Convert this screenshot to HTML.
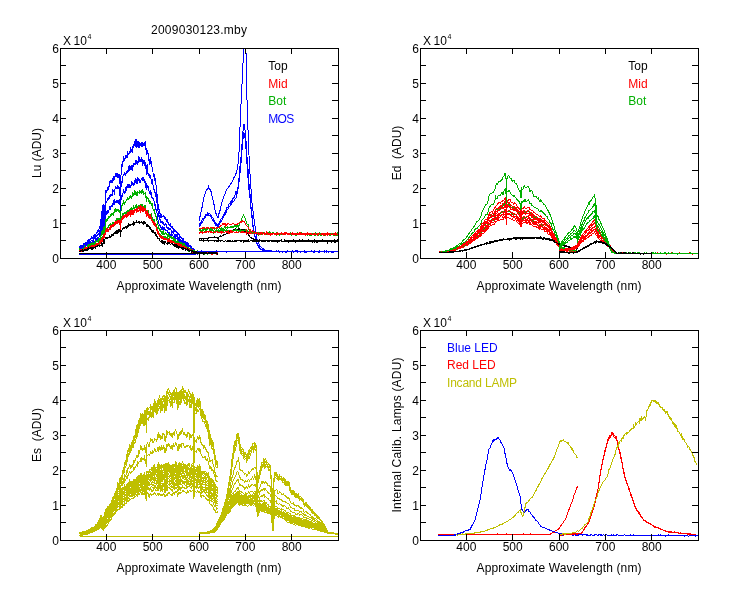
<!DOCTYPE html>
<html><head><meta charset="utf-8"><title>2009030123.mby</title>
<style>html,body{margin:0;padding:0;background:#fff;overflow:hidden}svg{display:block}</style></head>
<body><svg width="750" height="600" viewBox="0 0 750 600" font-family="'Liberation Sans', Arial, sans-serif" font-size="12">
<rect width="750" height="600" fill="#fff"/>
<defs><clipPath id="cTL"><rect x="60" y="48" width="279" height="211"/></clipPath><clipPath id="cTR"><rect x="420" y="48" width="279" height="211"/></clipPath><clipPath id="cBL"><rect x="60" y="330" width="279" height="211"/></clipPath><clipPath id="cBR"><rect x="420" y="330" width="279" height="211"/></clipPath></defs>
<g fill="none" stroke-linejoin="miter" shape-rendering="crispEdges">
<path clip-path="url(#cTL)" d="M79 247.8l .3-1 .4 .4 .3-1.1 .4-.1 .3 0 .4 1.2 .3-1.3 .4-.5 .3-.2 .4 .7 .3-.7 .4 .1 .3-.4 .4-1.3 .3 .9 .4-.7 .3-.8 .4 .6 .3-.5 .3-.4 .4-.2 .3 .6 .4-1 .3-1.1 .4 1.6 .1-1.6 .2 .3 .3 .3 .1-1.8 .3 .5 .4 1 .3-1.1 .4-.7 .3 .3 .4-.9 .3 .2 .4-.8 .3-.8 .4 1.2 .3-1 .2 .3 .1-.5 .4 .6 .3-.8 .4-.6 .3-1.2 .4-.5 .3 1.5 .4-.8 .2-1.3 .1 1.9 .4-1.7 .3-.8 .4-1.7 .3 0 .4 .3 .3-.5 .4-.6 .3-2.1 .4 1.2 .3-.9 .4-1.4 .3-.4 .3-.7 .4 .1 .3-1.8 .3-.1 .1-3.9 .3-6.6 .3-3.9 .1 3.1 .3 12.9 .4-12 .3-9.3 .4 9 .3 11.5 .4-13 .3-8.7 .4 6.4 .3 3.9 .2-6.2 .2-4.9 .3-13.7 .4 4.1 .3-1 .2-1.7 .1-.7 .4 .4 .3-.6 .4-2.1 .3-.4 .4 1.9 .3-2.5 .4-1.2 .3 .9 .4-3.2 .3 .9 .1-3.4 .3 .7 .3-.8 .4 .2 .3-1.1 .4 3 .3-1.8 .4-2.9 .3 4.1 .4-5.6 .3 4.3 .3-4.8 .4 2.6 .1-3 .2 1 .4 2.7 .3-5.4 .4-.6 .3 2.4 .4 .1 .3-.5 .4 1.1 .1-3.9 .2 3.2 .4-.7 .3 1.6 .4-.1 .3 1.4 .4-4.4 .3 2.8 .4-1.8 .1 1.8 .2 7.2 .3 8.5 .2 3.3 .2-9 .3-11.5 .2-4.2 .2 1 .3-2.8 .4-6.6 .3 3 .4-.9 .3-4.5 .4-4 .3 5.7 .4-3.1 .3 .5 .4 2 .3-5.8 .4 1.3 .3-.6 .4 1.3 .3-3 .1 2 .3-1.1 .2 1.9 .1 .1 .3-6 .4 3.7 .3-2.1 .4 .3 .3 .5 .4-.2 .3-2.9 .3 1.8 .1-.4 .3-.8 .4-3 .3 .7 .4 .3 .3 1.7 .4 1.5 .3-5.7 .2-.3 .2 2.3 .3-2.2 .4-1.3 .3-.7 .3-.9 .4 2.6 .3-5.4 .2 6.4 .2-5.5 0 .8 .3-1 .4-2.5 .3 .8 .4 6.3 .3 1.2 .4-6.2 .3 4.3 .4-2.5 .3-2.2 .4 6 .3 1 .4-5.9 .2 .5 .1 .7 .2-.8 .2 2.2 .3 1.7 .4-3.2 .3 2 .3 1.7 .4-5.2 .3 1.5 .4-1.1 .3 3.4 .4-.7 .3 .9 .3-.3 .1-2.4 .3 2.9 .4-2.2 .3 .5 .4-3.4 .3 8.6 .4-.3 .2 5.9 .1-1.2 .4-.6 0-2.5 .1-2.4 .2 2.8 .4 1.1 .3 2.3 .2-2.2 .1 2.9 .4 5.6 .3-2.5 .4 3.6 .3 3.5 .4-5 .3-3.1 .2 3 .2 3.1 .2 .1 .1-3.8 .4 3.8 .3 1.9 .4 1.9 0 .1 .3 .1 .4 2.4 .3 2.5 .1 3 .3-2.1 .3 3.4 .4-2.1 .3 5.5 .4-.8 .2 .6 .1 2.7 .3-4.1 .4 2.8 .3 5.6 .4 .4 .3 3 .4 8.2 .1-3.1 .2 2.9 .4 3.5 .3 5.2 .4 .6 .3 1.6 .4 .1 .3 2.7 .4 2.1 .1-1.1 .2 2.6 .4 .2 .3 2 .4-3.4 .3 1.1 .2 .3 .1 .3 .4 .6 .3-.1 .4 .5 .2-.1 .1-.2 .4-1.2 .3 1.3 .4 1 .3 .9 .4 .4 .3-2.1 .1 1.3 .3 .8 .3 .9 .4 1.3 .3-.5 .4-.4 .3 1.8 .4 .3 .3 .5 .4 .2 .2 2 .1-1.1 .3 1 .4-1.3 .1 1.7 .2-1 .4-.5 .3 2.1 .4 .7 .3-.3 .4 .6 .3 1.3 .4-1 .3-.9 .4 2.4 .3 .3 .4 1.2 .3-.8 .4 1.7 .3 .3 .4-1.6 .3 2.2 .2-1.3 .1-.3 .4 1.4 .3 .2 .4-.8 .3 2.1 .4 .7 .3 .9 .4-.7 .3-.7 .4 .7 .3 1.9 .4 .3 .3 .1 .4-.3 .3 .8 .4 0 .3 .3 .4 .8 .3 .2 .4 .2 .2 .5 .1-.3 .3-.6 .4 1.3 .3 .7 .4 1.5 .3-1 .4 1.9 .1-.2 .2-1.3 .4 .5 .3 .8 .4 1.3 .3-.5 .4 .5 .3-.4 .4-.7 .3 1.6 .4 .9 .3 .6 .4-.3 .3 .4 .2 .7 .1-.6 .4 1.1 .3-1 .4 .4 .3 .3 .4 1.2 .3-.2 .1 .5 .3 .3 .3 .3 .4 .8 .3 .4 .4-.8 .3 .8 .4 .1 .3-.1 .4 1.6 .3-.1 .4-.2 .3 .2 .4 .7 .3-.3 .3 .7 .4 .6 .3-.1 .4-.8 .3 .2 .4 1 .3-1.4 .4 .3 .3-.3 .4 .8 .3-.1 .4 .4 .3-1.6 .4 1.2 .3-.8 .4 1 .3-.3 .4 .8 .3-.6 .3-.6 .4 1 .3-1 .4 .3 .3 .6 .4-.2 .3 0 .4-.2 .3 .2 .4 .2 .3-.2 .4 .3 .3 .1 .4-.5 .3-.4 .4 1 .3-.6 .4 .3 .3 .1 .4-.8 .3 .6 .3-.9 .4 1 .3-.5 .4 .3 .3 .2 .4-.5 .3 .3 .4-.3 .3 .3 .4 .4 .3-.4 .4-.1 .3-.4 .4 .9 .3-.4 .4 .7 .3-1 .4 .8 .3 .3 .2-.8" stroke="#0000ff"/>
<path clip-path="url(#cTL)" d="M79 247.5l .3 .5 .4 .1 .3 .4 .4-1 .3-.3 .4-.1 .3-.2 .4 .4 .3-.7 .4-.2 .3-.9 .4-.5 .3 1 .4 .1 .3-.6 .4 .1 .3-.1 .4-.6 .3 .4 .3-1.2 .4 .2 .3-.4 .4 .1 .3 .1 .4-.1 .1-.5 .2 .1 .3-.7 .1 .1 .3 .6 .4-1.1 .3 .6 .4-.7 .3-.4 .4 .9 .3-1.7 .4-.2 .3-.1 .4 0 .3-.3 .2 .2 .1-.5 .4-.1 .3-.8 .4 .6 .3-1.2 .4-.3 .3-.1 .4 0 .2-.9 .1 1.4 .4-1.9 .3-.3 .4-.5 .3-.5 .4 .3 .3-.7 .4-1.1 .3-.3 .4-.2 .3 .7 .4-2.3 .3-1.1 .3-.5 .4-.1 .3 .9 .3-2.6 .1-.9 .3-3 .3-6.7 .1 4.8 .3 8.3 .4-8 .3-9.5 .4 8.4 .3 5.9 .4-9.8 .3-8.4 .4 6.3 .3 4.4 .2-4.4 .2-3.3 .3-9.4 .4-.5 .3-.2 .2-1.5 .1 2.2 .4-1.5 .3-1.6 .4-.4 .3-1.2 .4 .4 .3 .2 .4-1.7 .3 1.2 .4 .1 .3-4 .1 .7 .3-1.1 .3 2.2 .4-2.8 .3 .1 .4 .1 .3 1.8 .4-3.2 .3-2.2 .4 .5 .3 1.2 .3-1.2 .4-1.5 .1 5.4 .2-4.3 .4-1.4 .3-.5 .4-1.9 .3 .6 .4 1 .3-.3 .4-1 .1 2 .2-.7 .4-1.4 .3-1.5 .4 3.5 .3-.1 .4-.2 .3-1.7 .4 2.3 .1-2.3 .2 8.9 .3 6.5 .2 2.6 .2-8.2 .3-10.6 .2 .8 .2-1.9 .3-3.4 .4 .3 .3 .2 .4-5.9 .3-.3 .4-1.4 .3 1.4 .4-3.1 .3 2 .4-2.9 .3 3.4 .4-.4 .3-2.4 .4 1.4 .3-3 .1 .7 .3 2 .2-2.1 .1 .7 .3-2.7 .4 2.6 .3-.7 .4-3.5 .3-2.3 .4 .1 .3 3.5 .3-.6 .1-2.6 .3 2.9 .4 1.3 .3-2.5 .4-1 .3 2.2 .4 1.3 .3-.7 .2-4.5 .2 2.7 .3-1.8 .4-1.2 .3-1.4 .3 1.4 .4-2.2 .3 2.3 .2-1.3 .2 1.1 0-4.6 .3 2.3 .4 1.4 .3-.9 .4-.3 .3-2.1 .4 4.7 .3-1.2 .4-1.5 .3-6.2 .4 3.2 .3 2.1 .4-1.8 .2-2.9 .1 4.8 .2 .2 .2-3.2 .3 1.5 .4-.3 .3 2.5 .3-5 .4 .5 .3 2.4 .4-.2 .3 5.7 .4-5.5 .3 1.8 .3-1.3 .1-.4 .3 2.6 .4 3.2 .3-3.8 .4 2.8 .3-.4 .4 5 .2 2.8 .1 2.8 .4-10.3 0 1.7 .1-1.5 .2-.9 .4 5 .3 4.8 .2-1 .1 .8 .4-.6 .3-.4 .4 4.6 .3-3.6 .4 4.1 .3-2.5 .2 .9 .2 .9 .2 0 .1 1.3 .4 1.6 .3 3.2 .4-1.5 0-3 .3 1.1 .4 2.7 .3 2.5 .1 2.8 .3-2.8 .3 3.5 .4 1 .3 1.3 .4 .5 .2 1.4 .1-.1 .3 2.5 .4 .9 .3-1.9 .4 5.3 .3 2.1 .4 1.9 .1 .8 .2 4.3 .4 1.7 .3 1.7 .4 2.2 .3 1.6 .4-.2 .3 3.9 .4 .5 .1 1.1 .2-1.8 .4 3.8 .3-.9 .4 .2 .3-.9 .2 .3 .1-.7 .4 2.9 .3-2.3 .4 1.1 .2 .4 .1-1.1 .4 1.7 .3 1.4 .4-1.4 .3 1.3 .4-.5 .3-.7 .1 .1 .3-.9 .3 2.1 .4 1.7 .3-.4 .4 .6 .3 .7 .4-1.1 .3 1.4 .4 1.6 .2-2.1 .1 .8 .3-.1 .4 .6 .1-.4 .2 .8 .4-.7 .3 1 .4 .4 .3 .3 .4 1.9 .3-.8 .4 .4 .3 0 .4 1.6 .3-2.1 .4 1.6 .3 1.4 .4 .7 .3-.8 .4 .2 .3 .8 .2-.4 .1 .6 .4-.6 .3 1.3 .4-.2 .3-.4 .4-.9 .3 2.9 .4-.1 .3 .6 .4-.8 .3 1.7 .4-.2 .3 0 .4 .9 .3 .3 .4 0 .3 1.4 .4-.1 .3-.4 .4-.1 .2 .5 .1 1.1 .3-.5 .4-.5 .3 .4 .4 .7 .3 .8 .4-.6 .1 .9 .2 .5 .4 .1 .3-1.1 .4 1 .3-.3 .4 1.3 .3-.6 .4 1.2 .3 0 .4-1.2 .3 1.3 .4 1 .3 0 .2 0 .1-.4 .4 1.2 .3 1 .4-.5 .3 .1 .4 .2 .3-.3 .1 .6 .3-.1 .3 1.2 .4-.7 .3-.4 .4 1 .3 .5 .4 .3 .3-.5 .4 1.5 .3-.1 .4 0 .3 .1 .4 .8 .3 0 .3 .5 .4-.2 .3 .1 .4 .5 .3-.5 .4-.4 .3 .8 .4-.3 .3-.4 .4 .8 .3-.6 .4 .6 .3-1 .4-.5 .3 .1 .4 1 .3-.4 .4 .3 .3 0 .3-.6 .4 1.3 .3-1.1 .4 .5 .3-.6 .4 .5 .3 .4 .4-.4 .3-.2 .4 .3 .3-.2 .4 .5 .3 .7 .4-1.4 .3 .1 .4 .3 .3 0 .4-.4 .3 .7 .4 .1 .3-.2 .3-.6 .4 1.1 .3-1.1 .4 .8 .3 .2 .4-1 .3 .6 .4 .5 .3-.4 .4-.6 .3-.1 .4 .7 .3-.3 .4-.1 .3 .6 .4-.5 .3 .2 .4 .2 .3 0 .2-.2" stroke="#0000ff"/>
<path clip-path="url(#cTL)" d="M79 249.1l .3-.4 .4-.4 .3 .6 .4-.2 .3-.2 .4-.3 .3 .4 .4-1.1 .3 .6 .4-.6 .3 .6 .4-.8 .3-.2 .4 .3 .3-1.5 .4 .7 .3-1 .4 .3 .3 .7 .3-.3 .4-.6 .3 0 .4-.1 .3 0 .4 .7 .1-1 .2 1.1 .3-1.7 .1 .6 .3-.2 .4-.5 .3-.5 .4 .8 .3 0 .4-.6 .3 .5 .4-.9 .3-1.8 .4 1.5 .3-1.3 .2 1.2 .1-1.2 .4 .2 .3-.4 .4-.6 .3-1 .4 .8 .3-.2 .4 .5 .2-1.2 .1 .4 .4-1 .3 .2 .4-1.6 .3 2.3 .4-1.5 .3-1.2 .4 .5 .3 0 .4-.7 .3 .3 .4-1.6 .3-2.2 .3 .5 .4 1.2 .3-.8 .3-.7 .1-2.4 .3-2.3 .3-3 .1 .4 .3 5.8 .4-3.5 .3-3.9 .4 3.9 .3 2.8 .4-3.8 .3-8 .4 3.8 .3 1.5 .2-5.7 .2-1.3 .3-3.1 .4-2.7 .3-.7 .2 1.9 .1 .1 .4-1.4 .3 1.3 .4-4 .3 4.2 .4-2 .3-1.6 .4-.6 .3-1.1 .4-.7 .3 0 .1-1.9 .3 3.7 .3-3.4 .4 .3 .3-1.4 .4-.4 .3 1.2 .4-.7 .3-2.1 .4 .2 .3 1.1 .3-3.9 .4-.6 .1 4.9 .2-2.6 .4-3.2 .3 2 .4 .5 .3 .3 .4 .1 .3-.7 .4 .2 .1-1.8 .2 1.6 .4 .1 .3 1.1 .4-1.5 .3 1.2 .4-1 .3-1.6 .4 1 .1-.2 .2 4.5 .3 6.7 .2 2.3 .2-5.1 .3-9.4 .2-.1 .2-4.2 .3 .9 .4 .1 .3-1.4 .4-.7 .3-2.3 .4 .3 .3-3.1 .4 2.7 .3 2 .4-2.7 .3 1.7 .4-3.4 .3-2 .4 .3 .3 2.9 .1-1 .3-4.3 .2 2.2 .1 .4 .3-2 .4-2.5 .3 1.6 .4 1.6 .3-.6 .4-.8 .3 1.8 .3 .5 .1-1.9 .3 1.4 .4-1.8 .3-.5 .4-4 .3 5 .4-1.5 .3-.2 .2-1.2 .2-1.2 .3 2.2 .4 .2 .3 .9 .3-1.6 .4-2.9 .3 .4 .2 1.7 .2-1.4 0-.7 .3-.9 .4 1.8 .3-.7 .4 2.7 .3-1.3 .4-4.9 .3 6.5 .4-3.3 .3-1.1 .4 1 .3 .7 .4-1.5 .2-.1 .1 .1 .2 3.1 .2-3 .3 1.3 .4-.5 .3-1.4 .3-.7 .4-.4 .3 2.5 .4-2.5 .3-.4 .4 .1 .3-.4 .3 2.8 .1 .1 .3-1.3 .4 4.1 .3-2.3 .4 1.6 .3 .1 .4 6.3 .2 1.5 .1-2.2 .4-4.6 0-.3 .1 1.7 .2 .8 .4 2 .3-1 .2 1.7 .1-1.2 .4-1.2 .3 3.5 .4 2.9 .3-.4 .4 1.5 .3 .3 .2-3.7 .2 2.1 .2 3.1 .1-3 .4 .2 .3 3.5 .4 1.6 0-.4 .3 .1 .4 .7 .3 .4 .1 .4 .3 .6 .3 .5 .4 1.8 .3 3.8 .4-1.1 .2 0 .1 1.2 .3-.8 .4 3.1 .3 2.2 .4-1.3 .3 2.4 .4 2.8 .1-.1 .2 1.4 .4 3 .3 5 .4-.6 .3 .9 .4 1.6 .3 .1 .4 .1 .1 1.8 .2 .8 .4-2.5 .3 2.5 .4 1 .3-1 .2 .1 .1 1 .4-1.3 .3 1.2 .4 .4 .2-.9 .1-.4 .4 1.4 .3-.6 .4 .6 .3-2.3 .4 3.2 .3-1.5 .1 1.2 .3 .3 .3-.4 .4 .2 .3 0 .4 1.1 .3 1.1 .4 .3 .3-.6 .4 .3 .2-.5 .1 .9 .3-.2 .4-.1 .1 1.1 .2 1.5 .4 0 .3 .4 .4-2 .3 2.1 .4-1.3 .3 .7 .4-.5 .3 .8 .4 1 .3 .4 .4 0 .3 .2 .4 .8 .3-.1 .4-.9 .3 2.6 .2-1.2 .1 .9 .4-.5 .3-.2 .4 .9 .3-.4 .4 1.9 .3-1.6 .4 1.4 .3-.5 .4 .5 .3 2.1 .4-1 .3-.3 .4-.6 .3 1 .4 .3 .3 1.3 .4-1.5 .3 0 .4 1.4 .2 .3 .1 .9 .3-1.3 .4-.8 .3 1.5 .4-.1 .3 .7 .4 1.1 .1-1.3 .2 1.7 .4-.4 .3 0 .4-.1 .3 .5 .4 .2 .3 .9 .4 .5 .3-.5 .4 .7 .3 .5 .4 .2 .3-.1 .2 .8 .1-.2 .4 .4 .3-.7 .4 .1 .3-.6 .4 2 .3-.2 .1-.7 .3 .7 .3 .3 .4-.8 .3 1.2 .4 .6 .3 .3 .4-.6 .3 .2 .4 1 .3 0 .4-.4 .3 .2 .4 .7 .3-.3 .3 .2 .4 1 .3-.6 .4-.3 .3 .4 .4 .7 .3-.8 .4-.4 .3-.4 .4 1.7 .3-2.1 .4 1.6 .3-.9 .4-.1 .3 .1 .4 .4 .3 .6 .4-.8 .3 .6 .3 .8 .4-2.4 .3 1 .4-.5 .3 1.2 .4-1.1 .3 0 .4 0 .3 .7 .4 .5 .3-.4 .4 .9 .3-.2 .4-.8 .3 .5 .4-.4 .3 0 .4-.9 .3 .3 .4 .6 .3-.5 .3 .8 .4-.2 .3-.5 .4 1 .3-.5 .4 .5 .3-.6 .4-.7 .3 1.1 .4-.5 .3 .5 .4 .2 .3 0 .4-1.2 .3-.4 .4 .9 .3 .5 .4-.6 .3 .4 .2-.5" stroke="#0000ff"/>
<path clip-path="url(#cTL)" d="M79 250.5l .3-1.4 .4 1 .3-.9 .4 .2 .3 .4 .4-.5 .3 0 .4-.2 .3-.7 .4-.1 .3 .5 .4 .1 .3-.8 .4 0 .3-.7 .4-1 .3 .8 .4 .3 .3-.1 .3 .3 .4-.2 .3 0 .4-.5 .3-.2 .4-.8 .1 .6 .2-.2 .3 .5 .1-1.7 .3 .5 .4-.9 .3 .4 .4-.6 .3 .8 .4-.7 .3-1.3 .4 2.1 .3-1.5 .4-.5 .3 .6 .2-.3 .1-.4 .4 1 .3-.9 .4 .6 .3-.3 .4-.2 .3-.5 .4-.4 .2-.3 .1 1.1 .4-2.4 .3 .2 .4 0 .3 .4 .4-.4 .3-.7 .4-.2 .3 1.1 .4-1.9 .3-1.9 .4 2.9 .3-2.4 .3 .1 .4-.1 .3-1.6 .3 1.6 .1-1.9 .3-3.9 .3-1 .1 1.4 .3 3.2 .4-2.2 .3-4.2 .4 3.6 .3 .2 .4-1.5 .3-4.9 .4 2 .3 3.4 .2-5.6 .2-.3 .3-4.7 .4-2.3 .3 2.5 .2-.3 .1-2.8 .4 1.1 .3-1.9 .4 1 .3 .9 .4-1.2 .3-1.9 .4-.2 .3 .6 .4-.5 .3-.3 .1 .4 .3-3.3 .3 1.7 .4 .8 .3-1.1 .4-1.7 .3-.2 .4 .6 .3 .4 .4-1.2 .3 1.8 .3-.8 .4-2.8 .1 1.5 .2-1.2 .4-1.3 .3 .4 .4 .5 .3-2.9 .4 1.5 .3 1 .4-1.6 .1 .4 .2 1.5 .4-1.1 .3 .2 .4 2.3 .3-2.3 .4 .2 .3 .1 .4 1.5 .1-1.6 .2 3.2 .3 5.3 .2 3.1 .2-6.3 .3-4.4 .2-3.4 .2-2.5 .3 1.8 .4-1.1 .3-2.9 .4 1.2 .3-.9 .4-1.6 .3-1.4 .4 4.3 .3-2.2 .4 0 .3-.1 .4-.6 .3-.3 .4-1.8 .3 1.4 .1-1.5 .3-.6 .2 1.5 .1-1.4 .3-2.4 .4 1.7 .3 1.1 .4-1 .3 1 .4-2 .3-1.1 .3 2.3 .1-1 .3-2.2 .4 2.2 .3-1.3 .4 1.5 .3-.5 .4-.7 .3-4.2 .2 3.6 .2 .1 .3-.3 .4-.9 .3-1.6 .3 .4 .4-3.2 .3 2.4 .2-2 .2 1.6 0-.5 .3 3 .4-2.1 .3-.1 .4 .1 .3 2.9 .4-4.8 .3 1.9 .4 0 .3-.4 .4-.1 .3-1.1 .4 2.5 .2-.6 .1-1.9 .2 .2 .2 .8 .3 .4 .4 .4 .3-1.2 .3-1.9 .4 3.5 .3-3.9 .4 1 .3 2.1 .4-1.9 .3 3.5 .3 .4 .1-.6 .3-1 .4 .2 .3 .6 .4-.6 .3 3.7 .4-.3 .2 5.4 .1-1.8 .4-3 0 .9 .1 .1 .2 0 .4-.7 .3 0 .2 .5 .1 2.4 .4 .3 .3 .7 .4-1.3 .3 3.9 .4-3.9 .3 2.9 .2 .6 .2-1.1 .2-.6 .1 1.2 .4 0 .3 2 .4-.5 0 .1 .3 2.6 .4-1 .3 2.5 .1 .4 .3 1.7 .3-.1 .4-.6 .3 3.2 .4-1.6 .2 .8 .1 .3 .3 3.6 .4-1.1 .3 .4 .4 2.7 .3 .3 .4 4.3 .1-2.6 .2 2.5 .4 .2 .3 4.3 .4-1.4 .3 1.9 .4 0 .3 2.5 .4 .5 .1-2.1 .2 2.7 .4 .2 .3-.1 .4 .9 .3-1.5 .2-.3 .1 2 .4 .9 .3-2.3 .4 .2 .2 .2 .1-.2 .4 1.9 .3-.4 .4 1.1 .3 .2 .4-1.7 .3 1.5 .1-2.3 .3 1.9 .3 .8 .4-.8 .3-.5 .4 1.2 .3 1.6 .4-1 .3-.5 .4 1.7 .2 .3 .1-1.2 .3 .8 .4 1.1 .1-.4 .2 .4 .4-.6 .3 .4 .4-.5 .3 .5 .4 1.8 .3-1.2 .4-.1 .3 .5 .4-.1 .3 1.3 .4 .5 .3-1.1 .4 1.6 .3 .9 .4-1.9 .3 1.4 .2-.2 .1 .8 .4 .2 .3 .1 .4-.3 .3-.3 .4 2 .3-1.8 .4 1.5 .3 .1 .4-.9 .3 .7 .4 1.1 .3-1.9 .4 1.9 .3-.4 .4 .2 .3-.5 .4 1.3 .3-.6 .4 1.2 .2-.9 .1 1.2 .3-.1 .4-1.1 .3 1.2 .4 .3 .3-1 .4 1.3 .1 .7 .2-.7 .4 1.3 .3-1.1 .4 .2 .3 1.1 .4 .3 .3-.3 .4 .3 .3 .8 .4-.7 .3 1.6 .4-.6 .3 .2 .2 0 .1-.2 .4 1 .3-.8 .4 .6 .3 .4 .4 .6 .3 0 .1-.7 .3 .8 .3-.3 .4-.3 .3 .2 .4-.1 .3 1.1 .4 .5 .3-.8 .4 .5 .3-.2 .4 .7 .3-.3 .4 .3 .3 .3 .3 .2 .4 .1 .3 .1 .4 0 .3-.4 .4 .7 .3-1 .4 .8 .3-.4 .4 .4 .3 .1 .4-1 .3 1.1 .4 .4 .3-.3 .4-.1 .3-1.1 .4 .9 .3-.4 .3 .9 .4-.6 .3-.1 .4-.5 .3 1.1 .4-.6 .3 .2 .4 .6 .3-.5 .4 .1 .3 .9 .4-1.2 .3 0 .4 .4 .3 .4 .4-1.2 .3 .5 .4-.3 .3-.2 .4 .9 .3-.6 .3 .5 .4-.1 .3 0 .4 0 .3-.5 .4 .5 .3 .1 .4 .1 .3-.3 .4 .5 .3-.1 .4-.2 .3 .2 .4-.2 .3 .2 .4-1.1 .3 .3 .4 .4 .3 .2 .2-1" stroke="#00b000"/>
<path clip-path="url(#cTL)" d="M79 250.6l .3 .1 .4-.7 .3-.2 .4 1 .3-.2 .4-1.3 .3 0 .4 .9 .3 .2 .4-.4 .3-.2 .4 .5 .3-1 .4 .6 .3-.2 .4-1.2 .3 .7 .4-.4 .3-.5 .3-.3 .4 .5 .3-.3 .4 .3 .3-1.5 .4 .5 .1 .9 .2-.7 .3-.4 .1 0 .3-.8 .4 .1 .3 .9 .4-.4 .3 .6 .4-1 .3-.1 .4-1.5 .3 1.3 .4 1.1 .3-.9 .2-.6 .1 .8 .4-.4 .3-.4 .4-.6 .3 .2 .4 .3 .3-1.1 .4 .6 .2-.1 .1 .4 .4-.5 .3-1.1 .4 1.1 .3-1.1 .4-.7 .3 .5 .4-.6 .3 .6 .4-1.7 .3-.1 .4 .2 .3 1 .3-.7 .4-1.6 .3-.9 .3 .7 .1-1.2 .3-.3 .3-2 .1 .3 .3 .9 .4 1.1 .3-2 .4-1 .3 1 .4-.7 .3-2.1 .4 .6 .3 1.2 .2-4.8 .2-.2 .3-1.6 .4-2.5 .3 1.5 .2 .7 .1-.9 .4 .8 .3-.5 .4-1.3 .3 .6 .4-.4 .3-2.2 .4 .4 .3-.3 .4-.1 .3-.2 .1-1.1 .3 1.1 .3-2.2 .4 2.3 .3-1 .4 .8 .3-1.3 .4-1.1 .3-1.2 .4 1.7 .3-.9 .3 0 .4 .1 .1 .4 .2-1.4 .4 1.5 .3-2.1 .4-.2 .3 .4 .4 .1 .3 .1 .4-3.5 .1 3.3 .2-3.1 .4 .9 .3 .9 .4 .8 .3-2.4 .4-.8 .3 2.7 .4-.7 .1-1.4 .2 3.6 .3 2.9 .2 3.7 .2-4.3 .3-3.1 .2-5.2 .2 2.6 .3 1.1 .4-2.8 .3-.5 .4-2.9 .3 2 .4-.9 .3-.9 .4-1.4 .3 1.7 .4-1.5 .3 .4 .4 .7 .3-.6 .4-.2 .3 .9 .1-2.6 .3 3 .2-3.2 .1 .2 .3 1 .4 .6 .3-.8 .4-1 .3-.6 .4 .4 .3-1.1 .3 1.8 .1-1.1 .3 2 .4-3 .3 .5 .4 .5 .3-2.1 .4 .3 .3 4.2 .2-3.7 .2 1.8 .3-3.4 .4-2 .3 3.5 .3-1 .4 .1 .3-1 .2-.4 .2-1 0 2.9 .3-3.3 .4 3.1 .3-1.7 .4-1.2 .3 .5 .4 2 .3-.4 .4-.3 .3-.6 .4-1.7 .3 3.1 .4-2.4 .2-.2 .1 .1 .2 .1 .2-1.4 .3 1.4 .4-.5 .3 .4 .3-1.6 .4 4.8 .3-4.1 .4 2 .3 0 .4 .9 .3 1.2 .3-1.9 .1 .5 .3-1.3 .4 2.8 .3-3.4 .4 1.7 .3 .9 .4 3.8 .2 2.5 .1-.2 .4-3.1 0-.8 .1-.1 .2 1.9 .4-.8 .3 1.3 .2-.8 .1-1.9 .4 1.9 .3 1.6 .4 2 .3 .2 .4 .8 .3-2.2 .2 1.8 .2-.6 .2 1 .1-.5 .4-.8 .3 2.9 .4 .2 0 .6 .3-1.2 .4 2.7 .3 .7 .1 .5 .3 .4 .3-1.4 .4-1.6 .3 4.2 .4-1.5 .2 1.1 .1 1.5 .3-.1 .4 .8 .3 1.4 .4-1.6 .3 4.4 .4-.9 .1 .4 .2 1.6 .4 .5 .3 .6 .4 1.4 .3 .5 .4 .6 .3 2.8 .4-2.1 .1-.5 .2 1.2 .4 .2 .3 2 .4-.7 .3 .8 .2 0 .1-1.1 .4 1.4 .3-.4 .4 1.3 .2-1.2 .1-.1 .4 .7 .3 .2 .4-1.7 .3 2.3 .4 .1 .3-.1 .1-1.3 .3-.6 .3 1.5 .4 .9 .3-.1 .4-.8 .3 1.5 .4-1.5 .3 .2 .4 1.1 .2-.3 .1 0 .3-.4 .4 1.9 .1-1.4 .2 1.1 .4 .4 .3-.4 .4 .4 .3 .7 .4 .5 .3-.3 .4-1.4 .3-.1 .4 1 .3-.2 .4 1.3 .3-.2 .4 0 .3 1 .4 .1 .3-.5 .2 .3 .1 .6 .4-.8 .3 .6 .4-.6 .3 .8 .4 .3 .3 0 .4 .3 .3 .5 .4 0 .3-.5 .4 .2 .3-.2 .4 1.9 .3-.6 .4 .2 .3-.1 .4 .5 .3 .2 .4-.6 .2 .5 .1 .8 .3-1.2 .4 .3 .3 1.1 .4-.6 .3 1 .4-.8 .1 .7 .2 .5 .4-.1 .3 .4 .4-.4 .3 .2 .4 .2 .3 .5 .4 1.8 .3-1.8 .4 1.2 .3-.9 .4-.3 .3 .6 .2 .4 .1 0 .4 .1 .3 .3 .4 .2 .3 .3 .4-.9 .3 .7 .1-.4 .3 .7 .3 0 .4 .2 .3-.1 .4 0 .3 .4 .4 .5 .3 .2 .4-1 .3 1.1 .4 .1 .3-.6 .4 .3 .3 .4 .3 .5 .4-1.2 .3 .9 .4-.1 .3 .3 .4 .6 .3 0 .4-.8 .3 0 .4 .3 .3 .4 .4 .2 .3-.5 .4 .5 .3-1.1 .4-.1 .3-.7 .4 .9 .3 .6 .3 .1 .4 1.2 .3-1.3 .4-.1 .3-.5 .4 .1 .3 0 .4 .2 .3-.2 .4-.3 .3 1.1 .4-.3 .3 .4 .4-1.3 .3 .2 .4 .2 .3 .9 .4-.6 .3 .2 .4-.2 .3 .2 .3-.3 .4 .4 .3-.6 .4 .3 .3 .2 .4 0 .3 .1 .4-.5 .3 .5 .4-.3 .3 .3 .4 .5 .3-1 .4 .8 .3-.7 .4 .1 .3 .9 .4-.3 .3-.2 .2 .2" stroke="#00b000"/>
<path clip-path="url(#cTL)" d="M79 250.4l .3 .4 .4-.2 .3-.1 .4-.2 .3 0 .4 .4 .3 .5 .4-.8 .3 .6 .4-1.2 .3 0 .4 .7 .3-1.3 .4-.2 .3 .3 .4-1 .3-.2 .4 1.5 .3-1.3 .3 .2 .4-.1 .3-.4 .4 .7 .3-.2 .4 0 .1 0 .2-.5 .3 .7 .1-.3 .3-1 .4 .3 .3-.4 .4 1.1 .3-.7 .4-.3 .3-.4 .4 .2 .3-.9 .4 .4 .3-.2 .2-.1 .1-.4 .4 .5 .3-1 .4 .2 .3 .1 .4-.1 .3-.4 .4-.4 .2 0 .1 .2 .4-.5 .3 .3 .4-.9 .3 .6 .4 1 .3-2.3 .4 .6 .3 .6 .4-.8 .3 .2 .4-2.1 .3 .7 .3 1.1 .4-1.7 .3 .2 .3-1.7 .1 1.5 .3-.6 .3-3.1 .1 .6 .3 .8 .4 1.3 .3-1.6 .4-2 .3 1.4 .4-2.7 .3 .8 .4-2.5 .3 1 .2-1.7 .2-1.6 .3-1.4 .4 .8 .3-1.3 .2 .9 .1 1 .4-3.5 .3 1.8 .4 0 .3-1.1 .4 1.4 .3-.5 .4-1 .3-.3 .4-.8 .3-1.2 .1 1.3 .3-1.1 .3-.6 .4 1.2 .3-1.5 .4 .8 .3-2.2 .4 .3 .3 .1 .4 1 .3-1.7 .3 .5 .4-1.6 .1 .7 .2 .5 .4-2 .3-.1 .4 1.1 .3-2 .4 1.1 .3-.2 .4-.6 .1 .8 .2-.4 .4-.4 .3-1.8 .4 0 .3 1.7 .4-2 .3 1.6 .4-.5 .1-.6 .2 3.4 .3 2.3 .2 3.3 .2-1.8 .3-7.1 .2 .2 .2-.5 .3 2.4 .4-4.7 .3-.3 .4-.5 .3-.7 .4-1.3 .3 1.7 .4-1.3 .3 1.6 .4-.6 .3-1.8 .4 .6 .3 1.7 .4-2.1 .3 .4 .1 .6 .3-1.5 .2 .8 .1 1.3 .3-.7 .4-3.5 .3 3.5 .4-2.1 .3-.7 .4-.2 .3 1.9 .3-1.1 .1-.6 .3-1 .4 1.5 .3 .4 .4-2.7 .3-.4 .4 .7 .3 1 .2-1.3 .2 .2 .3-1.1 .4 2.3 .3-1.9 .3 .1 .4 .9 .3-1.8 .2 .1 .2 .5 0-1 .3 2.1 .4-1.8 .3-.6 .4 .1 .3-1.1 .4 2.7 .3 .3 .4-2.2 .3-.4 .4-2.1 .3 1.8 .4 1.7 .2-2.1 .1 2 .2 .8 .2-5 .3 2.8 .4-.5 .3 .2 .3-1.5 .4 1.9 .3-1.2 .4 2.8 .3 .5 .4-3.5 .3 0 .3 1.2 .1 .4 .3 .3 .4 1.3 .3-2.4 .4 1.3 .3 .4 .4 3.4 .2 1.6 .1 0 .4-2.6 0 2.1 .1-2.4 .2-1.5 .4 3.7 .3 .1 .2-.8 .1 .1 .4 .8 .3 3 .4-1.9 .3 2.3 .4 .1 .3-1.1 .2 1.1 .2-.9 .2-2.2 .1 2.8 .4 .6 .3 2.3 .4 .3 0 .5 .3 0 .4 1.2 .3 .2 .1-.3 .3 1.1 .3 1 .4 .4 .3-1.3 .4 .9 .2-.6 .1 .2 .3 2 .4-.1 .3 2.7 .4-2.5 .3 1.9 .4 2.2 .1 1.2 .2-.6 .4 2.9 .3 .1 .4-.5 .3 1.3 .4 1.1 .3-.3 .4 1.9 .1-.8 .2 .7 .4 .5 .3-.7 .4 1.3 .3-1.8 .2 1.9 .1-1.8 .4 2.3 .3-1.1 .4 1.4 .2 .1 .1-1 .4-.2 .3 1.5 .4-1.6 .3 1.6 .4-.5 .3-.1 .1-.1 .3 1.7 .3-2.2 .4 .9 .3 .9 .4 .5 .3 .6 .4-.1 .3-1.1 .4 .8 .2 .6 .1-.4 .3-1.2 .4 1.4 .1 .2 .2-1.2 .4 .7 .3 .5 .4 .5 .3 .8 .4-.1 .3-.3 .4 0 .3-.2 .4 0 .3 .4 .4 .1 .3 .9 .4 .9 .3-.9 .4 .4 .3 0 .2-.1 .1 .6 .4 .1 .3-.4 .4 0 .3 .6 .4-.5 .3 .6 .4 .6 .3-.5 .4-.9 .3 1.7 .4-.9 .3 0 .4 .1 .3 1.5 .4-1.4 .3 1.2 .4 .4 .3 .1 .4-.3 .2 .5 .1 .1 .3-.6 .4 1.3 .3 .3 .4-.8 .3 .2 .4-.1 .1 1.2 .2-1 .4 .5 .3-.5 .4 1.7 .3-.6 .4 .4 .3 .8 .4-.3 .3-.7 .4 .9 .3 .3 .4-.6 .3 .1 .2 .1 .1 .9 .4-.2 .3-.4 .4 .9 .3 .2 .4-.6 .3-.2 .1 1.3 .3 .8 .3-.4 .4-.1 .3-.3 .4-.2 .3 .5 .4 .4 .3-.3 .4 .7 .3-.3 .4 .4 .3-1.4 .4 1 .3 .9 .3 .2 .4-.2 .3 .5 .4-.4 .3 0 .4-.7 .3 .6 .4 .1 .3 .3 .4-.1 .3-.5 .4 .1 .3-.6 .4 .8 .3-.7 .4 .3 .3 .1 .4 .9 .3-.3 .3-.9 .4-.2 .3 .5 .4-.3 .3 .6 .4 0 .3 .1 .4-.7 .3 .3 .4 .2 .3 .1 .4-.4 .3 .1 .4 .5 .3-1.1 .4 .6 .3 .2 .4-.7 .3 .2 .4 .5 .3-.3 .3 .8 .4-.2 .3 .7 .4-1.5 .3 1.3 .4-1.1 .3 .7 .4 .1 .3-.4 .4-.2 .3-.1 .4-.5 .3 .6 .4-.2 .3 .6 .4-.5 .3 .2 .4 .3 .3-.2 .2 0" stroke="#ff0000"/>
<path clip-path="url(#cTL)" d="M79 250.6l .3 .5 .4-.1 .3 .2 .4-.9 .3-.3 .4-.7 .3 .3 .4 .4 .3 .2 .4-.4 .3 .1 .4-.9 .3 .2 .4 .7 .3-.1 .4-1.2 .3 .4 .4 .2 .3-.9 .3 .7 .4-.1 .3-.1 .4 .7 .3-1.6 .4 1 .1-.4 .2 0 .3-.8 .1 .3 .3-.1 .4 .8 .3-1 .4 .6 .3-1.1 .4-.1 .3 .1 .4-1.3 .3 .7 .4-.1 .3 .1 .2 .1 .1-.7 .4-.2 .3 1.3 .4-1.5 .3 .2 .4-.4 .3 .2 .4 .8 .2-.1 .1-1.8 .4 .7 .3 .8 .4-1.2 .3 .2 .4 .7 .3 .1 .4-.6 .3-1.3 .4 0 .3-.1 .4-.6 .3-.4 .3 1.4 .4-1.4 .3 0 .3 0 .1-.9 .3-1.5 .3-1.4 .1 1 .3-.1 .4-1.3 .3 2.4 .4-.9 .3-2.8 .4-.4 .3-.1 .4 .6 .3-2.1 .2-.7 .2-.2 .3-2.1 .4-.6 .3-.8 .2-.1 .1 .5 .4-1 .3 .4 .4-.9 .3 1.7 .4-.1 .3-2.3 .4 1.6 .3-1.2 .4-.5 .3 .1 .1-.1 .3-1.9 .3 3.1 .4-3.5 .3-1.5 .4 1.7 .3-.2 .4-1 .3-1.3 .4 2.5 .3-1.5 .3-.1 .4-.9 .1 .3 .2-.7 .4 .8 .3-.8 .4 .5 .3-.3 .4-.8 .3-.3 .4 .9 .1-2.8 .2 1.6 .4 1.2 .3-2.6 .4 1.8 .3-1.4 .4 .5 .3-.4 .4 0 .1 .7 .2 2.1 .3 2.3 .2 5 .2-5 .3-4.8 .2-.1 .2 .1 .3-4.1 .4 2.1 .3-3 .4 1.1 .3 0 .4-.9 .3-.4 .4-.8 .3 .6 .4 .1 .3-.2 .4-1.5 .3 .4 .4 1.8 .3-.6 .1-1.1 .3 .9 .2-.4 .1 .6 .3-1 .4-.9 .3-.9 .4 .9 .3-2.5 .4 2.2 .3-3.9 .3 2.4 .1 .5 .3 1 .4 2.4 .3-3.2 .4-.6 .3-2.2 .4 3.6 .3-4 .2 2.4 .2-1.2 .3 3.6 .4-3.4 .3 .4 .3-1.5 .4 .5 .3 1.2 .2-2.5 .2 .2 0 .1 .3-.6 .4-.2 .3 1.3 .4 1.5 .3-.1 .4-3.3 .3 .7 .4 .6 .3 .6 .4-.7 .3 0 .4 .3 .2 .4 .1-3.5 .2 2.4 .2 1 .3 .8 .4-.7 .3-1.7 .3 0 .4 1.1 .3-.3 .4 .5 .3 1 .4-3 .3 1.2 .3-2.6 .1 4 .3-.5 .4-.9 .3 1.6 .4 1.6 .3-.3 .4 1.9 .2 2.1 .1-.2 .4-3.5 0-.1 .1 .3 .2 .7 .4 .9 .3-.4 .2 0 .1 1.1 .4 0 .3 1.3 .4 1.7 .3 0 .4-1.5 .3 .8 .2-1 .2 1.9 .2-.6 .1-.3 .4 1 .3 2.2 .4 .1 0-.2 .3 1.6 .4-.9 .3 .1 .1 1.7 .3-2.1 .3 2.7 .4 .4 .3 .5 .4 1 .2-.8 .1 .6 .3-.9 .4 1.8 .3 .9 .4 1.5 .3 1.8 .4-.2 .1 1 .2-.8 .4 1.8 .3-.4 .4 1.5 .3 .6 .4 1.2 .3 .7 .4 .1 .1 0 .2 1.3 .4-.6 .3-1.3 .4 2.2 .3 .3 .2 .5 .1 .6 .4-1.8 .3 .9 .4-.1 .2-1 .1-.4 .4 2.5 .3-1.2 .4 .4 .3 .3 .4 .1 .3 .5 .1-1.1 .3 .8 .3 .3 .4-.4 .3 .3 .4 .5 .3 .2 .4-.8 .3 1 .4 .5 .2 .6 .1-.3 .3 .6 .4-.6 .1-.1 .2 1.6 .4-1.2 .3-.2 .4 .4 .3 .9 .4-1.3 .3 1.4 .4 .5 .3 .1 .4-.6 .3-.4 .4 0 .3 .7 .4 1.1 .3-.2 .4 .3 .3-.3 .2 1 .1-1.1 .4-.1 .3 .6 .4-.2 .3 1 .4 .5 .3-.4 .4-.9 .3 .3 .4 1 .3-.8 .4 1 .3-.9 .4 .8 .3 .7 .4-.6 .3 1.1 .4 .2 .3 .5 .4-.8 .2 .3 .1 0 .3 .4 .4-.9 .3 1.2 .4 .3 .3-.9 .4 .1 .1 .6 .2 1.2 .4-.4 .3-.5 .4 .5 .3-.7 .4 1.7 .3-.9 .4 .8 .3-.8 .4 .8 .3-.4 .4 1 .3 .5 .2 0 .1-.2 .4 .3 .3-.9 .4 0 .3 .7 .4 .8 .3-.3 .1 .3 .3-1 .3 .7 .4 .1 .3 .5 .4 .9 .3-.5 .4 .3 .3-.5 .4 .2 .3 .6 .4-.1 .3-.7 .4 1.2 .3 .1 .3-.1 .4 .2 .3-.1 .4-.5 .3-.5 .4 1.6 .3-.8 .4 0 .3 0 .4 .1 .3 .1 .4-.6 .3 .6 .4-.1 .3-.1 .4 0 .3 .1 .4-.5 .3 .5 .3-.1 .4 .1 .3 .4 .4-.1 .3 .2 .4-.6 .3 .4 .4 .2 .3-.6 .4-.1 .3 1 .4-1.5 .3 .7 .4 .1 .3-.5 .4 .4 .3 .3 .4-1.2 .3 1.4 .4-.4 .3-.4 .3 .9 .4-.5 .3-.2 .4-.8 .3 1.4 .4-.4 .3-.3 .4 .3 .3 .6 .4-.7 .3 .1 .4-.1 .3-.3 .4 0 .3 .3 .4 0 .3 .7 .4-.5 .3-.1 .2 .3" stroke="#ff0000"/>
<path clip-path="url(#cTL)" d="M79 251.8l .3-.6 .4 .5 .3-.3 .4 .1 .3-.4 .4-.8 .3 .6 .4 0 .3 .3 .4 0 .3-1.2 .4 1.2 .3-.2 .4-.5 .3 .1 .4-1.3 .3 2 .4-1.4 .3-.3 .3 .8 .4-.3 .3-.6 .4-.7 .3 1.2 .4 .2 .1-1.3 .2-.4 .3 .9 .1 .9 .3-1.9 .4 .7 .3-.7 .4 .5 .3 .1 .4-.1 .3-1.1 .4 0 .3 1.7 .4-.7 .3-1.5 .2 1.1 .1 .5 .4-.8 .3 0 .4-.1 .3 .1 .4-.2 .3 0 .4-.5 .2 .5 .1-.3 .4-.2 .3-.9 .4 .4 .3 .1 .4-.5 .3-.1 .4-.5 .3 .2 .4-.8 .3 .1 .4 .6 .3 .1 .3-.9 .4 0 .3 .1 .3 .6 .1 .1 .3-1.5 .3-1.2 .1-.5 .3-.1 .4 .9 .3 3.1 .4-3.8 .3-3.4 .4 2.6 .3 1.6 .4-.8 .3-2.4 .2-.5 .2-1.6 .3 .2 .4-.7 .3 .3 .2 .6 .1-.7 .4 .4 .3-.9 .4 0 .3 .8 .4-.9 .3-.2 .4 .1 .3-1 .4-.8 .3 1.4 .1-.1 .3 1.2 .3-1.8 .4-.1 .3 1 .4-2.1 .3-.6 .4 .7 .3-.5 .4 .1 .3-1.6 .3 1.5 .4-1.2 .1-1.9 .2 1.3 .4-.6 .3 .3 .4 .5 .3-1.1 .4-.7 .3 .9 .4-1.2 .1-.8 .2 0 .4 2.1 .3-.7 .4 .4 .3-2.4 .4 .2 .3-.2 .4 1.2 .1 .2 .2 1 .3 3.2 .2 1.7 .2-2.8 .3-3.6 .2-.7 .2 .9 .3 .7 .4-1.9 .3-.6 .4 .1 .3-.1 .4 0 .3-1.4 .4 .5 .3-.4 .4 .9 .3-.5 .4-.9 .3 .9 .4 .1 .3-1 .1-1.5 .3 .8 .2-1.2 .1 1.4 .3 0 .4 .8 .3-.9 .4-2 .3 .9 .4-.6 .3-.1 .3 .5 .1 .2 .3-.5 .4-.7 .3 .1 .4-.2 .3 .2 .4 .7 .3-.6 .2 .5 .2-1.9 .3 2.8 .4-1.9 .3-2.7 .3 2.5 .4 .6 .3-1.2 .2-1.4 .2 1.4 0-.8 .3 .5 .4 .4 .3-3.6 .4 3 .3 .5 .4-.1 .3-1 .4-.1 .3-.4 .4 .5 .3 1.5 .4-2 .2 .8 .1-.1 .2 1.2 .2-.9 .3 .2 .4-.7 .3 1.4 .3-1.5 .4-.1 .3 1.3 .4-.5 .3 .2 .4-1.8 .3 3.5 .3-2.2 .1 1.4 .3-1.1 .4-1 .3 1.6 .4-.5 .3 1.1 .4 .2 .2 3.1 .1-.7 .4 .3 0-.4 .1-2.6 .2 1.5 .4 .4 .3-.2 .2 1.8 .1-1.8 .4 1.1 .3 0 .4 1.4 .3-.7 .4 1.5 .3-1.1 .2 0 .2 .4 .2 .6 .1 .1 .4 3.2 .3-2.7 .4 1.3 0-.2 .3 .6 .4 1.3 .3-.3 .1-.9 .3-.4 .3 2.1 .4 .6 .3-1.6 .4 2.3 .2-2.1 .1 1.7 .3 1.3 .4-.9 .3 0 .4 2.9 .3-1.8 .4 1.9 .1-1.1 .2 1.7 .4 1.4 .3-1 .4 .3 .3-.3 .4 .8 .3 1.2 .4 .9 .1 .2 .2 0 .4 .6 .3-.2 .4 1.7 .3-1.6 .2 .3 .1-1.6 .4 1.3 .3 .9 .4-.6 .2 1.2 .1-.3 .4 .9 .3-2 .4 .7 .3 1.2 .4-.6 .3-.6 .1 .3 .3 .2 .3 .8 .4 0 .3-.4 .4-.4 .3 1.1 .4 .3 .3-1.3 .4 1.3 .2-1.2 .1 .6 .3-.3 .4-.5 .1 .7 .2 0 .4 1.1 .3 0 .4-.7 .3-.4 .4 .1 .3-.4 .4 1.3 .3 .2 .4-.4 .3 .7 .4 .1 .3 .7 .4-1.1 .3 1.3 .4-.8 .3 1.2 .2-1.4 .1 1.3 .4-1 .3 1.5 .4-.5 .3-.8 .4 1.3 .3-.4 .4 .4 .3 1.1 .4-1.3 .3 .1 .4 .9 .3-.8 .4 .9 .3 .2 .4-.4 .3 .5 .4-1.4 .3 2.1 .4-1.1 .2 0 .1 1.6 .3 0 .4-1.1 .3 .7 .4-.4 .3-.2 .4 .9 .1 .4 .2 .9 .4-1.4 .3 .7 .4-.5 .3 .2 .4 .9 .3-1.4 .4 .4 .3 .3 .4 1.1 .3-.3 .4 .2 .3 .1 .2 .4 .1-.7 .4 .2 .3 0 .4 .5 .3-.7 .4 .6 .3 1.5 .1-1 .3-.2 .3-.4 .4 .7 .3 .1 .4 .3 .3-.5 .4 .6 .3 .1 .4 .2 .3-.5 .4 .6 .3 .6 .4-.9 .3 .7 .3-.4 .4 0 .3-.4 .4 .1 .3 .7 .4-.1 .3 .5 .4-1.4 .3 .6 .4-.4 .3 .8 .4 .7 .3-1.6 .4 .7 .3 0 .4 0 .3-.2 .4 0 .3 1 .3-1.2 .4 .7 .3 0 .4-1 .3 .4 .4 .5 .3 .7 .4-.9 .3-.1 .4 .3 .3 .5 .4-.2 .3 .2 .4-.7 .3-.2 .4-.1 .3 .8 .4-.4 .3-.2 .4 .5 .3-.2 .3-.9 .4 .8 .3-.3 .4 .6 .3-.2 .4 .8 .3-.8 .4-.5 .3-.4 .4 .4 .3 .2 .4 .3 .3 .3 .4-.2 .3-.3 .4 .6 .3-.7 .4 .8 .3 .4 .2-.4" stroke="#000000"/>
<path d="M79 253.5H218" stroke="#000"/><path d="M79 254.5H196" stroke="#00f"/>
<path clip-path="url(#cTL)" d="M197.1 251.2l .5 .5 .5-.1 .4-.2 .5 0 .5 .1 .4 .4 .5-.4 .5 .2 .4-.7 .5 .6 .4-.1 .5 .3 .5-.2 .4 .2 .5-.5 .5 .3 .4-.2 .5 .3 .5-.1 .4-.3 .5 .4 .4 .2 .5-.4 .5 .3 .4-.2 .5-.3 .5 .4 .4-.3 .5 .3 .4-.5 .5 .1 .5 .3 .4 0 .5 .1 .5-.2 .4-.2 .5 .6 .5-.5 .4 .4 .5-.1 .4 .2 .5-.8 .5 .4 .4 0 .5 .2 .5-.4 .4 .7 .5-.5 .4-.4 .5 .5 .5 0 .4-.2 .5 .3 .5-.1 .4-.2 .5 .1 .5 0 .4 .1 .5-.1 .4 0 .5-.2 .5 .1 .4 .2 .5 .5 .5-.7 .4 0 .5 .4 .5 .2 .4-.2 .5-.4 .4 .4 .5-.1 .5-.2 .4-.2 .5 .3 .5 0 .4 .1 .5-.5 .5 .1 .4 .3 .5 .3 .4-.2 .5-.2 .5 .2 .4-.3 .5 .1 .5 0 .4-.1 .5 .1 .4 .3 .5-.2 .5-.5 .4 .7 .5-.1 .5-.3 .4 .2 .5 .2 .5 .1 .4-.4 .5-.1 .4-.1 .5 .3 .5-.2 .4 .4 .5-.2 .5 .1 .4-.1 .5-.2 .4 0 .5 .4 .5-.5 .4 .4 .5 .1 .5-.2 .4 .3 .5-.3 .5-.1 .4 .1 .5-.1 .4 .2 .5-.1 .5 .3 .4-.3 .5 .2 .5-.1 .4-.1 .5 0 .5 .3 .4 0 .5-.2 .4-.2 .5 0 .5-.1 .4-.1 .5 .2 .5 .1 .4 .2 .5 0 .5-.1 .4-.2 .5 .1 .4 0 .5 0 .5-.1 .4 .1 .5-.1 .5 0 .4 .2 .5 .1 .4-.3 .5 0 .5 .2 .4 0 .5-.6 .5 .7 .4-.1 .5-.1 .5 .3 .4-.3 .5-.4 .4 .2 .5 .1 .5 0 .4 .1 .5-.2 .5 .3 .4 0 .5-.1 .4-.2 .5 .2 .5-.1 .4 .5 .5-.6 .5-.3 .4 .2 .5 .4 .5 .1 .4-.2 .5 .2 .4-.3 .5 .2 .5-.3 .4-.1 .5 .8 .5-.5 .4 .2 .5 .1 .5-.1 .4-.1 .5-.3 .4 .6 .5-.6 .5-.2 .4 .3 .5 0 .5 .1 .4 .3 .5-.4 .5 .1 .4-.1 .5-.4 .4 .4 .5 .1 .5-.3 .4 .6 .5 0 .5-.2 .4 .1 .5-.3 .4 .2 .5-.4 .5 0 .4 .2 .5 .2 .5-.2 .4 0 .5 .4 .5-.3 .4-.1 .5 .1 .4-.3 .5 .1 .5 .4 .4-.2 .5 .2 .5-.3 .4 .3 .5-.3 .4 .1 .5-.1 .5 .2 .4 .3 .5-.7 .5 .4 .4-.3 .5 .2 .5-.1 .4-.2 .5 .3 .4-.2 .5 .6 .5-.5 .4 .2 .5 0 .5 0 .4-.1 .5-.3 .5 .8 .4-.4 .5 .1 .4-.4 .5 .4 .5-.2 .4 .2 .5-.3 .5 0 .4 .3 .5-.1 .5 .3 .4-.4 .5-.1 .4 .3 .5-.4 .5 .7 .4 0 .5-.1 .5-.2 .4-.1 .5 0 .4 0 .5-.2 .5 .3 .4 .1 .5 0 .5-.7 .4 1 .5-.5 .5-.3 .4 .2 .5 .3 .4-.2 .5-.2 .5-.1 .4 .5 .5-.4 .5 .1 .4-.1 .5-.1 .4 .4 .5 .2 .5-.4 .4-.3 .5 .2 .5 .1 .4-.4 .5 .7 .5-.4 .4 .3 .5-.1 .4 0 .5-.3 .5 .5 .4-.1 .5 .2" stroke="#0000ff"/>
<path clip-path="url(#cTL)" d="M199 226.9l .5-.8 .4 .2 .5-2 .5-.7 .4-.3 .5-1.3 .4 .3 .5-.9 .5-.6 .4-.8 .5-1.6 .5 .3 .4-.8 .5-.8 .5-1.2 .4 0 .5-.8 .4 .5 .5 .1 .5-.6 .4-.5 .5 .9 .5 0 .4-.3 .5 1.6 .4 .2 .5 .2 .5 1.7 .4 .8 .5 .9 .5 .1 .4 .7 .5 1 .5 .7 .4 .3 .5 .9 .4 1.7 .5-.3 .5 .2 .4 .1 .5 .6 .5-.6 .4-.9 .5-.2 .4-1.5 .5-.5 .5-1.3 .4-.1 .5-1 .5-.6 .4-.8 .5-1.7 .5-.3 .4-1.3 .5-.1 .4-1.5 .5 0 .5-1.5 .4-.8 .5-1.4 .5-.5 .4-.5 .5-1.3 .5-.3 .4-.9 .5-.8 .4-.3 .5-.6 .5-1 .4-.3 .5-1 .5-1 .4-.5 .5 .1 .5-.1 .4-1.3 .5-.5 .4-1.3 .5 .2 .5-.7 .4-2.5 .5-1.2 .5-2.2 .4-3.1 .5-1.8 .4-3.7 .5-4 .5-3.3 .4-5.3 .5-3.8 .5-6.3 .4-5.5 .5-6.5 .5-6 .4-3.9 .5-4.6 .4-2.5 .5 4.3 .5 1.6 .4 2.9 .5 6.2 .5 5.9 .4 7.1 .5 6.9 .4 5.5 .5 6.8 .5 6.6 .4 4.8 .5 4.5 .5 3.6 .4 6.4 .5 3.6 .5 3.8 .4 4.6 .5 3.8 .4 4.1 .5 3.6 .5 2.2 .4 2.7 .5 2.1 .5 2.4 .4 2.7 .5 1 .5 1.1 .4 .9 .5 1.4 .4 .6 .5 1 .5 .8 .4-.4 .5 1.3 .5 .4 .4 .1 .5 1.1 .5 .1 .4 .3 .5 0 .4-.1 .5 0 .5-.1 .4 .2 .5 0 .5 .3 .4 .4 .5-.3 .4 .5 .5 .2 .5-.5 .4 .3 .5 .3 .5-.1 .4-.1 .5 .6 .5-.3 .4 .3 .5-.4 .4 .2 .5-.5 .5 .3 .4 .3 .5-.2 .5 .3 .4-.3 .5-.1 .4 0 .5 .6 .5-.4 .4-.2 .5 0 .5-.2 .4 .6 .5-.4 .5 .3 .4-.2 .5-.1 .4 0 .5 .3 .5-.2 .4 .3 .5 .1 .5-.5 .4 .2 .5 .3 .5-.1 .4-.3 .5-.3 .4 .1 .5 .1 .5 .6 .4-.4 .5-.2 .5 .1 .4 0 .5 .1 .5-.5 .4 .1 .5 .4 .4 .2 .5-.7 .5 .6 .4-.4 .5-.2 .5 .7 .4-.3 .5 .2 .4-.2 .5 0 .5-.4 .4 .4 .5 .1 .5-.3 .4 .4 .5 0 .5-.6 .4 .7 .5-.1 .4-.1 .5 .3 .5 .3 .4-.8 .5 .4 .5 0 .4-.1 .5 .2 .4 0 .5-.3 .5-.6 .4 .5 .5 0 .5 .5 .4-.3 .5 .3 .5-.5 .4 .2 .5 0 .4 0 .5 .1 .5 .2 .4-.5 .5 .5 .5 0 .4-.2 .5 .1 .5-.3 .4-.2 .5 .2 .4 0 .5 .1 .5-.2 .4 .7 .5-.6 .5 .3 .4 .1 .5-.3 .5 .1 .4-.2 .5-.2 .4 .9 .5-.6 .5-.5 .4 .3 .5-.1 .5 .3 .4 .4 .5-.1 .4-.4 .5-.1 .5 .4 .4-.1 .5-.1 .5 .5 .4-.4 .5-.4 .5-.2 .4 .6 .5-.5 .4 .6 .5 .1 .5 .3 .4-.8 .5 .4 .5-.7 .4 .5 .5 0 .4 .5 .5-.8 .5 .5 .4-.1 .5 .5 .5-.7 .4-.1 .5 .4 .5-.1 .4-.1 .5-.1 .4 .2 .5-.4 .5 .5 .4 .1 .5-.1" stroke="#0000ff"/>
<path clip-path="url(#cTL)" d="M199 225.9l .5-1.1 .4-1.1 .5-.2 .5-1.6 .4-.9 .5-.3 .4-1.7 .5 .1 .5-.8 .4-.1 .5-.4 .5-1.1 .4-.9 .5-.6 .5-1.3 .4 1.3 .5-.9 .4 .1 .5-1.7 .5 .7 .4-.3 .5 .8 .5-.5 .4 1.1 .5 .2 .4 1.6 .5-.7 .5 1.2 .4 .7 .5 .5 .5 1.5 .4 .8 .5 .4 .5 .9 .4 1 .5 .7 .4 1 .5-.3 .5 .2 .4 .7 .5-.5 .5 .5 .4-1.4 .5-1.7 .4 .1 .5-.4 .5-2.1 .4-.5 .5-.1 .5-1.7 .4-.1 .5-.8 .5-1.4 .4-.8 .5-.6 .4-1.3 .5-.6 .5-1.4 .4-.9 .5-1.3 .5 0 .4-.3 .5-.7 .5-1.2 .4-1.7 .5-.3 .4 .1 .5-1.6 .5 .5 .4-1.9 .5 0 .5-1.3 .4-.6 .5-.2 .5-1.1 .4 .1 .5-1.2 .4-1.4 .5-2.5 .5 1.3 .4-1.6 .5-1.3 .5-3.2 .4-.2 .5-2.5 .4-5.7 .5-3.8 .5-6.9 .4-4.6 .5-3.6 .5-6.1 .4-5.5 .5-6 .5-7.8 .4-4 .5-3.6 .4-3.8 .5 3.5 .5 1.8 .4 4.5 .5 5.5 .5 5.7 .4 7.2 .5 7.6 .4 6 .5 4.9 .5 5.9 .4 7.8 .5 4.9 .5 5.2 .4 5 .5 6.8 .5 3.4 .4 4.7 .5 2.9 .4 5.1 .5 4.5 .5 2.5 .4 1.9 .5 2.6 .5 3.1 .4 2 .5 1.7 .5 .9 .4 1.4 .5 1.1 .4 1 .5 1.2 .5 .1 .4 .4 .5 .8 .5 .8 .4-.1 .5 1.3 .5 .5 .4-.6 .5 .2 .4 0 .5 .5 .5 .4 .4-.1 .5-.1 .5 .5 .4 .1 .5 .3 .4 .1 .5-.4 .5 .3 .4 .5 .5 .1 .5-.1 .4-.3 .5 .5 .5-.3 .4 .5 .5-.2 .4-.4 .5-.1 .5 .5 .4-.1 .5-.4 .5 .3 .4 0 .5-.2 .4 0 .5-.2 .5 .1 .4 .3 .5-.1 .5 0 .4 .3 .5 0 .5-.5 .4 .6 .5-.6 .4 .1 .5 .2 .5-.2 .4 0 .5-.2 .5 .4 .4 0 .5 0 .5-.5 .4 .2 .5 .5 .4-.2 .5 .1 .5-.2 .4 0 .5-.5 .5 1 .4-.7 .5 .2 .5 .2 .4-.1 .5 .1 .4-.1 .5-.3 .5 .7 .4-.7 .5 .4 .5-.5 .4 .3 .5-.2 .4 .1 .5-.1 .5 .3 .4 .2 .5-.4 .5 0 .4-.3 .5 1 .5-.4 .4-.4 .5 .6 .4-.2 .5-.6 .5 .2 .4 .5 .5-.5 .5 0 .4 .1 .5 .1 .4 .1 .5 .3 .5-.1 .4-.3 .5 .1 .5-.4 .4 .5 .5 .5 .5-.5 .4-.1 .5 0 .4 0 .5 .3 .5-.6 .4 .5 .5-.3 .5 .2 .4 .3 .5-.7 .5 1 .4-.4 .5-.3 .4 .2 .5-.3 .5 .2 .4 .1 .5-.6 .5 .5 .4 0 .5 .3 .5-.1 .4-.4 .5 .1 .4 .1 .5 .2 .5-.4 .4 .6 .5-.3 .5 0 .4 .1 .5-.2 .4 .2 .5 0 .5-.6 .4 .2 .5-.1 .5 .3 .4-.2 .5 0 .5-.1 .4-.2 .5 .6 .4-.1 .5 .1 .5 .8 .4-.5 .5-.3 .5-.2 .4 .3 .5-.4 .4-.1 .5 .5 .5-.5 .4-.1 .5 .4 .5 .3 .4-.6 .5 .4 .5 .1 .4-.1 .5 .1 .4-.4 .5 .1 .5-.1 .4 .2 .5 .3" stroke="#0000ff"/>
<path clip-path="url(#cTL)" d="M199 221.2l .5-2.2 .4-2.1 .5-1.8 .5-2 .4-2.4 .5-1.9 .4-2.3 .5-3.8 .5-1.6 .4-2.6 .5-1.5 .5-1.6 .4-1.5 .5-1.6 .5-1 .4-1.7 .5 .5 .4-1.7 .5 1.3 .5-1.1 .4-1.9 .5 1.5 .5 1.2 .4 .2 .5 1.7 .4 .2 .5 3.4 .5 .9 .4 2.2 .5 1.4 .5 1.8 .4 3 .5 .8 .5 3.3 .4 2.8 .5 2.2 .4 .2 .5 1.6 .5 1 .4 .9 .5 .9 .5-2.8 .4-1 .5-2.6 .4-.7 .5-.6 .5-3.4 .4-1.1 .5-1.8 .5-2.8 .4-.5 .5-2.4 .5-.9 .4-1.2 .5-1.7 .4-.3 .5-2.1 .5-.8 .4-.5 .5-1.3 .5-.7 .4-.2 .5-1.4 .5 0 .4-1.2 .5 .2 .4-1.4 .5-1 .5 .1 .4-1 .5-.7 .5-1.6 .4 .1 .5-1.7 .5-1.6 .4-.1 .5 .5 .4-2 .5-2.1 .5-.4 .4-2.5 .5-1 .5-1.3 .4-3.5 .5-3.9 .4-4.3 .5-11.9 .5-12.1 .4-11.6 .5-9.8 .5-10.9 .4-10.9 .5-6.8 .5-10.4 .4-9.2 .5-16.6 .4-15.6 .5-8.8 .5-7.7 .4 11.5 .5 14.7 .5 27.1 .4 22.3 .5 15.3 .4 10.9 .5 16.2 .5 13.9 .4 9 .5 9.5 .5 9.2 .4 5.9 .5 7.9 .5 6.7 .4 6.9 .5 4.7 .4 2.2 .5 4.1 .5 3.4 .4 4.4 .5 2.6 .5 3.5 .4 3.7 .5 2.3 .5 3.9 .2 1.9 .2 .5 .5 1 .4 1.1 .5 1.4 .5 1 .4 1.2 .5 1.4 .5 .4 .4 .7 .5 .4 .5 .3 .4 .4 .5 .8 .4 .1 .5-.1 .5 .7 .4 .2 .5 .1 .5 .9 .4-.4 .5 .4 .4-.1 .5 .5 .5 0 .4 0 .5-.2 .5 .1 .4 0 .5-.3 .5 .1 .4 .6 .5 0 .4-.5 .5 .5 .5-.3 .4-.1 .5 .6 .5-.1 .4-.1 .5 .3 .4 0 .5-.1 .5-.4 .4 .4 .5-.1 .5 .1 .4 .2 .5-.7 .5 1 .4-.5 .5-.3 .4 .5 .5-.5 .5-.1 .4 .5 .5-.3 .5 .4 .4-.4 .5 .1 .5 0 .4-.3 .5 .2 .4-.2 .5 .2 .5 .4 .4-.3 .5-.1 .5 .5 .4-.7 .5 .3 .5-.1 .4 .4 .5-.3 .4 0 .5 .1 .5-.1 .4 .6 .5-.9 .5 .6 .4 .3 .5-.3 .4 0 .5-.4 .5 .4 .4-.3 .5 .3 .5-.8 .4 .4 .5-.3 .5 .7 .4-.4 .5 .4 .4-.4 .5 0 .5 .6 .4-.1 .5 0 .5 .1 .4-.2 .5 0 .4 .2 .5-.4 .5-.1 .4 .4 .5-.1 .5-.2 .4 .1 .5 .1 .5-.4 .4 0 .5 .1 .4 .2 .5-.6 .5 .1 .4 .5 .5 0 .5-.3 .4 .5 .5-.3 .5 0 .4 .2 .5-.1 .4 .4 .5-.3 .5 .4 .4-1.1 .5 .2 .5 .1 .4 .2 .5-.2 .5 0 .4 0 .5 .1 .4 .4 .5-.3 .5 .2 .4 .2 .5 0 .5-.4 .4-.2 .5 .7 .4-.8 .5 .1 .5 .4 .4 0 .5-.1 .5-.2 .4 .3 .5 .2 .5-.4 .4 .6 .5-.5 .4-.2 .5 .2 .5-.1 .4 0 .5 0 .5 .1 .4 .3 .5-.2 .4 0 .5-.3 .5-.1 .4 .3 .5 .3 .5 0 .4-.2 .5-.4 .5 .3 .4 .1 .5 .2 .4-.4 .5 .1 .5 .1 .4 0 .5-.4" stroke="#0000ff"/>
<path clip-path="url(#cTL)" d="M199 241l .5-.5 .4 .1 .5 .4 .5-.2 .4 0 .5-.8 .4 1.1 .5-.4 .5-.2 .4 .8 .5-.5 .5 0 .4 .2 .5-.4 .5-.2 .4 0 .5 .5 .4-.1 .5-.9 .5 1.4 .4-.5 .5-.3 .5 .3 .4-.2 .5 .2 .4-.3 .5-.2 .5 .6 .4-.1 .5 .1 .5 .1 .4-.1 .5 .4 .5-.8 .4-.4 .5 0 .4 .2 .5 1 .5-1.1 .4 1 .5-.3 .5-.8 .4 1.2 .5-.8 .4 .2 .5 .2 .5 .3 .4-.5 .5 .3 .5-.6 .4-.1 .5 1.1 .5-.3 .4-.1 .5 .3 .4 0 .5-.5 .5 .1 .4 .6 .5-.4 .5-.5 .4 .8 .5-.2 .5-1 .4 .1 .5 1.2 .4-.1 .5-.7 .5 .7 .4-.4 .5 0 .5-.4 .4 1.3 .5-.1 .5-.4 .4-1 .5 .5 .4 .7 .5-1 .5 0 .4 .4 .5 0 .5-.3 .4-.4 .5 .5 .4-.2 .5 .3 .5 .1 .4 .2 .5-.5 .5 .3 .4 0 .5-.5 .5 .1 .4-.1 .5 1 .4-.9 .5 .5 .5 .1 .4 0 .5-.9 .5 .2 .4 .7 .5 .1 .4-.5 .5 .2 .5-.8 .4 1.3 .5 .1 .5-.6 .4-.2 .5 0 .5-.3 .4-.5 .5 1 .4 .1 .5 .5 .5-.9 .4-.2 .5 .5 .5-.6 .4 .4 .5-.6 .5 .5 .4 .6 .5-.2 .4 .4 .5 .1 .5-.9 .4-.2 .5-.5 .5 .9 .4 0 .5 .4 .5-.9 .4 .3 .5 .4 .4-.5 .5 0 .5 1 .4-1.1 .5 .3 .5 .2 .4 0 .5-.9 .4 .1 .5-.1 .5 1.2 .4-.2 .5-.6 .5 .9 .4-.2 .5 .4 .5-1.5 .4 .3 .5 .3 .4 .1 .5 .2 .5 0 .4-.4 .5 .5 .5-.8 .4 .8 .5 .1 .4-.9 .5 .6 .5-.3 .4 .4 .5 .8 .5-1.2 .4 .8 .5-1 .5 1.1 .4 .1 .5-.9 .4 0 .5 .1 .5 .6 .4-.9 .5 1 .5-.5 .4 .2 .5-.2 .5-.5 .4 .6 .5-.5 .4 0 .5 1 .5-.3 .4-.3 .5 .1 .5-.4 .4 1 .5-1.2 .5 0 .4 .4 .5 .5 .4-.6 .5 .3 .5-.5 .4 .3 .5-.4 .5 .5 .4-.8 .5 1.6 .4-.5 .5-.7 .5 .9 .4-1 .5 .9 .5-.6 .4 .4 .5-.2 .5-.2 .4 .1 .5 .1 .4-1.1 .5 .9 .5 .5 .4-.8 .5 0 .5-.2 .4-.2 .5 1.1 .4-.8 .5 0 .5 .4 .4-.1 .5 1.4 .5-1 .4-1 .5 1.5 .5-.5 .4-.4 .5-.1 .4-.4 .5 1.4 .5-.8 .4-.3 .5 .9 .5-.5 .4-.8 .5 .2 .5 .3 .4 1.3 .5-1 .4-.2 .5 .3 .5-.1 .4-1.3 .5 1.3 .5 .4 .4-.6 .5 .3 .5 0 .4-.1 .5-.4 .4 .3 .5 .6 .5-.5 .4-.2 .5 .3 .5-.6 .4 .1 .5 .8 .4-.6 .5-.7 .5 .2 .4 .7 .5-.4 .5 .6 .4 .4 .5-.9 .5 .1 .4-.1 .5 .3 .4-.2 .5 .4 .5-.4 .4-.2 .5 .4 .5-.4 .4 1.1 .5-.4 .4-1 .5-.1 .5 .6 .4 .2 .5 .5 .5-.7 .4-.2 .5 1 .5-.9 .4 0 .5 .1 .4 .6 .5-.7 .5 .9 .4-1.3 .5 .6" stroke="#000000"/>
<path clip-path="url(#cTL)" d="M199 239l .5 .3 .4-.5 .5-.4 .5 .4 .4-.3 .5 .9 .4-.8 .5-.1 .5 .4 .4 .2 .5-1 .5 .5 .4-.6 .5 .4 .5-.5 .4 .4 .5 .4 .4-.6 .5 0 .5-.4 .4 .4 .5-.1 .5-.5 .4-.2 .5 .1 .4-.1 .5 .2 .5-.2 .4-.1 .5 .2 .5 .1 .4-.1 .5-1 .5 1 .4 .1 .5 0 .4-.2 .5-.2 .5 .6 .4 .3 .5-1 .5 .8 .4-.9 .5 0 .4-.6 .5-.5 .5 .4 .4 .1 .5 .1 .5-.4 .4-.6 .5 .7 .5-1.2 .4-.2 .5-.5 .4 .2 .5-.4 .5 .1 .4-.3 .5 .3 .5-1 .4-.8 .5 .3 .5-.3 .4 .3 .5-1.2 .4 .7 .5-.9 .5 0 .4 .3 .5-1.1 .5 .2 .4-.3 .5-.4 .5 0 .4-.1 .5-.6 .4 .2 .5-.5 .5 .4 .4 .3 .5-.3 .5-.1 .4-.2 .5-.4 .4 1.2 .5-.7 .5 1 .4-.5 .5-.2 .5 .7 .4-.1 .5-.8 .5 0 .4 .1 .5 .3 .4-.7 .5 1.5 .5 .8 .4-.5 .5 .9 .5 .9 .4-.1 .5 1 .4 .3 .5 .6 .5 1.1 .4-.3 .5 .8 .5 1 .4 .4 .5-.2 .5 1.1 .4 .1 .5-.1 .4 .5 .5 .9 .5-.7 .4 .2 .5 .2 .5-.1 .4 .8 .5 .1 .5-.2 .4 1.1 .5-.9 .4 0 .5 .4 .5-.4 .4 .4 .5 .7 .5-.8 .4 .3 .5 0 .5 .1 .4-.5 .5 .4 .4 .5 .5-.5 .5-.1 .4 .6 .5-.1 .5 0 .4 .1 .5-.4 .4-.3 .5-.4 .5 .3 .4 .1 .5 0 .5-.1 .4 .7 .5-.4 .5 .1 .4 .2 .5 .2 .4 0 .5-.1 .5 .4 .4-.7 .5 .2 .5 0 .4-.1 .5-.2 .4 .6 .5-.2 .5 .6 .4 .3 .5-.2 .5-1.4 .4 1.4 .5-1 .5-.4 .4 .8 .5-.8 .4-.1 .5 .4 .5-.6 .4 .7 .5 .6 .5-.5 .4 .4 .5 .3 .5 0 .4-1.5 .5 1.2 .4-.2 .5 .3 .5-.4 .4 .2 .5 .1 .5 .3 .4 .1 .5-.3 .5-.4 .4-.7 .5 .4 .4-.3 .5 .5 .5 .3 .4 .5 .5-.5 .5 .9 .4-.8 .5-.8 .4 .5 .5-.3 .5 .6 .4 .5 .5-.4 .5 0 .4-.7 .5-.3 .5 1.1 .4-.1 .5-.1 .4 .1 .5 .3 .5-.5 .4-.1 .5 0 .5 .6 .4-.4 .5 .7 .4-1.1 .5 .8 .5-.3 .4 0 .5 .1 .5 .2 .4 .3 .5-1.5 .5 .7 .4 0 .5-.8 .4 .9 .5-.2 .5 .2 .4-.5 .5 .3 .5 .1 .4 .2 .5-.2 .5-.4 .4 1.4 .5-.8 .4 .1 .5 0 .5 .7 .4-1.2 .5 .7 .5-.3 .4 .2 .5 .5 .5-.6 .4 .6 .5-.3 .4-.3 .5-.1 .5 0 .4 0 .5-.9 .5 .7 .4 .7 .5-.2 .4 0 .5-.2 .5 .2 .4 .1 .5-1.1 .5 .7 .4 .2 .5-.1 .5 0 .4-.6 .5 .3 .4-.2 .5 1.8 .5-1.5 .4-.3 .5-.4 .5 .9 .4 .7 .5-1 .4 .5 .5 .5 .5-.5 .4-.7 .5 0 .5 .2 .4 .7 .5-1.5 .5 1.6 .4-.5 .5 .6 .4-1.1 .5 .3 .5-.1 .4 .3 .5 .1" stroke="#000000"/>
<path clip-path="url(#cTL)" d="M199 231l .5-.9 .4 .7 .5 .3 .5-.7 .4 .7 .5-.1 .4-.1 .5 .9 .5-1.3 .4 .3 .5 .3 .5 .5 .4-.7 .5-.7 .5 1.1 .4 .2 .5-.8 .4 1.1 .5 .3 .5-.9 .4 .1 .5-.2 .5 .1 .4-.4 .5 .2 .4 .2 .5 0 .5-.6 .4-.2 .5 0 .5 .1 .4 2.1 .5-1.2 .5-.3 .4-.3 .5 .9 .4-1.6 .5 .6 .5 .5 .4-.4 .5 .3 .5 .2 .4-.7 .5 .5 .4 .5 .5-.4 .5-.3 .4 .5 .5-1.2 .5 1.2 .4-1.5 .5 .5 .5 .9 .4-.5 .5-.6 .4 .7 .5 .5 .5-.6 .4-1 .5 1.8 .5-1.1 .4 .3 .5 .1 .5 .1 .4 0 .5-.8 .4 .3 .5 .8 .5-1.3 .4 1.5 .5-1.1 .5 .3 .4-.6 .5 .5 .5-.4 .4 .6 .5-.6 .4 .4 .5-1 .5 1.5 .4-1 .5 .4 .5 .1 .4 .4 .5-.5 .4 1 .5-.1 .5-1.1 .4 1.2 .5-1.6 .5 .9 .4-.2 .5 0 .5-.1 .4 .3 .5 .1 .4-.2 .5-.6 .5 0 .4-.1 .5 .6 .5 .4 .4 1 .5-1.1 .4 0 .5 .8 .5-.5 .4-.1 .5 .8 .5-.4 .4 .5 .5 1.3 .5-.6 .4 .1 .5-.3 .4 .9 .5-.1 .5 .4 .4-.4 .5 .1 .5-.4 .4 .1 .5 .3 .5 0 .4 0 .5 0 .4-.7 .5 2.1 .5-1.2 .4-.2 .5-.5 .5 1.2 .4-.7 .5-.3 .5 .7 .4 .8 .5-.8 .4 .4 .5-1 .5 .8 .4-1.3 .5 .8 .5 .5 .4-.1 .5 .3 .4-.8 .5-.5 .5 .9 .4-.6 .5 1 .5-.7 .4-1 .5 1.9 .5-1.4 .4 .1 .5 1.6 .4-.2 .5-.3 .5-1 .4 .8 .5-.2 .5-.4 .4 .3 .5-.1 .4 .3 .5-.7 .5 1 .4-1.3 .5 1.1 .5 .2 .4-.7 .5 .1 .5 1.3 .4-1.2 .5 .8 .4-.2 .5-.9 .5 .9 .4-.6 .5 .4 .5-1.2 .4 1 .5 .6 .5 0 .4-.1 .5-.6 .4 .1 .5-.5 .5 .4 .4 .1 .5-.1 .5 .2 .4-.2 .5-.2 .5 0 .4 .7 .5 .6 .4-.5 .5-.5 .5 1.4 .4-1 .5-.5 .5 .5 .4 .3 .5-1.5 .4 .2 .5 .9 .5-.8 .4 0 .5 1.3 .5-2 .4 1.9 .5-.4 .5 .5 .4-.6 .5 .7 .4-.7 .5-.5 .5 .4 .4 .3 .5-1 .5 1.3 .4-.9 .5 .6 .4-.2 .5 .1 .5-.1 .4 .1 .5 .4 .5-.1 .4-.5 .5 .3 .5 .6 .4-.3 .5 0 .4-.3 .5-.1 .5 0 .4 .4 .5-.3 .5 .7 .4 .8 .5-1.5 .5 .9 .4-.4 .5 .2 .4-1 .5 1 .5-.8 .4 .4 .5 .4 .5 .2 .4-1.1 .5 .1 .5-.2 .4-.6 .5 .9 .4 0 .5 .2 .5-.1 .4 .2 .5 .3 .5-1.5 .4 2 .5-1.1 .4 0 .5 .1 .5 .6 .4-.4 .5 .2 .5 .3 .4-.5 .5 .2 .5 0 .4-.6 .5 .9 .4-.8 .5 .6 .5-.5 .4 .2 .5-.1 .5 .6 .4-.1 .5 .1 .4-.6 .5-.3 .5-.1 .4 .8 .5-.3 .5 .9 .4 .3 .5-.7 .5-.1 .4 .5 .5 .1 .4-1.2 .5 .7 .5 .5 .4-2.1 .5 1.1" stroke="#00b000"/>
<path clip-path="url(#cTL)" d="M199 229.9l .5-.6 .4-.6 .5 .5 .5 0 .4-.6 .5 .4 .4-.7 .5 1.9 .5-1.5 .4 0 .5 1.1 .5-.1 .4-1.2 .5 1 .5-.2 .4-.6 .5 .5 .4-.5 .5 .7 .5-.6 .4-.4 .5 .4 .5 1.3 .4-1.5 .5 .3 .4 .6 .5-1.3 .5 1.7 .4-1.9 .5 1.3 .5-1.1 .4 .8 .5 .7 .5-.8 .4-.1 .5-.1 .4-.3 .5 1 .5-.7 .4-.1 .5 .5 .5 .2 .4 0 .5-1 .4 0 .5 .7 .5 .3 .4-1.5 .5 1.4 .5-.9 .4 .4 .5 .5 .5-1.1 .4 .1 .5-.9 .4-.5 .5 1.2 .5-.7 .4 0 .5 .7 .5 .2 .4-1.4 .5 1 .5-.3 .4 .1 .5-.1 .4 .2 .5-.8 .5-.3 .4 .7 .5 .5 .5-.8 .4 .7 .5-.5 .5-1 .4-.6 .5 .9 .4 .7 .5-1 .5 1.5 .4-.9 .5-1.2 .5 .4 .4 1 .5 .1 .4-1.4 .5-.7 .5-.9 .4-1.7 .5-.7 .5-.5 .4-2.6 .5-.4 .5-1 .4-1 .5-2.1 .4 1.8 .5 .5 .5 1.7 .4 .5 .5 1.9 .5 1.4 .4 1.9 .5 .7 .4 .3 .5 0 .5 3.5 .4 1.1 .5 .5 .5 .1 .4 .8 .5-.2 .5 1.1 .4-.4 .5-.4 .4-.2 .5 1.2 .5 .2 .4-.1 .5-.1 .5 .5 .4 .9 .5-.4 .5-.1 .4 1.1 .5 .3 .4-.9 .5 0 .5-.3 .4 .5 .5 .4 .5-.1 .4 .3 .5 0 .5-.2 .4-.1 .5-.8 .4 1.2 .5-.6 .5 .3 .4-1.1 .5 .7 .5 .3 .4-.6 .5 .4 .4 .3 .5-1.1 .5 .4 .4-.5 .5 .3 .5 .2 .4 .4 .5 .6 .5-.9 .4 .3 .5-.3 .4 .4 .5 .3 .5 .2 .4-.9 .5-.3 .5 .8 .4-.4 .5-.4 .4 1.1 .5-.2 .5 .4 .4-1.2 .5 .5 .5 .3 .4 .7 .5-.8 .5-.6 .4 .7 .5 0 .4-.5 .5 1 .5-.7 .4-.3 .5 .7 .5 .1 .4-.6 .5 .2 .5 .1 .4-.2 .5-.1 .4 .7 .5-.2 .5-.6 .4-.3 .5-.1 .5 1.1 .4-1 .5 .2 .5 .4 .4-.3 .5-.1 .4-.5 .5 1.5 .5-.9 .4 .4 .5 0 .5-.7 .4 .2 .5 1 .4-.4 .5-.3 .5 .9 .4-1.2 .5 .5 .5-.1 .4-.1 .5-.8 .5 1 .4 .2 .5-1.1 .4 1.1 .5 .1 .5 .4 .4-1.3 .5 .5 .5-.1 .4 .1 .5 .2 .4 .3 .5 0 .5-.6 .4 .2 .5-.8 .5 1.2 .4-.1 .5 .3 .5-1.3 .4 1.4 .5-1 .4-.4 .5 .8 .5-.4 .4 1.5 .5-.9 .5 .6 .4-.9 .5 .1 .5 .4 .4-.9 .5 .3 .4 .5 .5 0 .5 .5 .4-.7 .5-1.2 .5 1.5 .4-.6 .5 .5 .5-.7 .4 .2 .5 .4 .4 .8 .5-.7 .5-.9 .4 .8 .5-.5 .5 .6 .4 .7 .5-1.1 .4 0 .5 .5 .5-.1 .4-.4 .5 .5 .5-.5 .4 .3 .5 1.1 .5-1.1 .4 .2 .5 .2 .4-.7 .5 .5 .5-.6 .4-.2 .5 .5 .5 .8 .4-.4 .5-.8 .4 .6 .5 .3 .5-.4 .4-.3 .5 .1 .5-.2 .4 .8 .5-.3 .5 0 .4-.1 .5 1.1 .4-1 .5 .6 .5-1.4 .4-.1 .5-.1" stroke="#00b000"/>
<path clip-path="url(#cTL)" d="M199 232.1l .5 .9 .4-.4 .5-.6 .5-.2 .4 .8 .5-.2 .4-.5 .5 1.1 .5 0 .4-.8 .5-.2 .5 .3 .4 .8 .5-1 .5 .6 .4-.9 .5 .4 .4-.2 .5-.2 .5 .5 .4-.6 .5-.2 .5 .4 .4-.4 .5 .9 .4-.7 .5 .3 .5 .5 .4-.4 .5 .2 .5 .1 .4-.3 .5-.5 .5 .6 .4-.2 .5 .8 .4-.7 .5-.5 .5 .1 .4 .2 .5 .4 .5 .2 .4-.4 .5 .6 .4 0 .5-1 .5 .8 .4-1.2 .5 1.4 .5-.8 .4 .7 .5-.6 .5 .6 .4-.5 .5 .1 .4 .1 .5-.4 .5-.5 .4 1 .5-.7 .5 .4 .4 0 .5-1 .5 2 .4-.7 .5 .5 .4-.7 .5 0 .5-1.8 .4 1.5 .5-.6 .5 .2 .4 .8 .5-.4 .5-.5 .4 .6 .5 0 .4-.1 .5 .9 .5-.3 .4-.5 .5-.1 .5 .6 .4-.2 .5-.1 .4 0 .5-.4 .5 .3 .4-.1 .5 .7 .5-.1 .4-.6 .5 .8 .5-.8 .4 .4 .5 .1 .4-.7 .5 .6 .5 .1 .4-.1 .5-.2 .5-1.2 .4 2.3 .5-.9 .4 .2 .5-.5 .5 .7 .4 1 .5-1.7 .5 1.2 .4-.4 .5 .7 .5-.1 .4-.2 .5-.5 .4 0 .5 .8 .5-.5 .4 .5 .5-.1 .5-.1 .4-.2 .5 .6 .5-.2 .4-.2 .5 .1 .4 .4 .5-1.1 .5 1 .4-.6 .5 .3 .5-.5 .4 1.6 .5-2 .5 1.1 .4 .4 .5-.6 .4-.9 .5 .8 .5 .7 .4-.3 .5-.8 .5 1.2 .4-.5 .5 0 .4-1.1 .5 1.2 .5-.8 .4 .9 .5 .1 .5-.8 .4 .2 .5 1 .5-1 .4 0 .5 .5 .4-.3 .5-.1 .5 .4 .4 0 .5 .1 .5-.2 .4 .5 .5-.6 .4 .7 .5-.7 .5 0 .4 .5 .5-.9 .5-.5 .4 .3 .5 1.2 .5-1.2 .4 .5 .5 .2 .4 .2 .5-.3 .5-.6 .4 .4 .5 .4 .5 .2 .4-.2 .5-.4 .5-.6 .4 1.3 .5-.4 .4 .1 .5 .2 .5-.5 .4-.1 .5 .9 .5-.1 .4-1 .5 .4 .5-.1 .4 .4 .5 0 .4-.4 .5 .4 .5 .3 .4-.5 .5-.4 .5 .9 .4-.9 .5 .1 .4 .7 .5-.3 .5 0 .4-.3 .5 0 .5 .9 .4 0 .5-1.1 .5 .4 .4-.1 .5 0 .4-.5 .5 1.2 .5-1 .4 .9 .5-.7 .5-.3 .4 1.2 .5-.8 .4 .3 .5 .1 .5-.2 .4 .5 .5 0 .5-.8 .4 0 .5 .6 .5 .4 .4-1.7 .5 .6 .4 .3 .5 .6 .5-.2 .4-.3 .5 .5 .5-1.1 .4 .6 .5-.1 .5 .7 .4-.1 .5 0 .4-.5 .5 .2 .5 0 .4-.2 .5 0 .5-.5 .4 .7 .5 .4 .5-.5 .4-.6 .5 .9 .4-.3 .5 .2 .5-.3 .4 0 .5 .5 .5-.2 .4-.5 .5-.1 .4 .1 .5 0 .5 .5 .4 .1 .5-.6 .5 .9 .4-.5 .5 .8 .5-.6 .4 .1 .5 .3 .4-.8 .5 .6 .5-.2 .4 0 .5 .2 .5-1 .4 .9 .5-.3 .4 .6 .5-.3 .5-.1 .4 0 .5 .1 .5-.3 .4-.6 .5 .7 .5 0 .4 .2 .5-1.3 .4 .4 .5 .5 .5-.1 .4 .6 .5-.2" stroke="#ff0000"/>
<path clip-path="url(#cTL)" d="M199 228.8l .5-.3 .4 0 .5-.1 .5 .2 .4-.2 .5-.2 .4 .1 .5-.5 .5 .3 .4 0 .5-.7 .5 .5 .4 .1 .5 0 .5 0 .4-.3 .5 .6 .4-.9 .5-.2 .5 .2 .4 .7 .5 .5 .5-.5 .4-.3 .5-.3 .4 .4 .5 0 .5-.8 .4 1 .5-.8 .5 0 .4 1 .5-.7 .5 .3 .4 .2 .5 .4 .4-.2 .5-.9 .5 .4 .4-.4 .5 .4 .5-.6 .4-.2 .5 .3 .4-.2 .5-1.2 .5-.1 .4 .2 .5-.6 .5-.6 .4-.7 .5 1 .5-1 .4-.6 .5 .9 .4-.7 .5 1.8 .5-1.8 .4 .6 .5 .9 .5-1.2 .4-.2 .5 0 .5 0 .4 .5 .5 .3 .4-.1 .5-.2 .5-.3 .4 .4 .5-.2 .5-.4 .4 .2 .5-.9 .5 .1 .4 1.5 .5-.3 .4 .3 .5-.1 .5-.7 .4 .6 .5 0 .5-.3 .4-.7 .5 .2 .4-.2 .5-.8 .5-.1 .4-.2 .5-.5 .5 .7 .4-.8 .5 .1 .5-1 .4-.1 .5 .6 .4-.4 .5 1.7 .5-.4 .4 1.1 .5 1.1 .5 .8 .4 .3 .5 .5 .4 .9 .5 .1 .5 1.5 .4 .1 .5 .6 .5 1.1 .4-.7 .5 1 .5 .8 .4-.5 .5 .1 .4-.3 .5 .9 .5-.6 .4 .3 .5 .4 .5 .2 .4 .7 .5 .7 .5-.5 .4-.1 .5 .4 .4 .3 .5 .7 .5-1 .4 .2 .5 .8 .5-.6 .4-.2 .5 .5 .5-.4 .4 0 .5 1 .4-.5 .5-.4 .5-.1 .4-.3 .5 1.5 .5-.8 .4-.4 .5-.2 .4-.2 .5 1.2 .5-.3 .4 .3 .5-.8 .5 1 .4-1.2 .5 .1 .5 .2 .4 1.2 .5-.6 .4-.7 .5 1 .5-.5 .4-.1 .5-.4 .5 .2 .4 0 .5 .4 .4-.2 .5 0 .5-.4 .4 .4 .5-.5 .5 1.2 .4-1.3 .5 .6 .5-.5 .4 .4 .5-.3 .4-.3 .5 .9 .5-.3 .4 .1 .5-.1 .5 .8 .4-.7 .5 .1 .5 .2 .4-.2 .5 .6 .4-1.4 .5 .5 .5-.7 .4 1.3 .5 .1 .5-.7 .4 .9 .5-.8 .5 .4 .4-.2 .5-.2 .4 0 .5-.8 .5 .6 .4 .8 .5-1 .5 1.1 .4-.7 .5 .6 .4-.2 .5-.9 .5 .8 .4 .1 .5-.1 .5-.1 .4-.8 .5 1.2 .5 0 .4-.8 .5 1 .4-.6 .5-.6 .5 .5 .4 .2 .5 .1 .5 .1 .4-.2 .5-.3 .4-.5 .5 .1 .5 .7 .4 .1 .5-.6 .5 1.1 .4-.6 .5-.1 .5 .4 .4-.1 .5-.6 .4 .9 .5-.3 .5-.1 .4-.4 .5 .7 .5-1.1 .4 .6 .5 0 .5 0 .4 .2 .5 .1 .4-.9 .5 .4 .5 .1 .4-.5 .5 .8 .5-.6 .4 .3 .5 .4 .5-.8 .4 1.1 .5-1 .4 .7 .5-.6 .5-.4 .4 .3 .5 .6 .5-.3 .4 .1 .5 .4 .4 0 .5-.5 .5-.3 .4 1.1 .5-.8 .5-.2 .4 .1 .5 .5 .5-.9 .4 1 .5-.8 .4-.4 .5 1.6 .5-1 .4-.1 .5 .1 .5 .4 .4-.2 .5 .5 .4-.7 .5-.2 .5 .6 .4 .1 .5-.2 .5-.2 .4 0 .5 0 .5 0 .4 .6 .5 .6 .4-1.5 .5-.3 .5 1.2 .4-.3 .5-.4" stroke="#ff0000"/>
<path clip-path="url(#cTR)" d="M439 252.3l .5-.1 .4 .1 .5 .1 .4 0 .5-.1 .5 0 .4-.2 .5-.2 .5-.1 .4-.3 .5-.1 .5 .1 .4 0 .5-.2 .4 .1 .5 .3 .5-.1 .4-.1 .5-.1 .5-.1 .4-.2 .5-.1 .5-.1 .4-.2 .5 .2 .4 0 .5-.1 .5-.1 .4-.1 .5-.2 .5-.2 .4-.1 .5 .1 .5 0 .4-.1 .5-.2 .4-.3 .5-.4 .5-.1 .4-.1 .5-.2 .5-.2 .4 0 .5 .1 .4 0 .5-.4 .5-.2 .4-.1 .5-.1 .5-.3 .4-.5 .5 0 .5-.1 .4-.1 .5-.2 .4-.5 .5-.3 .5 .2 .4-.1 .5-.3 .5-.3 .4-.6 .5-.3 .4-.1 .5-.3 .5-.6 .4-.3 .5 .2 .5-.4 .4-.6 .5-.8 .5-.5 .4-.3 .5 .2 .4 0 .5-.6 .5-.6 .4-.1 .5-.5 .5-.2 .4 0 .5-.3 .5-.7 .4-.3 .5 .1 .4-.4 .5-.6 .5 .1 .4 0 .5-.4 .5-1 .4-1.1 .5-.6 .5-.1 .4 .2 .5-.3 .4-.7 .5-.8 .5-.4 .4-.6 .5-.8 .5-.2 .4 .5 .5-1.2 .4 .2 .5-.9 .5-.8 .4-1 .5-.7 .5-.3 .4-.2 .5-.4 .5 0 .4 0 .5-.6 .4 0 .5 .2 .5-.5 .4 0 .5-.4 .5-.9 .4-1 .5-.6 .4-.1 .5-.2 .5-.4 .4-.9 .5-.7 .5 .8 .4 .8 .5-.2 .5-.5 .4-.5 .5-.3 .4 .3 .5-.1 .5-.3 .4 0 .5-.1 .5-1.3 .4-.8 .5-.3 .5-.2 .4 0 .2 .1 .3 5 .1 3 .3-4 .3-2.5 .2 .1 .5-.5 .4-.8 .5 1 .5 .3 .4 .4 .5 .2 .5-.3 .4 .4 .5 .5 .4-.3 .5-.6 .5 .4 .4 1.1 .5 .3 .5 .2 .4 .2 .5-.5 .4-.7 .5 .2 .5 .9 .4 1.1 .5 .5 .5 .5 .4 1.1 .5 .2 .5-.5 .4 .5 .5-2.2 .4 2.2 .5 3.4 .5-2.4 .2-1.5 .2-.2 .5 .1 .5-.2 .4-.6 .5-.1 .4 .2 .5-.1 .5 0 .4 .3 .5 .4 .5-.4 .4-.1 .5 .3 .5-.7 .4-.1 .5 .1 .4 1.2 .5 1.2 .5-.2 .4-.8 .5 .2 .5 .6 .4 .5 .5 .3 .5 .5 .4 .6 .5 .4 .4 0 .5 0 .5-.3 .4 .1 .5 .4 .5-.2 .4 .4 .5-.1 .5 .1 .4 .8 .5 1.1 .4-.1 .5-.5 .5 0 .4 .5 .5 .2 .5 .2 .4 0 .5 0 .4 .3 .5 0 .5 .5 .4 .9 .5 .5 .5 0 .4-.1 .5 0 .5 .6 .4 .6 .5 1.1 .4 .4 .5-.3 .5 .1 .4 .8 .5 .6 .5 .1 .4 .2 .5 1.1 .4 1.3 .5 .6 .5 .2 .4 .5 .5 .4 .5 .6 .4 1 .5 .8 .5 .3 .4 .4 .5 .8 .4 .8 .5 .9 .5 .7 .4 .6 .5 .5 .5 .6 .4 .6 .5 .6 .5 .3 .4 .3 .5 .2 .4 .3 .5 .2 .5 .2 .4 .2 .5-.3 .5 .1 .4 .2 .5 0 .5 0 .4 .2 .5-.1 .4-.2 .5-.1 .5 .1 .4 .1 .5 .2 .5-.1 .4 0 .5 .1 .4 0 .5 .1 .5 .1 .4-.1 .5 0 .5 .3 .4 0 .5 .1 .5 0 .4-.1 .5-.1 .4 0 .5 .3 .5 .2 .4-.2" stroke="#ff0000"/>
<path clip-path="url(#cTR)" d="M439 252.2l .5 .1 .4 .2 .5 0 .4 .2 .5-.2 .5-.1 .4 0 .5-.3 .5-.3 .4-.3 .5 0 .5-.1 .4 0 .5 .2 .4 .1 .5-.3 .5 0 .4-.1 .5 0 .5 0 .4-.1 .5 0 .5 0 .4-.4 .5-.4 .4 0 .5 .1 .5 0 .4-.2 .5-.2 .5-.1 .4 .1 .5-.1 .5-.4 .4-.3 .5 .3 .4 0 .5-.4 .5-.2 .4-.1 .5-.2 .5 0 .4 .1 .5-.1 .4-.4 .5-.3 .5-.3 .4 0 .5-.1 .5-.3 .4-.4 .5-.4 .5-.5 .4 .1 .5 0 .4-.3 .5-.5 .5-.2 .4-.1 .5-.5 .5-.4 .4-.3 .5-.2 .4-.2 .5-.1 .5-.2 .4-.3 .5-.4 .5-.6 .4-.7 .5-.4 .5 0 .4-.1 .5-.5 .4-.3 .5-.4 .5-.7 .4-.4 .5 0 .5 .1 .4-.2 .5-.7 .5-.5 .4 0 .5 .1 .4-.3 .5-.7 .5-.2 .4 .2 .5-.5 .5-1.5 .4-1.3 .5-.8 .5-.5 .4 0 .5 .3 .4-.8 .5-.8 .5-.3 .4-.7 .5-.8 .5 .1 .4 .5 .5-.1 .4-.7 .5-1.2 .5-1 .4-1.1 .5-.3 .5-.3 .4-.3 .5-.6 .5-.7 .4 0 .5-.6 .4 .3 .5 .1 .5-.3 .4-.6 .5-.6 .5-.8 .4-.8 .5 .7 .4-1.4 .5 .2 .5 .1 .4-.4 .5-.4 .5-.5 .4-.4 .5-.2 .5-.3 .4-1 .5-.1 .4-.1 .5 .4 .5 .7 .4-.6 .5-.7 .5-.1 .4-.9 .5-.3 .5-.4 .4-.2 .2 .7 .3 5.6 .1 3.3 .3-4.7 .3-3.9 .2-.6 .5 .6 .4 .2 .5-.1 .5-.1 .4 .1 .5 .2 .5 .5 .4 .5 .5 .2 .4-.1 .5 .8 .5 0 .4 0 .5 .5 .5 .4 .4 .3 .5 0 .4 .2 .5 .3 .5 .2 .4 .3 .5 .7 .5 .8 .4 .7 .5-.1 .5-.2 .4 1 .5 0 .4-.2 .5 3.2 .5-2.4 .2-.7 .2 .2 .5-.2 .5-.5 .4-.5 .5-.6 .4 0 .5 .2 .5 .6 .4 .6 .5 0 .5-.6 .4-.6 .5-.2 .5 .3 .4 .6 .5 .1 .4 .6 .5 .5 .5 0 .4-.2 .5 0 .5-.2 .4 .5 .5 .8 .5 .5 .4 .5 .5 .4 .4-1 .5 1.3 .5-.4 .4 0 .5 .3 .5 0 .4 .4 .5 .8 .5 .5 .4 .3 .5 .3 .4 .1 .5-.1 .5 0 .4-.2 .5-.2 .5 .4 .4 .6 .5 0 .4 .1 .5 .3 .5 .7 .4 .7 .5-.2 .5 .2 .4 .5 .5 .5 .5 .6 .4 .4 .5 .1 .4 .1 .5 .4 .5 .3 .4 .7 .5 .7 .5 .7 .4 .5 .5 .6 .4 1.2 .5 1.2 .5 .5 .4 .6 .5 .5 .5 .8 .4 .7 .5 .7 .5 .4 .4 .8 .5 .9 .4 .5 .5 .4 .5 .9 .4 .8 .5 .6 .5 .6 .4 .4 .5 .6 .5 .5 .4 .6 .5 .6 .4 .3 .5-.2 .5-.1 .4-.2 .5 0 .5 .3 .4 .1 .5 0 .5 0 .4 .3 .5 0 .4 .1 .5 0 .5 0 .4 .1 .5 .1 .5-.1 .4 .1 .5 .1 .4-.1 .5-.1 .5 .1 .4 0 .5 0 .5-.1 .4 .1 .5 .2 .5 .3 .4 0 .5-.2 .4-.2 .5 .3 .5 0 .4 0" stroke="#ff0000"/>
<path clip-path="url(#cTR)" d="M439 252.4l .5 0 .4-.1 .5-.2 .4 .2 .5-.2 .5 .1 .4-.1 .5-.1 .5-.2 .4-.2 .5-.1 .5 .2 .4-.2 .5-.3 .4 0 .5 .2 .5 0 .4-.2 .5-.2 .5-.2 .4 .2 .5 0 .5-.2 .4-.4 .5-.1 .4 .1 .5-.1 .5-.1 .4 .1 .5 0 .5-.4 .4-.1 .5-.1 .5-.2 .4 0 .5 .1 .4-.3 .5-.4 .5-.3 .4 .1 .5 0 .5-.3 .4-.1 .5 0 .4 0 .5-.8 .5-.6 .4-.1 .5 .3 .5 0 .4-.4 .5-.2 .5-.2 .4-.3 .5-.3 .4 .1 .5 0 .5-.3 .4-.8 .5-.4 .5 .1 .4-.1 .5-.7 .4-.8 .5-.4 .5-.2 .4-.1 .5-.2 .5-.7 .4-.9 .5-.2 .5 .1 .4 0 .5-.1 .4-.7 .5-.8 .5-.4 .4-.8 .5-.5 .5 .2 .4 .3 .5-.2 .5-.4 .4 0 .5-.2 .4-.6 .5-.7 .5-.4 .4-.2 .5-1.1 .5-1.1 .4-.9 .5-.6 .5-.5 .4-.1 .5-.5 .4-.4 .5 0 .5-.7 .4-1.2 .5-.6 .5 .3 .4 .2 .5 0 .4-.5 .5-1 .5-1.1 .4-1.1 .5-.7 .5-.2 .4-.7 .5-.4 .5-.3 .4-.4 .5-.3 .4 .1 .5 .1 .5-.1 .4-.4 .5-.4 .5-.8 .4-1 .5-.6 .4 0 .5 .1 .5-.6 .4-.5 .5-.5 .5-.4 .4-.2 .5 .3 .5 .3 .4-.1 .5-.6 .4-.4 .5-.7 .5 0 .4 .7 .5-.4 .5-1.5 .4-1.1 .5-.3 .5-.3 .4-.3 .2 .2 .3 6 .1 3.9 .3-4.1 .3-3.3 .2-.1 .5 .2 .4-.2 .5-.4 .5-.4 .4 .2 .5 .8 .5 .8 .4 .3 .5-.5 .4-.4 .5 .3 .5 .1 .4 .8 .5 .9 .5-.3 .4 .4 .5 .6 .4-.2 .5-.5 .5 .9 .4 .7 .5 .3 .5 .7 .4 1 .5 .2 .5 .4 .4 .5 .5-.3 .4 .3 .5 3.6 .5-3.2 .2-.8 .2 .1 .5-.4 .5-.2 .4-.6 .5-.6 .4-.3 .5 .4 .5 .1 .4-.1 .5 .3 .5 .1 .4-.2 .5-.2 .5-.1 .4-.6 .5 .4 .4 1.2 .5 .8 .5-.7 .4-.5 .5 1.1 .5 1.1 .4 .1 .5 .1 .5 .4 .4 .6 .5 .3 .4 .4 .5 .2 .5 0 .4-.2 .5 0 .5 .3 .4 .2 .5 .4 .5 .4 .4 .3 .5 .4 .4 .6 .5 0 .5-.1 .4-.5 .5-.1 .5 .7 .4 .8 .5 .2 .4 0 .5 .2 .5 .2 .4 .5 .5 .1 .5-.3 .4 .3 .5 .7 .5 1.1 .4 .4 .5 .3 .4 0 .5 .3 .5 1 .4 .6 .5 .5 .5 .5 .4 .4 .5 1.2 .4 1 .5 1 .5 1.1 .4 .5 .5 .1 .5 .3 .4 .8 .5 .8 .5 .9 .4 .9 .5 .5 .4 .6 .5 .5 .5 .5 .4 .7 .5 .9 .5 .8 .4 .9 .5 .7 .5 .3 .4 .2 .5 .5 .4 .4 .5 .1 .5 .1 .4-.1 .5 .1 .5 .1 .4 0 .5 0 .5 .1 .4-.1 .5 .1 .4 .6 .5 .1 .5-.3 .4-.3 .5 .2 .5 .1 .4 .2 .5 0 .4 0 .5 .1 .5 .4 .4-.1 .5-.4 .5 0 .4 .2 .5-.2 .5 0 .4 .1 .5 .1 .4 .1 .5 .2 .5 .2 .4-.2" stroke="#ff0000"/>
<path clip-path="url(#cTR)" d="M439 252.2l .5 .1 .4 0 .5-.1 .4-.3 .5-.1 .5 0 .4 0 .5 0 .5-.1 .4 0 .5-.1 .5 .1 .4 0 .5 .1 .4-.2 .5-.2 .5 0 .4-.2 .5-.1 .5 .1 .4-.1 .5-.1 .5-.2 .4-.2 .5-.1 .4 .3 .5 0 .5-.4 .4-.2 .5-.3 .5-.5 .4-.1 .5 .1 .5 0 .4-.1 .5-.2 .4 0 .5-.1 .5-.3 .4-.4 .5-.1 .5 0 .4-.3 .5-.2 .4-.3 .5-.2 .5-.3 .4 0 .5-.1 .5-.3 .4-.3 .5-.1 .5-.1 .4-.5 .5 .1 .4 .2 .5 0 .5-.3 .4-.8 .5-.7 .5 0 .4-.2 .5-.4 .4-.8 .5-.5 .5-.4 .4-.5 .5-.4 .5-.4 .4-.2 .5-.1 .5-.3 .4-.3 .5-.7 .4-.3 .5-.6 .5-.8 .4-.5 .5 0 .5-.3 .4-.2 .5 .1 .5-.1 .4-.6 .5-.1 .4-.3 .5-.8 .5-.5 .4-.3 .5-.4 .5-1 .4-1.3 .5-.9 .5-.4 .4 0 .5-.4 .4-.1 .5-.3 .5-1 .4-1.1 .5-.3 .5 .1 .4 0 .5-.3 .4-.7 .5-.9 .5-1.1 .4-1.6 .5-.6 .5-.1 .4-.8 .5-.4 .5 0 .4 .1 .5-.6 .4 .4 .5 .4 .5-.7 .4-.5 .5-.4 .5-.7 .4-.6 .5-1.1 .4-.3 .5-.1 .5-.7 .4-.3 .5-.1 .5-.2 .4-.6 .5-.4 .5 .2 .4-.2 .5-.8 .4-.2 .5-.2 .5-.3 .4 .4 .5-.1 .5-.4 .4-1.1 .5-1.1 .5-.3 .4 .1 .2 .1 .3 6.3 .1 3.5 .3-5.3 .3-2.9 .2 .7 .5 0 .4-.1 .5-1.3 .5-.4 .4 .9 .5 .4 .5 .2 .4 .3 .5 1.1 .4 .9 .5 .4 .5-.5 .4 .4 .5-.2 .5-.3 .4 .4 .5 .5 .4-.3 .5 .1 .5 .3 .4 1 .5 1.4 .5 .2 .4-.3 .5 .9 .5 1 .4 .8 .5-.1 .4 .2 .5 3.6 .5-3.4 .2-1.6 .2 .4 .5 .4 .5-.7 .4-1.3 .5-.8 .4-.2 .5 .9 .5 .9 .4-.1 .5 0 .5-.5 .4-.8 .5-.4 .5 .2 .4 0 .5 .5 .4 1.4 .5 1.3 .5-.4 .4-.6 .5 .5 .5 .6 .4 0 .5 .1 .5 .8 .4 .8 .5 .5 .4-.1 .5-.3 .5 .1 .4 .7 .5 .5 .5-.1 .4-.3 .5 .1 .5 .4 .4 .6 .5 .8 .4 .7 .5 .3 .5-.5 .4-.7 .5 .2 .5 .8 .4 .1 .5 0 .4 .5 .5 .3 .5 .4 .4 .8 .5 .6 .5 .2 .4 0 .5 0 .5 .8 .4 .5 .5 .1 .4 .2 .5 .2 .5 .7 .4 1.4 .5 .6 .5 .3 .4 .3 .5 .9 .4 .9 .5 .8 .5 1.1 .4 .5 .5 .5 .5 .8 .4 .8 .5 .7 .5 .6 .4 .9 .5 1 .4 .9 .5 .9 .5 .8 .4 .5 .5 .5 .5 .8 .4 .7 .5 .6 .5 .3 .4 .2 .5 .3 .4 .7 .5 .1 .5 0 .4 .2 .5 .1 .5 .2 .4 0 .5-.2 .5 .1 .4 .3 .5 0 .4 0 .5-.1 .5 .1 .4 0 .5 .1 .5 .3 .4 .2 .5 .2 .4 0 .5-.1 .5 0 .4-.2 .5-.1 .5 .2 .4 .1 .5 .2 .5 0 .4-.1 .5-.1 .4 .2 .5 .2 .5 0 .4-.3" stroke="#00b000"/>
<path clip-path="url(#cTR)" d="M439 252.4l .5 .1 .4-.1 .5-.1 .4 0 .5-.1 .5 .1 .4 .2 .5-.2 .5-.5 .4-.2 .5-.1 .5 .1 .4 0 .5-.1 .4 0 .5 0 .5-.1 .4-.3 .5-.2 .5-.1 .4-.2 .5 .1 .5 .1 .4 .2 .5-.2 .4-.6 .5-.2 .5 .1 .4 .3 .5-.3 .5-.3 .4-.1 .5 0 .5 0 .4-.1 .5-.2 .4-.3 .5-.3 .5 0 .4 0 .5-.2 .5-.4 .4-.4 .5-.2 .4 0 .5-.1 .5-.4 .4-.2 .5 0 .5-.3 .4-.4 .5-.5 .5 .1 .4-.1 .5-.5 .4-.4 .5-.2 .5-.2 .4-.1 .5-.3 .5-.2 .4-.3 .5-.4 .4-.5 .5-.5 .5-.3 .4-.3 .5-.1 .5-.4 .4-.6 .5-.4 .5-.3 .4-.4 .5 0 .4-.3 .5-.8 .5-1 .4-.4 .5-.4 .5-.1 .4-.2 .5-.5 .5-.3 .4 0 .5 .1 .4-.3 .5-.6 .5-.5 .4-.6 .5-1.1 .5-1 .4-1.1 .5-.8 .5-.5 .4-.5 .5-.4 .4-.5 .5-.1 .5-.4 .4-.8 .5-.5 .5 .1 .4 .3 .5-.4 .4-.9 .5-1 .5-.8 .4-.7 .5-1.2 .5-.5 .4 2.5 .5-2.5 .5-.3 .4-.2 .5-.3 .4-.9 .5 0 .5 .4 .4-.2 .5-1.5 .5-1.4 .4-.7 .5-.3 .4 .4 .5 .2 .5-.5 .4-1.3 .5-.2 .5 .7 .4-.1 .5-.9 .5-.4 .4-.4 .5-.8 .4-.5 .5 .6 .5 .7 .4-.2 .5-.4 .5-.9 .4-1 .5-.4 .5-.1 .4-.4 .2 .4 .3 6.3 .1 3.5 .3-5 .3-3.5 .2 0 .5 .1 .4 0 .5-.4 .5-.2 .4 .5 .5-.2 .5 .8 .4 .8 .5 .3 .4 .1 .5 0 .5 .3 .4 .5 .5 .5 .5-.1 .4-.2 .5-.1 .4 .8 .5 .2 .5-.2 .4 .7 .5 1.7 .5 .7 .4-.1 .5 .3 .5 1.1 .4 1 .5-.6 .4-.5 .5 3.8 .5-3.2 .2-1.4 .2 .3 .5-.4 .5-.5 .4-.5 .5-.4 .4 0 .5 .3 .5 .6 .4 .2 .5-.5 .5-.2 .4 .2 .5-.3 .5-.9 .4-.4 .5 1.5 .4 1.7 .5 .5 .5-.2 .4 .1 .5 .2 .5-.2 .4 0 .5 .2 .5 .7 .4 .9 .5 .3 .4 .6 .5 .4 .5-.1 .4-.6 .5 .2 .5 .5 .4 .2 .5 .1 .5 .2 .4 .5 .5 .8 .4 .7 .5 .3 .5-.3 .4-.6 .5-.5 .5 .3 .4 .5 .5 .1 .4 .1 .5 .7 .5 1 .4 .7 .5 .7 .5 .2 .4 .1 .5-.1 .5 .4 .4 .9 .5 .3 .4 0 .5 .4 .5 .9 .4 1.1 .5 .3 .5 .1 .4 .8 .5 1.2 .4 .9 .5 .9 .5 .8 .4 .4 .5 .6 .5 .8 .4 .7 .5 .5 .5 .9 .4 .8 .5 .7 .4 1 .5 .9 .5 1 .4 .6 .5 .6 .5 .7 .4 .4 .5 .8 .5 .5 .4 .6 .5 .4 .4 .3 .5 .1 .5-.2 .4 0 .5 .3 .5 .2 .4 0 .5 .1 .5 0 .4 0 .5 .1 .4 0 .5-.2 .5 0 .4 .1 .5 .1 .5 .2 .4 .2 .5-.2 .4-.1 .5 .1 .5 .1 .4 .2 .5 0 .5-.1 .4-.1 .5 .3 .5 0 .4-.1 .5 .1 .4 .1 .5 .1 .5 0 .4-.1" stroke="#ff0000"/>
<path clip-path="url(#cTR)" d="M439 252.3l .5-.3 .4 .1 .5 .1 .4 .1 .5-.2 .5-.3 .4 0 .5 .1 .5-.1 .4-.3 .5-.2 .5 0 .4 0 .5 .2 .4 .1 .5-.3 .5 0 .4 0 .5-.1 .5-.2 .4 0 .5-.1 .5-.4 .4-.2 .5-.1 .4 .1 .5-.1 .5-.2 .4-.2 .5-.2 .5 0 .4 .1 .5 .1 .5-.2 .4-.2 .5-.2 .4-.3 .5-.6 .5 .1 .4 .3 .5 0 .5-.5 .4-.6 .5-.3 .4-.1 .5-.4 .5-.3 .4-.4 .5-.2 .5-.2 .4-.3 .5-.1 .5 0 .4 0 .5-.5 .4-.3 .5-.2 .5-.2 .4-.3 .5-.3 .5-.5 .4-.6 .5-.4 .4-.4 .5-.1 .5-.2 .4-.5 .5-.5 .5-.6 .4-1 .5-.7 .5-.3 .4 .1 .5 .1 .4-.2 .5-.9 .5-1 .4-.4 .5 .2 .5-.1 .4-.5 .5-.4 .5 .1 .4-.5 .5-1 .4-.2 .5-.2 .5-.5 .4-.6 .5-.7 .5-.8 .4-1.2 .5-1.2 .5-.4 .4-.2 .5-.3 .4-.5 .5-.8 .5-.5 .4-.6 .5-.6 .5-.1 .4 .2 .5-.2 .4-1.2 .5-1.7 .5-1.6 .4-.9 .5-.3 .5-.5 .4-.5 .5-.2 .5 .3 .4-.4 .5-.3 .4-.2 .5 .1 .5-.3 .4-.2 .5-.1 .5-1 .4-1.2 .5-.6 .4 .4 .5 0 .5-.8 .4-1 .5-.8 .5 .1 .4 0 .5-.6 .5-.5 .4-.5 .5-.2 .4-.2 .5 .1 .5-.2 .4-.4 .5-.4 .5-.4 .4-.7 .5-.5 .5-.7 .4-1.1 .2-.1 .3 7.8 .1 4.2 .3-5.5 .3-4 .2 .1 .5 0 .4-.4 .5-1 .5 .3 .4 1.6 .5 .5 .5 .6 .4 1.2 .5 .1 .4-.2 .5 .1 .5 .1 .4 .4 .5-.5 .5-.3 .4 .4 .5 .8 .4 .2 .5-.1 .5 0 .4 .7 .5 .9 .5 .9 .4 .6 .5 .8 .5 .8 .4 .9 .5-.5 .4-.1 .5 4 .5-3.6 .2-1.4 .2 .3 .5-.3 .5-.4 .4-.6 .5-.9 .4-.2 .5 .5 .5 .7 .4 .5 .5-.4 .5-.3 .4 .2 .5-.2 .5-.2 .4-.5 .5 .2 .4 1.5 .5 1.1 .5-.4 .4-.3 .5 .7 .5 1.1 .4 .5 .5 .2 .5 .4 .4 .4 .5 1 .4 .4 .5 .1 .5-.4 .4-.5 .5 0 .5 .1 .4 .5 .5 .8 .5 .4 .4 .8 .5 .5 .4 .3 .5-.1 .5-.6 .4-.5 .5-.1 .5 .5 .4 .4 .5 .3 .4 .4 .5 .2 .5 .3 .4 1 .5 .4 .5 .4 .4 .4 .5 .2 .5 .6 .4 .4 .5 .3 .4 .3 .5 .5 .5 1.2 .4 1.2 .5 .3 .5 .1 .4 .3 .5 1.2 .4 1.1 .5 .8 .5 .8 .4 .8 .5 .7 .5 1.2 .4 1.3 .5 .9 .5 .4 .4 .3 .5 .9 .4 1.2 .5 .9 .5 .9 .4 .9 .5 .6 .5 .5 .4 .8 .5 1 .5 .2 .4 .3 .5 .6 .4 .4 .5 0 .5 0 .4 .1 .5 .2 .5-.1 .4 0 .5 .1 .5 .1 .4 .3 .5 .4 .4 .1 .5-.1 .5-.1 .4-.1 .5-.1 .5 0 .4 .1 .5 .1 .4 .3 .5 0 .5-.1 .4 .1 .5 0 .5 .1 .4 .1 .5-.1 .5 .2 .4 .3 .5 0 .4-.2 .5 .1 .5 .1 .4 .1" stroke="#ff0000"/>
<path clip-path="url(#cTR)" d="M439 252.2l .5 .1 .4 0 .5 .1 .4 0 .5 0 .5-.1 .4 0 .5-.2 .5-.2 .4-.2 .5-.1 .5 .1 .4 0 .5 0 .4 .1 .5-.3 .5-.3 .4-.3 .5 0 .5 0 .4-.5 .5-.1 .5 0 .4-.1 .5-.2 .4 .1 .5 .2 .5-.1 .4-.5 .5-.4 .5 0 .4-.3 .5 0 .5 .3 .4-.3 .5-.5 .4-.2 .5-.1 .5-.1 .4-.1 .5-.1 .5-.5 .4 .1 .5 0 .4-.6 .5-.6 .5 0 .4 0 .5-.1 .5-.4 .4-.3 .5-.2 .5-.1 .4-.4 .5-.7 .4-.2 .5-.3 .5-.4 .4 .1 .5-.3 .5-.5 .4-.3 .5-.6 .4-.5 .5-.2 .5-.5 .4-.5 .5 0 .5-.6 .4-1 .5-.5 .5-.4 .4-.4 .5 0 .4-.4 .5-.6 .5-.6 .4-.4 .5-.6 .5-.3 .4-.4 .5 0 .5-.3 .4-.5 .5-.2 .4-.2 .5-.6 .5-.3 .4-.2 .5-.5 .5-1.7 .4-2 .5-1 .5-.2 .4 .2 .5-.4 .4-.5 .5-.6 .5-.3 .4-.4 .5-1.5 .5-.7 .4 .4 .5 .1 .4-1.1 .5-.9 .5-.6 .4-1.2 .5-1.2 .5-.5 .4-.5 .5-.6 .5-.2 .4 .4 .5 0 .4-.2 .5-.7 .5-.1 .4-.7 .5-.8 .5-1.3 .4-1.4 .5-1 .4-.4 .5 .4 .5-.2 .4-1 .5-.7 .5-.3 .4 .8 .5 .7 .5-.5 .4-1.1 .5-.6 .4-.2 .5 0 .5 .4 .4-.4 .5-1 .5-.8 .4-.9 .5-.9 .5-.2 .4 .3 .2 .8 .3 7.6 .1 3.8 .3-5.8 .3-3.8 .2-.8 .5-.5 .4 .1 .5-.5 .5-.4 .4 1 .5 .6 .5 .9 .4 1.3 .5 .3 .4-.4 .5-.3 .5 .1 .4 .3 .5 .8 .5-.1 .4-1 .5 .1 .4 1 .5 .5 .5 .4 .4 1.5 .5 1.3 .5 .5 .4 .2 .5 .2 .5 .9 .4 1.2 .5 .1 .4-.3 .5 3.8 .5-3.6 .2-1.8 .2 .7 .5-.2 .5-.7 .4-.9 .5-.7 .4 .4 .5 .1 .5 .3 .4 .3 .5 .1 .5-.2 .4-.3 .5-.1 .5-.1 .4-.4 .5 .2 .4 1.3 .5 .8 .5 0 .4 .2 .5 .9 .5 .8 .4-.2 .5-.1 .5 .8 .4 .8 .5 .1 .4 .2 .5 .3 .5-.2 .4 .1 .5 .5 .5 .1 .4-.3 .5 .5 .5 .8 .4 .4 .5 .6 .4 .8 .5-.3 .5-.7 .4-.6 .5 .5 .5 .9 .4 .1 .5 .3 .4 .7 .5 .3 .5 .3 .4 .6 .5 .8 .5 .6 .4 .4 .5 .1 .5 .9 .4 .5 .5 .1 .4 .2 .5 .5 .5 .8 .4 1 .5 .7 .5 .2 .4 .4 .5 1 .4 1.3 .5 1 .5 .8 .4 .6 .5 1 .5 .9 .4 1.5 .5 1 .5 .3 .4 .4 .5 .9 .4 1.3 .5 .9 .5 .9 .4 1 .5 .7 .5 .6 .4 .7 .5 .6 .5 .5 .4 .3 .5 .4 .4 .5 .5 .3 .5 0 .4 .2 .5 .1 .5 .2 .4 .3 .5 .3 .5-.2 .4 0 .5-.1 .4 0 .5 .2 .5 0 .4-.1 .5 .1 .5 .3 .4 0 .5-.1 .4-.3 .5-.1 .5 .3 .4 .2 .5-.1 .5 .2 .4 .2 .5 .1 .5 0 .4 0 .5 0 .4 0 .5-.2 .5 .1 .4 .1" stroke="#00b000"/>
<path clip-path="url(#cTR)" d="M439 252.2l .5-.1 .4-.1 .5 .2 .4 .2 .5 0 .5-.2 .4-.3 .5-.3 .5-.2 .4 0 .5 .2 .5 0 .4 .1 .5-.1 .4 .1 .5-.1 .5-.4 .4-.2 .5-.1 .5 .1 .4 0 .5-.2 .5-.2 .4-.1 .5 0 .4-.1 .5-.1 .5-.3 .4 0 .5-.1 .5-.4 .4-.2 .5 0 .5-.1 .4-.1 .5 0 .4 0 .5-.2 .5-.3 .4-.5 .5-.2 .5-.2 .4-.3 .5-.3 .4-.2 .5-.4 .5-.1 .4 0 .5-.3 .5-.3 .4 .1 .5-.5 .5-.3 .4-.6 .5-.5 .4-.2 .5-.1 .5 0 .4-.6 .5-.8 .5-.1 .4 0 .5-.5 .4-.4 .5-.5 .5-.2 .4-.3 .5-.2 .5-.9 .4-.8 .5-.8 .5-.3 .4 0 .5 0 .4-.3 .5-.9 .5-.8 .4-.3 .5-.3 .5-.2 .4-.2 .5-.1 .5-.2 .4-.7 .5-.3 .4-.4 .5-.8 .5-.2 .4 1.1 .5-2.3 .5-1.2 .4-1.5 .5-.9 .5 0 .4 .4 .5-.4 .4-1.2 .5-1.1 .5-.6 .4-.5 .5-.7 .5-.5 .4 .2 .5 .2 .4-.9 .5-1 .5-1 .4-1.2 .5-1.2 .5-.3 .4-.3 .5-.5 .5-.4 .4-.3 .5-.4 .4 .4 .5 .3 .5-.3 .4-.5 .5-1.2 .5-1.5 .4-1.1 .5-.4 .4 .4 .5 .5 .5-.4 .4-1.1 .5-.7 .5-.1 .4-.4 .5-.8 .5-.3 .4 0 .5-.4 .4-.5 .5 .2 .5 .4 .4 .5 .5 0 .5-.6 .4-1 .5-1.4 .5-.8 .4-.1 .2 .2 .3 7.2 .1 4.3 .3-5.4 .3-4.7 .2-.1 .5 .3 .4-.5 .5-.1 .5 .3 .4 .9 .5 .9 .5 .3 .4 .3 .5-.5 .4 .3 .5 .7 .5 0 .4 .5 .5-.1 .5-.4 .4 .5 .5 .8 .4 .1 .5-.2 .5 .1 .4 .4 .5 .7 .5 .9 .4 1.4 .5 .7 .5 .3 .4 1 .5 .3 .4-.3 .5 3.8 .5-3 .2-1.4 .2 0 .5-.6 .5-.6 .4-.5 .5-.5 .4-.4 .5 .6 .5 .7 .4-.1 .5-.1 .5 .6 .4 .2 .5-.5 .5-.1 .4 .2 .5-.2 .4 .3 .5 .7 .5 .2 .4 .7 .5-.1 .5-.3 .4 .3 .5 1 .5 .8 .4 .5 .5 .8 .4 .4 .5 .2 .5-.4 .4-.4 .5-.1 .5 .4 .4 .6 .5 .3 .5 .6 .4 .4 .5 .5 .4 .3 .5 .2 .5 0 .4-.7 .5 .1 .5 .8 .4-.1 .5 .3 .4-.2 .5 .3 .5 .6 .4 .7 .5 .6 .5 .9 .4 .7 .5 .2 .5 .2 .4 .5 .5 .2 .4 .3 .5 .7 .5 .4 .4 .8 .5 .7 .5 .7 .4 .8 .5 .9 .4 2.7 .5-.1 .5 1.1 .4 .3 .5 .2 .5 .9 .4 1.2 .5 1.5 .5 .6 .4 .3 .5 .7 .4 .8 .5 1.2 .5 1 .4 .6 .5 .8 .5 1.1 .4 .5 .5 .7 .5 .6 .4 .3 .5 .3 .4 .5 .5 .2 .5 .2 .4 0 .5 0 .5 .1 .4 .1 .5 0 .5 .1 .4 .1 .5 .1 .4 .3 .5-.1 .5-.1 .4 .1 .5 .2 .5 .3 .4-.1 .5 .1 .4 0 .5-.2 .5 0 .4 .1 .5 0 .5 0 .4 .1 .5 .2 .5 0 .4 0 .5 .2 .4 0 .5 0 .5 .1 .4-.4" stroke="#ff0000"/>
<path clip-path="url(#cTR)" d="M439 251.9l .5 .1 .4 .3 .5 0 .4-.1 .5-.2 .5 .3 .4-.1 .5-.5 .5-.2 .4 0 .5 0 .5-.2 .4-.1 .5 .2 .4 .1 .5-.1 .5-.1 .4-.2 .5-.1 .5-.2 .4 0 .5-.1 .5-.2 .4-.3 .5-.3 .4-.2 .5-.1 .5 0 .4 0 .5-.2 .5-.1 .4 0 .5 0 .5 0 .4-.2 .5-.4 .4-.3 .5-.1 .5 0 .4 0 .5-.2 .5-.2 .4-.4 .5-.4 .4-.3 .5-.1 .5-.2 .4-.5 .5-.4 .5-.2 .4-.1 .5-.2 .5-.4 .4-.2 .5-.3 .4-.3 .5-.2 .5-.2 .4-.2 .5-1.1 .5 0 .4-.3 .5-.4 .4-.6 .5-.6 .5 0 .4-.4 .5-.6 .5-.8 .4-.7 .5-.2 .5-.1 .4-.3 .5-.5 .4 .4 .5-2 .5-.9 .4-.2 .5-.2 .5-.1 .4 0 .5-.6 .5-.3 .4-.5 .5-.6 .4 0 .5-.7 .5-.5 .4-.3 .5-.7 .5-1.3 .4-1.5 .5-.3 .5-.5 .4-.9 .5-.2 .4-2.3 .5 1.6 .5-1.3 .4-1.5 .5-.3 .5 .4 .4 .1 .5-.3 .4-1.4 .5-1.2 .5-1.5 .4-1.2 .5-1 .5 0 .4 0 .5 0 .5-.3 .4-.5 .5-.6 .4-.7 .5 .5 .5 .1 .4-.9 .5-.7 .5-.9 .4-.7 .5-.8 .4-.8 .5 0 .5-.3 .4-.1 .5 0 .5-.4 .4-.5 .5-.5 .5-.5 .4-.3 .5 0 .4-.3 .5 .2 .5-.7 .4-1.5 .5-.3 .5-.4 .4-1.3 .5-.7 .5-.2 .4-.1 .2 1.2 .3 8 .1 4.3 .3-6 .3-3.7 .2-.1 .5-.3 .4-.3 .5-1 .5-.6 .4 1.1 .5 .6 .5 1.1 .4 .7 .5-.2 .4-.1 .5 .8 .5 .4 .4 .2 .5 .2 .5-.3 .4 .4 .5 .4 .4 0 .5-.1 .5 .3 .4 1.5 .5 .9 .5-.4 .4 .6 .5 .9 .5 .7 .4 1.1 .5 0 .4-.1 .5 4.4 .5-3.6 .2-1.2 .2-.1 .5-.3 .5-.3 .4-.8 .5-.5 .4 .2 .5 .3 .5 .3 .4 .6 .5 .2 .5 .2 .4-.7 .5-1 .5-.3 .4 0 .5 .8 .4 1 .5 .6 .5-.5 .4 .1 .5 .6 .5 .3 .4 .5 .5 .3 .5 .6 .4 .7 .5 .3 .4 .4 .5 .5 .5 0 .4 0 .5 .3 .5 .5 .4 .7 .5 .5 .5-.2 .4 .1 .5 .3 .4 .5 .5-.2 .5-.5 .4 .2 .5 .7 .5 .4 .4 .5 .5 .1 .4-.1 .5 .2 .5 .6 .4 1.1 .5 .3 .5 .2 .4 .7 .5 .2 .5 .7 .4 1 .5-.1 .4 .3 .5 .3 .5 .6 .4 1.4 .5 .7 .5 .6 .4 .8 .5 1 .4 1 .5 .8 .5 1.3 .4 .4 .5 .8 .5 1.1 .4 1 .5 .7 .5 .7 .4 1 .5 1.2 .4 .8 .5 .8 .5 .9 .4 1 .5 .9 .5 .4 .4 1 .5 1.2 .5 .4 .4 .1 .5 .3 .4 .6 .5 .2 .5 .1 .4 0 .5-.1 .5 .1 .4 .4 .5 .2 .5-.1 .4 .2 .5 .2 .4-.2 .5 .2 .5 .4 .4 0 .5-.1 .5 0 .4-.2 .5-.5 .4-.1 .5 .4 .5 .2 .4 .1 .5 .3 .5 .1 .4-.1 .5 .1 .5 .1 .4-.1 .5 0 .4-.1 .5 .2 .5 .2 .4-.1" stroke="#ff0000"/>
<path clip-path="url(#cTR)" d="M439 252.7l .5-.2 .4-.2 .5 0 .4-.2 .5-.1 .5 .2 .4 0 .5-.2 .5-.2 .4-.4 .5-.5 .5 .4 .4 0 .5-.4 .4-.1 .5 .4 .5 0 .4-.3 .5-.1 .5-.1 .4-.3 .5-.1 .5 .2 .4 .1 .5-.2 .4-.3 .5-.3 .5 .1 .4-.1 .5-.4 .5-.4 .4-.1 .5-.1 .5-.2 .4 0 .5 0 .4-.4 .5-.5 .5-.2 .4-.1 .5 0 .5-.2 .4-.2 .5-.3 .4-.2 .5-.2 .5-.3 .4-.5 .5-.3 .5-.1 .4-.3 .5-.4 .5-.4 .4-.1 .5-.3 .4-.2 .5-.5 .5-.6 .4-.3 .5-.2 .5-.2 .4-.4 .5-.7 .4-.5 .5-.4 .5-.4 .4-.5 .5-.5 .5-.7 .4-.5 .5-.8 .5-.4 .4-.2 .5-.2 .4-.5 .5-1 .5-.5 .4-.2 .5-.5 .5-.5 .4-.4 .5-.4 .5-.4 .4-.4 .5-.1 .4-.8 .5-.3 .5-.2 .4-.9 .5-1.2 .5-1.4 .4-1.5 .5-.7 .5-.2 .4-.1 .5-.3 .4-.7 .5-1.5 .5-.8 .4-.3 .5-.4 .5 .2 .4 .5 .5-.4 .4-1.2 .5-1.4 .5-1 .4-1.3 .5-1.7 .5-.6 .4 .4 .5-.7 .5-.5 .4 .3 .5-.1 .4-.6 .5-.2 .5-.6 .4-1.6 .5-1 .5-.5 .4-.4 .5-.8 .4-.5 .5 0 .5-1 .4-.6 .5-.2 .5-.8 .4-.5 .5 .3 .5 .5 .4-.4 .5-.6 .4-.4 .5-.1 .5-.2 .4-.8 .5-.6 .5 0 .4-.4 .5-1.2 .5-.7 .4-.2 .2 .8 .3 7.8 .1 4.9 .3-7.1 .3-4.5 .2 1.5 .5 .9 .4-.9 .5-1.1 .5-.8 .4 .5 .5 .1 .5 .1 .4 1.6 .5 .7 .4 .3 .5 .6 .5-.3 .4 .6 .5 .7 .5-.4 .4-.6 .5 .1 .4 .1 .5 .6 .5 .9 .4 .8 .5 .8 .5 .5 .4 1.4 .5-.2 .5 .5 .4 1.4 .5 .1 .4 .6 .5 3.6 .5-2.8 .2-3.1 .2 .1 .5 .1 .5-.1 .4-.2 .5-1.1 .4-.6 .5 .6 .5 1.1 .4 .1 .5-.2 .5 0 .4-.1 .5-.6 .5-.1 .4 .1 .5-.4 .4 .8 .5 1.5 .5-.1 .4 .5 .5 .4 .5-.1 .4 .3 .5 .3 .5 .8 .4 .8 .5 .6 .4-.2 .5 .1 .5 .5 .4 .8 .5 .5 .5 0 .4-.3 .5 .2 .5 .7 .4 .5 .5 .7 .4 .1 .5-.1 .5-.3 .4 .4 .5 1 .5 .7 .4-.1 .5 .1 .4-.1 .5 .2 .5 .7 .4 1.1 .5 .5 .5 0 .4 .3 .5 .7 .5 .6 .4 .7 .5 .3 .4 .3 .5 .4 .5 .5 .4 .9 .5 1 .5 .7 .4 1.2 .5 1.2 .4 1.4 .5 1.1 .5 1 .4 .4 .5 .6 .5 1.5 .4 1.4 .5 .6 .5 .4 .4 .9 .5 1.2 .4 .9 .5 1 .5 1 .4 1.2 .5 .7 .5 .7 .4 1 .5 .9 .5 .3 .4 .4 .5 .5 .4 .8 .5 .3 .5 .1 .4 .1 .5 0 .5 .1 .4-.3 .5-.1 .5 .4 .4 .4 .5 0 .4-.1 .5 .1 .5 .1 .4-.3 .5 .1 .5 .2 .4 .3 .5 .1 .4 .4 .5-.5 .5 0 .4 0 .5 .1 .5 0 .4 .1 .5 .3 .5 .2 .4-.3 .5 0 .4 .3 .5 .2 .5 0 .4-.1" stroke="#ff0000"/>
<path clip-path="url(#cTR)" d="M439 252.3l .5 0 .4-.2 .5 0 .4-.1 .5 0 .5 .2 .4-.1 .5-.3 .5-.3 .4-.2 .5 .1 .5 0 .4 0 .5-.2 .4-.2 .5 .1 .5 0 .4-.2 .5-.3 .5-.4 .4 0 .5-.1 .5-.1 .4-.3 .5-.1 .4 0 .5-.1 .5-.3 .4-.1 .5-.3 .5-.3 .4-.1 .5 .1 .5 .1 .4-.3 .5-.5 .4-.5 .5-.1 .5-.3 .4-.2 .5 0 .5-.4 .4-.4 .5-.2 .4-.5 .5-.6 .5-.3 .4-.2 .5-.6 .5-.1 .4-.2 .5-.1 .5-.2 .4-.2 .5 0 .4-.5 .5-.5 .5-.5 .4-.4 .5-.3 .5-.7 .4-.8 .5-.4 .4-.5 .5-.7 .5-.7 .4-.6 .5-.4 .5-.7 .4-.8 .5-.5 .5-.7 .4 0 .5 0 .4-.6 .5-1 .5-1.1 .4-.9 .5-.4 .5 0 .4-.1 .5-.4 .5-.3 .4-.7 .5-.7 .4-.2 .5-.7 .5-.8 .4-.6 .5-.8 .5-1 .4-1.7 .5-1.7 .5-.2 .4-.2 .5-.3 .4-.4 .5-1.1 .5-1.1 .4-1.2 .5-.5 .5 .1 .4 0 .5 .1 .4-1.3 .5-1.7 .5-1.8 .4-1.9 .5-1.1 .5 .1 .4-.7 .5-1 .5-.4 .4-.4 .5-.1 .4 .2 .5 .1 .5-.7 .4-1.5 .5-1.6 .5-.8 .4-4.4 .5 3.6 .4-.4 .5 .2 .5-.7 .4-2.1 .5-.9 .5 .5 .4 .2 .5 0 .5-.1 .4-.9 .5-1.4 .4-.8 .5 0 .5 .4 .4 1.1 .5 0 .5-2.5 .4-1.4 .5-.7 .5-.7 .4 .6 .2 1.1 .3 8.9 .1 4.4 .3-7.1 .3-4.4 .2-.6 .5 .1 .4-.1 .5-.7 .5-1.2 .4 .8 .5 1.2 .5 1.2 .4 .5 .5 .4 .4 .6 .5 .6 .5 .3 .4 .5 .5 0 .5-.5 .4 .3 .5 1.4 .4 .4 .5 0 .5 .6 .4 .8 .5 1 .5 .5 .4 .4 .5 .2 .5 .8 .4 1.4 .5 .9 .4-.2 .5 5.6 .5-5.2 .2-2.8 .2 .1 .5 .5 .5-.3 .4-1.2 .5-.7 .4-.2 .5 1.1 .5-.9 .4 .9 .5 .5 .5-.3 .4 0 .5-.2 .5-1 .4-.6 .5 .8 .4 2 .5 1 .5 0 .4 0 .5 .1 .5 1.7 .4 .7 .5 .2 .5 .6 .4 .3 .5 .6 .4 .3 .5 .1 .5 0 .4 .1 .5 .3 .5-.1 .4 .1 .5 .7 .5 .8 .4 .8 .5 .7 .4 .8 .5 .3 .5-.7 .4-1.1 .5 .6 .5 .3 .4 .3 .5 .5 .4 .6 .5 .4 .5 .4 .4 .6 .5 .4 .5 .6 .4 1 .5 0 .5 .2 .4 1.2 .5 1.2 .4 .3 .5 .3 .5 1.2 .4 1.6 .5 .6 .5 .7 .4 .3 .5 1.3 .4 1.9 .5 1.3 .5 1.2 .4 1 .5 .7 .5 1.2 .4 1.4 .5 .8 .5 .6 .4 .9 .5 1.2 .4 1.3 .5 1.3 .5 1.2 .4 1.4 .5 .9 .5 .7 .4 .9 .5 1.4 .5 .7 .4 .1 .5 .3 .4 .6 .5 .4 .5 .4 .4 .3 .5 0 .5-.2 .4 .1 .5 .4 .5 .4 .4 .2 .5 .1 .4 .2 .5 .2 .5-.4 .4-.3 .5 .2 .5 .2 .4 .2 .5 .1 .4-.1 .5 0 .5 .1 .4 0 .5 .1 .5 .1 .4 .1 .5 .1 .5 .2 .4-.2 .5 .1 .4 .2 .5 .1 .5 .1 .4-.2" stroke="#00b000"/>
<path clip-path="url(#cTR)" d="M439 252.2l .5 .2 .4 .1 .5 0 .4-.2 .5-.1 .5-.1 .4-.3 .5-.3 .5-.2 .4-.2 .5 .1 .5 0 .4-.4 .5-.3 .4 0 .5 .1 .5-.1 .4-.2 .5-.1 .5 .1 .4-.2 .5-.4 .5-.1 .4-.9 .5-.3 .4 .1 .5 0 .5-.3 .4-.1 .5 0 .5-.2 .4-.3 .5-.1 .5 0 .4-.4 .5-.4 .4-.5 .5-.3 .5 .1 .4-.4 .5-.4 .5-.4 .4-.8 .5-.6 .4-.1 .5 0 .5-.2 .4-.3 .5-.6 .5-.9 .4-.6 .5-.4 .5-.3 .4-.2 .5-.2 .4-.3 .5-.5 .5-.5 .4-.5 .5-1.1 .5-.6 .4-.4 .5-.7 .4-.6 .5-1.1 .5-.6 .4-.6 .5-.1 .5-.8 .4-1 .5-.9 .5-.8 .4-.3 .5-.4 .4-.8 .5-1 .5-.6 .4-1 .5-.8 .5-.4 .4-.6 .5-1 .5-.3 .4-.3 .5-.2 .4-.6 .5-1.3 .5-.6 .4-.2 .5-.9 .5-1.8 .4-2.4 .5-1.4 .5-.7 .4-.7 .5-.7 .4-1 .5-1 .5-1.1 .4-1 .5-.8 .5-.6 .4 .2 .5-.3 .4-1.4 .5-1.6 .5-2.1 .4-2.9 .5-1.5 .5 0 .4-.9 .5-.3 .5 .5 .4-.2 .5-.8 .4-.2 .5-.2 .5-.5 .4-.9 .5-1.6 .5-.8 .4-1.4 .5-2.2 .4-.9 .5 0 .5 .1 .4-.8 .5-1.6 .5-.2 .4 .2 .5-.1 .5-.3 .4 0 .5-1 .4-.3 .5-.6 .5-.1 .4-1.6 .5-1.6 .5 0 .4-.8 .5-1.7 .5 .1 .4 0 .2 .7 .3 13.2 .1 6.6 .3-9.5 .3-6.4 .2 0 .5-1.4 .4-1 .5-.1 .5 .2 .4 1.3 .5 .4 .5 .6 .4 .2 .5 .2 .4 1.2 .5 1.5 .5-.5 .4-.9 .5 .2 .5 .4 .4 1.7 .5 .5 .4 .3 .5 .6 .5 .1 .4 .6 .5 1.7 .5 1.3 .4 .6 .5 .5 .5 1.7 .4 1.1 .5-.7 .4 .4 .5 6.8 .5-5.8 .2-3.1 .2 .4 .5 .2 .5-.6 .4-1.1 .5-1.4 .4-.5 .5 .7 .5 1.2 .4 0 .5-.6 .5 .1 .4-.2 .5-.8 .5 0 .4-.1 .5 1 .4 2.4 .5 1.8 .5-.1 .4-.9 .5 0 .5 .5 .4 .4 .5 1.2 .5 1.8 .4 1.6 .5 .5 .4 .2 .5 .1 .5-.3 .4 .3 .5 0 .5 .4 .4 1 .5-.1 .5-.2 .4 1 .5 1.8 .4 1.4 .5 0 .5-1.4 .4-1.1 .5 .8 .5 1.3 .4 .5 .5 .6 .4 1.3 .5 .3 .5-.2 .4 .2 .5 .9 .5 1.3 .4 .7 .5 .5 .5 .9 .4 .9 .5 .9 .4 .7 .5 .9 .5 1.1 .4 1 .5 .7 .5 1.1 .4 1.6 .5 1.4 .4 1.4 .5 1.6 .5 1.5 .4 1.5 .5 1.2 .5 1.4 .4 1.5 .5 1.8 .5 1.3 .4 .8 .5 1 .4 1.6 .5 1.6 .5 1.5 .4 1.6 .5 1.3 .5 1.1 .4 .8 .5 1.2 .5 .8 .4 .9 .5 .7 .4 .9 .5 .2 .5-.1 .4-.2 .5 0 .5 .2 .4 .4 .5 .2 .5 .4 .4 .2 .5 0 .4 .1 .5 .1 .5 .2 .4-.2 .5 0 .5 0 .4 .2 .5 .3 .4-.1 .5 0 .5 .3 .4 .1 .5 0 .5-.2 .4 .1 .5 .3 .5 0 .4-.2 .5 .1 .4 .4 .5 .2 .5-.2 .4-.1" stroke="#00b000"/>
<path clip-path="url(#cTR)" d="M439 252.4l .5 .2 .4-.3 .5 .2 .4 .3 .5-.1 .5-.4 .4-.1 .5 .1 .5 .2 .4-.2 .5-.3 .5 .2 .4 .2 .5-.3 .4 .1 .5-.1 .5 0 .4-.1 .5 .1 .5 .1 .4-.2 .5-.1 .5-.2 .4 .4 .5-.2 .4 .1 .5-.3 .5 .1 .4 .5 .5-.8 .5 .3 .4 0 .5 .1 .5-.2 .4 0 .5-.2 .4-.1 .5 0 .5-.1 .4 .1 .5-.3 .5 .1 .4-.2 .5-.1 .4 .1 .5-.4 .5 0 .4 .2 .5-.5 .5 0 .4 .5 .5 .1 .5-.4 .4-.3 .5-.1 .4-.1 .5 .1 .5-.3 .4 0 .5 .1 .5-.3 .4-.3 .5 .1 .4-.1 .5-.1 .5-.7 .4 0 .5-.2 .5 .1 .4-.2 .5-.5 .5 .2 .4-.5 .5 .1 .4-.2 .5-.2 .5-.3 .4-.3 .5 .3 .5-.7 .4 .4 .5-.1 .5 .1 .4-.8 .5-.3 .4 .4 .5-.3 .5-.2 .4 .1 .5-.5 .5-.2 .4 .1 .5 0 .5-.4 .4-.2 .5 .3 .4-.4 .5-.3 .5 .7 .4-.9 .5-.5 .5 .6 .4-.7 .5 .2 .4-.3 .5 0 .5 .2 .4 0 .5-1.2 .5 .8 .4-.4 .5-.5 .5 .1 .4-.1 .5 .5 .4-.5 .5 .1 .5 0 .4-.7 .5-.3 .5 .3 .4-.1 .5-.5 .4-.2 .5 .4 .5-.7 .4-.1 .5 .2 .5 .2 .4-.6 .5-.1 .5-.4 .4 .6 .5-.7 .4 .5 .5-.3 .5 .2 .4-.2 .5-.4 .5 .5 .4-.4 .5 .2 .5-.1 .4 .1 .5-.3 .4 .6 .5-.6 .5-.4 .4 0 .5 .7 .5-.2 .4-.3 .5-.7 .5 .6 .4-.2 .5 0 .4-.2 .5 .3 .5-.3 .4-.1 .5-.2 .5 .5 .4-.5 .5-.3 .4 .3 .5 0 .5 .9 .4-1.1 .5-.2 .5 .2 .4 .1 .5-.1 .5-.6 .4 1 .5-.1 .4-.5 .5 .3 .5 .7 .4-.8 .5 0 .5 .3 .4-.4 .5 0 .4 .6 .5-.7 .5-.5 .4 .1 .5 .8 .5 .1 .4-.5 .5 0 .5 .4 .4-.2 .5-.6 .4 .3 .5-.3 .5 .3 .4-.3 .5 .5 .5 0 .4 .1 .5 .3 .5-.5 .4 .3 .5-.2 .4-.2 .5 0 .5-.1 .4 .2 .5-.1 .5-.3 .4 .4 .5-.1 .5 .8 .4-.4 .5-.7 .4 .6 .5 .1 .5-.6 .4 .7 .5-.5 .5 .4 .4 .2 .5 .5 .4-.9 .5 1 .5-.1 .4-.6 .5 .7 .5-.4 .4 .2 .5 .2 .5 .3 .4-.1 .5-.2 .4 .5 .5-.4 .5 .2 .4-.1 .5 .3 .5 0 .4 .2 .5 .1 .4 .2 .5 .2 .5 .5 .4 .6 .5-.2 .5 .1 .4 .9 .5 .4 .5 0 .4 0 .5 .1 .4 .6 .5 .5 .5 0 .4 0 .5 .5 .5-.1 .4 .7 .5-.2 .5-.1 .4 .7 .5 .1 .4-.2 .5-.5 .5 .7 .4 .3 .5-.2 .5 .4 .4 .5 .5 0 .5-.4 .4 .8 .5 0 .4-.4 .5 .3 .5-.1 .4 .6 .5 .1 .5 .1 .4 .3 .5-.1 .4 .1 .5-.1 .5 .4 .4 .2 .5-.1 .5 .1 .4 .1 .5 .3 .5 .3 .4 .2 .5 .2 .4-.2 .5 .1 .5-.3 .4 .4" stroke="#000000"/>
<path clip-path="url(#cTR)" d="M439 252.4l .5 .3 .4-.1 .5 .2 .4 .1 .5-.4 .5 .2 .4 0 .5-.3 .5 .1 .4-.1 .5-.3 .5 .3 .4-.1 .5 .3 .4-.4 .5 0 .5 .3 .4-.3 .5 0 .5 .1 .4-.1 .5-.5 .5 .5 .4 0 .5-.2 .4 .1 .5 .2 .5-.5 .4 0 .5-.2 .5 .4 .4 .1 .5-.4 .5 .3 .4-.3 .5 .1 .4-.2 .5 .1 .5-.2 .4 .2 .5-.7 .5 .2 .4 .2 .5 0 .4-.2 .5 0 .5 0 .4-.5 .5 0 .5 .4 .4-.4 .5 0 .5-.2 .4 .2 .5-.6 .4 .3 .5-.4 .5 .4 .4-.4 .5 .1 .5-.5 .4 .2 .5 0 .4-.1 .5-.3 .5-.4 .4-.1 .5-.1 .5-.4 .4-.3 .5 .5 .5-.6 .4-.5 .5 .5 .4-.2 .5-.3 .5-.2 .4 .1 .5-.3 .5-.5 .4 0 .5 .2 .5 0 .4-.2 .5-.5 .4 .1 .5-.2 .5-.5 .4 .1 .5-.1 .5-.3 .4-.4 .5 .1 .5-.2 .4 .1 .5-.5 .4 .5 .5-.1 .5-.3 .4-.7 .5 0 .5 .5 .4-.3 .5-.4 .4 0 .5-.3 .5 .2 .4 .2 .5-.7 .5-.3 .4 .6 .5 0 .5-.5 .4 .2 .5-.7 .4 .3 .5-.6 .5 .2 .4-.3 .5-.3 .5 .2 .4 .1 .5-.7 .4 .5 .5-.9 .5 .5 .4-.1 .5-.4 .5-.1 .4-.1 .5 .4 .5-.2 .4-.4 .5-.1 .4 .1 .5-.4 .5 .3 .4-.4 .5 0 .5 .1 .4 .1 .5-.3 .5 0 .4-.1 .5 .4 .4-.5 .5-.3 .5 .5 .4-.2 .5 0 .5-.3 .4 .7 .5-1.1 .5 .3 .4 .2 .5-.2 .4-.3 .5 .2 .5-.2 .4-.1 .5 .2 .5-.1 .4-.3 .5 .3 .4 .3 .5-.4 .5-.4 .4 .6 .5-.2 .5 0 .4-.2 .5 .4 .5-.2 .4-.6 .5 .4 .4 .4 .5-.5 .5 .2 .4-.4 .5 .9 .5-.6 .4-.2 .5 .6 .4-.2 .5-.4 .5 .1 .4 .1 .5-.2 .5 .5 .4-.2 .5-.8 .5 .7 .4-.3 .5 .1 .4-.3 .5 .1 .5 0 .4-.2 .5 .2 .5 .6 .4-.3 .5-.6 .5 .1 .4 .4 .5 .4 .4-.3 .5-.8 .5 .3 .4 0 .5 .8 .5-.1 .4-.2 .5 .2 .5-.4 .4 .4 .5-.5 .4 .2 .5 .1 .5-.3 .4 .1 .5 .2 .5 .2 .4 0 .5 .6 .4 .1 .5-.3 .5-.2 .4-.3 .5 .4 .5 .5 .4-.1 .5 .3 .5-.3 .4 .1 .5 .1 .4 0 .5-.2 .5 .2 .4 .6 .5-.4 .5 .6 .4-.2 .5 .2 .4-.3 .5 .7 .5 .1 .4 .4 .5 0 .5 .5 .4 .5 .5-.1 .5 0 .4 .3 .5 .3 .4 .8 .5 .1 .5 .2 .4 .7 .5-.6 .5 1 .4-.2 .5 .5 .5-.2 .4 0 .5 .1 .4 .5 .5 .1 .5-.3 .4 .3 .5 .1 .5-.1 .4 .9 .5-.5 .5-.1 .4 0 .5 .4 .4 .4 .5-.3 .5-.1 .4 .7 .5 .2 .5 0 .4 .2 .5 .5 .4 .2 .5-.1 .5 0 .4-.1 .5 .3 .5 0 .4-.1 .5-.2 .5 .6 .4 .5 .5-.4 .4 .3 .5 0 .5-.1 .4 .2" stroke="#000000"/>
<path clip-path="url(#cTR)" d="M559 252l .5-.1 .4-.1 .5 .1 .5-.1 .4-.1 .5 0 .4-.4 .5-.2 .5-.1 .4 .3 .5-.1 .5-.3 .4 .1 .5-.1 .5-.1 .4 .2 .5-.7 .4 .5 .5-.1 .5-.5 .4 .3 .5-.5 .5 0 .4 0 .5 0 .4 .2 .5-.2 .5-.4 .4-.1 .5 .2 .5-.2 .4-.2 .5-.2 .5-.3 .4-.2 .5 .2 .4-.5 .5 0 .5-.3 .4-.1 .5-.9 .5-.7 .4 0 .5-1.2 .4-.5 .5-.7 .5-.4 .4-.9 .5-.2 .5-.3 .2-.5 .2-.2 .5 .2 .5-1.1 .4-.3 .5-.4 .4 .2 .5-1 .5-.1 .4-.5 .5-.1 .5-.3 .4-.2 .5-.4 .5-.9 .4 .2 .5-.5 .4-.6 .5-.2 .5 .1 .4-.8 .5-.4 .5-1.1 .4 0 .5 .1 .5-.3 .4-.6 .5-.6 .4 1.3 .5 .5 .5 1.6 .4 .1 .5 .5 .5 1.9 .4-.1 .5 .6 .4 .6 .5 .5 .5 .4 .4 .3 .5 .4 .5 .4 .4 0 .5 .5 .5 .4 .4 .8 .5 .3 .4 0 .5 .9 .5-.1 .4 1 .5-.5 .5 .6 .4 .8 .5 .4 .4 .7 .5 0 .5 .1 .4 .6 .5 .6 .5-.1 .4 .8 .5 .4 .5 .6 .4 .2 .5 .1 .4 .8 .5 .9 .5 0 .4 0 .5 .4 .5 .7 .4 .1 .5 .6 .5-.1 .4 .3 .5-.1 .4 0 .5 .1 .5-.4 .4 0 .5 .3 .5-.1 .4-.2 .5 .3 .5 0 .4 .1 .5-.4 .4 .2 .5 0 .5 .1 .4 .1 .5-.3 .5 .3 .4-.1 .5 .2 .4-.1 .5-.1 .5 0 .4 .2 .5-.1 .5-.1 .4 .4 .5-.5 .5 .1 .4 .2 .5-.2 .4-.1 .5 .1 .5-.1 .4 0 .5-.1 .5 .4 .4-.1 .5-.2 .4 0 .5 .2 .5-.1 .4 .1 .5-.2 .5 .3 .4 0 .5 0 .5-.2 .4-.5 .5 .3 .4-.1 .5 .3 .5-.3 .4 .2 .5 0 .5-.1 .4 .4 .5 .1 .5-.1 .4-.5 .5 .1 .4 .1 .5 .1 .5 0 .4-.1 .5 .2 .5-.3 .4 .3 .5-.4 .5 .3 .4 .1 .5-.1 .4 .1 .5-.1 .5 .3 .4-.3 .5-.1 .5 0 .4 .1 .5-.3 .4 .5 .5-.2 .5 0 .4 0 .5 0 .5-.3 .4 .3 .5 .1 .5-.6 .4 .4 .5 .1 .4-.2 .5 .3 .5-.1 .4-.2 .5 .4 .5-.2 .4-.2 .5-.2 .4 .4 .5 0 .5-.2 .4 .4 .5-.1 .5 0 .4 .2 .5 .2 .5-.5 .4-.2 .5 0 .4-.1 .5 .7 .5-.4 .4-.3 .5 .4 .5 .1 .4-.3 .5 .1 .5-.2 .4 .2 .5-.3 .4 .1 .5 .1 .5 .1 .4-.2 .5 .3 .5-.3 .4 0 .5 0 .5 .4 .4-.3 .5 0 .4-.1 .5 .4 .5-.1 .4-.1 .5-.3 .5 .4 .4-.3 .5 .1 .4-.3 .5 .3 .5 .3 .4-.2 .5-.1 .5-.2 .4 .1 .5 .2 .5 .2 .4-.3 .5 .1 .4-.3 .5 .1 .5 .4 .4 .2 .5-.4 .5-.1 .4 .2 .5-.1 .4-.3 .5 .1 .5 .5 .4-.4 .5 0 .5 .1 .4-.1 .5 0 .5-.4 .4 .4 .5 .2 .4-.1 .5-.2 .5-.2 .4 .2 .5 .1" stroke="#ff0000"/>
<path clip-path="url(#cTR)" d="M559 251.4l .5 .3 .4 0 .5-.2 .5-.2 .4 .1 .5-.7 .4 .4 .5-.5 .5 .3 .4 0 .5-.1 .5 0 .4-.4 .5-.2 .5 .1 .4 .1 .5-.3 .4 .1 .5 .3 .5-.6 .4 .3 .5-.3 .5-.3 .4 0 .5-.1 .4-.4 .5-.1 .5-.2 .4 .1 .5-.1 .5-.5 .4 .4 .5-.4 .5 0 .4-.2 .5-.2 .4-.1 .5-.2 .5 .2 .4-1 .5-.3 .5-1.2 .4-.7 .5-.4 .4-.6 .5-.8 .5-.8 .4-.2 .5-.8 .5-1 .2 .2 .2 0 .5-.1 .5-.9 .4-.1 .5-.9 .4-.4 .5-1 .5 .5 .4-.9 .5 .1 .5-.5 .4-.6 .5-.3 .5-1.2 .4 .1 .5-.2 .4-1.4 .5 .6 .5-.6 .4-.5 .5-.2 .5-1 .4-.6 .5 .4 .5-.7 .4-.5 .5 0 .4 1 .5 .8 .5 1.3 .4 .4 .5 .6 .5 1 .4 .8 .5 1.2 .4 .7 .5 .1 .5 .4 .4 .6 .5 .3 .5 .6 .4 .7 .5 0 .5 .6 .4 .8 .5-.2 .4 .5 .5 .4 .5 .7 .4 0 .5 .7 .5 .3 .4 .8 .5 .4 .4 0 .5 .8 .5 .5 .4 .1 .5 .6 .5 .7 .4 .1 .5 1.2 .5 .2 .4 .6 .5 .1 .4 .4 .5 .9 .5 .4 .4 .2 .5 .4 .5 .4 .4 .2 .5 .2 .5 .6 .4 .2 .5-.1 .4 0 .5 0 .5-.2 .4 0 .5 0 .5 .1 .4 0 .5 .2 .5-.1 .4 .1 .5-.2 .4 .1 .5 0 .5-.1 .4 .1 .5-.2 .5 0 .4 .3 .5-.4 .4 .3 .5 .1 .5-.1 .4 .2 .5-.3 .5-.1 .4 .4 .5-.3 .5 0 .4-.1 .5 0 .4 .1 .5 .1 .5-.2 .4 .1 .5-.1 .5 .1 .4 .1 .5 0 .4-.1 .5-.1 .5 .5 .4-.1 .5 0 .5-.2 .4 .1 .5-.2 .5 .1 .4-.3 .5 .4 .4 0 .5 0 .5-.1 .4-.1 .5 .1 .5 .1 .4 .1 .5-.3 .5 .1 .4 .1 .5-.1 .4-.1 .5-.3 .5 .1 .4 .4 .5-.1 .5 .3 .4 0 .5 0 .5-.5 .4 .2 .5 .2 .4-.1 .5-.1 .5 .1 .4-.4 .5 .6 .5-.3 .4-.1 .5 0 .4 .4 .5-.4 .5 .3 .4-.1 .5 .1 .5-.4 .4-.4 .5 .4 .5 .2 .4 .3 .5-.5 .4 0 .5 .3 .5-.3 .4 .5 .5-.1 .5-.3 .4 .3 .5-.4 .4-.1 .5 .2 .5 0 .4-.2 .5 .2 .5-.2 .4 0 .5 .4 .5-.5 .4 .2 .5 .1 .4-.1 .5 .1 .5 0 .4 .2 .5-.1 .5 0 .4-.2 .5 .1 .5 0 .4 .1 .5-.3 .4 .7 .5-.3 .5-.3 .4 .2 .5-.2 .5-.1 .4 .1 .5 .4 .5-.2 .4 .1 .5-.2 .4-.1 .5 .2 .5-.1 .4 .1 .5-.4 .5 .3 .4 0 .5 0 .4-.1 .5 0 .5 .2 .4-.1 .5 0 .5 0 .4 .1 .5 0 .5 0 .4-.1 .5 .1 .4 .1 .5-.1 .5 0 .4-.2 .5 .2 .5 0 .4-.4 .5 .3 .4 .2 .5-.4 .5 .3 .4 .1 .5-.3 .5 .4 .4-.2 .5-.1 .5-.1 .4 .2 .5 0 .4 0 .5-.3 .5 .5 .4-.4 .5 .1" stroke="#ff0000"/>
<path clip-path="url(#cTR)" d="M559 251.7l .5-.5 .4 .2 .5-.1 .5-.1 .4-.2 .5-.2 .4 .1 .5-.5 .5 .3 .4-.1 .5-.1 .5-.2 .4-.3 .5-.3 .5 .4 .4-.1 .5-.3 .4 .1 .5-.3 .5 .3 .4-.5 .5 .5 .5-.6 .4-.2 .5-.4 .4 .6 .5-.5 .5-.2 .4 .2 .5-.4 .5 .1 .4-.1 .5-.1 .5-.4 .4 0 .5 .1 .4-.7 .5 .3 .5-.6 .4-.7 .5-.5 .5-.6 .4-.9 .5-.6 .4-1 .5-.8 .5-1.5 .4 .5 .5-1.2 .5-.8 .2-.3 .2-.4 .5 .3 .5-1 .4 .6 .5-1.2 .4-.8 .5-.4 .5 .1 .4-.6 .5 0 .5-.9 .4-.3 .5-1 .5-.1 .4-1 .5-.2 .4-.4 .5-1.2 .5-.3 .4 .4 .5-1.4 .5-.3 .4-.7 .5-.1 .5 .3 .4-1 .5 .3 .4 .8 .5 1 .5 .5 .4 1.3 .5 .8 .5 .7 .4 1.5 .5 .2 .4 1.2 .5 .8 .5 .4 .4 .3 .5 .2 .5 .3 .4 .9 .5 .5 .5-.1 .4 .1 .5 .8 .4 1 .5 .6 .5 .2 .4 .6 .5 .8 .5-.1 .4 .2 .5 1.3 .4 .5 .5 .4 .5 .7 .4 .1 .5 1 .5 .1 .4 .6 .5 .4 .5 1 .4 .2 .5 .5 .4 .5 .5 .6 .5 .7 .4 .1 .5 .3 .5 .4 .4 .7 .5 .2 .5 .6 .4-.1 .5-.2 .4 .4 .5-.7 .5 .2 .4 .4 .5-.1 .5 0 .4 0 .5 .2 .5-.2 .4 .2 .5-.1 .4-.5 .5 .4 .5 0 .4-.3 .5 .2 .5-.1 .4 .3 .5-.3 .4 .2 .5-.2 .5 0 .4-.1 .5 .1 .5 .2 .4 .1 .5-.1 .5 .1 .4-.4 .5 .3 .4 .3 .5-.4 .5-.1 .4 .3 .5-.3 .5 .4 .4-.3 .5 .1 .4-.1 .5 0 .5 .2 .4-.3 .5 .2 .5-.1 .4-.2 .5 .4 .5-.2 .4-.2 .5 0 .4 .4 .5 0 .5-.2 .4 .2 .5-.2 .5 .3 .4-.4 .5 .4 .5-.3 .4-.1 .5 .3 .4 .1 .5 0 .5 .1 .4-.7 .5 .7 .5-.1 .4-.3 .5 0 .5-.1 .4-.1 .5 .2 .4 .1 .5 .1 .5-.1 .4-.2 .5 0 .5 0 .4 .4 .5-.1 .4 0 .5-.1 .5 .1 .4-.3 .5 0 .5-.2 .4 .4 .5 0 .5-.1 .4 .1 .5 .1 .4-.3 .5 .5 .5-.3 .4 .3 .5-.5 .5 .4 .4 0 .5-.2 .4 .1 .5-.2 .5 .1 .4-.4 .5 .6 .5-.1 .4-.2 .5 0 .5 0 .4 .1 .5-.2 .4 .1 .5-.2 .5 .5 .4-.3 .5 .1 .5-.1 .4 .2 .5-.3 .5 .4 .4-.4 .5 .1 .4 .4 .5-.4 .5 .4 .4-.4 .5 .3 .5-.2 .4 0 .5 .2 .5 .1 .4-.4 .5 .1 .4-.2 .5 .2 .5-.5 .4 .4 .5-.3 .5 .3 .4 0 .5 0 .4 .2 .5 0 .5-.4 .4 .3 .5 .2 .5-.3 .4 .2 .5-.2 .5-.2 .4 0 .5-.1 .4 .1 .5 .1 .5 0 .4 .1 .5 .1 .5-.5 .4 .5 .5-.4 .4 .4 .5-.3 .5 .7 .4-.5 .5 .2 .5-.4 .4 0 .5 .4 .5-.1 .4-.2 .5 .1 .4 0 .5-.1 .5 .4 .4-.5 .5 .2" stroke="#ff0000"/>
<path clip-path="url(#cTR)" d="M559 251.6l .5-.5 .4-.5 .5 .4 .5-.2 .4 .1 .5-.3 .4 0 .5 0 .5-.2 .4-.2 .5-.3 .5 .1 .4-.3 .5-.3 .5 0 .4 .1 .5 .2 .4-.4 .5-.2 .5-.3 .4 .1 .5-.7 .5 .5 .4-.3 .5 .2 .4 0 .5-.4 .5-.3 .4-.2 .5 .7 .5-1.2 .4-.2 .5-.2 .5 0 .4 0 .5-.3 .4-.3 .5 .3 .5-.5 .4-.9 .5-.7 .5-1.3 .4-.2 .5-.8 .4-1.1 .5-.7 .5-1.5 .4 .1 .5-1 .5-1 .2-.4 .2 .3 .5-1.3 .5 .5 .4-1.4 .5 .1 .4-.7 .5-1.3 .5 .1 .4-.3 .5-.8 .5-1.1 .4 .1 .5-.2 .5-.9 .4 0 .5-.8 .4-.6 .5-1 .5-.1 .4-.9 .5-.8 .5-.7 .4 .7 .5-1.2 .5-.1 .4-1.3 .5-.3 .4 1.4 .5 1.6 .5 1.6 .4 1.3 .5 0 .5 1.4 .4 .9 .5 .9 .4 .9 .5 .1 .5 1.3 .4 .2 .5 1.3 .5 .1 .4 .7 .5 .5 .5-.1 .4 .9 .5 .6 .4 .5 .5 .6 .5 .6 .4 .7 .5 .5 .5 .5 .4 .5 .5 1 .4 0 .5 .6 .5 .5 .4 1 .5 .5 .5 .2 .4 1 .5 .3 .5 .9 .4 .7 .5 .7 .4 .4 .5 .6 .5 .7 .4-.1 .5 .7 .5 .6 .4 0 .5 .6 .5 .7 .4 0 .5-.1 .4-.2 .5 .4 .5-.5 .4 .3 .5-.2 .5 .2 .4-.1 .5-.1 .5-.1 .4 .4 .5-.5 .4 .6 .5-.3 .5-.1 .4 .1 .5-.1 .5 .4 .4-.3 .5-.1 .4 .1 .5 .2 .5-.2 .4 0 .5 .2 .5-.4 .4 .3 .5 .1 .5-.2 .4 .2 .5-.1 .4-.1 .5 .1 .5-.2 .4 .1 .5-.2 .5 .4 .4-.2 .5 0 .4 0 .5 .4 .5-.2 .4-.2 .5-.1 .5 .1 .4 0 .5-.2 .5 .3 .4 .1 .5-.4 .4 .1 .5 .2 .5 .1 .4-.4 .5 .3 .5 .1 .4-.4 .5 .5 .5-.2 .4-.2 .5 .2 .4 0 .5-.1 .5 .2 .4-.1 .5-.2 .5 .3 .4-.4 .5 .3 .5 0 .4 0 .5-.2 .4 .2 .5-.1 .5-.2 .4 0 .5 .5 .5-.5 .4 .3 .5-.1 .4 0 .5 0 .5 .1 .4-.2 .5 0 .5 .2 .4-.1 .5-.1 .5 0 .4 .1 .5 0 .4 0 .5 .1 .5-.1 .4 .1 .5 0 .5 .3 .4-.1 .5-.3 .4-.1 .5 .1 .5 0 .4 .1 .5-.2 .5 .2 .4-.1 .5-.2 .5 .5 .4-.2 .5 0 .4 .3 .5-.2 .5-.3 .4 .1 .5 .1 .5-.3 .4 .4 .5-.5 .5 .4 .4 0 .5-.2 .4 0 .5 .1 .5 .1 .4 .3 .5 0 .5-.4 .4-.1 .5 .3 .5-.2 .4 .3 .5 0 .4-.2 .5-.2 .5 0 .4-.1 .5 .4 .5-.1 .4-.2 .5 .3 .4-.1 .5-.1 .5 0 .4-.1 .5 .1 .5 .1 .4 .3 .5-.5 .5 0 .4 .1 .5 0 .4 0 .5-.2 .5 .3 .4 0 .5 .1 .5-.1 .4 .1 .5 0 .4 .2 .5-.3 .5-.2 .4 .7 .5-.8 .5 .3 .4 .1 .5-.2 .5 .1 .4 0 .5-.3 .4 .2 .5 0 .5 .1 .4 0 .5 .1" stroke="#ff0000"/>
<path clip-path="url(#cTR)" d="M559 250.9l .5-.1 .4 .3 .5-.6 .5 .2 .4-.4 .5 .2 .4-.4 .5-.2 .5 .3 .4-.5 .5 .2 .5-.6 .4 .1 .5-.1 .5-.7 .4 .3 .5 .1 .4-.4 .5 0 .5-.3 .4 .4 .5-.8 .5 .4 .4-.1 .5-.1 .4-.2 .5-.7 .5 .2 .4 .1 .5-.4 .5-.3 .4-.3 .5 .1 .5-.3 .4-.8 .5 .5 .4-.3 .5 .2 .5-.7 .4-.6 .5-1.6 .5-.8 .4-.8 .5-.6 .4-1 .5-.9 .5-1.1 .4-.8 .5-.9 .5-.8 .2-.2 .2-.2 .5-1 .5-.6 .4 0 .5-1.5 .4 0 .5-.9 .5-.8 .4 .6 .5-1.3 .5-.7 .4-.7 .5-.4 .5-.7 .4 .4 .5-.8 .4-1.2 .5 .4 .5-1.2 .4-.7 .5-.9 .5-.8 .4-.3 .5-.2 .5-.5 .4-1.2 .5-.7 .4 1.6 .5 1.7 .5 1.5 .4 1.7 .5 .6 .5 .8 .4 1.8 .5 .5 .4 1 .5 .1 .5 1.4 .4 .6 .5 .9 .5 .6 .4 .7 .5 .7 .5-.3 .4 .8 .5 .6 .4 1.1 .5 .8 .5 .5 .4-.4 .5 .8 .5 1.3 .4 .2 .5 .5 .4 1 .5 .5 .5 .2 .4 .8 .5 .6 .5 .8 .4 .7 .5 .6 .5 .8 .4 .3 .5 1 .4 .6 .5 .8 .5 .8 .4 .3 .5 .5 .5 .6 .4 .2 .5 .2 .5 .8 .4 .1 .5 .1 .4 .1 .5-.4 .5 0 .4 .3 .5-.2 .5 .2 .4-.4 .5 .2 .5 0 .4-.3 .5 .7 .4-.4 .5 0 .5 .1 .4-.1 .5-.2 .5 .4 .4 0 .5-.5 .4 .2 .5 .1 .5-.1 .4 .1 .5 .1 .5 0 .4-.1 .5 .1 .5 .2 .4-.2 .5-.1 .4 .1 .5-.2 .5 .1 .4-.1 .5 .1 .5 .1 .4-.2 .5 0 .4 .2 .5 .1 .5-.4 .4 .3 .5-.1 .5 .1 .4-.1 .5-.2 .5-.1 .4 .6 .5 0 .4 .3 .5-.7 .5-.1 .4 .2 .5 .1 .5-.2 .4 .3 .5-.3 .5-.1 .4 0 .5 .1 .4 .2 .5 0 .5 .1 .4-.5 .5 .1 .5 .2 .4 .1 .5-.1 .5 .2 .4-.3 .5 .1 .4 0 .5 0 .5 .5 .4-.4 .5 .2 .5 0 .4-.6 .5 .4 .4 0 .5 0 .5 .1 .4-.4 .5 .6 .5-.4 .4 .1 .5-.3 .5 .1 .4 .1 .5 .3 .4-.4 .5 0 .5 0 .4 .2 .5-.2 .5 .3 .4-.2 .5 0 .4 .1 .5 .1 .5-.1 .4 .1 .5 0 .5-.3 .4 .2 .5 0 .5 0 .4-.1 .5 .1 .4 .1 .5-.2 .5 0 .4 .2 .5 0 .5-.4 .4 .3 .5-.3 .5 .1 .4 .2 .5 0 .4-.3 .5 .4 .5-.1 .4 .1 .5-.1 .5 .1 .4-.2 .5 .3 .5-.3 .4 0 .5 0 .4 .1 .5-.3 .5-.1 .4 .4 .5 .1 .5-.3 .4 .2 .5-.1 .4-.1 .5 .4 .5-.4 .4 .3 .5 .1 .5-.2 .4-.3 .5 .4 .5-.2 .4 .2 .5-.3 .4 .1 .5-.2 .5 .2 .4 0 .5 .4 .5-.4 .4-.1 .5 .1 .4 0 .5-.1 .5 0 .4 .3 .5-.1 .5-.1 .4 0 .5 .2 .5 .2 .4-.4 .5-.1 .4-.1 .5 .2 .5 .2 .4-.2 .5 .1" stroke="#ff0000"/>
<path clip-path="url(#cTR)" d="M559 250l .5-1.2 .4-.2 .5-.7 .5-1.4 .4 0 .5-.2 .4-.5 .5-.8 .5 0 .4-.5 .5 .2 .5-.8 .4-.5 .5-.4 .5-.8 .4-.1 .5 .6 .4-.7 .5-.6 .5-.5 .4-.5 .5-.4 .5 .3 .4-.2 .5-1.1 .4 .2 .5 .1 .5-.8 .4-.4 .5-.1 .5-.4 .4-.9 .5 .3 .5-.8 .4 .4 .5 .6 .4-.5 .5 2.3 .5 .1 .4 2.2 .5-1.2 .5-1.1 .4-1.2 .5-.9 .4-.7 .5-.9 .5-1.5 .4-1.1 .5-.3 .5-1.6 .2-.2 .2-.3 .5-.2 .5-.7 .4-1.3 .5 .5 .4-1.6 .5-1.1 .5 .1 .4-2 .5-.8 .5 .5 .4-.8 .5-.4 .5-.2 .4-.4 .5-.8 .4-1 .5 .4 .5-.4 .4-.6 .5-.1 .5-1.1 .4 0 .5-.2 .5-1.3 .4 .7 .5-1.2 .4 2.6 .5 2.5 .5 3.2 .4 2.4 .5 2.3 .5 .3 .4 .8 .5 .6 .4 .8 .5 .3 .5 1.6 .4-.6 .5 .5 .5 1 .4 1 .5 0 .5 1.3 .4 .1 .5 1.2 .4 .9 .5 .5 .5 .9 .4 .5 .5 .6 .5 1 .4 .8 .5 .7 .4 .6 .5 .9 .5 .6 .4 1 .5 1 .5 .9 .4 1.1 .5 .7 .5 1.1 .4 .1 .5 .3 .4 .4 .5 0 .5 0 .4 .1 .5 .2 .5-.1 .4 .5 .5 0 .5-.2 .4 .1 .5-.2 .4-.1 .5-.3 .5 .7 .4-.1 .5-.2 .5 .3 .4-.1 .5-.4 .5 .3 .4 0 .5-.2 .4 .4 .5-.3 .5 .1 .4-.1 .5 .2 .5-.1 .4 0 .5-.2 .4 .3 .5-.2 .5 .4 .4-.4 .5-.1 .5 .3 .4-.1 .5 0 .5-.1 .4-.1 .5 .1 .4 .1 .5 0 .5-.1 .4-.1 .5 .1 .5 .2 .4-.1 .5 .1 .4 0 .5 0 .5 0 .4-.2 .5 .3 .5-.2 .4 .2 .5-.3 .5 0 .4-.1 .5 .1 .4 .3 .5-.2 .5 .1 .4 0 .5 .1 .5-.1 .4-.1 .5 0 .5-.4 .4 .4 .5 0 .4 0 .5 .1 .5 0 .4-.1 .5 0 .5-.1 .4 0 .5 .3 .5-.2 .4 0 .5 .1 .4 0 .5-.1 .5-.1 .4 .1 .5 .1 .5-.1 .4-.2 .5 .4 .4-.3 .5 .2 .5-.7 .4 .5 .5 .1 .5 .1 .4 .2 .5-.2 .5-.4 .4 .3 .5 .1 .4-.1 .5 0 .5 .2 .4-.2 .5 0 .5 .3 .4-.2 .5 .4 .4-.2 .5-.4 .5 0 .4-.2 .5 .6 .5-.2 .4 0 .5-.2 .5 .1 .4 .1 .5-.1 .4 .1 .5-.2 .5 .2 .4-.2 .5 .1 .5 0 .4 .3 .5 0 .5 0 .4-.3 .5 .4 .4-.5 .5 .2 .5 .2 .4-.3 .5 .3 .5-.2 .4 0 .5-.2 .5 0 .4 0 .5 .3 .4-.3 .5 .2 .5 0 .4-.1 .5 .1 .5 .2 .4-.3 .5 .4 .4-.4 .5 .1 .5 0 .4 .2 .5-.4 .5 .2 .4-.1 .5 .2 .5 0 .4-.1 .5-.2 .4 .4 .5-.1 .5 0 .4 0 .5 0 .5-.3 .4 .1 .5 .1 .4-.1 .5 0 .5 .2 .4 .1 .5-.3 .5-.2 .4 .7 .5-.3 .5-.2 .4 .3 .5-.3 .4 .1 .5 .3 .5-.2 .4-.1 .5 .2" stroke="#00b000"/>
<path clip-path="url(#cTR)" d="M559 248.9l .5-.4 .4-.8 .5-.9 .5-.3 .4-1 .5-.7 .4-.3 .5-.4 .5-.9 .4-.3 .5-.5 .5-.2 .4-.4 .5-.3 .5-.7 .4 .1 .5-.7 .4-.8 .5-.5 .5-.2 .4-.1 .5-.8 .5 0 .4-.6 .5-.1 .4-1.2 .5-.3 .5 .4 .4-.3 .5-.7 .5-.6 .4-.6 .5 .1 .5 0 .4-.1 .5 .5 .4 1 .5 1 .5 1.3 .4 1.6 .5-1.5 .5-1.3 .4-1.2 .5-.5 .4-1.2 .5-1.6 .5-.8 .4-1.1 .5-2.1 .5 .6 .2-1.2 .2-.4 .5-1.1 .5-1.5 .4-.2 .5-.7 .4-1.1 .5-.6 .5-1.1 .4-1.8 .5 .5 .5-1 .4-.5 .5 .4 .5-1.6 .4-.2 .5 .4 .4-1.2 .5-.6 .5 0 .4-1.5 .5 .2 .5-.2 .4-1.6 .5-.2 .5-.7 .4 .3 .5-.7 .4 2.9 .5 2.6 .5 3.1 .4 2.4 .5 3 .5 1.2 .4 .8 .5-.1 .4 1.4 .5 .3 .5 1.3 .4 .5 .5 .7 .5 1 .4 .5 .5 1.2 .5 .6 .4 .7 .5 .3 .4 2 .5 .3 .5 .6 .4 1.1 .5 .6 .5 1 .4 .9 .5 1.1 .4 .8 .5 .9 .5 1.1 .4 .8 .5 1.4 .5 1.1 .4 1.2 .5 .7 .5 1.4 .4 .2 .5-.1 .4 .4 .5 0 .5 .2 .4 .1 .5 .2 .5 .6 .4-.7 .5 .1 .5 .4 .4-.4 .5 .2 .4 0 .5-.2 .5 0 .4 0 .5-.1 .5 .1 .4 .3 .5 .1 .5-.3 .4 .4 .5-.2 .4 0 .5 0 .5-.3 .4 .2 .5 .1 .5-.2 .4 .2 .5-.3 .4-.1 .5 .4 .5 0 .4-.3 .5 .6 .5-.2 .4 0 .5 .1 .5-.3 .4 0 .5 0 .4 0 .5-.1 .5 0 .4-.1 .5 .3 .5-.1 .4-.2 .5 .2 .4-.2 .5 .3 .5 0 .4 .1 .5-.1 .5-.1 .4 .1 .5-.4 .5 .6 .4-.4 .5 .4 .4-.3 .5 .2 .5-.1 .4 0 .5 .1 .5 .1 .4-.1 .5-.1 .5-.2 .4-.1 .5 .6 .4-.4 .5 .2 .5-.1 .4-.1 .5 0 .5 0 .4 .1 .5-.3 .5 .3 .4 0 .5-.2 .4 .4 .5 0 .5-.4 .4 .2 .5 .3 .5-.4 .4-.1 .5 .3 .4 .1 .5-.2 .5 0 .4 .1 .5 .1 .5-.3 .4 0 .5 .4 .5-.1 .4-.1 .5 0 .4-.1 .5-.1 .5-.2 .4 .3 .5-.1 .5 .4 .4-.1 .5-.3 .4 .4 .5-.5 .5 .2 .4 0 .5 .1 .5 .1 .4 0 .5-.1 .5 0 .4-.2 .5 .3 .4 0 .5 .2 .5-.4 .4 .1 .5-.2 .5-.2 .4 .3 .5 .2 .5-.2 .4 0 .5 .1 .4 .2 .5-.3 .5 .3 .4-.2 .5 0 .5 .4 .4-.5 .5-.3 .5 .4 .4 .1 .5-.3 .4 .4 .5-.2 .5 0 .4 .1 .5-.1 .5 .1 .4 0 .5-.2 .4 .3 .5-.1 .5 0 .4-.2 .5 .2 .5 .1 .4-.2 .5 .4 .5-.1 .4-.3 .5-.3 .4 .4 .5-.1 .5 .3 .4-.3 .5 0 .5-.1 .4 .3 .5-.5 .4 .5 .5-.4 .5 .4 .4-.3 .5-.1 .5-.1 .4 .4 .5 .2 .5-.4 .4 .3 .5 0 .4-.1 .5 .1 .5-.3 .4 .1 .5-.1" stroke="#00b000"/>
<path clip-path="url(#cTR)" d="M559 248.4l .5-.9 .4-1.2 .5-.9 .5-.6 .4-1 .5-.6 .4 0 .5-.8 .5-.3 .4-.3 .5-.9 .5-.7 .4-.7 .5-.2 .5-.6 .4-.1 .5-.1 .4-.7 .5-.8 .5-.2 .4-1.2 .5-.2 .5 0 .4-1 .5-.1 .4-.8 .5 .2 .5-.7 .4-.1 .5-.5 .5-.8 .4-.7 .5 .1 .5-.4 .4 .9 .5 .2 .4 .3 .5 2.1 .5 1.3 .4 1.8 .5-1.7 .5-1.5 .4-1.1 .5-1.1 .4-1.1 .5-1 .5-1.9 .4-1.9 .5-.6 .5-1.4 .2-.5 .2-.2 .5-1.8 .5-.8 .4-.1 .5-1 .4-2.1 .5 0 .5-1.3 .4-.5 .5-1.6 .5-.4 .4-.6 .5-.3 .5-2 .4-.8 .5 .6 .4-.7 .5-.5 .5-.2 .4-.7 .5-.5 .5-1.2 .4 .4 .5-.9 .5-1.5 .4 .5 .5-2.3 .4 4.5 .5 3.2 .5 3 .4 4.1 .5 3.4 .5 1.1 .4 .3 .5 .8 .4 1.3 .5 .2 .5 .7 .4 1 .5 1.2 .5 .3 .4 .8 .5 1.6 .5 1.4 .4 .6 .5 .7 .4 .5 .5 1 .5 1.1 .4 1.4 .5 .6 .5 1.2 .4 1.3 .5 1.2 .4 .3 .5 1.7 .5 .3 .4 1 .5 1.8 .5 1.5 .4 1.2 .5 1.3 .5 1.1 .4 .1 .5 .5 .4 .1 .5 .2 .5-.1 .4 .2 .5 .5 .5 .1 .4-.1 .5 .4 .5-.3 .4-.1 .5 .3 .4-.3 .5 .1 .5 .1 .4-.3 .5 .3 .5-.2 .4 .1 .5-.2 .5 .3 .4-.2 .5 0 .4-.1 .5-.1 .5 .5 .4-.2 .5 .2 .5-.4 .4 0 .5 .2 .4 0 .5-.2 .5 .2 .4 0 .5 .3 .5-.2 .4-.3 .5 .5 .5-.3 .4 0 .5 0 .4-.1 .5 .2 .5-.3 .4 .3 .5-.3 .5 .3 .4-.1 .5 .1 .4-.4 .5 .5 .5-.1 .4-.3 .5 .1 .5 .1 .4 .1 .5 .2 .5-.2 .4-.1 .5-.2 .4 .1 .5-.1 .5 .2 .4 .2 .5-.1 .5-.3 .4 .2 .5-.2 .5 .5 .4-.2 .5 .1 .4-.2 .5 .2 .5 .1 .4-.2 .5 .4 .5-.3 .4-.2 .5 .3 .5-.2 .4 .1 .5-.1 .4-.1 .5 0 .5 0 .4 .2 .5-.4 .5 .2 .4 .2 .5-.3 .4 .3 .5-.4 .5 .2 .4 .1 .5 .1 .5 0 .4 0 .5 0 .5-.3 .4 .2 .5 0 .4-.1 .5 .2 .5 .1 .4 .1 .5-.5 .5 .3 .4-.4 .5 0 .4 .3 .5-.1 .5 .2 .4-.1 .5 0 .5 0 .4-.2 .5 .2 .5-.1 .4 .1 .5-.1 .4-.2 .5 .6 .5-.5 .4 .4 .5-.2 .5 .1 .4 0 .5 .2 .5 .2 .4-.8 .5 .2 .4 .2 .5 .3 .5-.5 .4-.1 .5 .2 .5 .4 .4-.2 .5-.2 .5 .1 .4-.2 .5 .3 .4 0 .5 .3 .5-.6 .4 .1 .5 .2 .5 .2 .4-.5 .5 .4 .4 0 .5 .1 .5-.1 .4 0 .5 0 .5-.4 .4 .1 .5 .1 .5 .1 .4-.1 .5 .2 .4-.3 .5 .3 .5-.1 .4-.1 .5 .2 .5 .1 .4-.5 .5 .5 .4 0 .5-.1 .5 0 .4-.1 .5 .5 .5-.5 .4-.3 .5 0 .5 .1 .4 .2 .5-.1 .4 .1 .5 .2 .5-.3 .4-.1 .5 .1" stroke="#00b000"/>
<path clip-path="url(#cTR)" d="M559 247.7l .5-1.3 .4-.6 .5-1.4 .5-1.5 .4-.8 .5-1 .4 .1 .5-1 .5-.3 .4-.7 .5-.5 .5-.8 .4-.7 .5-.2 .5-.7 .4-.4 .5-.7 .4-.3 .5-1.2 .5-.4 .4-.4 .5-.4 .5-.3 .4-.4 .5-.4 .4-.6 .5-1.1 .5-.4 .4 .2 .5-.6 .5-1.4 .4-.7 .5-.1 .5-1.1 .4 1.7 .5 .2 .4 1 .5 .8 .5 2.5 .4 1.9 .5-1.5 .5-1.2 .4-1.7 .5-.7 .4-2.3 .5-1.3 .5-2.2 .4-1.8 .5-1.1 .5-.9 .2-.8 .2-1.4 .5-.6 .5-1.2 .4-.7 .5-1.8 .4-1.1 .5-1.5 .5-.2 .4-1.6 .5-.4 .5-2 .4-.5 .5-.4 .5-1.4 .4 .7 .5-2.3 .4 .1 .5-.7 .5-.5 .4-.2 .5-.8 .5-1.8 .4-.1 .5-1 .5-.4 .4-1.6 .5-.6 .4 5.3 .5 2.2 .5 4.7 .4 4.3 .5 4.4 .5 1.1 .4 .5 .5 .1 .4 2.2 .5 1.4 .5 .4 .4 .9 .5 .5 .5 2.1 .4 .7 .5 1.1 .5 .6 .4 1.1 .5 1.5 .4 .8 .5 1.4 .5 1.2 .4 1.9 .5 .7 .5 1.3 .4 .7 .5 1.3 .4 1.5 .5 .9 .5 1.3 .4 1.4 .5 1.7 .5 1.6 .4 1 .5 1.9 .5 1.2 .4 .6 .5 .1 .4 .3 .5 .3 .5-.1 .4 .6 .5-.1 .5 .7 .4-.5 .5 .1 .5-.2 .4-.2 .5 .5 .4-.1 .5 .2 .5-.1 .4-.1 .5 0 .5-.1 .4 0 .5-.1 .5 .3 .4-.1 .5 .2 .4-.1 .5 .4 .5-.4 .4-.1 .5 .1 .5 0 .4 .2 .5-.1 .4 0 .5-.2 .5 0 .4 .1 .5 0 .5-.1 .4 .2 .5-.3 .5-.2 .4 .3 .5 .2 .4-.2 .5-.1 .5-.1 .4 .5 .5-.3 .5 .2 .4 0 .5-.2 .4 0 .5 .1 .5 .1 .4-.1 .5 .2 .5-.5 .4 .6 .5-.4 .5 .1 .4 0 .5 .2 .4-.1 .5 0 .5 0 .4 0 .5-.1 .5 .1 .4-.2 .5 0 .5 .2 .4-.2 .5 .1 .4 .1 .5-.2 .5-.1 .4 .3 .5 .3 .5-.5 .4 0 .5 .3 .5-.1 .4-.1 .5 .5 .4-.6 .5 0 .5 0 .4-.1 .5 .4 .5-.3 .4-.2 .5 .8 .4-.4 .5-.2 .5 .3 .4 .2 .5-.4 .5 0 .4 .2 .5-.2 .5-.1 .4 0 .5 .1 .4 .3 .5-.2 .5 .4 .4-.2 .5-.2 .5-.1 .4 .1 .5 0 .4 .4 .5-.2 .5 0 .4-.1 .5 0 .5-.5 .4 .2 .5 .4 .5-.1 .4 0 .5 0 .4 0 .5 .3 .5-.6 .4 .1 .5 0 .5 .1 .4 0 .5 .1 .5 .3 .4-.4 .5 0 .4 .3 .5 .2 .5-.6 .4 .3 .5-.1 .5 .1 .4-.4 .5 .5 .5-.4 .4 .6 .5-.6 .4 .3 .5 .3 .5-.4 .4 0 .5 .3 .5-.4 .4 .1 .5-.1 .4 .3 .5-.1 .5 .1 .4-.2 .5 .1 .5 .1 .4-.4 .5 .3 .5-.3 .4 .1 .5 .2 .4 .2 .5-.3 .5-.1 .4-.1 .5 .2 .5-.1 .4 .2 .5 .1 .4-.7 .5 .3 .5 .5 .4-.3 .5 0 .5 .4 .4-.3 .5-.2 .5-.1 .4 0 .5 .3 .4 0 .5 0 .5-.1 .4-.1 .5 .3" stroke="#00b000"/>
<path clip-path="url(#cTR)" d="M559 251.4l .5 .4 .4-.2 .5 .1 .5 .6 .4-.6 .5-.2 .4 .5 .5-.2 .5 .1 .4 .2 .5 .1 .5-.3 .4 .4 .5 0 .5-.2 .4 0 .5-.1 .4 .5 .5 .2 .5-.5 .4 .5 .5-.2 .5 0 .4-.5 .5 .4 .4 .3 .5-.3 .5-.3 .4 .7 .5-.1 .5-.5 .4 .2 .5 .2 .5-.2 .4 0 .5 .2 .4-.1 .5-.7 .5 0 .4-.4 .5-.1 .5-.1 .4-.5 .5 0 .4-.5 .5-.2 .5-.2 .4-.3 .5-.1 .5-.8 .4 .3 .5-.6 .5 0 .4-.7 .5 0 .4-.4 .5-.4 .5-.2 .4-.3 .5-.3 .5-.2 .4-.2 .5-.3 .5-.3 .4-.1 .5-.3 .4-.6 .5 .4 .5-.9 .4 .2 .5-.4 .5-.1 .4-.2 .5-.3 .5-.5 .4 .2 .5-.3 .4-.1 .5-.7 .5-.1 .4-.2 .5 .1 .5 .2 .4-.4 .5 .6 .4-.1 .5-.2 .5 .5 .4 .2 .5 .4 .5-.4 .4 .2 .5 .3 .5 0 .4 .5 .5 0 .4-.1 .5 0 .5 .4 .4 .4 .5 .1 .5 0 .4 .7 .5 .1 .4 .3 .5 .5 .5 .2 .4 .7 .5 .1 .5 .2 .4 .2 .5 .2 .5 .9 .4 .2 .5 .7 .4 .6 .5 .5 .5 .3 .4 .5 .5 .7 .5-.3 .4 1.1 .5 .4 .5 .7 .4-.7 .5 1.1 .4-.4 .5-.1 .5-.2 .4 .2 .5 .2 .5-.5 .4 .2 .5 .2 .5 0 .4 0 .5-.1 .4 .4 .5-.4 .5 .2 .4-.2 .5 0 .5 .3 .4-.5 .5 .1 .4 .4 .5 0 .5 0 .4-.2 .5-.2 .5 .4 .4 0 .5-.3 .5 .2 .4 0 .5 0 .4 0 .5-.4 .5 .2 .4 .2 .5-.3 .5-.1 .4 .3 .5 0 .4 .2 .5-.1 .5 0 .4-.3 .5 .5 .5 .2 .4-.3 .5-.1 .5 .5 .4-.4 .5 .1 .4 .1 .5-.3 .5-.2 .4 .5 .5-.3 .5 .1 .4-.2 .5 .2 .5 .1 .4-.3 .5 .1 .4 .3 .5 .2 .5-.2 .4-.2 .5-.1 .5 .2 .4 0 .5 .3 .5-.3 .4-.1 .5 .2 .4-.1 .5 .2 .5 0" stroke="#000000"/>
<path clip-path="url(#cTR)" d="M559 252.2l .5-.2 .4 .2 .5 .2 .5-.4 .4 .4 .5 0 .4-.4 .5 .8 .5-.1 .4-.5 .5 .3 .5-.2 .4 .2 .5 .1 .5-.2 .4 .3 .5 0 .4-.1 .5 .3 .5 .1 .4 0 .5-.5 .5-.2 .4 .2 .5 .3 .4 0 .5 .1 .5-.2 .4-.2 .5 .2 .5 0 .4 .7 .5-.8 .5 .3 .4-.1 .5-.2 .4 .1 .5-.4 .5-.4 .4 .5 .5-.4 .5-.9 .4 0 .5 0 .4-.4 .5-.3 .5-.5 .4 0 .5-.3 .5 0 .4-.8 .5-.1 .5 0 .4-.1 .5-.6 .4-.4 .5-.6 .5-.2 .4 .3 .5-.3 .5-.2 .4-.5 .5 0 .5-.6 .4-.2 .5-.2 .4 .1 .5-.7 .5 .1 .4 0 .5-.4 .5-.3 .4-.2 .5-.4 .5-.2 .4-.4 .5 .3 .4-.5 .5 .6 .5-1.2 .4 .2 .5-.4 .5 .1 .4-.1 .5 .2 .4 .4 .5 .1 .5 .6 .4-.6 .5 .3 .5 .2 .4-.2 .5 .3 .5 .2 .4 .6 .5-.3 .4 .2 .5-.1 .5 .4 .4 .3 .5 .1 .5-.1 .4 .8 .5-.1 .4 .6 .5 .7 .5-.3 .4 0 .5 .7 .5 .6 .4 .1 .5 .5 .5-.3 .4 .9 .5 1.1 .4-.2 .5 .6 .5 .7 .4 .4 .5 .4 .5 .1 .4 .9 .5 .5 .5 .1 .4 .4 .5 .1 .4-.2 .5-.2 .5 .1 .4 .2 .5-.4 .5 0 .4 .6 .5-.1 .5 0 .4-.2 .5 0 .4 0 .5 0 .5-.1 .4 .4 .5 .2 .5-.5 .4-.2 .5 .2 .4 .1 .5-.2 .5 .2 .4 .2 .5-.2 .5-.2 .4 .1 .5-.1 .5 .3 .4-.2 .5-.2 .4 .4 .5 0 .5-.4 .4 .3 .5 .3 .5-.2 .4-.4 .5 .2 .4-.3 .5 .3 .5 .1 .4-.2 .5 .4 .5-.4 .4 .3 .5 0 .5-.1 .4 .2 .5 .1 .4 0 .5-.3 .5 0 .4 .1 .5-.2 .5 .4 .4-.1 .5-.4 .5 .5 .4-.5 .5 .4 .4-.2 .5 .1 .5 .1 .4-.1 .5-.2 .5 .4 .4 0 .5-.3 .5 .2 .4 0 .5 0 .4 .1 .5 .3 .5-.4" stroke="#000000"/>
<path clip-path="url(#cTR)" d="M559 251.8l .5 .5 .4-.9 .5 .6 .5 .6 .4-.9 .5 .1 .4-.1 .5 .7 .5-.3 .4-.3 .5 .5 .5-.2 .4 .3 .5 0 .5-.4 .4 .6 .5-.2 .4-.1 .5 .2 .5-.2 .4 .8 .5-.9 .5 .7 .4-.3 .5 0 .4-.2 .5 .2 .5 0 .4-.3 .5-.3 .5 .7 .4 0 .5 0 .5 .2 .4 0 .5-.2 .4-.4 .5 .1 .5-.2 .4-.4 .5-.1 .5-1.2 .4 0 .5 .2 .4 .2 .5-.6 .5-.1 .4-.3 .5 .1 .5-.7 .4-.3 .5-.2 .5-.1 .4-.8 .5 .1 .4 .1 .5-.6 .5-.8 .4-.4 .5 .4 .5-.5 .4-.5 .5-.4 .5 .1 .4-.5 .5 0 .4 .2 .5-.9 .5 0 .4-.3 .5-.1 .5 0 .4-.3 .5-.4 .5 .2 .4-1 .5-.4 .4 1 .5-1 .5 .1 .4-.5 .5-.1 .5-.1 .4-.1 .5 .3 .4-.2 .5 .4 .5 .7 .4-.2 .5 .1 .5 .3 .4 .3 .5-.8 .5 .7 .4 .2 .5 .5 .4-.4 .5 .3 .5-.2 .4 0 .5 1 .5 .3 .4-.2 .5 .3 .4 .5 .5 .2 .5 .6 .4 .3 .5 .3 .5 .9 .4-.5 .5 .3 .5 1 .4 .3 .5 .3 .4 .4 .5 .6 .5 .6 .4 .3 .5 .5 .5 .8 .4 .3 .5 .5 .5 .2 .4 .6 .5-.2 .4-.1 .5-.1 .5-.6 .4 .7 .5-.3 .5 0 .4-.1 .5-.1 .5 .3 .4 .4 .5-.1 .4-.5 .5-.2 .5 .2 .4-.3 .5 .5 .5 .4 .4-.2 .5-.1 .4-.1 .5 0 .5 .5 .4-.6 .5 .5 .5-.2 .4-.1 .5 0 .5 0 .4 .3 .5-.1 .4-.3 .5 .4 .5 .2 .4 .4 .5-.7 .5 .2 .4-.2 .5 .3 .4-.2 .5 0 .5-.3 .4 .5 .5 0 .5-.3 .4-.2 .5 .5 .5-.4 .4 .1 .5-.1 .4 .7 .5-.6 .5 .1 .4-.1 .5 .3 .5-.2 .4 .6 .5-.6 .5-.4 .4 .3 .5 .1 .4-.1 .5-.3 .5 .6 .4 .2 .5-.1 .5-.1 .4-.2 .5-.2 .5 .4 .4 .1 .5-.5 .4 0 .5 .5 .5-.4" stroke="#000000"/>
<path clip-path="url(#cBL)" d="M79.5 536l .4-.2 .4-.2 .4 0 .4 0 .4-.3 .5-.3 .4 0 .4 0 .4-.3 0-.2 .4-.1 .4 .6 .5-.2 .4-.4 .4-.1 .4 .5 .4-.1 .4-.3 .5-.6 .4-.3 .4-.2 0 .2 .4 .1 .4-.3 .5-.1 .4 0 .4-.4 .4-.2 .4 .1 .4-.4 .5-.5 .4 .3 .4 0 .4-.5 .4-.2 .4 .3 .5 0 .4-.2 .4-.3 .4-.4 .4-.5 .4 0 .5-.1 .4-.2 .1-.2 .3 .2 .4-.1 .4-.2 .4-.3 .5-.5 .4-.2 .4-.6 .4-.5 .4 .2 .4-.2 .1 0 .4 .3 .4 .4 .4 .4 .4 .5 .3 .6 .1 .7 .4-.8 .5-1.1 .4-.8 .4 .1 0-.1 .4-.9 .4-.4 .4-.7 .2 .4 .3-.1 .4-.6 .3-.6 .1-.1 .4-.5 .2-.1 .2-.7 .4-1.1 .5-.3 .4-.7 .4-.8 .4-.4 .4-.3 .3 .3 .2-.3 .4-1.6 .4-.9 .4-1.3 .4-.8 .4 0 .5 0 .4-1.1 .4-.7 .4-.2 .4-.6 .3-.2 .1 .3 .4-.7 .1-.2 .4-.6 .4 0 .4-.7 .4-.8 .4 0 .5-.1 .4-.2 .4-1.5 .4-.1 .4 .9 .4-.7 .5-1.3 .4-.5 0 .7 .4 1.1 .4-.6 .2-1.5 .2 .1 .4-1.4 .5 .6 .4-.1 .4-2.2 .4-.2 .4 .3 .4 .4 .5-.3 .4-.9 .1-.5 .3 .5 .4-1.1 .4-.7 .4 .3 .5 .7 .4-1.3 .4-1.9 0 .1 .4-.1 .4 1.5 .5-.2 .4-.6 .4-.4 .4-.7 .3 .2 .1 0 .4 .6 .5-.7 .4-.7 .4-.6 .4 .9 .4 0 .4-1.2 .5 .2 .4-.7 .4-.9 .4 .3 .4 .2 0-1.5 .4 .2 0 1.4 .5-.7 .4-1.4 .4 .9 .4-.1 .4-1 .4-.4 .5-1.3 .4 1.3 .4 1.5 .4 0 .4-.4 .1-.3 .3 1 .5-.8 .4 0 .4 .8 .4-1.6 .3 .3 .1 .7 .4 1.7 .4 1.6 .1 .5 .4 2.3 .1 .3 .3-2.6 .3-2.6 .1-1.1 .4-1.6 .4 .2 .5 .4 .4 .7 .4 3.7 .4-2.8 .4-.5 .4-.5 .5 .4 .4 .3 .4 .8 .4-.4 .4-.4 .3 .3 .2-.3 .2-.2 .2 .2 .4-.6 .4-.5 .4-.6 .4 .7 .5 .2 .4 .6 .4 1 .4 .2 .4-.7 .4-.2 .5-1.4 .4 .5 .4 1.3 .4-1.1 .4-.4 .1 .2 .3 .6 .5 .9 .4 .7 .4-.8 .4-.9 .4-.2 .4 1.1 .5-1.1 .4-.2 .4 .8 .4-.6 .4 0 .4 2.5 .3-.2 .2-1.1 .4 .1 .4 .6 .4-.4 .4-1.2 0-.3 .4 .8 .5-1.2 .4-.4 .4-.3 .4-.4 .4 1.1 .4 .2 .5 .9 .4-.1 .4-.4 .4 0 .4 1.3 .5-.3 .4-1.7 .4-.5 .2-.3 .2 1.2 .4 .5 .4-1.5 .5-.6 .4-.3 .4-.1 .4 .2 .4-.2 .4 1.4 .5 2.7 .4-.4 .4-1.1 .4-1.9 .4-.7 .4 1.3 .5-.9 0 .2 .4 0 .1 .2 .3 .7 .4-.4 .4-.3 .4-1 .5-1.1 .4 .3 .4-.5 .4 .8 .4 .7 .4-.1 .5 .1 .4 .1 .4 .9 .4 .3 .4 0 .4-.5 .4-1.5 .1 .2 .4-.4 .4 .1 .4 1.7 .4-1.8 .4-.2 .5 .3 .4-.5 .4 .6 .4 .6 .4-.2 .4-.7 .5-.5 .4-.5 .1 1.1 .3 2.5 .4 3.4 .2 1.7 .2-2.7 .5-4 0-1 .2-.1 .2 .4 .4 .2 .4-.1 .4 1 .4-.3 .5-.1 .4-.6 .4-1 .4 1.3 .4 .8 .3 .2 .1-.8 .5-.2 .4 .1 .4 1.9 .4 2.5 .4-.4 .1 .5 .3 .5 .5-.8 .4-.3 .4-.1 .4 .4 .4 .6 .4-.3 .5 .4 .4-.2 0 .5 .4 1.6 .4 .2 .4-.1 .4 .3 .3 .6 .2 1.5 .4-.6 .4-1.1 .4 1.3 .4-.9 .4 2.1 .5 1.3 .4 .8 .4 .4 .2-.1 .2 .4 .4 .4 .3-.4 .1 .6 .5 .2 .4 .7 .4 .5 .4 1.2 .4 1.4 .5-.1 .4 1.3 .2 .3 .2-.2 .4 .7 .4 .9 .4 .3 .4 0 .1 .4 .4 .1 .4-.6 0 .7" stroke="#bfbf00"/>
<path clip-path="url(#cBL)" d="M79.5 535.6l .4-.1 .4-.2 .4-.2 .4-.2 .4 0 .5 0 .4-.2 .4-.1 .4-.3 0-.2 .4 .3 .4 .4 .5-.1 .4-.8 .4 0 .4 .2 .4 0 .4-.2 .5-.5 .4-.1 .4 .1 0 .1 .4-.4 .4 0 .5 .1 .4-.5 .4-.3 .4-.1 .4 .1 .4-.7 .5-.3 .4 .2 .4 .2 .4 .1 .4-.4 .4-.2 .5-.1 .4-.4 .4-.1 .4 0 .4-.3 .4-.5 .5-.7 .4 0 .1 .6 .3-.4 .4-.9 .4 .2 .4-.5 .5-.4 .4-.2 .4 0 .4-.6 .4-.5 .4-.2 .1-.2 .4 .1 .4 .5 .4 .7 .4 1 .3 .6 .1 0 .4-1.4 .5-1 .4-.2 .4 .1 0 .1 .4-.8 .4-1.3 .4-1.2 .2 .4 .3-.2 .4-1.2 .3 .1 .1 0 .4-.6 .2-.5 .2 .1 .4-.9 .5-.4 .4-.6 .4-1 .4-1 .4-.1 .3 .7 .2 0 .4-1.3 .4-.9 .4-1.1 .4-1.1 .4 .1 .5-.2 .4-1.2 .4-.3 .4 .1 .4-1.5 .3-1 .1 .4 .4 .1 .1-.8 .4-.9 .4-.7 .4-.8 .4-.5 .4-.2 .5 .4 .4 .1 .4-.5 .4-.9 .4 .4 .4-.9 .5-1.4 .4 0 0 .3 .4 1.1 .4 .1 .2-1.6 .2-.6 .4-1.8 .5 .4 .4 .7 .4-1.7 .4 .5 .4-.2 .4-1 .5-.6 .4-.4 .1 .3 .3 1.7 .4-1.1 .4-.7 .4-.9 .5-.2 .4-1.2 .4-.6 0-.3 .4-.3 .4 1.3 .5 .3 .4-.9 .4-.8 .4-1 .3 1.4 .1 0 .4 .5 .5-.4 .4-1.4 .4-.4 .4 1.2 .4 .4 .4-1.6 .5 .2 .4-1.6 .4-1.3 .4 .6 .4 1.1 0-1.7 .4-.1 0-.8 .5 1.6 .4-1.3 .4 .7 .4-.3 .4-.8 .4 .1 .5-1 .4-.2 .4 .8 .4 .4 .4 .4 .1-.3 .3-.1 .5-.8 .4 1.3 .4 1 .4-1.6 .3 .1 .1 1 .4 1.5 .4 1.4 .1 .1 .4 2 .1 0 .3-2.9 .3-3.7 .1-.2 .4-.4 .4 .6 .5-.4 .4 .2 .4 .8 .4-.5 .4-.2 .4-.9 .5 .4 .4 .7 .4 1.2 .4-.9 .4 .2 .3 1 .2 .2 .2-.6 .2-.6 .4-.4 .4-.9 .4-.7 .4 .3 .5 .4 .4 1.1 .4 .2 .4 .3 .4-.2 .4-.8 .5-1.9 .4 .6 .4 1.2 .4-1.2 .4-.4 .1-.4 .3 1.1 .5 1.6 .4 1.1 .4-.8 .4-3.1 .4 3 .4 .7 .5-1.7 .4-.2 .4-.1 .4-.3 .4 .8 .4 2.6 .3 .2 .2-1.2 .4-1.8 .4 1.1 .4 0 .4-2 0-.2 .4 .9 .5-2.1 .4-.1 .4 .1 .4 .3 .4 .9 .4-.1 .5 1 .4-.3 .4 .5 .4 .7 .4 .9 .5 .2 .4-1.9 .4-.5 .2-.7 .2 .3 .4 1.1 .4-1.3 .5-.7 .4 .3 .4 .7 .4-1 .4 .2 .4 1 .5 2.3 .4-.7 .4 .2 .4-1.2 .4-1.4 .4 .6 .5-1 0-.6 .4 .2 .1 0 .3 1.9 .4-1.1 .4-.6 .4 0 .5-.9 .4 1.2 .4-.2 .4 .4 .4-.2 .4 .3 .5 1.2 .4-.5 .4 .2 .4-2 .4 .1 .4 1.5 .4-1.5 .1 0 .4-.5 .4-.1 .4 .2 .4-.2 .4-.3 .5 .9 .4 .1 .4 .8 .4 .7 .4-1.1 .4-.9 .5 0 .4-1.3 .1-.2 .3 3.1 .4 6.1 .2 2 .2-3.6 .5-4.9 0-.6 .2 .5 .2-.2 .4-.2 .4 .4 .4 1.3 .4-.8 .5-.7 .4-.8 .4-.9 .4 2.7 .4 .1 .3-.7 .1-.3 .5-1.1 .4 .3 .4 2.6 .4 .9 .4-.4 .1 2.3 .3 .5 .5-1 .4 .5 .4-.3 .4 .1 .4 0 .4 .2 .5 0 .4-.6 0 .5 .4 .8 .4 .6 .4 .8 .4-.2 .3 1.3 .2 1.4 .4-.8 .4-.5 .4 1.4 .4-.9 .4 1.7 .5 2.4 .4 .7 .4-.6 .2-.1 .2 .6 .4-.7 .3-.2 .1 .8 .5 1 .4-.2 .4 .5 .4 1.8 .4 .9 .5 .5 .4 1 .2 0 .2-.2 .4-1.3 .4 2.2 .4 1 .4 1 .1-.5 .4 .1 .4 .2 0 .6" stroke="#bfbf00"/>
<path clip-path="url(#cBL)" d="M79.5 534.7l .4 0 .4 .1 .4 .3 .4 0 .4-.2 .5-.3 .4 .1 .4-.1 .4-.5 0 .3 .4-.1 .4-.3 .5-.2 .4 .4 .4-.1 .4 0 .4-.3 .4-.2 .5 0 .4-.2 .4-.4 0 .2 .4 .1 .4-.5 .5-.7 .4-.2 .4-.3 .4 .3 .4 .1 .4 0 .5-.4 .4-.2 .4 0 .4 0 .4-.2 .4-.1 .5-.3 .4-.2 .4 0 .4-.1 .4-.4 .4-.3 .5-.7 .4-.4 .1 .2 .3 0 .4-.3 .4-.2 .4-.2 .5-.5 .4-.8 .4-.5 .4-.4 .4-.3 .4-.5 .1-.2 .4 .6 .4 .4 .4 1 .4 1.2 .3 .3 .1-.1 .4-1.4 .5-.9 .4-.4 .4-.3 0-.3 .4-1.3 .4-1.4 .4-.7 .2 .2 .3-.3 .4-1.5 .3-.1 .1 0 .4 .3 .2-.2 .2-.7 .4-1 .5-.6 .4-.6 .4-.6 .4-.1 .4-.6 .3 .2 .2-.1 .4-1.6 .4-1 .4-.8 .4-.6 .4-.5 .5 .2 .4-.8 .4-.8 .4-.2 .4-1.6 .3-1.2 .1 .6 .4 .6 .1 .1 .4-1.4 .4-.8 .4-.9 .4-1.1 .4 .3 .5 .5 .4 .1 .4-1.3 .4-.6 .4 .6 .4-.6 .5-.9 .4-.4 0 .2 .4 1.1 .4-.9 .2-1.6 .2-.1 .4-1.4 .5 .6 .4 0 .4-2.4 .4 1.1 .4 .5 .4 .6 .5 .4 .4-3.4 .1-.4 .3 1.5 .4-1.1 .4-.8 .4-.2 .5 .3 .4-.7 .4-1.4 0 .2 .4 .5 .4 1.2 .5-.6 .4-.7 .4-.3 .4-.4 .3 .5 .1-.7 .4 .6 .5-.5 .4-.9 .4-.2 .4 .7 .4 .1 .4-1.2 .5 0 .4-1.6 .4-1.4 .4 .8 .4 1.3 0-1.8 .4 .3 0 .8 .5-.6 .4-1.3 .4 .7 .4-.2 .4-1.3 .4-.4 .5-.4 .4 .8 .4 1.5 .4 .7 .4-1.3 .1-.3 .3 .7 .5-.6 .4 1.1 .4-.1 .4-1.2 .3-.1 .1 .3 .4 2 .4 2 .1-.2 .4 1.6 .1-1.3 .3-1.3 .3-3.7 .1-.9 .4 .4 .4 1.1 .5-.3 .4 .3 .4 .6 .4 .1 .4-.2 .4-.9 .5-.5 .4-.4 .4-.1 .4-.1 .4 .6 .3 .4 .2 0 .2-.4 .2-.1 .4 .8 .4-.5 .4-2.2 .4-.1 .5 1.2 .4 .5 .4 1.1 .4 .1 .4-.9 .4-.2 .5-1.4 .4-.1 .4 1.3 .4-1.4 .4-.5 .1-.3 .3 0 .5 1.6 .4 2 .4-.9 .4-1.1 .4 .8 .4 1.1 .5-1.4 .4-.4 .4 .4 .4-1.9 .4 .6 .4 3.5 .3 .2 .2-1.1 .4-.3 .4 .5 .4-1 .4-1.5 0-1 .4 1.3 .5-1 .4-.2 .4-.4 .4 .1 .4 1 .4 0 .5 1 .4 0 .4-1 .4 .7 .4 1.7 .5-.4 .4-1.4 .4-.6 .2-.8 .2 .4 .4 2.3 .4-2.6 .5-.6 .4-.2 .4 2.1 .4-1.3 .4-.7 .4 1.5 .5 1.6 .4 .4 .4 .1 .4-2 .4-1.6 .4 .5 .5-.2 0-.2 .4-.2 .1 .6 .3 .4 .4-.6 .4 .2 .4-.7 .5-1.6 .4-.2 .4 .7 .4 1 .4-.1 .4-.5 .5 2 .4 .4 .4 0 .4-1.1 .4 .7 .4-.2 .4-1.5 .1-.9 .4-3.1 .4 3.6 .4 1.3 .4-.2 .4-.6 .5 .9 .4 .6 .4-.4 .4 .1 .4-.9 .4 .2 .5 0 .4-.9 .1 .3 .3 3 .4 5 .2 1.3 .2-2.7 .5-4 0-.6 .2-.9 .2 1.2 .4 .3 .4 0 .4 .4 .4-1.6 .5-.5 .4-.2 .4-.7 .4 .6 .4 .3 .3 0 .1-1.1 .5 .6 .4 1.3 .4 1.8 .4 1.2 .4-.5 .1 1.1 .3 .2 .5-.4 .4 .7 .4 .1 .4 .6 .4 .5 .4-.4 .5 .4 .4 0 0-1.2 .4 1.1 .4 .4 .4 .6 .4 .9 .3-.5 .2 1.1 .4-.6 .4 .3 .4 1.8 .4-.9 .4 2.8 .5 1.4 .4 .6 .4-.2 .2-.8 .2 .4 .4-.7 .3 .6 .1 .6 .5 .1 .4 .1 .4 .8 .4 1.6 .4-.5 .5 1 .4 1.2 .2 .4 .2-.3 .4 .7 .4 1.6 .4 .6 .4-.2 .1 .3 .4 .2 .4 .3 0 .3" stroke="#bfbf00"/>
<path clip-path="url(#cBL)" d="M79.5 534.7l .4 .3 .4-.1 .4-.3 .4 0 .4 .1 .5-.2 .4-.4 .4 .3 .4 0 0-.3 .4-.5 .4 .3 .5 .2 .4-.1 .4-.5 .4-.5 .4 .1 .4 .1 .5 .3 .4-.3 .4-.3 0-.2 .4 .2 .4-.2 .5-.2 .4 .1 .4-.6 .4 .2 .4 0 .4-.4 .5-.4 .4-.1 .4-.2 .4-.4 .4 .2 .4-.2 .5-.4 .4 .1 .4-.1 .4-.7 .4-.2 .4 .1 .5-.4 .4-.1 .1 0 .3-.1 .4-.7 .4-.3 .4-.3 .5-.6 .4-.2 .4-.1 .4-.9 .4-.8 .4-.3 .1 .1 .4 .3 .4 .8 .4 .8 .4 .8 .3 .6 .1 0 .4-1.9 .5-1.4 .4-.4 .4 .1 0-.4 .4-1.3 .4-.8 .4-.9 .2-.2 .3-.6 .4-.9 .3-.2 .1 0 .4 0 .2-.4 .2-.7 .4-1.1 .5-.1 .4-.2 .4-.8 .4-1.1 .4-.2 .3 .2 .2-.2 .4-2 .4-.8 .4-.4 .4-.7 .4-.6 .5-.1 .4-1.1 .4-.7 .4 .4 .4-1.1 .3-1.2 .1 .2 .4 .4 .1 0 .4-1.6 .4-.8 .4-.1 .4-1.8 .4-.2 .5 .9 .4 0 .4-1.3 .4-.9 .4 .8 .4 .2 .5-1.1 .4-.3 0-.5 .4 .3 .4 .5 .2-1.2 .2-.2 .4-1.6 .5 .6 .4 .1 .4-2.1 .4 .7 .4 .7 .4 .1 .5-2.1 .4-1.2 .1 .3 .3 1.4 .4-1.3 .4-1 .4-.4 .5 1.6 .4-2.3 .4-.2 0-.1 .4-1.3 .4 2.1 .5 .4 .4-.3 .4 .2 .4-1.7 .3-.4 .1 .1 .4 1.2 .5-1 .4-2 .4 .2 .4 1.3 .4-.5 .4-.7 .5 .8 .4-2.9 .4-.6 .4 .7 .4 .8 0-1.5 .4 .4 0 1.5 .5-.8 .4-1.3 .4 .1 .4 .1 .4-.3 .4-.5 .5-2.3 .4 .1 .4 2 .4-.2 .4-.1 .1 .4 .3 .9 .5-1.2 .4 .9 .4 .6 .4-2.2 .3-.9 .1 1.9 .4 1.5 .4 1.1 .1 .4 .4 2 .1 .9 .3-1.9 .3-5.4 .1 2.4 .4-3 .4 .2 .5 .9 .4-.6 .4-.6 .4 1 .4-.4 .4-1.3 .5 .1 .4-.5 .4 .6 .4 .1 .4 .2 .3 .7 .2 .2 .2-.2 .2-.2 .4-.5 .4-.7 .4-1.9 .4 .8 .5 1.3 .4-.2 .4-.1 .4 .8 .4-1.1 .4-.3 .5-.9 .4 .5 .4 2.4 .4-2.5 .4-1 .1 .2 .3 1.7 .5-.3 .4 1.3 .4-.6 .4-.5 .4 .6 .4 .6 .5-1.3 .4 0 .4 .8 .4-.7 .4 .4 .4 2.6 .3 .6 .2-.7 .4-1.6 .4-.1 .4-1.1 .4-1.1 0-1 .4 1.3 .5-1 .4-.2 .4-.3 .4 .4 .4 1.6 .4-.6 .5 1.8 .4 .5 .4-1.7 .4-1 .4 1.5 .5 .6 .4-2.2 .4-.3 .2 1.1 .2 .8 .4-.1 .4-1.3 .5-.4 .4-.4 .4-.7 .4 1 .4-.2 .4 .8 .5 3.2 .4-.3 .4-.7 .4-1.6 .4-.4 .4 1 .5-2 0 0 .4 .9 .1 .3 .3-.5 .4-1.3 .4 .4 .4-.8 .5 .6 .4 1.3 .4-.9 .4-.3 .4-.2 .4 .6 .5 1.2 .4-1.3 .4-.1 .4-1 .4 2.1 .4 1 .4-1.8 .1-.7 .4-.9 .4 0 .4-.2 .4 1.1 .4 .5 .5 .4 .4-.1 .4 1.1 .4-.3 .4-1.3 .4-.2 .5 .1 .4-1.1 .1 0 .3 3.1 .4 4.9 .2 2.3 .2-2.3 .5-4.8 0-1.3 .2-.8 .2 .8 .4 .6 .4 0 .4 .5 .4-.6 .5 .2 .4-1.3 .4-1.4 .4 1.3 .4 1 .3 .6 .1-.7 .5-1.7 .4 .7 .4 2.9 .4 1.4 .4-.3 .1 1.2 .3 0 .5 .4 .4 .2 .4-.7 .4 1.1 .4 0 .4 0 .5 .2 .4-.7 0 .1 .4 1.3 .4 .3 .4 1.6 .4 .2 .3-.9 .2 .8 .4-2.7 .4 1.2 .4 2.3 .4-.4 .4 3.3 .5 1.7 .4 .1 .4-.3 .2-.1 .2 .3 .4-.8 .3-1 .1 1.2 .5 .8 .4 .4 .4-.9 .4 1.3 .4 1.8 .5 1.1 .4 .7 .2 0 .2 .7 .4 1 .4 1.4 .4-.5 .4-.2 .1 .2 .4-.1 .4 .3 0 .9" stroke="#bfbf00"/>
<path clip-path="url(#cBL)" d="M79.5 534.4l .4 0 .4 0 .4 .1 .4-.1 .4-.1 .5 .1 .4-.2 .4-.1 .4-.2 0 .1 .4-.1 .4-.4 .5 0 .4-.2 .4-.2 .4 .2 .4-.1 .4-.1 .5 0 .4-.5 .4-.3 0 .6 .4 .1 .4-.7 .5-.2 .4-.2 .4 0 .4-.1 .4-.1 .4-.2 .5-.2 .4-.3 .4-.4 .4-.2 .4 0 .4-.3 .5-.3 .4 0 .4 .1 .4 0 .4-.1 .4-.6 .5-.2 .4-.3 .1 .2 .3-.1 .4-.6 .4-.1 .4-.6 .5-.8 .4-.5 .4-.6 .4-.7 .4-.4 .4-.5 .1-.1 .4 .7 .4 .8 .4 .5 .4 .4 .3 .9 .1 .1 .4-1.8 .5-1.1 .4-.6 .4 .5 0-.1 .4-1.4 .4-1.9 .4-1.3 .2 .4 .3-.5 .4-2.1 .3 0 .1 .5 .4-.1 .2-.4 .2-.6 .4-.8 .5-.3 .4-.3 .4-.6 .4-1 .4-.7 .3 .4 .2-.6 .4-1.7 .4-.2 .4-1.1 .4-.7 .4-.1 .5-.2 .4-.9 .4-.2 .4 .1 .4-1.9 .3-1.6 .1 .4 .4 .7 .1-.1 .4-1.2 .4-.1 .4-.7 .4-1.3 .4 .7 .5-.1 .4-.2 .4-1.5 .4-.6 .4 1.3 .4-1.4 .5-1.3 .4-.8 0 .1 .4 1 .4-.4 .2-.6 .2-.3 .4-1.8 .5 0 .4 .2 .4-2.2 .4 .6 .4-.1 .4 .8 .5-.4 .4-1.4 .1-.7 .3 1.7 .4 .1 .4-1.7 .4-1.4 .5 1 .4-.6 .4-1.4 0 .4 .4-.3 .4 1.1 .5-.1 .4-.9 .4 1 .4-1.3 .3 .1 .1-.8 .4 1.2 .5-1 .4-1.8 .4 .1 .4 1.6 .4 0 .4-1.7 .5-.4 .4-.8 .4-.8 .4 1.1 .4 .4 0-2 .4 .2 0 1.6 .5-.6 .4-2 .4 .3 .4 .2 .4 .2 .4-.3 .5-2.4 .4 .7 .4 .9 .4 .4 .4 .5 .1-.3 .3 .4 .5 .5 .4 .7 .4-1 .4-1.6 .3-.7 .1 .2 .4 2.1 .4 3 .1 .1 .4 1.9 .1 .6 .3-3.6 .3-4 .1 .1 .4-1.3 .4 .5 .5 .9 .4 0 .4-.8 .4-.5 .4-.2 .4-1.4 .5 .2 .4 .8 .4 .1 .4-.1 .4 0 .3 .1 .2-1.1 .2 1.4 .2 .5 .4-.2 .4-.9 .4-1.3 .4-.7 .5 .2 .4 .6 .4 .6 .4 .7 .4 .7 .4-.2 .5-2.1 .4-.5 .4 2.1 .4-1 .4-.7 .1-.7 .3 .2 .5 2 .4 1.1 .4-1.3 .4-.8 .4 .4 .4 0 .5-1.8 .4-.3 .4 .9 .4-4.7 .4 5.5 .4 2.7 .3 .2 .2-.6 .4-2.1 .4-.3 .4 0 .4-.6 0-.3 .4 1.2 .5-2 .4-.4 .4-.1 .4 1 .4 .8 .4 0 .5 1.3 .4 .2 .4-.8 .4-1.1 .4 1.7 .5 .5 .4-1.5 .4-.5 .2-.6 .2 .1 .4 .2 .4-.9 .5 .1 .4-.6 .4-.5 .4 .8 .4-.2 .4 1.9 .5 2.9 .4-.5 .4 0 .4-2.3 .4-1.7 .4 2.3 .5-1.2 0-.6 .4-.9 .1 .5 .3 2.2 .4-.9 .4-.2 .4-.7 .5-1.1 .4 .4 .4-.7 .4 .4 .4 1.1 .4 .1 .5 .3 .4-.2 .4-.2 .4 .1 .4 .9 .4 .2 .4-1.2 .1-.1 .4-.4 .4-.6 .4-.1 .4 0 .4 .5 .5 .8 .4 1.4 .4-.1 .4 .1 .4-1.6 .4-.9 .5-.3 .4-1.2 .1 1.2 .3 2.8 .4 5 .2 3.3 .2-3.1 .5-5.6 0-.9 .2 .1 .2 .8 .4 .1 .4 0 .4 .7 .4-1.3 .5-1 .4-.7 .4-1.4 .4 2.1 .4 1 .3-.1 .1-1 .5 .3 .4 1.6 .4 1.8 .4 .6 .4 .1 .1 2.6 .3-1.6 .5-.2 .4 .8 .4 0 .4 .1 .4-.2 .4-.1 .5 0 .4-.9 0 .9 .4 1.8 .4 .5 .4 .8 .4 .2 .3-.6 .2 1.4 .4-1.2 .4-.3 .4 1.8 .4-.3 .4 2.1 .5 1.6 .4 .8 .4-.8 .2 0 .2 1.1 .4-.3 .3-.8 .1 .9 .5 .2 .4 0 .4 1.1 .4 .1 .4-.1 .5 1.6 .4 1.6 .2 .3 .2-.7 .4 .4 .4 2.9 .4 1.2 .4-.9 .1-.4 .4 .4 .4 .3 0 1" stroke="#bfbf00"/>
<path clip-path="url(#cBL)" d="M79.5 534.2l .4-.2 .4-.1 .4-.3 .4 .4 .4 .1 .5-.2 .4-.2 .4-.1 .4-.1 0 .1 .4 .1 .4 .4 .5-.2 .4-.5 .4-.2 .4 .1 .4-.1 .4-.1 .5-.2 .4-.3 .4-.3 0 .2 .4 .3 .4-.2 .5-.5 .4-.6 .4 .3 .4-.1 .4 0 .4-.6 .5-.4 .4-.1 .4 .1 .4-.2 .4 0 .4 0 .5-.3 .4-.2 .4-.5 .4-.3 .4 0 .4 .1 .5-.6 .4-.3 .1 .2 .3-.4 .4-.4 .4-.3 .4-.6 .5-.7 .4-.4 .4-.5 .4-1.1 .4-.8 .4-.3 .1 .3 .4 1 .4 .5 .4 .5 .4 .6 .3 .7 .1 .5 .4-1.7 .5-1.7 .4-.9 .4-.4 0-.1 .4-1.1 .4-1 .4-1.4 .2 .5 .3-.9 .4-2.3 .3-.3 .1 .4 .4-.6 .2 1.8 .2-2.1 .4-.9 .5 0 .4-.5 .4-1.2 .4-.4 .4-.2 .3 .5 .2-.6 .4-1.4 .4 .1 .4-2 .4-.4 .4-.2 .5 .2 .4-1.5 .4-.4 .4 .1 .4-2.1 .3-.6 .1 .5 .4-.3 .1-.3 .4-1 .4-.2 .4-.8 .4-1.2 .4 0 .5-.2 .4-.1 .4-.9 .4-1.1 .4 1 .4-.7 .5-3.6 .4 1.4 0 .3 .4 1.2 .4-.3 .2-1.8 .2 .3 .4-1.4 .5-.1 .4-.5 .4-2.4 .4 1.8 .4 1.4 .4-.2 .5-1.5 .4-.9 .1 0 .3 1.2 .4-.5 .4-1.3 .4-1.2 .5-.1 .4-.7 .4-.9 0 0 .4 0 .4 1.8 .5 1.1 .4-1.1 .4-1 .4-.8 .3 .8 .1 .8 .4-1 .5-1.3 .4-1.4 .4 .4 .4 .8 .4 .1 .4-.9 .5-.2 .4-1.1 .4-1.2 .4 .8 .4 1.1 0-1.2 .4 2.1 0-1.7 .5-.5 .4-1.5 .4 .2 .4 .5 .4-.2 .4-.6 .5-2.9 .4 .2 .4 1.8 .4 .7 .4 .2 .1-.8 .3 .2 .5-.2 .4 1.6 .4-.1 .4-2.3 .3-.9 .1 .8 .4 2.8 .4 1.8 .1 .2 .4 3 .1 .5 .3-3.7 .3-4.6 .1-1 .4-.5 .4 .7 .5 1.1 .4-.4 .4-1.4 .4 .2 .4 .2 .4-1.3 .5 .5 .4 .3 .4 .2 .4-.9 .4-.4 .3-.2 .2 1.1 .2 .1 .2-.7 .4 .3 .4-.4 .4-1.4 .4 .1 .5 .2 .4 1.7 .4 .3 .4 .6 .4-.2 .4-.4 .5-2.4 .4 .1 .4 1.9 .4-1.8 .4-.5 .1-.9 .3-.3 .5 2.6 .4 1.5 .4-1 .4-.5 .4-.2 .4 0 .5-1.8 .4-.2 .4 1.4 .4-.2 .4 .2 .4 2.3 .3 .8 .2-.4 .4-1.8 .4 0 .4 .7 .4-2.5 0-1.1 .4 1.8 .5-1.3 .4 .1 .4-.6 .4 0 .4 1.4 .4-.2 .5 1.4 .4-.4 .4-1.6 .4-.1 .4 2.3 .5 .2 .4-2.3 .4-1 .2 .7 .2 1.5 .4 .7 .4-1.7 .5 .3 .4-.4 .4-2.3 .4-.2 .4 .4 .4 2.8 .5 2.1 .4 .1 .4 .3 .4-3 .4-1.3 .4 1.4 .5-.9 0-.1 .4 0 .1 .8 .3 .8 .4-1.5 .4-.4 .4-.9 .5 0 .4 1.2 .4-.6 .4 .8 .4-.1 .4-.1 .5 1.5 .4 1 .4-.7 .4-1 .4 1 .4-.1 .4-1.7 .1-.7 .4 .6 .4-.5 .4-.7 .4 0 .4 .2 .5 2.4 .4 0 .4 .3 .4 .3 .4-.9 .4-.3 .5-.6 .4-1.9 .1 .6 .3 3.3 .4 5.4 .2 2.4 .2-2.3 .5-4.9 0-.5 .2-.5 .2-.2 .4 .3 .4 .8 .4 1.4 .4-.9 .5 .1 .4-1.2 .4-1.9 .4 .9 .4 .3 .3 .6 .1-.5 .5-1.1 .4 .7 .4 1.5 .4 1.9 .4 1 .1 .5 .3-1.1 .5 .3 .4 1.5 .4 .7 .4-.9 .4-.1 .4-.1 .5 0 .4-.8 0 .4 .4 1.5 .4 .4 .4 .9 .4 .6 .3 .1 .2 .2 .4-.4 .4 .1 .4 2.1 .4-1.1 .4 2.4 .5 2.7 .4 .4 .4-1.6 .2-.6 .2 .3 .4 .2 .3 .2 .1 .3 .5 .1 .4-.2 .4 0 .4 1.2 .4 1.3 .5 .9 .4 1.5 .2 1.2 .2-.1 .4 .5 .4 1.4 .4 .3 .4-.7 .1 .2 .4 .9 .4-.1 0 .4" stroke="#bfbf00"/>
<path clip-path="url(#cBL)" d="M79.5 534.5l .4-.6 .4-.2 .4 0 .4-.1 .4 .3 .5-.1 .4-.1 .4-.2 .4-.3 0 0 .4-.1 .4 .4 .5 0 .4-.5 .4 .1 .4 .1 .4-.2 .4-.1 .5-.3 .4-.7 .4 .2 0 .5 .4 0 .4-.6 .5-.3 .4-.1 .4-.2 .4 .1 .4-.5 .4-.6 .5-.2 .4 .4 .4-.3 .4-.5 .4 .1 .4 0 .5-.3 .4 .3 .4-.1 .4-.5 .4-.2 .4-.5 .5-.2 .4-.5 .1 .3 .3 .1 .4-.4 .4-.4 .4-.6 .5-1.1 .4-1 .4 0 .4-.6 .4-.8 .4-.1 .1-.2 .4 .1 .4 .7 .4 .8 .4 1.1 .3 .6 .1-.1 .4-1.9 .5-1.4 .4-.8 .4-.3 0 .1 .4-1.5 .4-2.2 .4-1.6 .2 .5 .3 .2 .4-1.1 .3-.5 .1-.1 .4-.7 .2-.6 .2-.2 .4-.7 .5 0 .4-.8 .4-1.2 .4 .2 .4-.1 .3-.2 .2 .3 .4-2.6 .4-.3 .4-1 .4 .1 .4-.6 .5-.2 .4-1.8 .4-.3 .4-.8 .4-1.9 .3-.4 .1 1 .4 .8 .1-.2 .4-1.7 .4-.7 .4-.4 .4-1.3 .4 .2 .5-.3 .4-.1 .4-1.8 .4-.7 .4 1.2 .4-.8 .5-.1 .4-.4 0-.5 .4 .3 .4-.9 .2-1.4 .2 .5 .4-.9 .5 1 .4-.6 .4-3.1 .4 1.1 .4 .7 .4 0 .5-.6 .4-.8 .1-.6 .3 1.8 .4-1 .4-1.9 .4-.5 .5 .4 .4-1 .4-1.5 0 .5 .4-.1 .4 1.4 .5-.2 .4-.9 .4 .3 .4-.5 .3 0 .1-.3 .4 .2 .5-1.1 .4-.6 .4 .8 .4 1 .4-.3 .4-.7 .5-.3 .4-1.5 .4-.9 .4 .8 .4 .7 0-1.5 .4-.5 0 1.1 .5-.1 .4-1.7 .4-.6 .4-.1 .4-.1 .4-.5 .5-1.6 .4 .9 .4 1.9 .4 0 .4-.9 .1-.3 .3 0 .5-.6 .4 1.4 .4 .7 .4-2.4 .3-.8 .1 .9 .4 2.1 .4 2.3 .1 .7 .4 1.9 .1 .2 .3-3.6 .3-3.4 .1-.7 .4-1 .4 .4 .5-.4 .4 .3 .4 .8 .4 0 .4-.8 .4-1.1 .5-.6 .4-.5 .4 1 .4-.3 .4-.6 .3 .4 .2 1.1 .2-.2 .2 .2 .4-.5 .4-2 .4-1.4 .4 2.1 .5 1.4 .4-.8 .4 .7 .4-.1 .4-.2 .4-.5 .5-2.8 .4 .2 .4 1.7 .4-1.4 .4-.8 .1 .8 .3 1 .5 1.7 .4 1 .4-1.3 .4-1.2 .4-.2 .4 .3 .5-2.8 .4 .4 .4 1.8 .4-.6 .4-.4 .4 2.6 .3 .3 .2-.2 .4-1.5 .4 .8 .4-.3 .4-1.5 0-.9 .4 1.3 .5-1.1 .4-.6 .4 .1 .4 1.2 .4 .7 .4-.6 .5 1.1 .4 0 .4-1.1 .4 .2 .4 1.6 .5 .3 .4-2.3 .4-.4 .2-.1 .2 .6 .4 .9 .4-.9 .5-.9 .4 .2 .4-.2 .4 .3 .4-1.2 .4 2.1 .5 2.9 .4-.3 .4 .6 .4-3.1 .4-1.2 .4 1 .5-.4 0 .1 .4-1 .1 .5 .3 .4 .4-.8 .4 .4 .4-.9 .5-1 .4 .4 .4 0 .4 .8 .4 .6 .4 1.3 .5 .9 .4-1.2 .4-.4 .4-.4 .4 .7 .4-2.1 .4 0 .1 .4 .4 .8 .4-.6 .4 .5 .4 .3 .4 .4 .5 0 .4-.4 .4 2.3 .4 .8 .4-1 .4-.7 .5-1 .4-1 .1 1.6 .3 3.5 .4 5 .2 1.9 .2-2.7 .5-6 0-1.6 .2-.3 .2 .7 .4 .1 .4-.2 .4 1.6 .4-1.1 .5-.7 .4 .1 .4-1.2 .4 2.9 .4 .7 .3-.4 .1-1.9 .5-.9 .4 1.2 .4 .4 .4 .9 .4 .6 .1 1.9 .3 .3 .5 .4 .4 .5 .4-.6 .4 0 .4 .6 .4-.5 .5-.5 .4-.4 0 .2 .4 1.3 .4 .8 .4 .9 .4-.3 .3 0 .2 1.1 .4-.6 .4-.4 .4 1.7 .4 .2 .4 2.7 .5 1.4 .4-.2 .4-.4 .2-.5 .2 .2 .4-.8 .3 0 .1 1.7 .5-.5 .4 .4 .4 .7 .4 1.4 .4 .9 .5 .8 .4 1.3 .2 .7 .2 .1 .4-.3 .4 1.5 .4 .2 .4 .1 .1 0 .4-.2 .4 .1 0 1.2" stroke="#bfbf00"/>
<path clip-path="url(#cBL)" d="M79.5 533.5l .4 .2 .4 .1 .4-.1 .4 0 .4-.1 .5-.4 .4 0 .4 .1 .4-.2 0-.1 .4 .2 .4 .5 .5-.2 .4-.3 .4 0 .4 .2 .4-.3 .4-.2 .5-.5 .4-.3 .4 .1 0 .4 .4-.5 .4-.1 .5-.3 .4-.3 .4 0 .4 .1 .4-.4 .4-.5 .5-.6 .4 .2 .4 .1 .4-.2 .4-.1 .4-.1 .5-.1 .4-.2 .4-.3 .4-.2 .4-.6 .4 0 .5-.5 .4-.3 .1-.1 .3-.1 .4-.4 .4-.2 .4-.7 .5-1 .4-.5 .4-.1 .4-.9 .4-.6 .4-.2 .1-.4 .4 .5 .4 .5 .4 1 .4 1 .3 .8 .1 .6 .4-2.6 .5-2.3 .4-1.1 .4-.3 0-.1 .4-1.6 .4-1.9 .4-1.2 .2 .2 .3-.1 .4-1.2 .3-.3 .1-.1 .4-.9 .2-.1 .2-.1 .4-.9 .5-.2 .4-.4 .4-.9 .4-.7 .4-.2 .3 .6 .2-.2 .4-1.6 .4-1.5 .4-1.3 .4-.1 .4-.7 .5 .4 .4-1 .4-.7 .4 .1 .4-1.2 .3-.7 .1 .7 .4-.3 .1 .2 .4-1 .4-1.1 .4-.9 .4-2.1 .4 0 .5 .9 .4 .3 .4-1.3 .4-.8 .4 .8 .4-1 .5-1.3 .4-1.4 0-.2 .4 2 .4-.1 .2-1.3 .2 .8 .4-1.9 .5-.9 .4-.2 .4-2.6 .4 1.2 .4 .5 .4-.3 .5-.7 .4-1.8 .1-.1 .3 2.5 .4-1 .4-1.4 .4-1 .5 1.2 .4-1 .4-1.4 0 0 .4-.8 .4 1.8 .5-.1 .4-.4 .4 0 .4 0 .3 1 .1 .2 .4-1 .5-.8 .4-.3 .4-.3 .4 .8 .4-.1 .4-2.2 .5-.3 .4-.6 .4-.9 .4 1.1 .4 1.6 0-1.4 .4-.9 0 .7 .5-.7 .4-1 .4-.4 .4-1.1 .4-.8 .4-.2 .5-.8 .4 2 .4 .8 .4-.3 .4-.4 .1-.9 .3 .7 .5-.4 .4 1.6 .4 .5 .4-2.3 .3-1.3 .1 .9 .4 2.2 .4 2.5 .1 .8 .4 2.3 .1 .6 .3-3.7 .3-4.3 .1-1.6 .4-.3 .4 .9 .5 .4 .4-.7 .4-.6 .4 .2 .4-.4 .4-1.8 .5-.2 .4-.2 .4 2 .4 .2 .4-.8 .3-.4 .2 .2 .2-.2 .2-.7 .4-.8 .4-.1 .4-1.7 .4 1 .5 .8 .4-.2 .4 .9 .4 .9 .4-1.2 .4 .2 .5-1.4 .4 0 .4 1.5 .4-1.9 .4-1.6 .1 .3 .3 2 .5 2.1 .4 2.4 .4-3.9 .4-1.6 .4 0 .4 .6 .5-1.3 .4 .2 .4 .3 .4-.1 .4-.6 .4 3.1 .3 .5 .2-.9 .4-1.1 .4 1.3 .4 .2 .4-2.8 0-1.3 .4 1.6 .5-1.3 .4-.6 .4 .8 .4 .5 .4 .2 .4 .3 .5 2.2 .4-.6 .4-2.3 .4 .3 .4 2.8 .5 .8 .4-2.1 .4-1 .2 .3 .2 .6 .4 .6 .4-1.5 .5 .2 .4-.8 .4-1.8 .4-.3 .4 .2 .4 3.4 .5 2.6 .4-.5 .4 .6 .4-1.8 .4-1.4 .4 1.4 .5-1.2 0-.8 .4-.6 .1 .5 .3 .2 .4-.7 .4-.5 .4-.4 .5-.4 .4 1.3 .4-.3 .4 1.4 .4 .3 .4 0 .5-.2 .4-.6 .4 .3 .4 .4 .4 .4 .4 .1 .4-.9 .1-.4 .4-.2 .4 .1 .4 .7 .4 .1 .4-.9 .5 1 .4 .4 .4 .7 .4 0 .4-.7 .4-3.1 .5 3.1 .4-1.4 .1-.3 .3 3.2 .4 6 .2 3.6 .2-2.5 .5-6.2 0-1.6 .2-.6 .2-.4 .4 .1 .4 .7 .4 1.3 .4-1.1 .5-.3 .4-.9 .4-.5 .4 1 .4 .6 .3 .6 .1-.7 .5-1.4 .4 1.3 .4 2.3 .4 1.2 .4-.2 .1 1.2 .3 .2 .5-.5 .4-.4 .4 .2 .4 1.1 .4 .5 .4-.8 .5-.6 .4-1 0 .2 .4 1.3 .4 .5 .4 2.5 .4 .4 .3-1.3 .2 1 .4-.3 .4-.4 .4 1.9 .4-1.3 .4 3.4 .5 2 .4 0 .4-.7 .2-.6 .2 .6 .4-.7 .3 .1 .1 1.1 .5 0 .4-1 .4 .8 .4 1.4 .4 .8 .5 1.2 .4 .7 .2 .6 .2 .6 .4 1.1 .4 1.4 .4 .3 .4 .2 .1-.3 .4 0 .4 .3 0 .8" stroke="#bfbf00"/>
<path clip-path="url(#cBL)" d="M79.5 533.7l .4 0 .4-.3 .4 0 .4 .4 .4 .2 .5-.3 .4-.2 .4-.2 .4-.5 0 .2 .4-.4 .4 .1 .5 .4 .4-.4 .4-.2 .4 .2 .4-.1 .4-.4 .5-.2 .4 .1 .4-.1 0 0 .4-.3 .4-.3 .5-.5 .4 0 .4 0 .4 .1 .4 .1 .4-.4 .5-.6 .4-.1 .4 .1 .4 .1 .4-.6 .4-.6 .5 .2 .4 .2 .4-.2 .4-.1 .4-.5 .4-.3 .5-.2 .4-.2 .1-.1 .3-.2 .4-.8 .4-.3 .4-.4 .5-1 .4-.3 .4-.5 .4-.8 .4-.6 .4-.8 .1-.4 .4 .2 .4 .8 .4 1.3 .4 1.2 .3 1.1 .1-.4 .4-2.1 .5-1.8 .4-.7 .4-.2 0-.7 .4-1.9 .4-1.9 .4-1.8 .2 .5 .3 0 .4-1.9 .3-.2 .1 .8 .4-.2 .2-.8 .2-.5 .4-.9 .5-.4 .4-.2 .4-1.1 .4-.8 .4-.6 .3 .9 .2-.4 .4-2.2 .4-.8 .4-.7 .4 0 .4 1.5 .5-1.8 .4-2 .4-.2 .4 .3 .4-1.9 .3-.1 .1 .1 .4 .3 .1 .2 .4-.8 .4-.8 .4-1.6 .4-1.6 .4-.3 .5 .2 .4-.2 .4-1.7 .4 .1 .4 .9 .4-1.1 .5-1.6 .4-.2 0 .5 .4 1.2 .4-.4 .2-1.5 .2-.2 .4-.7 .5-.5 .4-.6 .4-2.2 .4 1 .4-.2 .4-.1 .5-.8 .4-.9 .1-.2 .3 2.2 .4-1.3 .4-1.8 .4-.4 .5 1.4 .4-.6 .4-1.6 0-1.1 .4-.4 .4 2.3 .5 .7 .4-1.1 .4-.1 .4-.1 .3-.3 .1-.8 .4 .5 .5 0 .4-1.9 .4-.1 .4 1.2 .4-.4 .4-1.9 .5 .3 .4-1.2 .4-.5 .4 .7 .4 1.2 0-.9 .4-.8 0 1.1 .5-.8 .4-2 .4 .5 .4 .2 .4-.5 .4-.3 .5-1.1 .4 .5 .4 1.5 .4 .3 .4-1.1 .1 .1 .3 1.3 .5-1 .4-.6 .4 0 .4-1.6 .3-.1 .1 .8 .4 2.3 .4 2.1 .1 .5 .4 3.1 .1-3.2 .3-1.3 .3-4.2 .1-.4 .4-.3 .4-.3 .5 .6 .4 .9 .4-1 .4-1.1 .4 .2 .4-2.1 .5-.9 .4 0 .4 1.9 .4-.3 .4 .2 .3 .7 .2 .9 .2-2.8 .2 1.7 .4-1.1 .4-1.5 .4-1.7 .4 1.5 .5 1.5 .4-.2 .4 1.1 .4 .6 .4-1 .4-.1 .5-2.9 .4-.7 .4 1.6 .4-.7 .4-.7 .1 .6 .3 .5 .5 1.4 .4 1 .4-1.7 .4-1.2 .4 0 .4 1.1 .5-1.9 .4-.2 .4 .5 .4-.9 .4 1.1 .4 3.2 .3 1 .2-1.5 .4-2.5 .4 .1 .4 .4 .4-1.3 0-.6 .4 1.5 .5-1.8 .4-.7 .4-.2 .4 1.2 .4 1.2 .4-1.1 .5 2 .4 .4 .4-1.6 .4-.4 .4 2.6 .5 .6 .4-2.5 .4-1 .2 .6 .2 .9 .4 .4 .4-1.1 .5-.9 .4-.6 .4-.7 .4-.1 .4-1 .4 3.2 .5 3.4 .4-1.4 .4 .2 .4-2.2 .4-.8 .4 2.2 .5-1.2 0-.8 .4-1.7 .1 .8 .3 1.9 .4-.9 .4-.7 .4-1.4 .5-.1 .4 1.9 .4-.9 .4 1.7 .4 .4 .4 .7 .5 .1 .4-1 .4 0 .4-.7 .4 1.4 .4 .6 .4-1.7 .1-1.2 .4 0 .4-.2 .4-.2 .4 1.3 .4 .7 .5 .9 .4 0 .4 1.3 .4 .6 .4-1.4 .4-1.2 .5-.8 .4-1.4 .1 .3 .3 3.9 .4 6.1 .2 2.8 .2-3.1 .5-5.7 0-.8 .2 0 .2 .7 .4-.7 .4 .1 .4 1.4 .4-.2 .5-.3 .4-.7 .4-1.2 .4 .3 .4 .4 .3 .2 .1-1 .5 .2 .4 .6 .4 1.1 .4 1.6 .4 .4 .1 1.1 .3 .3 .5 .3 .4 .5 .4-.4 .4 0 .4 .1 .4-.4 .5 1.1 .4-1.3 0 .3 .4 1.4 .4-.2 .4 0 .4 .4 .3 1 .2 .9 .4-.3 .4-.1 .4 2 .4-1.3 .4 1.6 .5 1.8 .4 1.2 .4-1.1 .2-.4 .2 1.2 .4-.5 .3-.5 .1 1.1 .5 .5 .4-.6 .4-.1 .4 1.8 .4 .9 .5 .5 .4 1.8 .2 .6 .2 .2 .4 .9 .4 1.1 .4 .2 .4-.6 .1 .1 .4 .3 .4 .6 0 .7" stroke="#bfbf00"/>
<path clip-path="url(#cBL)" d="M79.5 533.7l .4 0 .4-.3 .4-.4 .4 .2 .4-.1 .5-.1 .4 .4 .4 0 .4-.7 0-.2 .4 .1 .4 .4 .5 .2 .4-.4 .4-.1 .4 0 .4 0 .4 .2 .5-.4 .4-.6 .4 .2 0 .3 .4-.1 .4-.3 .5-.7 .4-.3 .4-.3 .4 .1 .4 .2 .4-.5 .5-.4 .4-.1 .4 .1 .4-.3 .4 .1 .4 0 .5-.4 .4-.2 .4-.2 .4-.6 .4-.3 .4-.7 .5-.6 .4-.1 .1 .3 .3-.4 .4-.7 .4-.2 .4-.4 .5-1.1 .4-.5 .4-.1 .4-.8 .4-1.1 .4-.5 .1 .4 .4 .3 .4 .2 .4 1.1 .4 1 .3 1.2 .1 .4 .4-2.1 .5-1.7 .4-1.5 .4-.6 0-.7 .4-1.5 .4-1.8 .4-1.4 .2 .4 .3-.5 .4-1.9 .3-1.1 .1 1.4 .4-.2 .2-.8 .2-.4 .4-.9 .5-.2 .4-.3 .4-.8 .4-1 .4-.5 .3 .7 .2-.5 .4-2.1 .4-.2 .4-1.2 .4-1.1 .4 .2 .5 .5 .4-1.2 .4-.6 .4 0 .4-1.8 .3-1.4 .1 1.6 .4-.2 .1-.6 .4-1.4 .4-.4 .4-.7 .4-2 .4 0 .5 .4 .4 .1 .4-2 .4-.6 .4 1 .4-1.3 .5-1.1 .4-.2 0 0 .4 .6 .4-.1 .2-2.1 .2 .2 .4-1.2 .5 .4 .4 0 .4-2.9 .4 1.7 .4 .1 .4-.3 .5-1 .4-1.7 .1 .1 .3 3.1 .4-1.4 .4-2.1 .4-.2 .5 .8 .4-1.1 .4-1.1 0 0 .4-2.2 .4 2.9 .5 .4 .4 .8 .4 .1 .4-1.1 .3-.6 .1-.7 .4 1.8 .5-.9 .4-2 .4 0 .4 .5 .4 1.3 .4-.7 .5 .1 .4-1.9 .4-.7 .4 .1 .4 .8 0-1.3 .4-.4 0 1.2 .5-.7 .4-1 .4 .4 .4-.5 .4-1.9 .4-1.1 .5-.9 .4 1.7 .4 .8 .4-.4 .4-.4 .1 0 .3 .9 .5-1.9 .4 1.6 .4 1 .4-2.8 .3-.9 .1 1.6 .4 2.2 .4 2.1 .1 .5 .4 2.5 .1 .6 .3-3.2 .3-4.9 .1-.5 .4-.9 .4-.3 .5 .6 .4-.3 .4-.4 .4 1 .4-.9 .4-2.8 .5 .5 .4 .1 .4 .3 .4-.8 .4 .5 .3 1.4 .2 .1 .2-1 .2-.8 .4-1.2 .4-.6 .4-.9 .4 .8 .5 .9 .4 .3 .4 1 .4-.7 .4-1 .4 .1 .5-1.5 .4 .1 .4 2.1 .4-2.5 .4-.6 .1 .7 .3 .7 .5 1.2 .4 1.4 .4-1.8 .4-2 .4 1.2 .4 1.4 .5-1.1 .4-1.6 .4-1 .4 0 .4 1.9 .4 2.2 .3 .7 .2-.3 .4-2.3 .4 .3 .4-.2 .4-2.1 0-1.4 .4 2.1 .5-2.1 .4-1.2 .4 1.5 .4 1.2 .4 0 .4 .4 .5 2.3 .4-1.5 .4-1.5 .4 .7 .4 2.6 .5 1.3 .4-2.4 .4 0 .2-.8 .2-.6 .4 1.3 .4-.6 .5-1 .4-.9 .4-.9 .4 .9 .4 .4 .4 2.4 .5 2.2 .4 .8 .4 0 .4-2.4 .4-1.8 .4 1.2 .5-1.2 0-.6 .4-.5 .1 .7 .3 1.1 .4-2 .4-.6 .4-.3 .5 .8 .4 1 .4-1.6 .4 .7 .4 1 .4 .5 .5 .1 .4-.3 .4 1 .4 .6 .4 1.6 .4-.4 .4-1.6 .1-1.1 .4-1.1 .4 .1 .4 .2 .4 .1 .4 1.1 .5 .8 .4-.2 .4 .5 .4 .5 .4-.3 .4-1.4 .5-.2 .4-.6 .1 1.2 .3 2.8 .4 5.8 .2 2.7 .2-2.9 .5-5.8 0-2.2 .2 .1 .2 .3 .4 1 .4 .2 .4 0 .4-1.2 .5 .4 .4-.8 .4-1.3 .4 2.6 .4 .9 .3 .1 .1-2.1 .5-.3 .4 .7 .4 2.4 .4 1.3 .4-.2 .1 1.2 .3-.3 .5 0 .4-.1 .4-.2 .4 1.1 .4 .2 .4-.9 .5-.3 .4-1.1 0 .9 .4 1.3 .4 .4 .4 1.2 .4 .8 .3-.7 .2 .4 .4-1.5 .4 .3 .4 2.5 .4-1.1 .4 2.9 .5 1.5 .4 .9 .4-1.1 .2-.7 .2 1.5 .4-.2 .3-.6 .1 .3 .5-.1 .4 0 .4 .1 .4 1.5 .4 .8 .5 .7 .4 1.2 .2 1.2 .2 .1 .4 1 .4 1.5 .4-.5 .4 .5 .1 .1 .4-.2 .4 .2 0 1" stroke="#bfbf00"/>
<path clip-path="url(#cBL)" d="M79.5 533.2l .4-.3 .4-.2 .4 .6 .4-.1 .4-.4 .5 0 .4 .3 .4-.1 .4-.7 0-.1 .4 .7 .4 .3 .5-.5 .4-.4 .4 .3 .4 .1 .4-.5 .4-.1 .5 .4 .4-.4 .4-.3 0 .1 .4-.2 .4-.3 .5-.4 .4-.1 .4 0 .4-.5 .4 .2 .4-.5 .5-.5 .4 0 .4 .3 .4 .2 .4-.6 .4-.5 .5 .1 .4 .1 .4-.6 .4-.7 .4-.2 .4 0 .5 .2 .4-.1 .1 0 .3-.9 .4-.6 .4 .2 .4-1.2 .5-1.1 .4-.2 .4-.6 .4-1.3 .4-.4 .4-.9 .1-.4 .4 .7 .4 .9 .4 .9 .4 1 .3 .7 .1 .2 .4-1.7 .5-2.1 .4-1.4 .4-.7 0 .1 .4-2.3 .4-1.6 .4-1.4 .2 .3 .3-.5 .4-1.7 .3-.7 .1 .2 .4-.7 .2-.1 .2 .3 .4-1.7 .5-.3 .4-.2 .4-.9 .4 .3 .4-1.3 .3 .6 .2-.1 .4-2.5 .4-.6 .4-.5 .4-.5 .4 0 .5 .4 .4-1.7 .4-.7 .4 .2 .4-1.9 .3-.8 .1 1.5 .4 .4 .1-.9 .4-1.8 .4-1 .4-1.2 .4-1.2 .4 1 .5-.2 .4 .1 .4-1.6 .4-.8 .4 .5 .4-.9 .5-.9 .4-.6 0-1 .4 1.1 .4 .1 .2-1.1 .2-.1 .4-2.2 .5 .8 .4-.7 .4-2.6 .4 2.5 .4 .5 .4-.5 .5-.5 .4-1.7 .1-.4 .3 1.8 .4-.8 .4-2 .4-.5 .5 1.4 .4-1.1 .4-2.6 0 .4 .4 .9 .4 1.7 .5-1.2 .4-.3 .4 .5 .4-.9 .3 .3 .1-.8 .4 .1 .5-.3 .4-.3 .4-.1 .4 .7 .4-.8 .4-.9 .5 1.4 .4-1.4 .4-1.7 .4-.2 .4 1 0-.7 .4-.1 0 .9 .5-.8 .4-1.3 .4 .7 .4-.6 .4-1.3 .4-.8 .5-1.5 .4 1.4 .4 1.3 .4 .5 .4 .8 .1-1.6 .3-.1 .5-.9 .4 1.3 .4 .3 .4-2.7 .3 0 .1 1.7 .4 2 .4 2.6 .1-.4 .4 1.1 .1 .6 .3-4.4 .3-4.3 .1-.6 .4-.5 .4 .3 .5 1 .4 0 .4-1.2 .4-.3 .4-.9 .4-1.9 .5 .1 .4 1.2 .4 .2 .4-1.7 .4 1.1 .3 1.1 .2 .5 .2 0 .2-.8 .4-1.7 .4-.2 .4-1.4 .4 .7 .5-.1 .4 1.9 .4 1 .4-1.1 .4-.4 .4-.2 .5-3.1 .4 .7 .4 1.4 .4-.6 .4 .3 .1-1 .3 .4 .5 1.2 .4 .3 .4-.1 .4-.3 .4-.4 .4-.3 .5-1.8 .4 0 .4 1.2 .4-.3 .4 .5 .4 2.5 .3-.3 .2-1 .4-.9 .4-.2 .4-.3 .4-1.7 0-.6 .4 1.5 .5-1.5 .4-.8 .4 .6 .4 .9 .4 1.1 .4 0 .5 1.3 .4 .1 .4-1.7 .4-1.5 .4 2.8 .5 .7 .4-1.5 .4-1 .2 0 .2 .6 .4 .3 .4-2.2 .5 1.6 .4-.8 .4-1.9 .4 2.1 .4-.8 .4 2.2 .5 3.1 .4 .4 .4 .4 .4-2 .4-2 .4 1.3 .5-1.4 0-1.3 .4-.6 .1 .4 .3 1.8 .4-.1 .4-.4 .4-1.3 .5-.7 .4 .5 .4-.4 .4 1.5 .4 .1 .4 1.1 .5 .5 .4-1.4 .4-.2 .4-.2 .4 1.3 .4 .7 .4-1.4 .1-.8 .4-.5 .4-.3 .4 .6 .4 .4 .4-.2 .5 1.4 .4 .4 .4 1.6 .4 .4 .4-1.4 .4-1.2 .5-.4 .4-1.5 .1 1 .3 4 .4 6.3 .2 3.7 .2-4.8 .5-6.1 0-1 .2 .2 .2 .2 .4 1.5 .4 .6 .4-.4 .4-1.5 .5 .4 .4-1 .4-2.3 .4 1.9 .4 1.6 .3 .1 .1-2.2 .5-2 .4 .7 .4 3.5 .4 2.3 .4 .5 .1 1.6 .3 1.1 .5-.6 .4-1.4 .4-.5 .4 .7 .4-.1 .4 .1 .5 .8 .4-1 0-.3 .4 .5 .4 .6 .4 .4 .4 .4 .3-.3 .2 2.1 .4-.6 .4-.9 .4 2.5 .4-1.9 .4 2.9 .5 2.7 .4 .6 .4-.8 .2-.7 .2 1.7 .4 .4 .3-1.3 .1-.5 .5 .3 .4 .4 .4 .1 .4 1.1 .4-.1 .5 2.1 .4 1.5 .2 0 .2-.3 .4 1 .4 1.6 .4 .7 .4 .4 .1-.1 .4 .2 .4-.2 0 .3" stroke="#bfbf00"/>
<path clip-path="url(#cBL)" d="M79.5 532.9l .4 0 .4-.1 .4 .2 .4 .3 .4-.3 .5-.4 .4 0 .4 0 .4 .2 0 0 .4-.1 .4 .6 .5-.3 .4-.2 .4-.5 .4 0 .4 .2 .4-.5 .5-.1 .4 0 .4 .1 0 .2 .4-.2 .4-.6 .5-.3 .4 .2 .4-.2 .4-.4 .4-.2 .4-.6 .5-.4 .4-.1 .4-.2 .4 0 .4 .1 .4 .2 .5-.7 .4-.3 .4 .2 .4-.1 .4-.7 .4-.5 .5-.2 .4 .1 .1 .4 .3-.7 .4-1.3 .4-.3 .4-.6 .5-.7 .4-.4 .4-1 .4-1.1 .4-1 .4-.2 .1 0 .4 .1 .4 .9 .4 1.1 .4 1.8 .3 .1 .1 .1 .4-2.5 .5-1.9 .4-1.9 .4-.2 0 .3 .4-1.7 .4-2.5 .4-2.3 .2 .3 .3-.1 .4-1.3 .3 .1 .1 .3 .4-.4 .2-.4 .2-1 .4-1.5 .5-.2 .4-.4 .4-.8 .4-.3 .4-.6 .3 .5 .2 .1 .4-1.2 .4-1.5 .4-1.5 .4 .3 .4 .2 .5-.5 .4-1.4 .4-.3 .4 .2 .4-1.4 .3-.6 .1-.1 .4-.4 .1 .4 .4-.9 .4-1.1 .4-1.1 .4-1.7 .4 0 .5 .2 .4 .1 .4-1.5 .4-.7 .4 .5 .4-1.3 .5-2.1 .4 0 0-.6 .4 1.6 .4-.3 .2-.8 .2 .7 .4-1.3 .5 .4 .4-.4 .4-3 .4 .9 .4 .5 .4 .1 .5-.8 .4-1.1 .1 0 .3 1.5 .4-1.7 .4-.6 .4-1.2 .5 .3 .4-.7 .4-2.1 0 0 .4 .5 .4 2 .5 .3 .4-.6 .4-.2 .4-.7 .3 .7 .1-.5 .4 .7 .5-1.8 .4-1 .4-.2 .4 1.8 .4 .3 .4-1.9 .5-.3 .4 1.1 .4-2.5 .4-.4 .4 .4 0-.7 .4 .6 0 .5 .5-1.3 .4-.9 .4 .3 .4-.2 .4-.5 .4 .3 .5-2.1 .4 .1 .4 .9 .4 .5 .4 .2 .1-.5 .3 1.2 .5-1 .4 .4 .4-.4 .4-2.9 .3 .3 .1 1.6 .4 2.6 .4 2.6 .1-1 .4 2.2 .1 1.1 .3-4.8 .3-5.4 .1 0 .4-.1 .4 .1 .5-.4 .4 .2 .4-.2 .4-.8 .4-1 .4-.1 .5 .2 .4-1.4 .4 .7 .4-1.4 .4 .4 .3 1.9 .2 .6 .2-1.2 .2-.2 .4-.7 .4-3.7 .4 1 .4 1.4 .5 .8 .4-.5 .4 .7 .4 .1 .4-.7 .4 .9 .5-3.7 .4-.7 .4 2.6 .4-.9 .4-.6 .1-.1 .3 .7 .5 1 .4 1.8 .4-1.4 .4-1.4 .4 1 .4 .5 .5-2 .4-.4 .4-.3 .4 0 .4 .3 .4 2.8 .3 .7 .2-.1 .4-3.2 .4 .7 .4 .9 .4-2.4 0-1 .4 2.2 .5-2.1 .4-.9 .4 0 .4 2 .4 1 .4-.4 .5 1.2 .4 .7 .4-1.2 .4-.3 .4 1.6 .5 .2 .4-2.2 .4-.5 .2 0 .2 1.5 .4 .8 .4-2 .5-.8 .4-1.4 .4-.6 .4 1.3 .4 .3 .4 2 .5 1.8 .4-.2 .4 1.3 .4-2.8 .4-2.9 .4 3.6 .5-1.4 0-.6 .4-.4 .1 .5 .3 1.7 .4-1.8 .4-.6 .4-.1 .5-1.3 .4 .7 .4 .5 .4 1.1 .4 .4 .4 1.1 .5 0 .4-1.3 .4 .5 .4 .2 .4 3.1 .4-.4 .4-1.3 .1-1 .4-1.2 .4-.8 .4 .2 .4-.1 .4 1 .5 2 .4 .5 .4 1.1 .4 .2 .4-2 .4-2.4 .5-.5 .4-.6 .1 1.3 .3 3.5 .4 6.4 .2 4 .2-3.7 .5-6.5 0-1 .2-1 .2 .7 .4 .6 .4 .3 .4 1.3 .4-1.4 .5 0 .4-.7 .4-2 .4 4.2 .4-1.4 .3-.6 .1-1.6 .5-.4 .4 1.1 .4 2.2 .4 2.5 .4 2.9 .1-2.4 .3 .8 .5 .1 .4 .1 .4-1.1 .4-.1 .4 .9 .4-.3 .5 .1 .4-.9 0-.3 .4 .8 .4 .3 .4 .7 .4 .6 .3 .4 .2 2.8 .4-2 .4-1.1 .4 2.9 .4-3.7 .4 4.5 .5 1.8 .4 .6 .4-.6 .2 0 .2 1.6 .4-1.2 .3-.5 .1 1.2 .5 .8 .4-.2 .4-.8 .4 1 .4 .9 .5 1.6 .4 1.3 .2 .3 .2-.8 .4 .4 .4 2.1 .4 .3 .4-.3 .1 .5 .4 .6 .4-.1 0 1.6" stroke="#bfbf00"/>
<path clip-path="url(#cBL)" d="M79.5 533.7l .4-.3 .4-.7 .4 0 .4 .1 .4-.2 .5-.2 .4 .1 .4-.3 .4-.3 0 .1 .4 0 .4 .5 .5 0 .4-.5 .4 0 .4 .2 .4-.1 .4-.3 .5-.3 .4-.2 .4 .5 0 .3 .4-.3 .4-.7 .5-.2 .4-.1 .4 0 .4-.4 .4-.3 .4-.9 .5-.5 .4 .3 .4-.1 .4-.2 .4-.1 .4-.1 .5 0 .4-.4 .4-.1 .4 .1 .4-.5 .4-.6 .5-.6 .4-.4 .1-.2 .3-.4 .4-.8 .4 .1 .4-.3 .5-1 .4-1.2 .4-.7 .4-.7 .4-.9 .4-.6 .1-.8 .4 .6 .4 1 .4 1.5 .4 1 .3 .8 .1 .4 .4-2.1 .5-2.3 .4-1.6 .4-.9 0-.4 .4-2 .4-1.5 .4-1.4 .2-.2 .3 .1 .4-1.2 .3-.6 .1 .1 .4-1.2 .2 0 .2-.3 .4-1.1 .5 .3 .4-.8 .4-1 .4-.3 .4 0 .3 .5 .2-.1 .4-2.3 .4-1.2 .4-1.5 .4-.3 .4 .3 .5-2.2 .4 0 .4-.5 .4-.3 .4-1.8 .3 .1 .1 .5 .4-.4 .1-.6 .4-1.7 .4-1.5 .4-.6 .4-.9 .4 .3 .5-.2 .4-.1 .4-1.7 .4-1.6 .4 .8 .4-.8 .5-2.1 .4-.7 0 .2 .4 .7 .4-.3 .2-1 .2-.5 .4-2 .5 1.2 .4-.2 .4-3.5 .4 .9 .4 0 .4-.1 .5-2 .4-1.1 .1 .1 .3 1.7 .4-2 .4-1.7 .4-.9 .5 .7 .4-2.5 .4-1.9 0 .6 .4-.3 .4 2.4 .5 .6 .4-1.8 .4-.5 .4-.5 .3 .3 .1-.2 .4 0 .5-1.1 .4-2.5 .4-.2 .4 2.1 .4-.5 .4-2.8 .5 .2 .4-.3 .4-1 .4 .7 .4 1.1 0-3.1 .4-2.4 0 2.4 .5-.3 .4-1.1 .4-.5 .4-.4 .4 .3 .4-.8 .5-1.9 .4-2.5 .4 3.8 .4-.9 .4-.7 .1 .3 .3 1.1 .5-2.3 .4 1.5 .4 .5 .4-3.7 .3 .4 .1 1.7 .4 1.1 .4 2.2 .1 .8 .4 3.4 .1 1.3 .3-5.2 .3-6 .1-.7 .4 .5 .4-.4 .5-.4 .4-.5 .4 .2 .4 .6 .4-.8 .4-1.5 .5-1.3 .4 1 .4 1.7 .4-2.5 .4-.7 .3 1.3 .2 1.3 .2-1.2 .2-.4 .4-.4 .4-1.2 .4-2.8 .4 1.2 .5 1.4 .4 .7 .4 .9 .4-.2 .4-.8 .4-.2 .5-3.7 .4 1.5 .4 3.4 .4-3 .4-2.1 .1 .2 .3 .3 .5 1.3 .4 2.2 .4-1.8 .4-2 .4 1.1 .4 1.8 .5-2.4 .4-.9 .4 1.5 .4-.6 .4 .5 .4 4.4 .3 .8 .2-1.8 .4-3.2 .4 1.8 .4-1 .4-3.5 0-1.5 .4 2.6 .5-2.1 .4 .5 .4-1.2 .4 .1 .4 1.3 .4 .6 .5 3.1 .4 .1 .4-2 .4-1 .4 2.4 .5 .9 .4-3.4 .4-1.5 .2 .6 .2 .8 .4 1.3 .4-1.5 .5-.4 .4-.8 .4-1.7 .4 1.2 .4 .9 .4 1.5 .5 3.5 .4 1.2 .4-.3 .4-5.1 .4-1.4 .4 3.1 .5-1.2 0-.8 .4-1.2 .1 1.2 .3 1.4 .4-.2 .4 .5 .4-4.2 .5 .4 .4 .7 .4-.4 .4 1.7 .4 1 .4 .3 .5 1.7 .4-1.5 .4-.3 .4-.8 .4 1.2 .4 .5 .4-.6 .1-.2 .4-.8 .4-.5 .4 0 .4 1.5 .4 .6 .5 .4 .4-1 .4 2.5 .4 .5 .4-1.6 .4-.1 .5 .8 .4-2.6 .1 1.4 .3 5.3 .4 9.6 .2 3.7 .2-5.6 .5-7.7 0-1.6 .2 .2 .2 .3 .4-.3 .4 0 .4 1.1 .4-1.6 .5-.9 .4-1.5 .4-.7 .4 2.1 .4 .6 .3 .4 .1 .3 .5-2.3 .4-.2 .4 2.7 .4 2.1 .4 .5 .1 .1 .3 .7 .5 1.1 .4 1.1 .4-.4 .4 .3 .4 .2 .4-.1 .5 .1 .4-1.2 0 .3 .4 2.1 .4 .4 .4 1.4 .4-.5 .3-.3 .2 1.5 .4-1.9 .4 .8 .4 3.7 .4-1.1 .4 3.6 .5 1.7 .4-.6 .4-.4 .2 .9 .2 1.1 .4-1.4 .3 .2 .1 2.9 .5 .1 .4-.7 .4 .3 .4 1.6 .4 .9 .5 1.6 .4 1 .2 .6 .2-.4 .4 .9 .4 3.8 .4 1.5 .4-.4 .1-.6 .4 .5 .4 0 0 1" stroke="#bfbf00"/>
<path clip-path="url(#cBL)" d="M79.5 532.9l .4 .1 .4-.3 .4-.3 .4-.1 .4-.2 .5 .1 .4-.1 .4 .1 .4-.3 0 .2 .4-.2 .4 .4 .5 .2 .4-.4 .4-.1 .4-.2 .4-.1 .4-.2 .5-.2 .4-.2 .4-.1 0 .2 .4 .1 .4-.3 .5-.7 .4-.2 .4-.2 .4-.2 .4-.2 .4-.6 .5-.1 .4 0 .4 .2 .4-.2 .4-.8 .4-.1 .5-.3 .4 .1 .4 .2 .4-.8 .4-.7 .4-.4 .5-.5 .4 .1 .1 .2 .3-.3 .4-.7 .4-.4 .4-.7 .5-1.2 .4-.7 .4-.5 .4-1.1 .4-.9 .4-.5 .1-.4 .4 .2 .4 .6 .4 1.1 .4 1.4 .3 1.4 .1 .2 .4-2.7 .5-2.4 .4-1.2 .4-1 0-.3 .4-1.6 .4-1.8 .4-2.2 .2 .4 .3 .4 .4-2.1 .3-.2 .1 .5 .4 .1 .2-.8 .2-.8 .4-.9 .5-.4 .4-.5 .4-1.3 .4-.5 .4 .5 .3 .9 .2-.1 .4-1.6 .4-1.3 .4-2.1 .4-.9 .4-.3 .5 .2 .4-1.4 .4-.3 .4-.1 .4-1.4 .3-.5 .1-.4 .4 .3 .1 .1 .4-2.4 .4-1.7 .4-1.5 .4-1 .4 .3 .5-.7 .4 0 .4-2.3 .4-.9 .4 2.1 .4-1 .5-2.2 .4-2 0 .1 .4 1.6 .4 0 .2-2 .2 .9 .4-3.4 .5-.8 .4-1.1 .4-3.1 .4 1.6 .4 0 .4-.2 .5-1.9 .4-2.9 .1-1.5 .3 3.8 .4-1.5 .4-3.1 .4-1.3 .5 1.5 .4-2.3 .4-2.3 0 1.4 .4-1.1 .4 1.5 .5 1.7 .4-.5 .4-.3 .4-2.2 .3-.3 .1-.3 .4 2.7 .5-4 .4-2.2 .4-.3 .4 1.5 .4-.2 .4-2.9 .5-.2 .4-1.9 .4-1 .4 .5 .4 1.4 0-1.8 .4-.7 0 2.4 .5-1.8 .4-4.3 .4 .9 .4 .5 .4-2.5 .4-2.3 .5-3.1 .4 1.5 .4 2 .4 1 .4 0 .1-1.1 .3 1.5 .5-1.3 .4-.3 .4 1.5 .4-2.4 .3-1.4 .1 .1 .4 2.3 .4 1.4 .1-.4 .4 6.2 .1 .7 .3-5.4 .3-5.2 .1-1.8 .4-1.2 .4 .9 .5 1.5 .4 .7 .4 .8 .4-1.4 .4-1.8 .4-3.5 .5-1.1 .4 1 .4 .6 .4-.4 .4-.1 .3 1.3 .2 2.1 .2-1.3 .2 .4 .4-.8 .4-1 .4-2.2 .4 1.2 .5 0 .4-.2 .4 1.9 .4-1.3 .4-1.2 .4 .3 .5-3.8 .4-3.7 .4 6.6 .4-.9 .4-1.2 .1-1.7 .3-.1 .5 1.7 .4 3.6 .4-1.1 .4-1 .4 1.2 .4-.8 .5-4.1 .4-.3 .4 .9 .4-.2 .4 1.8 .4 4.3 .3 .5 .2-2.2 .4-2.6 .4 1.5 .4-.6 .4-4.5 0-1.9 .4 4.3 .5-1.9 .4-.4 .4 0 .4-.6 .4 1.6 .4-1.3 .5 2.7 .4 .9 .4-1.4 .4-.8 .4 3.1 .5 .6 .4-4.2 .4-.5 .2 .5 .2 1.1 .4 1.4 .4-4.1 .5-.6 .4-.7 .4-.6 .4 2.8 .4-.5 .4 2.5 .5 4.6 .4-.6 .4 0 .4-2.6 .4-2.1 .4 2.1 .5-2.6 0-1.1 .4-.2 .1 1.8 .3 1.4 .4-1.6 .4-1.2 .4-2 .5-.9 .4 2.1 .4 .7 .4 2.2 .4-.2 .4-.8 .5 1.3 .4 .3 .4-.7 .4 .2 .4 2.5 .4-.2 .4-3.4 .1-1 .4 .4 .4 .3 .4-.3 .4 .5 .4 6.2 .5-1.6 .4-3.7 .4 3.1 .4 .5 .4-1.3 .4-1.4 .5-.1 .4-.9 .1 1.3 .3 6.3 .4 10.5 .2 4.6 .2-6.9 .5-11.6 0-1 .2 1.8 .2 1 .4 .4 .4 .6 .4 1.1 .4-2.4 .5-.8 .4-.5 .4-2.2 .4 1.7 .4 1.3 .3-.3 .1-2.3 .5-1 .4 1.4 .4 2.6 .4 3.2 .4 0 .1 1.9 .3-.8 .5 .5 .4 .1 .4 .5 .4 1.5 .4 1.5 .4-.4 .5-.6 .4-1.7 0 1.2 .4 1.7 .4 0 .4 2.3 .4 .8 .3-.9 .2 2.1 .4-1.2 .4-.1 .4 4.1 .4-2.5 .4 4.8 .5 3.9 .4-.2 .4-.9 .2-.7 .2 1.3 .4-.3 .3-.9 .1 .7 .5 .6 .4-.7 .4 2.6 .4 2.8 .4 .5 .5 1.1 .4 2.6 .2 1.9 .2-.3 .4 1 .4 2.5 .4 .8 .4 .2 .1-.3 .4 .2 .4 .4 0 .8" stroke="#bfbf00"/>
<path clip-path="url(#cBL)" d="M79.5 533l .4-.2 .4-.3 .4 0 .4 .1 .4 .1 .5-.1 .4-.1 .4 .1 .4-.6 0 0 .4-.4 .4 .5 .5 .1 .4-.4 .4-.2 .4 .1 .4-.3 .4-.3 .5 .1 .4-.1 .4-.2 0 .4 .4 .2 .4-.6 .5-.9 .4-.2 .4-.2 .4-.4 .4-.1 .4-.5 .5-.2 .4 .3 .4-.2 .4-.1 .4-.6 .4-.3 .5-.5 .4 .4 .4 0 .4-.6 .4-.2 .4-.6 .5-.9 .4-.7 .1 .4 .3-.3 .4-.6 .4-.4 .4-.7 .5-1.4 .4-.6 .4-.4 .4-1.1 .4-1.5 .4-.8 .1-.2 .4 .5 .4 1 .4 2 .4 .9 .3 1.2 .1 .1 .4-3.1 .5-2.6 .4-1.2 .4-1.1 0-.2 .4-1.7 .4-1.3 .4-1.2 .2 1.5 .3-.2 .4-1.9 .3 .1 .1 .6 .4 .5 .2-.3 .2-.7 .4-1.2 .5-.2 .4-.9 .4-.6 .4 .1 .4-1.4 .3 .1 .2-.5 .4-1.9 .4-.6 .4-1.4 .4-.9 .4-.6 .5-.7 .4-2.3 .4-.3 .4 1 .4-.8 .3-1.2 .1-.3 .4-.3 .1-1 .4-1.5 .4-1.2 .4-1.6 .4-1.9 .4-.5 .5-1 .4-.6 .4-2.6 .4-1.4 .4 1.6 .4-.1 .5-2.2 .4-1.1 0 0 .4 .4 .4-1.4 .2-4.7 .2 1.2 .4-3 .5-.1 .4 .1 .4-4.2 .4-.4 .4-.6 .4 .3 .5-2.3 .4-4.4 .1-.5 .3 2.2 .4-2.9 .4-2.5 .4-.5 .5-.2 .4-2 .4-3 0 1.2 .4-1.9 .4 .8 .5 .9 .4-2.3 .4-.8 .4-1.8 .3 .4 .1 0 .4 .3 .5-.8 .4-2.8 .4-2.1 .4 1.1 .4 .4 .4-2.3 .5-.5 .4-3.2 .4-3.3 .4-.4 .4 2.6 0-3.4 .4-2.4 0 2.9 .5-1.3 .4-4.3 .4-.6 .4-.3 .4-.8 .4-2.2 .5-3.5 .4 1.5 .4 1.2 .4 .4 .4-.3 .1-1.4 .3 1.2 .5-1.5 .4 2.3 .4 1.8 .4-5.2 .3-1 .1 1.5 .4-1.1 .4-.2 .1 .4 .4 9.3 .1 2.9 .3-5.3 .3-6.8 .1-.9 .4-1.3 .4 .5 .5 .7 .4-1.4 .4-1.4 .4 1 .4 .4 .4-2.9 .5-1.7 .4-.3 .4 3.3 .4-.9 .4 .1 .3 .4 .2 .4 .2 .8 .2-.6 .4-2.2 .4-3.1 .4-2.7 .4 .7 .5 1.4 .4 1.9 .4 1.4 .4-.1 .4-5.4 .4 5.8 .5-5.1 .4-1.1 .4 2.6 .4-2.5 .4-1.4 .1-.5 .3 1.1 .5 2.8 .4 2.9 .4-3.5 .4-2.2 .4 1.2 .4 2.3 .5-2.9 .4-.3 .4-1.8 .4-2.2 .4 8.9 .4-2.3 .3-.2 .2-1.1 .4-1.6 .4 1.2 .4 1.8 .4-6.1 0-1 .4 2.1 .5-4.1 .4-.8 .4 0 .4-.5 .4 .7 .4 .7 .5 4.5 .4 .7 .4-3.6 .4-1.8 .4 4.1 .5 1.2 .4-3.1 .4-.7 .2-1 .2 1 .4 .1 .4-1.9 .5-1.1 .4-1.9 .4-.9 .4 2 .4-.7 .4 5.1 .5 5.5 .4-.7 .4-.4 .4-4.6 .4-2.4 .4 3.8 .5-2.6 0-.9 .4-1.1 .1 .4 .3 3 .4-.8 .4-2.8 .4-1.8 .5-1.6 .4 2.3 .4-10.6 .4 11.9 .4 .5 .4 1.8 .5 1 .4 0 .4-.9 .4 .3 .4 2.3 .4-.4 .4-3.6 .1 .1 .4 .5 .4-.4 .4-1.3 .4 .3 .4 4.2 .5 3.1 .4-2.1 .4 1.2 .4 .6 .4-1.9 .4-1.4 .5-.6 .4-6.6 .1 6.6 .3 11.4 .4 16.9 .2 7.4 .2-10.3 .5-18.4 0-3.1 .2 4.3 .2 1 .4 1 .4-.3 .4 1.1 .4-3.3 .5 .6 .4-.6 .4-2.3 .4 2.8 .4-.8 .3-.6 .1-.4 .5-1 .4 1.5 .4 4.3 .4 1.7 .4-1.5 .1 3.7 .3 .3 .5 .3 .4 2.1 .4-.6 .4 1.3 .4 .1 .4-.2 .5 2 .4 .3 0-.4 .4 1.6 .4 .9 .4 1.5 .4 .6 .3-.7 .2 2.9 .4-1.1 .4 1.1 .4 4.6 .4-1.3 .4 7.1 .5 4.8 .4-1.2 .4-1.1 .2-.3 .2 1.1 .4 .8 .3 1.1 .1 1.8 .5 1.4 .4-.8 .4-.2 .4 2.2 .4 1.6 .5 2.7 .4 2.3 .2 1.6 .2 1.3 .4 2.5 .4 3.9 .4 .6 .4 .3 .1 0 .4 .1 .4-.6 0 .4" stroke="#bfbf00"/>
<path clip-path="url(#cBL)" d="M79.5 533.3l .4-.4 .4-.4 .4-.2 .4 .3 .4 .1 .5-.4 .4-.2 .4-.3 .4-.2 0 0 .4 .2 .4 .4 .5-.3 .4-.2 .4 0 .4-.2 .4 0 .4-.2 .5-.1 .4-.1 .4-.3 0 .1 .4 .1 .4-.5 .5-.4 .4-.3 .4-.4 .4-.3 .4 .5 .4-1 .5-.7 .4-.1 .4 .3 .4-.5 .4-.2 .4-.1 .5-.4 .4-.1 .4 .3 .4-.8 .4-.7 .4-.2 .5 .3 .4-.1 .1-.6 .3-.4 .4-1.1 .4-.4 .4-.4 .5-1.2 .4-1.3 .4-.5 .4-1.1 .4-1.3 .4-.6 .1-.4 .4 .9 .4 .7 .4 1.2 .4 1.7 .3 1.2 .1 .2 .4-3.2 .5-2.5 .4-1.5 .4-.8 0-1.1 .4-1.9 .4-.3 .4-.5 .2 .8 .3 .2 .4-1.7 .3-.8 .1 .6 .4-.8 .2 .1 .2-.2 .4-1 .5-.2 .4-.8 .4-.8 .4-.2 .4-.8 .3 .5 .2-1.2 .4-2 .4-.2 .4-1.8 .4-.9 .4-.1 .5-.2 .4-2.2 .4-.6 .4 .4 .4-2.3 .3-1.2 .1 .3 .4 .4 .1 .2 .4-2.5 .4-1.7 .4-1.1 .4-2.6 .4-.4 .5 .3 .4 0 .4-3.5 .4-2.7 .4 1.3 .4-.2 .5-1.4 .4-1 0-.3 .4 .9 .4-1.3 .2-3.1 .2-.7 .4-3.6 .5 .4 .4-.7 .4-4.6 .4-.6 .4-.4 .4-.9 .5-1.8 .4-3.2 .1-.5 .3 3.6 .4-3.5 .4-3.3 .4-.4 .5 0 .4-1.7 .4-3.1 0-.1 .4-1.8 .4 2.9 .5-.5 .4-2.1 .4-.7 .4 1.2 .3-2.9 .1-.6 .4 .2 .5-1.8 .4-3.4 .4-1.8 .4 2.4 .4-1.5 .4-4.1 .5 .6 .4-1.9 .4-2.4 .4 .3 .4 .8 0-2.9 .4-.6 0 1.9 .5-.6 .4-1.7 .4-.3 .4-2.7 .4-2.2 .4-1.6 .5-2.8 .4-.4 .4 3.1 .4 1.4 .4-1.9 .1-3.3 .3 .8 .5-.4 .4 2 .4-.7 .4-3.7 .3 1.7 .1-.6 .4-.6 .4 0 .1-.1 .4 10.4 .1 1.8 .3-6.3 .3-6.6 .1-1.6 .4-1.1 .4 1.7 .5 0 .4-.9 .4-1 .4 2.6 .4-.7 .4-3.7 .5 .7 .4 2.3 .4 1.9 .4-2 .4-1.5 .3 1.2 .2 3.1 .2-2.4 .2-2.3 .4-.4 .4-1.8 .4-3.6 .4 3.2 .5-.4 .4-.1 .4 1.5 .4-1.1 .4-1.8 .4 1.5 .5-5.3 .4-.1 .4 3.5 .4-4.5 .4-2.4 .1 1.9 .3 .6 .5 3.8 .4 1.9 .4-3.1 .4-.4 .4 2.2 .4 .1 .5-4.3 .4-3.3 .4 .5 .4-.1 .4 1.5 .4 7.8 .3 .2 .2-2.4 .4-2.7 .4 .5 .4 .4 .4-4.8 0-2.3 .4 3.2 .5-1.6 .4-2.1 .4 .3 .4 1.1 .4 1.7 .4-.4 .5 3 .4 .7 .4-5.4 .4-1.6 .4 5.7 .5 1.3 .4-4.5 .4-2.4 .2 .1 .2 2.8 .4 .3 .4-3.5 .5 0 .4-1.1 .4-2.3 .4 6.9 .4-6 .4 6.3 .5 5.6 .4-2.3 .4 3.2 .4-4.3 .4-5.2 .4 2.6 .5-1.7 0 1.1 .4-.9 .1 .9 .3 1.2 .4-2.5 .4-1.7 .4-2.1 .5-1.5 .4 3.6 .4 .6 .4 1 .4 .1 .4-.1 .5 .9 .4 .3 .4-1.4 .4-.1 .4 3.5 .4 0 .4-3.7 .1-1.8 .4 .6 .4-.9 .4 0 .4 2.1 .4 .5 .5 1.9 .4-1.3 .4 3.7 .4 1.7 .4-1.8 .4-.9 .5-1.2 .4-2.4 .1 2.1 .3 9.8 .4 17.5 .2 6.2 .2-9.2 .5-16.5 0-2.3 .2 4.9 .2 .4 .4-2.4 .4 .3 .4 3 .4-2.7 .5-2.3 .4-1.3 .4-1.2 .4 3.6 .4 0 .3 0 .1-2.4 .5-1.8 .4 1.2 .4 2.8 .4 3.9 .4 .7 .1 1.8 .3 1.2 .5 2.2 .4 0 .4-1.7 .4 .9 .4 1.8 .4 .1 .5 1.9 .4-3.2 0 .1 .4 4.4 .4 .5 .4 1 .4 2.4 .3-.3 .2 2.5 .4 1.4 .4 1.2 .4 4.1 .4-4.7 .4 8.1 .5 4.1 .4 .6 .4 .8 .2-.3 .2 .4 .4-1.8 .3 .2 .1 1.4 .5 1.7 .4 0 .4 .9 .4 4.3 .4 1 .5 1.1 .4 2.4 .2 1.7 .2-.1 .4 2.3 .4 4.4 .4 1 .4 .5 .1-.5 .4 1.3 .4-.9 0 1.3" stroke="#bfbf00"/>
<path clip-path="url(#cBL)" d="M79.5 532.7l .4-.1 .4-.2 .4-.1 .4-.1 .4 0 .5-.4 .4-.2 .4 .1 .4-.2 0 .2 .4 0 .4 .2 .5-.1 .4-.1 .4-.2 .4-.2 .4-.1 .4 0 .5 0 .4-.3 .4-.1 0 .1 .4-.3 .4-1 .5-.4 .4 .1 .4-.4 .4 .3 .4 0 .4-.7 .5-.7 .4 0 .4-.2 .4 0 .4-.2 .4-.2 .5-.3 .4-.3 .4-.6 .4-.5 .4-.5 .4-.5 .5 .1 .4 .1 .1 .1 .3-.4 .4-1.1 .4-.6 .4-.7 .5-1.4 .4-.7 .4-.4 .4-1.3 .4-1.4 .4-.7 .1 0 .4 .6 .4 .3 .4 1.5 .4 1.9 .3 1.3 .1-.2 .4-2.9 .5-2.5 .4-1.2 .4-1.4 0-.8 .4-1.5 .4-1.1 .4-.9 .2 .8 .3 .2 .4-1.3 .3 .1 .1 .1 .4-.6 .2-.1 .2-1.2 .4-1 .5 .2 .4-.9 .4-1 .4-.8 .4-.1 .3 .7 .2 .1 .4-1.8 .4-.9 .4-2.2 .4-.8 .4-1 .5 .3 .4-2.4 .4-.9 .4 .5 .4-2.4 .3-1.7 .1 1.1 .4-.4 .1-.3 .4-1.5 .4-.6 .4-1.9 .4-3 .4-.4 .5 .7 .4 .6 .4-2.5 .4-2.4 .4 .8 .4-2 .5-2.2 .4-.4 0 .7 .4 .2 .4-1.5 .2-2.6 .2-.7 .4-2.8 .5-.9 .4-1.4 .4-4.1 .4 .7 .4-.3 .4-.9 .5-2.8 .4-4.1 .1 .1 .3 3.6 .4-3.4 .4-4.5 .4-1.6 .5 1.2 .4-1 .4-3.5 0 .5 .4-3 .4 2.2 .5 1.3 .4-1.7 .4-.4 .4-2.6 .3 .6 .1-.6 .4-.6 .5-1.8 .4-3.4 .4-.7 .4 2.6 .4-.7 .4-4.5 .5-.7 .4-2.4 .4-4 .4 .8 .4 2.7 0-4.3 .4-1.1 0 3.8 .5-.7 .4-2.7 .4-1 .4-.7 .4-2.5 .4-1.5 .5-3.1 .4 .5 .4 2.1 .4-.1 .4-2.6 .1-.3 .3 .4 .5-2.5 .4 2.3 .4 2.3 .4-3.5 .3-.5 .1 .8 .4 .3 .4-.7 .1-.4 .4 9.2 .1 3 .3-7.5 .3-6.7 .1-3.3 .4-1.5 .4 1.2 .5 3 .4 1.3 .4-.6 .4-.6 .4-.3 .4-4.2 .5-.4 .4 1.1 .4 .7 .4-1.6 .4 .3 .3 1.3 .2 1.9 .2 0 .2-.7 .4-2.3 .4-1.7 .4-4.7 .4 1.4 .5 2.9 .4 1.1 .4 .5 .4-1.6 .4-1 .4 .1 .5-3.5 .4-1.8 .4 4.4 .4-3.3 .4-1.8 .1 5.4 .3-5.1 .5 4.4 .4 3.6 .4-4.8 .4-3.5 .4 2.4 .4 3.1 .5-3.1 .4-3.3 .4 1.8 .4-1.3 .4 .4 .4 5.8 .3 1.1 .2-2.1 .4-2.7 .4 1.6 .4-.7 .4-5.2 0-.8 .4 1.9 .5-2.8 .4-1.3 .4-.9 .4 1.5 .4 1.1 .4 .1 .5 2.8 .4-1.1 .4-2.9 .4 .8 .4 4.4 .5 1.3 .4-4.7 .4-2.1 .2-2.1 .2 .3 .4 3.2 .4-1.6 .5-.9 .4 .2 .4-1.2 .4 1.1 .4-1.1 .4 4.7 .5 4.2 .4 1.5 .4-.7 .4-7.2 .4-2.4 .4 4.1 .5 0 0-.7 .4-1.1 .1 .6 .3 1.3 .4-1.6 .4-1.3 .4-1.2 .5-1.5 .4 2.9 .4-.1 .4 2 .4-1 .4-.2 .5 3.1 .4-.4 .4 1.1 .4-1.8 .4 2.9 .4-.5 .4-4.3 .1-.7 .4 .1 .4 .1 .4 0 .4 1.9 .4 .5 .5 2.4 .4 3.4 .4-2.5 .4 1.2 .4-1.1 .4-2.7 .5-1.1 .4-1.8 .1 .5 .3 11.7 .4 18.7 .2 6.7 .2-6.5 .5-20 0-2.9 .2 5.2 .2 1.4 .4-1.3 .4-.3 .4 0 .4-3.1 .5 .8 .4-1 .4-4 .4 2.9 .4 1.8 .3 .9 .1-3.2 .5-1.7 .4 2.9 .4 3.6 .4 2.2 .4 2.9 .1 1.1 .3-1.2 .5-.1 .4 2 .4-.4 .4 1.2 .4 1.9 .4-.9 .5-.3 .4-1 0 1.6 .4 2.5 .4 .1 .4 4.6 .4 .7 .3-4.1 .2 6.5 .4-1.7 .4-.3 .4 3.4 .4-1.6 .4 6.7 .5 5.2 .4 2 .4-.5 .2-1.3 .2 2.4 .4 .9 .3-.6 .1 1.8 .5 0 .4-.9 .4 .9 .4 4.4 .4 2.1 .5 2.5 .4 3.5 .2 .7 .2-.3 .4 1.6 .4 3.6 .4 1.5 .4 .7 .1 .6 .4-.2 .4-.9 0 .5" stroke="#bfbf00"/>
<path clip-path="url(#cBL)" d="M79.5 532.9l .4-.3 .4-.4 .4 0 .4 .3 .4-.4 .5 0 .4-.2 .4-.1 .4-.2 0-.1 .4-.2 .4 1 .5-.6 .4-.1 .4-.2 .4-.3 .4-.5 .4-.2 .5 .7 .4-.2 .4-.6 0 0 .4 0 .4-.7 .5-.3 .4 .1 .4 0 .4-.3 .4-.5 .4-.3 .5 .1 .4-.4 .4-.4 .4-.1 .4-.2 .4-.1 .5-.5 .4 .2 .4-.3 .4-1 .4-.1 .4-.2 .5-.9 .4-.7 .1-.1 .3 0 .4-.8 .4-.3 .4-1.1 .5-1.3 .4-.7 .4-1 .4-1.3 .4-1.2 .4-.6 .1-.2 .4 .8 .4 .8 .4 1.5 .4 1.9 .3 1.1 .1 .1 .4-2.9 .5-3 .4-2.4 .4-.3 0 0 .4-1.7 .4-1.3 .4 .1 .2 .6 .3-.6 .4-2.1 .3-.3 .1 .7 .4-.1 .2-.4 .2-.7 .4-.3 .5 .1 .4-.9 .4-1.8 .4-.9 .4 .2 .3 1 .2-.5 .4-2.6 .4-1.3 .4-1.8 .4-.2 .4 .4 .5-1.4 .4-1.6 .4-.9 .4-.6 .4-1.8 .3-1 .1 1 .4-.6 .1-.4 .4-1.4 .4-1.4 .4-1.5 .4-3.5 .4 .2 .5 .4 .4-.6 .4-3.4 .4-1.6 .4 .9 .4-1.2 .5-1.9 .4-1.1 0 .4 .4 1.1 .4-.5 .2-3.4 .2-1.1 .4-3 .5-.6 .4-1.1 .4-3.8 .4 0 .4-.8 .4 .4 .5-4.2 .4-4.2 .1-.4 .3 2.3 .4-2.3 .4-3.3 .4-1.2 .5 1.7 .4-1.1 .4-4.4 0-.5 .4-.2 .4 3 .5-1.1 .4-3.4 .4 .2 .4-1.3 .3-.1 .1-1.2 .4 .6 .5-2 .4-2.7 .4-1.3 .4 .6 .4-.9 .4-1.3 .5-4.4 .4-1 .4-3.2 .4 1.8 .4 1.2 0-3.2 .4-1.1 0 3.9 .5-2.6 .4-4.8 .4 1.3 .4-.1 .4-2.5 .4-1.9 .5-4.5 .4 2.8 .4 2.9 .4-2.4 .4-2.1 .1-1.1 .3 3.3 .5-1.4 .4 .7 .4-.4 .4-3.3 .3-1.3 .1 .4 .4 .8 .4-.8 .1 1.2 .4 11.1 .1 .2 .3-6.7 .3-6.9 .1-1.7 .4-.5 .4 1.9 .5-.5 .4 .5 .4-2.3 .4 .2 .4 .6 .4-3.1 .5 .5 .4 2.7 .4 1.2 .4-2.9 .4 .2 .3 .5 .2 1.9 .2-.2 .2-1 .4-2.9 .4-2.1 .4-2.7 .4 .8 .5 .8 .4 1.8 .4 .8 .4-.5 .4 .6 .4 1.4 .5-5.4 .4-2 .4 2.9 .4-4.5 .4-.9 .1 .1 .3 1.5 .5 3.7 .4 2.5 .4-3.6 .4-1 .4-.5 .4 1.9 .5-3.5 .4-1.3 .4 .8 .4-1 .4 .8 .4 7.9 .3 2.3 .2-4.2 .4-4.4 .4 .6 .4-1.1 .4-3.7 0-2.5 .4 2.6 .5-4.1 .4-1.5 .4 .2 .4 1.9 .4 2.8 .4-2 .5 3.6 .4-.1 .4-.9 .4 .9 .4 4.1 .5-.7 .4-5.1 .4-3 .2 .9 .2 1.7 .4 .9 .4-3.5 .5-1 .4 .1 .4-2.2 .4 1.7 .4 .6 .4 3.3 .5 5.5 .4 .1 .4 2.2 .4-6 .4-3 .4 3.6 .5-1.2 0-1.1 .4-2.5 .1 .7 .3 3.4 .4-1 .4-1.3 .4-2.3 .5-1.5 .4 1.7 .4-1.1 .4 2.8 .4-.9 .4 .4 .5 2.5 .4-.5 .4-3.1 .4 4.1 .4 2.6 .4 .4 .4-3.6 .1-.8 .4-.5 .4-1.1 .4-1.2 .4 1.8 .4 .9 .5 1.3 .4-.1 .4 3.9 .4 1.8 .4-2.7 .4-2.8 .5-.1 .4-.8 .1 .3 .3 11.1 .4 17.5 .2 9.2 .2-9.1 .5-20.2 0-4.8 .2 3.4 .2 2.7 .4 .9 .4 .7 .4 2.1 .4-4.7 .5-2.6 .4-.2 .4-1.2 .4 2.8 .4 1 .3 0 .1-1 .5-1.4 .4 1.2 .4 3.9 .4 5.4 .4 .1 .1 .7 .3-.9 .5 .1 .4 2 .4-.1 .4 .1 .4 2 .4 1.2 .5 .5 .4-1 0 .9 .4 1.4 .4 .7 .4 4.1 .4 0 .3-2 .2 2.3 .4 .3 .4 .2 .4 4.6 .4-2.4 .4 6.3 .5 5 .4 1.6 .4-1.2 .2 .9 .2 3.1 .4-.4 .3-1.5 .1 1.6 .5 .3 .4-.1 .4 .7 .4 3.6 .4 3.3 .5 2.8 .4 3.2 .2 1.2 .2 .1 .4 1.8 .4 2.4 .4 2 .4 .4 .1 .2 .4 .5 .4-1.3 0 1.5" stroke="#bfbf00"/>
<path clip-path="url(#cBL)" d="M199 534.1l .5-.1 .4 0 .5-.3 .5-.2 .4 .3 .5 .2 .4-.1 .5 .1 .5 0 .4-.2 .5-.3 .5-.2 .4-.1 .5-.1 .5 0 .4 .3 .5 0 .4-.3 .5 0 .5-.2 .4 .3 .5 0 .5-.2 .4-.3 .5 0 .4 .1 .5 0 .5 0 .4 0 .5 .1 .5-.4 .4-.4 .5 0 .5-.1 .4 0 .5-.2 .4-.9 .5-.8 .5-.5 .4-.9 .5-.8 .5-.4 .4-.9 .5-.6 .4-.6 .5-.9 .5-1 .4-.6 .5-.4 .5-.6 .4-.9 .5-.5 .5-.4 .4-.5 .5-.1 .4-1.2 .5-.7 .5-1.5 .4-.6 .5-.9 .5-1 .4-.4 .5 .3 .5-.1 .4-1.2 .5-.6 .4 .2 .5-.7 .5-1.9 .4-1 .5-.6 .5-.6 .4-.4 .5-.4 .5-.6 .4-.1 .5-.4 .4 .1 .5-.7 .5-.5 .4-.9 .5-1.1 .5 0 .4 .5 .5 1.5 .4 .8 .5 .5 .5 0 .4-.9 .5-.6 .5 .6 .4 .4 .5 .2 .5 .2 .4-.1 .5 .7 .4-.4 .5 .2 .5-.2 .4-.1 .5 .2 .5 0 .4 .2 .5 .3 .4 .3 .5-.4 .5-.8 .4-.2 .5-.3 .5 0 .4 .4 .5 .9 .5-.2 .4-.3 .5-.4 .4-.2 .5 .3 .5 .1 .4-.4 .5 .1 .5-.1 .4 1.3 .5 1.2 .5 .8 .4 2.9 .5 3.2 .4 2.8 .5-1.6 .5-1.5 .4-1.9 .5-2.4 .5 0 .4 .9 .5 .3 .5 .5 .4 .2 .5-.3 .4 .3 .5-.2 .5 .3 .4 .5 .5 .5 .5-.1 .4-.2 .5 .4 .4-.4 .5 .5 .5 .3 .4 .2 .5-.3 .5-.1 .4 .4 .5 .4 .5 .6 .4-.2 .5 .2 .4 4.7 .5 5.5 .5 3.6 .4 3.1 .5-6.3 .5-7.2 .4-1.1 .5-.7 .4-.4 .5-.7 .5 .3 .4 .7 .5 .4 .5 .5 .4 .3 .5 .1 .5-.3 .4-.2 .5 .6 .4 0 .5 .2 .5 .1 .4 .7 .5 0 .5 .7 .4 .1 .5-.2 .5 .2 .4 .4 .5 .3 .4 .8 .5 .8 .5 .6 .4 .2 .5 .3 .5-.4 .4 .3 .5 .1 .5 0 .4-.2 .5 .7 .4 .4 .5 .3 .5 .4 .4 0 .5-.1 .5 .2 .4 .2 .5 .5 .4-.2 .5 .2 .5 .3 .4 .2 .5-.3 .5-.3 .4-.2 .5 .5 .5 .2 .4-.2 .5 .2 .4 .7 .5 .2 .5-.2 .4 0 .5 .1 .5 .3 .4 0 .5-.2 .4 .1 .5 .2 .5 .1 .4 .1 .5 .4 .5 .4 .4-.1 .5-.1 .5 .3 .4 0 .5-.2 .4 .5 .5 .5 .5-.2 .4-.5 .5 0 .5 .2 .4 0 .5 .5 .5 .7 .4 .1 .5 0 .4 .2 .5-.1 .5 .3 .4 0 .5 .2 .5-.3 .4-.1 .5 .6 .5 .6 .4 0 .5-.1 .4 0 .5-.1 .5 .3 .4 .3 .5 .4 .5 .2 .4 .1 .5-.1 .4-.1 .5 .2 .5 .3 .4 .1 .5 .2 .5 0 .4 .5 .5 .3 .5-.1 .4 .1 .5-.1 .4 .2 .5 0 .5-.1 .4 0 .5 .2 .5 .5 .4 .1 .5-.2 .4-.2 .5-.1 .5 .1 .4-.2 .5 .2 .5 .1 .4 .2 .5 .3 .5-.2 .4-.2 .5 .1 .4 .1 .5-.2 .5 .2 .4 .1" stroke="#bfbf00"/>
<path clip-path="url(#cBL)" d="M199 534l .5-.4 .4 0 .5 .2 .5-.1 .4 .2 .5-.2 .4-.2 .5 0 .5 .1 .4-.1 .5 0 .5 0 .4 0 .5 .1 .5-.2 .4-.1 .5-.3 .4-.2 .5 0 .5 .2 .4 .1 .5-.1 .5 .2 .4-.3 .5-.2 .4 0 .5-.4 .5-.1 .4 .4 .5 0 .5-.4 .4-.4 .5-.5 .5-.1 .4-.1 .5 .4 .4-.6 .5-.9 .5-.7 .4-1 .5-1.2 .5-.8 .4-.8 .5-.5 .4-.6 .5-.7 .5-1.3 .4-.7 .5-.1 .5-1.2 .4-1 .5-.3 .5-.4 .4-.8 .5-1 .4-.5 .5-.5 .5-.8 .4-.7 .5-.9 .5-1.3 .4-.5 .5-.3 .5-.6 .4-.5 .5-.7 .4-.6 .5-.3 .5-1.5 .4-1.2 .5-.2 .5-.1 .4-.7 .5-.5 .5-.6 .4 .3 .5-.6 .4-.3 .5-.2 .5-.5 .4-.8 .5-.3 .5-.6 .4-.5 .5 1 .4 1.9 .5 .8 .5-.5 .4-.9 .5-.2 .5 0 .4 .3 .5 .8 .5 .6 .4-.4 .5-.3 .4-.1 .5 .7 .5 .3 .4 .3 .5-.5 .5-.6 .4 .3 .5 0 .4 .1 .5-.4 .5-.5 .4 .6 .5 .1 .5-.2 .4 .3 .5 .6 .5-.6 .4-.6 .5-.2 .4 .1 .5 .7 .5 .1 .4-1 .5 .1 .5 .1 .4 1 .5 1 .5 .6 .4 3.4 .5 3.7 .4 2.6 .5-1.2 .5-1.5 .4-1.8 .5-1.9 .5 .3 .4 .5 .5 .1 .5 0 .4-.1 .5 0 .4 .3 .5-.1 .5-.4 .4 .8 .5 .9 .5-.5 .4-.3 .5 1 .4-.5 .5 .3 .5 .3 .4-.2 .5 .2 .5 .6 .4 .3 .5 .1 .5 .1 .4 .2 .5 1.1 .4 5.2 .5 5.2 .5 3.5 .4 3.1 .5-6.8 .5-7.1 .4-1.9 .5-.9 .4-.1 .5 0 .5 .7 .4 .5 .5 .8 .5 .3 .4-.5 .5-.6 .5 .4 .4 .2 .5 .1 .4 0 .5-.2 .5 0 .4 .7 .5 .5 .5 .9 .4-.1 .5 .1 .5 .5 .4 0 .5 .3 .4 .7 .5 .3 .5 .4 .4 .3 .5 .1 .5 0 .4 .1 .5 .2 .5 .7 .4-.2 .5 .3 .4-.9 .5 1.2 .5 .3 .4 .4 .5 .2 .5-.5 .4 .1 .5 .4 .4 .1 .5 .6 .5 0 .4 .2 .5 .1 .5 .2 .4-.5 .5-.2 .5 .7 .4-.3 .5 .2 .4 .6 .5 0 .5-.4 .4 .2 .5 .5 .5 .2 .4-.2 .5 .1 .4 .6 .5 .4 .5 .1 .4 .3 .5 0 .5-.2 .4-.4 .5-.1 .5 .6 .4 .2 .5 .4 .4 0 .5 0 .5-.1 .4-.2 .5 0 .5 .5 .4 .4 .5 .3 .5-.3 .4 .1 .5 0 .4 .1 .5 0 .5 .3 .4 .6 .5 .2 .5 .1 .4 .1 .5 0 .5 .1 .4 .3 .5 .1 .4 0 .5 .2 .5-.1 .4-.2 .5 .5 .5 .4 .4 .1 .5 0 .4 .2 .5 .3 .5 .5 .4-.1 .5-.1 .5 .4 .4 .4 .5 .4 .5 .2 .4-.2 .5 .5 .4-.1 .5 .3 .5 .2 .4 .1 .5 .2 .5 .1 .4-.6 .5-.1 .4 .3 .5 .2 .5 .1 .4-.2 .5-.3 .5 .2 .4-.1 .5 .2 .5 .4 .4 .2 .5 0 .4 .1 .5-.2 .5 0 .4 0" stroke="#bfbf00"/>
<path clip-path="url(#cBL)" d="M199 533.8l .5 .1 .4-.3 .5-.3 .5 .1 .4 .1 .5 .1 .4-.1 .5 .1 .5 0 .4-.2 .5 .2 .5-.1 .4-.4 .5 0 .5-.1 .4 .2 .5 .1 .4-.2 .5-.1 .5-.4 .4 .4 .5-.1 .5 0 .4-.2 .5-.3 .4 .1 .5 .2 .5 .1 .4-.4 .5-.6 .5-.1 .4 .1 .5-.4 .5-.2 .4-.2 .5-.2 .4-.4 .5-1 .5-1.3 .4-.5 .5-.6 .5-.6 .4-1.2 .5-1 .4-1.1 .5-.6 .5-.6 .4-.7 .5-.8 .5-.6 .4-.8 .5-.4 .5-.7 .4-.8 .5-1 .4-.6 .5-.7 .5-.5 .4-.9 .5-.8 .5-.5 .4-.9 .5-.3 .5-.3 .4-1.2 .5-.9 .4-.3 .5-.9 .5-.9 .4-.8 .5-.5 .5-.7 .4-.3 .5-1.2 .5-.1 .4-.4 .5-.3 .4 0 .5-.8 .5-.3 .4-.5 .5-1.3 .5-.6 .4-.2 .5 1.9 .4 1.8 .5 .4 .5-.3 .4-.8 .5-.3 .5 .2 .4 .4 .5 .7 .5 .6 .4-.2 .5-.4 .4-.5 .5 .7 .5 .5 .4 0 .5-.4 .5 .6 .4 .2 .5 .1 .4-.5 .5-.7 .5-.2 .4 .1 .5 .3 .5-.3 .4-.3 .5 .6 .5 3.6 .4-4 .5-1.2 .4 .6 .5 1.6 .5-.2 .4-1 .5-.4 .5-.5 .4 .8 .5 .8 .5 1.3 .4 3.9 .5 4.3 .4 3 .5-2.3 .5-1.6 .4-1.7 .5-2.1 .5 1.1 .4 .6 .5-.3 .5 .1 .4 .6 .5 .1 .4 .2 .5-.3 .5-.4 .4 .8 .5 .3 .5-.3 .4 .4 .5 .4 .4-.4 .5 .7 .5 .7 .4-.1 .5-.1 .5-.1 .4 .1 .5 .2 .5 .4 .4 .3 .5 .7 .4 5.2 .5 5.8 .5 3.6 .4 3 .5-7 .5-7.8 .4-1.4 .5-1.6 .4 .2 .5 .2 .5 .3 .4 .5 .5 .3 .5 .3 .4 .8 .5-.3 .5-.4 .4 0 .5 1.1 .4 0 .5 .3 .5-.2 .4 .2 .5 .1 .5 .5 .4-.2 .5 .1 .5 .8 .4 .5 .5 .1 .4 .4 .5 .4 .5 .5 .4 .5 .5 .1 .5-.2 .4 .6 .5 .1 .5 0 .4-.3 .5 .3 .4 .8 .5 0 .5 .3 .4 .4 .5 .3 .5 0 .4 .2 .5 .6 .4 .2 .5-.4 .5-.2 .4 .6 .5-.1 .5 .1 .4-.1 .5 0 .5 0 .4-.1 .5 .2 .4 .4 .5 0 .5 .5 .4-.2 .5-.1 .5 .4 .4 0 .5-.1 .4 0 .5 .4 .5 .5 .4 0 .5 .6 .5-.4 .4-.1 .5 .1 .5 .3 .4 .4 .5-.3 .4 0 .5 .2 .5 0 .4 0 .5 .3 .5 .5 .4-.2 .5 .2 .5 .3 .4 .2 .5 0 .4-.3 .5 0 .5 .6 .4 .5 .5 .4 .5 .1 .4 0 .5-.2 .5 .2 .4 .2 .5 0 .4 0 .5 .1 .5 .3 .4-.2 .5 .3 .5 .6 .4 .2 .5 .2 .4 0 .5 .2 .5 .3 .4 .1 .5 .3 .5 .4 .4 .1 .5 .1 .5 .3 .4 .4 .5 .1 .4-.1 .5 0 .5 .4 .4 .1 .5 0 .5-.1 .4 0 .5 .5 .4 0 .5-.1 .5-.2 .4 0 .5 .2 .5 .4 .4 .1 .5-.2 .5 0 .4 .3 .5 0 .4-.1 .5 0 .5 0 .4 .2" stroke="#bfbf00"/>
<path clip-path="url(#cBL)" d="M199 533.5l .5-.1 .4 .2 .5-.2 .5 0 .4 .1 .5 0 .4 .1 .5-.2 .5-.5 .4 .5 .5-.3 .5 .1 .4 .2 .5-.5 .5 0 .4 .1 .5 0 .4-.3 .5 .1 .5 .3 .4 0 .5-.4 .5 .1 .4-.2 .5-.3 .4-.2 .5-.2 .5 .3 .4 .3 .5-.1 .5-.2 .4-.4 .5-.2 .5-.5 .4-.4 .5 0 .4-.3 .5-.8 .5-1.5 .4-.9 .5-.8 .5-.7 .4-1.2 .5-1.2 .4-.5 .5-.7 .5-1.2 .4-.3 .5-.5 .5-1.2 .4-1.4 .5-.8 .5-.7 .4-.6 .5-.8 .4 0 .5-.4 .5-.9 .4-.7 .5-.8 .5-.8 .4 0 .5-.7 .5-2.1 .4-.8 .5-.2 .4-.5 .5-.8 .5-.7 .4-.5 .5-1 .5-.5 .4 0 .5-1 .5-.8 .4-.2 .5 .6 .4-.3 .5-.6 .5-.8 .4-.4 .5-2.2 .5 1.5 .4 .3 .5 .2 .4 .8 .5 1.4 .5-.3 .4-.6 .5-.2 .5 .1 .4 .9 .5-.2 .5 0 .4 .4 .5-.5 .4 .1 .5 1.2 .5-.5 .4-.1 .5 .2 .5 .3 .4 0 .5 0 .4-.1 .5-.7 .5-.4 .4 .4 .5 .2 .5-.8 .4-.1 .5 .9 .5-.2 .4 0 .5-.8 .4-.5 .5 .9 .5 .4 .4 .1 .5-.9 .5-.6 .4 1.7 .5 1.1 .5 .9 .4 3.6 .5 2.8 .4 2.4 .5-.6 .5-1.2 .4-1.6 .5-2.1 .5 .3 .4 .3 .5 .1 .5 .3 .4 .5 .5 .1 .4 .4 .5-.6 .5-1.1 .4 1 .5 1.8 .5-.3 .4-.4 .5-.1 .4 .1 .5 .2 .5 .8 .4 .4 .5 0 .5 1 .4-.6 .5 0 .5 .3 .4 1.3 .5 .2 .4 5.4 .5 5.9 .5 3 .4 2.8 .5-6.6 .5-7.8 .4-2.3 .5-.8 .4 .2 .5-.1 .5 .6 .4 0 .5 .1 .5 .2 .4 .7 .5 .5 .5-.4 .4 .2 .5 .2 .4-.3 .5 .1 .5 .6 .4 .6 .5-.4 .5 .5 .4 0 .5 .1 .5 .5 .4-.1 .5 .4 .4 .5 .5 .7 .5 .6 .4 0 .5 .3 .5-.1 .4 .2 .5 .4 .5 .3 .4-.4 .5 .4 .4 .3 .5 .5 .5 .5 .4 .2 .5 .5 .5-.3 .4 0 .5 .5 .4 .3 .5-.1 .5 .3 .4 .1 .5-.3 .5 0 .4 .3 .5 .1 .5-.2 .4-.1 .5 .2 .4 .6 .5-.3 .5 .2 .4 .3 .5 .2 .5 0 .4 .2 .5-.2 .4 0 .5 .5 .5-.1 .4 0 .5 .7 .5 .4 .4 .2 .5 .1 .5 .1 .4-.1 .5-.5 .4 .2 .5 .3 .5-.1 .4-.1 .5-.1 .5 .6 .4 .4 .5 .4 .5-.3 .4-.1 .5 .4 .4 0 .5-.1 .5 .2 .4 .7 .5 .5 .5-.1 .4-.1 .5 0 .5 .6 .4 .2 .5-.1 .4 .4 .5 .1 .5-.1 .4-.2 .5 .5 .5 .5 .4 0 .5 .1 .4 .2 .5 .3 .5 .4 .4 .4 .5 .1 .5 .3 .4 0 .5 0 .5 .4 .4 .7 .5 0 .4 .1 .5 .1 .5-.1 .4 .1 .5 .2 .5 .1 .4 .2 .5-.2 .4 0 .5 .4 .5 .2 .4 .1 .5-.2 .5-.2 .4-.2 .5 .4 .5 .2 .4-.1 .5-.1 .4 .2 .5 .1 .5 .2 .4-.2" stroke="#bfbf00"/>
<path clip-path="url(#cBL)" d="M199 533.2l .5-.1 .4 .4 .5 0 .5-.2 .4-.2 .5 .2 .4 .2 .5 0 .5 .1 .4-.5 .5 0 .5 .2 .4-.1 .5-.1 .5-.1 .4 .1 .5-.1 .4 0 .5-.4 .5-.1 .4 .2 .5 .1 .5-.3 .4-.4 .5 .2 .4 0 .5-.2 .5-.3 .4 .1 .5 .1 .5-.1 .4-.7 .5-.1 .5 .1 .4-.8 .5-.5 .4-.6 .5-.9 .5-.7 .4-1.2 .5-1 .5-.8 .4-.6 .5-.7 .4-1.3 .5-.5 .5-.4 .4-.9 .5-1 .5-1.3 .4-.4 .5-.8 .5-.5 .4-.7 .5-.9 .4-.7 .5-.5 .5-1.2 .4-.8 .5-.7 .5-.9 .4-.7 .5-.7 .5-.3 .4-.8 .5-.6 .4-.2 .5-.8 .5-1.4 .4-.9 .5-.5 .5-.6 .4-.1 .5-.5 .5-.6 .4-.6 .5-.7 .4 .4 .5-.7 .5-1.6 .4-.3 .5-.3 .5 .5 .4 .1 .5 .8 .4 .6 .5 1.2 .5 0 .4-.7 .5 0 .5-.3 .4 .7 .5 0 .5-.1 .4 .3 .5 .6 .4 .2 .5 .9 .5 .4 .4-1.6 .5-.9 .5 .3 .4 .5 .5 .8 .4 0 .5-.9 .5-.6 .4 .8 .5 .7 .5-1.4 .4-.6 .5 1.4 .5 0 .4-.6 .5-.1 .4-.4 .5 .7 .5 .8 .4-.6 .5-.8 .5-.3 .4 .9 .5 .9 .5 .9 .4 3.7 .5 3.6 .4 3.8 .5-2 .5-2.2 .4-1.2 .5-1.4 .5 .2 .4-.3 .5 .1 .5 .6 .4 .6 .5 0 .4 0 .5 .3 .5-.6 .4 .9 .5 .2 .5-.3 .4 0 .5 1.1 .4 .2 .5 .1 .5 .3 .4 .2 .5 .3 .5 .5 .4 .4 .5 .4 .5-.2 .4 .4 .5 0 .4 5.6 .5 5.9 .5 3.6 .4 3.3 .5-7.6 .5-8.1 .4-1.2 .5-1 .4-.6 .5 .2 .5 .4 .4 .5 .5 .2 .5 .4 .4-.1 .5 .5 .5 .8 .4-.3 .5-.1 .4 0 .5 .4 .5-.3 .4 .1 .5 .3 .5 .9 .4-.3 .5-.1 .5 1 .4 .3 .5-.3 .4 .5 .5 .8 .5 .4 .4-.3 .5 .2 .5-.1 .4 .6 .5 .5 .5 .1 .4-.3 .5 .5 .4 .8 .5 .3 .5 0 .4-.1 .5 .4 .5 .2 .4 .4 .5 0 .4 .2 .5-.3 .5 0 .4 .4 .5 .3 .5 0 .4 .1 .5 .2 .5 0 .4-.5 .5-.2 .4 .9 .5 .3 .5 .2 .4-.4 .5-.1 .5 .3 .4 .4 .5 .1 .4-.4 .5 .3 .5 .1 .4 .2 .5 .5 .5 .6 .4-.1 .5-.1 .5 .1 .4 .5 .5 0 .4-.3 .5 .2 .5-.2 .4-.3 .5 .7 .5 .6 .4 0 .5 .1 .5 .4 .4-.1 .5 .5 .4 .4 .5 0 .5-.1 .4 .3 .5 .1 .5 .2 .4 .3 .5 .1 .5-.2 .4 .2 .5 0 .4 .1 .5 .3 .5 .1 .4 .3 .5 .4 .5 0 .4 .4 .5 .6 .4-.1 .5-.3 .5 .4 .4 .3 .5 .3 .5 .6 .4 .2 .5 .2 .5 .1 .4 .2 .5 .4 .4 .4 .5 .1 .5-.1 .4-.2 .5 .2 .5 0 .4-.1 .5 .3 .4 0 .5 0 .5 .2 .4 .1 .5-.3 .5 .3 .4 .1 .5-.1 .5-.1 .4 .1 .5 .5 .4 .5 .5-.1 .5-.3 .4-.3" stroke="#bfbf00"/>
<path clip-path="url(#cBL)" d="M199 533.4l .5 .1 .4-.1 .5-.1 .5-.2 .4-.2 .5 .1 .4 .2 .5 .1 .5-.6 .4-.2 .5 .4 .5 .6 .4-.1 .5-.2 .5-.1 .4-.3 .5-.2 .4-.1 .5 0 .5 .2 .4 .3 .5-.1 .5-.7 .4-.1 .5 .3 .4-.2 .5-.2 .5-.2 .4-.1 .5-.1 .5 .1 .4-.4 .5-.5 .5-.1 .4-.5 .5-.2 .4-.7 .5-1 .5-1 .4-.5 .5-.7 .5-1.3 .4-.9 .5-.9 .4-.3 .5-2.1 .5-1.1 .4-.4 .5-.4 .5-.5 .4-.9 .5-.7 .5-1.3 .4-.4 .5-.7 .4-.3 .5-.9 .5-1.2 .4-.6 .5-1.1 .5-.9 .4-.3 .5 0 .5-1.1 .4-1.3 .5-.4 .4 .1 .5-1.2 .5-2.1 .4-.9 .5-.1 .5-.7 .4-.1 .5-.9 .5-.5 .4 .3 .5-.4 .4 0 .5-.5 .5-1.6 .4-.4 .5 .4 .5 .3 .4 0 .5 .3 .4 1.1 .5 1.1 .5 .2 .4-1.1 .5-.2 .5 .3 .4 .1 .5-.3 .5 .5 .4 .2 .5 .5 .4-.5 .5 .2 .5 .6 .4 .2 .5-.9 .5 .2 .4 .7 .5-.4 .4-.1 .5-.4 .5-.7 .4 .3 .5 .3 .5-.2 .4 .2 .5 .1 .5-.1 .4-.1 .5-1 .4 .1 .5 1.4 .5 1.1 .4-1.4 .5-1 .5-.1 .4 1.3 .5 .9 .5 1.3 .4 3.8 .5 3.4 .4 3 .5-1.9 .5-1.7 .4-1.1 .5-1.6 .5 .4 .4 .5 .5-.2 .5 .1 .4 .1 .5 .1 .4 .4 .5-.3 .5-1.1 .4 1 .5 1.3 .5-.3 .4-.2 .5 .5 .4 .3 .5 .3 .5-.1 .4 .2 .5 .4 .5 .8 .4 .5 .5 0 .5-.5 .4 .3 .5 .7 .4 5.9 .5 6.3 .5 3.3 .4 3.4 .5-7.1 .5-7.2 .4-3.1 .5-1.6 .4-.6 .5 .4 .5 .2 .4 .7 .5 .3 .5 .7 .4 .2 .5 0 .5 0 .4 .2 .5 .9 .4-.1 .5-.4 .5-.1 .4 .8 .5 .1 .5 .4 .4 .2 .5 0 .5 .4 .4 .2 .5 .7 .4 .3 .5 .1 .5 .8 .4 0 .5 .1 .5 .1 .4 .3 .5 0 .5-.3 .4 .2 .5 .5 .4 .9 .5 .6 .5-.1 .4-.1 .5 .6 .5-.2 .4-.4 .5 .3 .4 .2 .5 .2 .5 0 .4 .3 .5 0 .5 .1 .4 .2 .5 .1 .5 0 .4 .7 .5 0 .4 .3 .5 .1 .5-.2 .4-.2 .5 .1 .5 .1 .4 0 .5-.1 .4 .3 .5 .5 .5 .3 .4 .2 .5 .4 .5-.2 .4-.2 .5 .2 .5 .5 .4 0 .5-.4 .4-.1 .5 .3 .5 .4 .4 .3 .5 .2 .5 .1 .4 .2 .5 .6 .5-.3 .4-.2 .5 .3 .4 .2 .5 .6 .5 .1 .4-.1 .5 .3 .5-.1 .4 .2 .5 .4 .5-.3 .4 .1 .5 .8 .4 .2 .5-.1 .5 .1 .4 .1 .5 .4 .5 .2 .4 .5 .5 .2 .4 .2 .5 .3 .5 .1 .4 .2 .5 .3 .5 .4 .4 0 .5 .6 .5 .4 .4 .1 .5 .1 .4 .3 .5 .2 .5 .1 .4 .4 .5 .3 .5 0 .4-.2 .5-.1 .4-.1 .5 .1 .5-.1 .4-.2 .5 .2 .5 .3 .4 .3 .5 .3 .5-.3 .4-.2 .5 .2 .4 .4 .5 0 .5 0 .4-.1" stroke="#bfbf00"/>
<path clip-path="url(#cBL)" d="M199 533.6l .5 0 .4-.4 .5 .1 .5-.2 .4 .3 .5 0 .4-.4 .5 .2 .5-.2 .4 0 .5-.2 .5 .2 .4-.1 .5-.2 .5 .1 .4-.2 .5-.4 .4 .1 .5 0 .5 .3 .4 .1 .5-.2 .5-.4 .4-.3 .5 .1 .4 .1 .5-.2 .5-.4 .4 0 .5 0 .5-.1 .4 0 .5-.4 .5-.4 .4-.5 .5 .2 .4-1.2 .5-1.1 .5-.7 .4-1.3 .5-.8 .5-.6 .4-1.4 .5-.6 .4-.7 .5-.9 .5-1.3 .4-1 .5-.5 .5-1.4 .4-1.5 .5-.5 .5 .1 .4-.7 .5-.7 .4-.2 .5-.9 .5-.9 .4-.9 .5-.7 .5-.8 .4-.9 .5-.7 .5-1.3 .4-1.2 .5-.9 .4 .2 .5-.6 .5-1.4 .4-1.1 .5-.3 .5-.8 .4 .1 .5-.6 .5-1.3 .4 .1 .5-.3 .4 .4 .5-.5 .5-1 .4-.3 .5-.4 .5 0 .4-.4 .5 1.2 .4 1.1 .5 1.1 .5 .3 .4-.7 .5-.4 .5-.8 .4 .5 .5 0 .5 .5 .4 .7 .5 .4 .4-.6 .5 .7 .5 .2 .4-.4 .5-1.5 .5 2.2 .4-.1 .5-.5 .4-.1 .5 .2 .5-1 .4 .3 .5 .6 .5-.8 .4-.5 .5 .9 .5-.6 .4 0 .5-.7 .4-1.2 .5 .8 .5 1.3 .4 0 .5-1.2 .5-.1 .4 1.4 .5 1.3 .5 1.1 .4 3.7 .5 2.9 .4 3.3 .5-1.1 .5-1.2 .4-1.4 .5-2 .5 .4 .4 .4 .5 0 .5 .1 .4 .4 .5 .2 .4 .2 .5-.9 .5-.5 .4 .5 .5 1.2 .5 0 .4 .3 .5 .1 .4 .8 .5 .6 .5 .1 .4-.4 .5 .3 .5 .9 .4-.1 .5 .1 .5 .3 .4 .4 .5 .5 .4 6.6 .5 5.3 .5 3.4 .4 3.2 .5-7.4 .5-8.4 .4-1.7 .5-.7 .4 0 .5-.3 .5 0 .4 .1 .5 .5 .5 .1 .4 1 .5 0 .5 0 .4 0 .5 0 .4 .1 .5 .4 .5 .1 .4 .6 .5-.4 .5 .7 .4 .1 .5 0 .5 1 .4-.3 .5 0 .4 .7 .5 .3 .5 .1 .4 .1 .5 .5 .5-.2 .4 .5 .5 .3 .5 .1 .4 0 .5 .2 .4 .5 .5 .6 .5 .8 .4-.3 .5-.2 .5 .1 .4-.5 .5 .7 .4 .6 .5 .3 .5 .2 .4 .5 .5 0 .5 0 .4-.4 .5-.4 .5 .5 .4 .5 .5 .3 .4 .1 .5-.5 .5 .3 .4-.2 .5-.4 .5 .7 .4 .6 .5 .1 .4 0 .5 0 .5 .5 .4 .4 .5 .4 .5-.1 .4-.1 .5 .2 .5 .3 .4-.5 .5-.1 .4 .9 .5 .1 .5-.3 .4-.4 .5 .1 .5 .5 .4 .4 .5 .5 .5-.2 .4 .2 .5 .3 .4 .2 .5-.2 .5-.2 .4 .4 .5 .6 .5-.4 .4 .3 .5 .6 .5 .1 .4-.1 .5 .3 .4 .3 .5-.2 .5-.1 .4 .2 .5 .7 .5 .2 .4 .8 .5 0 .4 .1 .5 .5 .5 .4 .4 .1 .5 .1 .5 .4 .4 .1 .5 .3 .5 .5 .4 .3 .5 0 .4 .4 .5 .6 .5-.1 .4 .3 .5 0 .5-.2 .4 .2 .5 0 .4 .1 .5-.2 .5 .2 .4-.2 .5 .1 .5 .4 .4-.2 .5 .3 .5 .1 .4 .1 .5 .1 .4-.1 .5-.4 .5-.1 .4 .4" stroke="#bfbf00"/>
<path clip-path="url(#cBL)" d="M199 533.3l .5 0 .4 .1 .5-.3 .5-.2 .4 .2 .5 0 .4-.2 .5 .4 .5 .1 .4-.3 .5 0 .5 .1 .4-.1 .5-.2 .5-.4 .4-.1 .5-.3 .4-.1 .5 .4 .5 0 .4-.3 .5-.1 .5 .1 .4 0 .5-.3 .4-.1 .5 .1 .5-.2 .4 .1 .5-.1 .5-.3 .4-.3 .5-.3 .5-.2 .4-.5 .5-.4 .4-1.3 .5-.6 .5-.8 .4-.7 .5-.9 .5-1.3 .4-1.2 .5-.3 .4-1.1 .5-1.7 .5-1.1 .4-.5 .5-.6 .5-.7 .4-1.7 .5-.8 .5-.5 .4-.4 .5-.7 .4 0 .5-1.4 .5-2.1 .4-.4 .5-.7 .5-.8 .4-.6 .5-.5 .5-.3 .4-.7 .5-1.3 .4-.4 .5-.9 .5-1.4 .4-.9 .5-.2 .5-.6 .4-.5 .5-.5 .5-.7 .4 .2 .5 0 .4-.1 .5-1.1 .5-1.1 .4-.6 .5-.2 .5-.4 .4-.2 .5 1.2 .4 1.2 .5 1.3 .5 .1 .4-1 .5 .2 .5 .3 .4 .4 .5-.3 .5 .6 .4 .2 .5-.2 .4 .4 .5 1.4 .5-.6 .4-.9 .5 .6 .5 0 .4 1 .5 .1 .4-.2 .5-1.7 .5-1 .4 .1 .5-.1 .5 .4 .4-.1 .5 .3 .5 .2 .4-.1 .5-.2 .4-.8 .5 .7 .5 .8 .4-.1 .5-.2 .5-.8 .4 .8 .5 1.5 .5 1 .4 3.5 .5 3 .4 3.6 .5-1.6 .5-.9 .4-1.6 .5-2.1 .5 .8 .4 1.4 .5-1.1 .5 0 .4 .4 .5-.1 .4 .3 .5-.3 .5-.7 .4 1.2 .5 1.2 .5 .1 .4-.3 .5 .6 .4 .3 .5-.1 .5-.4 .4 .3 .5 .7 .5 .6 .4 .5 .5 0 .5 0 .4 .3 .5 .7 .4 5.8 .5 6.1 .5 3.4 .4 3.4 .5-7.4 .5-8.8 .4-2 .5-1.4 .4-.1 .5 .5 .5 .2 .4 .4 .5 .5 .5 .3 .4 .1 .5-.2 .5-.1 .4-.1 .5 1.1 .4 .6 .5-.2 .5 .2 .4 .2 .5 0 .5 .4 .4-.3 .5 .6 .5 .7 .4-.2 .5 0 .4 .6 .5 .6 .5 .2 .4 0 .5 .2 .5 0 .4 .7 .5 .6 .5-.2 .4-.2 .5 .7 .4 .5 .5-.1 .5 .5 .4 .1 .5 .3 .5 0 .4 .2 .5 .6 .4-.3 .5-.2 .5 .4 .4 .6 .5-.2 .5-.1 .4 .1 .5 .1 .5 .5 .4-.1 .5 0 .4 .3 .5 .2 .5 .2 .4-.2 .5-.1 .5-.1 .4 .4 .5 .3 .4 0 .5 .3 .5 1 .4 .3 .5-.2 .5-.1 .4-.2 .5 .3 .5 .3 .4-.2 .5 0 .4 .4 .5 0 .5 0 .4-.1 .5 .6 .5 .1 .4-.3 .5 .6 .5-.1 .4-.3 .5 .2 .4 .5 .5 .5 .5-.1 .4 0 .5 .2 .5 .2 .4 .6 .5 .2 .5-.2 .4 .5 .5-.1 .4 .3 .5 .5 .5 0 .4 0 .5 .1 .5 .6 .4 .2 .5 .2 .4 .1 .5 .2 .5 .4 .4 .3 .5 .2 .5 .5 .4 .2 .5 .4 .5 .4 .4 .4 .5 .6 .4-.2 .5 .1 .5 .1 .4 .6 .5 .3 .5-.1 .4 .2 .5 0 .4-.1 .5 .1 .5-.7 .4 .5 .5 .3 .5 .1 .4-.3 .5 0 .5-.3 .4 .6 .5 .2 .4 .2 .5 0 .5-.1 .4-.2" stroke="#bfbf00"/>
<path clip-path="url(#cBL)" d="M199 533.1l .5 0 .4-.1 .5 .1 .5 .2 .4 .1 .5 .2 .4 .2 .5-.4 .5-.5 .4-.2 .5 .1 .5 .4 .4 .1 .5-.4 .5-.1 .4-.1 .5-.1 .4-.2 .5 .1 .5-.1 .4 0 .5-.3 .5 .1 .4-.1 .5 .1 .4-.1 .5-.5 .5-.3 .4 .2 .5 .1 .5-.2 .4-.7 .5-.5 .5 .1 .4-.4 .5-.3 .4-1.1 .5-.8 .5-.8 .4-1.1 .5-1 .5-1 .4-1 .5-1 .4-1 .5-1.5 .5-1.2 .4-.6 .5-.5 .5-.9 .4-1.5 .5-.8 .5-3.2 .4 2.5 .5-.9 .4-2.3 .5 1.5 .5-1 .4-1.1 .5-.9 .5-1.2 .4-.8 .5-.8 .5-.3 .4-1.1 .5-.9 .4 .2 .5-1.7 .5-1.3 .4-1.1 .5-.3 .5 0 .4-.5 .5-1.3 .5-.4 .4 .3 .5-.8 .4 .2 .5-1.1 .5-1.2 .4-.3 .5-.6 .5 .4 .4 .3 .5 .7 .4 .6 .5 1.5 .5 .1 .4-1 .5 .7 .5 .4 .4-.1 .5 .3 .5-.2 .4 .2 .5 .9 .4 .1 .5 .5 .5-.1 .4-2.8 .5 2.6 .5 .6 .4-.1 .5-.5 .4-.1 .5-.7 .5-1 .4 .8 .5 .1 .5-.5 .4-.3 .5 0 .5-.1 .4 .1 .5-.3 .4-.4 .5 .8 .5 .6 .4-.8 .5-1 .5 .1 .4 1.9 .5 1.1 .5 .8 .4 3.7 .5 3.3 .4 3.4 .5-1.1 .5-1.7 .4-1.5 .5-1.6 .5 .4 .4 .3 .5-.2 .5 .8 .4 .3 .5 .2 .4 .1 .5-1.1 .5-.6 .4 1.3 .5 1.2 .5-.4 .4 .3 .5 .9 .4 .1 .5 .3 .5 .5 .4 .6 .5 .1 .5 .1 .4 .2 .5 0 .5 .1 .4 .4 .5 .8 .4 6.1 .5 6 .5 3.5 .4 3.1 .5-7.2 .5-8.2 .4-2.2 .5-1.7 .4-.4 .5 0 .5 .5 .4 .3 .5 .4 .5 .4 .4 .3 .5 .2 .5 .5 .4 .1 .5 .2 .4-.6 .5-.1 .5 .4 .4 .2 .5 .3 .5 .8 .4-.2 .5 .1 .5 .8 .4 .1 .5 .4 .4 1 .5-.1 .5-.4 .4 .2 .5 .5 .5-.2 .4 .2 .5 .4 .5 .1 .4 .3 .5 .6 .4 .6 .5 .7 .5 .3 .4-.2 .5-.1 .5 .2 .4-.2 .5 0 .4 .2 .5 .9 .5 .3 .4-.2 .5 0 .5 .1 .4-.2 .5 .1 .5 .3 .4 0 .5 .4 .4 1 .5-.4 .5-.4 .4 0 .5 .1 .5 .1 .4 .4 .5-.2 .4-.2 .5 .4 .5 .4 .4 .5 .5 .3 .5-.4 .4-.2 .5 0 .5 .3 .4 .3 .5 .1 .4 .2 .5 .2 .5 .2 .4-.2 .5 0 .5 .4 .4 .4 .5 .8 .5 0 .4 0 .5 .5 .4 .1 .5 0 .5 .2 .4 .1 .5 .3 .5 .1 .4 0 .5 .2 .5 .1 .4 .3 .5 0 .4 .1 .5 .3 .5-.3 .4-.1 .5 .7 .5 .6 .4 0 .5 .1 .4 .4 .5 0 .5 .5 .4 .9 .5 .1 .5 .2 .4 .4 .5 .4 .5 0 .4 .1 .5 .6 .4 .4 .5 .4 .5 .1 .4 .4 .5 .5 .5 0 .4-.5 .5 0 .4-.1 .5 0 .5 .2 .4-.1 .5 .3 .5 .2 .4 0 .5-.1 .5 .1 .4 0 .5-.1 .4 .2 .5-.1 .5 .1 .4 .2" stroke="#bfbf00"/>
<path clip-path="url(#cBL)" d="M199 533.1l .5 0 .4 0 .5 0 .5-.1 .4-.1 .5 .1 .4 .2 .5 .1 .5-.3 .4-.1 .5 0 .5 .3 .4 .1 .5-.1 .5-.2 .4 0 .5 0 .4-.3 .5-.2 .5 .1 .4-.1 .5-.5 .5 0 .4-.1 .5-.1 .4-.1 .5 .1 .5 0 .4-.4 .5 0 .5-.4 .4-.7 .5-.2 .5 0 .4-.4 .5-.2 .4-1.1 .5-1.6 .5-.6 .4-.9 .5-1.3 .5-1.5 .4-1.1 .5-.5 .4-1.1 .5-1.5 .5-.9 .4-.2 .5-.5 .5-.9 .4-1.2 .5-1.3 .5-.7 .4 .1 .5-.5 .4-.4 .5-.9 .5-1.7 .4-.7 .5-.4 .5-1 .4-1.3 .5-.6 .5-.5 .4-1 .5-1 .4-.8 .5-.9 .5-.3 .4-1.2 .5-1.1 .5-.6 .4-.1 .5-.6 .5-.6 .4 .3 .5-.3 .4 .3 .5-.7 .5-1.3 .4-.8 .5-.7 .5 .5 .4 .1 .5-.5 .4 1.5 .5 1.4 .5 .5 .4-.3 .5 .1 .5-.2 .4 .5 .5-.2 .5 0 .4 .6 .5 .4 .4-.2 .5 .7 .5 .1 .4-.3 .5-.4 .5 .2 .4 .2 .5 .1 .4 .3 .5-.9 .5-.4 .4 .9 .5-.3 .5-.1 .4-.8 .5-.1 .5-.5 .4-.3 .5-.1 .4 .1 .5 .8 .5 .6 .4-.7 .5-.8 .5-.7 .4 .9 .5 1.5 .5 1.5 .4 4 .5 3.6 .4 3.4 .5-1.7 .5-1.6 .4-1.5 .5-1.3 .5 .7 .4-.1 .5-.2 .5 .2 .4 .1 .5 0 .4 .3 .5-.4 .5-.9 .4 1.3 .5 1.4 .5-.1 .4 0 .5 .5 .4 0 .5 1 .5 .7 .4 .4 .5-.5 .5 .7 .4 .2 .5 0 .5 0 .4 .2 .5 .7 .4 6.5 .5 6.3 .5 3.3 .4 3.1 .5-7.7 .5-8.9 .4-2.1 .5-1.1 .4 .3 .5 0 .5 0 .4-.1 .5 .6 .5 .9 .4 .5 .5 .2 .5 0 .4 .1 .5 .7 .4-.1 .5-.1 .5-.1 .4 .2 .5 .3 .5 .6 .4-.4 .5 .3 .5 .8 .4-.3 .5 .2 .4 .7 .5 .5 .5 .2 .4-.1 .5 .3 .5 0 .4-.1 .5 .3 .5 .7 .4-.2 .5 .5 .4 .4 .5 .7 .5 .2 .4 .1 .5-.2 .5-.4 .4 0 .5 1.4 .4-.6 .5 .3 .5 .2 .4 .3 .5-.2 .5-.3 .4 .1 .5 .3 .5 .1 .4 .1 .5 .3 .4 .8 .5 .3 .5-.3 .4-.4 .5 0 .5 .4 .4 .8 .5 0 .4-.1 .5 .2 .5 .2 .4 .1 .5 .7 .5-.4 .4-.2 .5 .3 .5 .2 .4 .6 .5-.1 .4 0 .5-.1 .5 .1 .4 .1 .5 .2 .5 .4 .4 .4 .5-.2 .5-.1 .4 .2 .5 .7 .4 .2 .5 0 .5 .1 .4 .5 .5 0 .5-.2 .4 .2 .5 .4 .5 .2 .4 .4 .5 .4 .4 0 .5-.2 .5 0 .4 .4 .5 .5 .5 .3 .4 .3 .5 .3 .4 .3 .5 0 .5 .1 .4 .5 .5 .5 .5 .6 .4 .2 .5 .3 .5 .1 .4 .3 .5 .4 .4 .5 .5 .4 .5 .5 .4 .3 .5 .1 .5-.2 .4 .1 .5 .5 .4 .1 .5-.3 .5-.4 .4 .1 .5 .3 .5 0 .4-.3 .5 0 .5 0 .4 .1 .5 0 .4 0 .5-.1 .5 .5 .4 .1" stroke="#bfbf00"/>
<path clip-path="url(#cBL)" d="M199 532.7l .5 .1 .4-.1 .5 .1 .5 .2 .4-.4 .5 .3 .4 .2 .5-.3 .5-.1 .4 .2 .5 .2 .5 0 .4-.4 .5-.2 .5 .2 .4 0 .5-.2 .4-.2 .5 0 .5 .1 .4 0 .5 0 .5-.2 .4-.3 .5-.1 .4 .1 .5-.1 .5-.2 .4-.2 .5-.5 .5-.1 .4-.1 .5-.1 .5-.6 .4-.3 .5-.6 .4-1.1 .5-1 .5-1.3 .4-1.2 .5-.5 .5-.8 .4-1.4 .5-.9 .4-1.1 .5-.9 .5-1.2 .4-.9 .5-.3 .5-1.1 .4-1.2 .5-.9 .5-.4 .4-.6 .5-1.5 .4-.6 .5-1 .5-.8 .4-.3 .5-1 .5-1.3 .4-.4 .5-.7 .5-1.8 .4-.6 .5-.2 .4 0 .5-.8 .5-1.8 .4-.8 .5-.6 .5-1.1 .4 0 .5-1.5 .5-.9 .4 .8 .5-.3 .4-.2 .5-.6 .5-.5 .4-.3 .5-.9 .5 .1 .4 .3 .5 0 .4 .5 .5 1.6 .5 .7 .4-.6 .5 .1 .5 .1 .4 .4 .5 .7 .5-.3 .4 .3 .5 .1 .4-.3 .5 1.5 .5 .6 .4-1.4 .5-.1 .5 .2 .4 .4 .5 0 .4 0 .5-1.3 .5-.7 .4 .7 .5 .1 .5-.7 .4-.7 .5 .4 .5-.1 .4 .6 .5-.1 .4-.5 .5 .9 .5 .7 .4-1.3 .5-.7 .5-.2 .4 1.2 .5 1.1 .5 1.3 .4 4.3 .5 3.5 .4 3.3 .5-1.1 .5-1.7 .4-1.1 .5-1.8 .5 .1 .4 .1 .5 .1 .5 .4 .4 0 .5-.7 .4 .7 .5 .3 .5-.8 .4 .8 .5 1.2 .5-.4 .4-.6 .5 1.3 .4 .4 .5 .4 .5 .4 .4 .4 .5-.1 .5 .7 .4 .9 .5 .4 .5-.7 .4 .3 .5 1.1 .4 6.2 .5 6.5 .5 3.4 .4 3 .5-7.5 .5-8.7 .4-3 .5-1.4 .4 .3 .5 0 .5 .3 .4 .1 .5 .7 .5 .3 .4 .1 .5 .6 .5 .1 .4-.3 .5 .7 .4 .2 .5 .1 .5-.8 .4 .7 .5 .3 .5 .5 .4-.5 .5-.1 .5 1.2 .4 .2 .5 .2 .4 1 .5 .3 .5-.1 .4-.1 .5-.1 .5 .1 .4 .5 .5 .1 .5 0 .4 .6 .5 .3 .4 .5 .5 1 .5 1 .4-.7 .5-.6 .5-.8 .4 .4 .5 .4 .4 .8 .5 .4 .5-.3 .4 .3 .5 .1 .5 .3 .4-.3 .5-.1 .5 .3 .4-.1 .5-.1 .4 .6 .5 .4 .5 .4 .4 .1 .5-.1 .5-.2 .4 .6 .5-.5 .4-.1 .5 1 .5 0 .4-.4 .5 .8 .5 .4 .4 0 .5 .1 .5 .4 .4 .2 .5-.2 .4 0 .5 .3 .5-.1 .4-.8 .5 .2 .5 .9 .4 .6 .5 .1 .5-.2 .4 0 .5 .3 .4-.1 .5 .5 .5 .1 .4 .3 .5 .3 .5 0 .4 .6 .5-.1 .5 .4 .4 .2 .5-.5 .4 .7 .5 .6 .5-.1 .4-.8 .5 1.3 .5 .3 .4 .2 .5 .4 .4-.2 .5 .4 .5 .8 .4 .6 .5 .4 .5 .1 .4-.1 .5 .6 .5 .5 .4 .3 .5 .1 .4 .7 .5 .5 .5 .3 .4 .5 .5 .1 .5-.4 .4-.3 .5 .1 .4 .1 .5 .3 .5-.1 .4-.3 .5-.2 .5 .3 .4 .3 .5 .1 .5 .3 .4-.2 .5-.1 .4 .4 .5-.1 .5-.1 .4 .3" stroke="#bfbf00"/>
<path clip-path="url(#cBL)" d="M199 533l .5 .1 .4-.1 .5 0 .5-.1 .4 .1 .5 .1 .4-.1 .5-.2 .5 .1 .4 0 .5 0 .5 .2 .4-.2 .5-.3 .5-.1 .4 .1 .5-.4 .4 0 .5 .1 .5-.3 .4 0 .5 .3 .5 0 .4-.4 .5-.4 .4-.1 .5 0 .5 .4 .4-.1 .5-.3 .5-.3 .4-.6 .5-.2 .5-.5 .4-.5 .5-.4 .4-1.2 .5-1 .5-.8 .4-1.3 .5-1.2 .5-.7 .4-1.4 .5-.8 .4-1.4 .5-1.3 .5-1.1 .4-.6 .5 0 .5-.7 .4-1.7 .5-1 .5-.4 .4-.7 .5-1.5 .4-.6 .5-1 .5-.8 .4-.8 .5-1.4 .5-1.2 .4-.4 .5 0 .5-.7 .4-1.3 .5-1.4 .4-.3 .5-.8 .5-1.5 .4-1 .5-.2 .5-.8 .4-.2 .5-.8 .5-.7 .4 .7 .5-.3 .4-.2 .5-.7 .5-.7 .4-.6 .5-.4 .5 2.4 .4-3.1 .5 .2 .4 .9 .5 1.3 .5 .7 .4-.5 .5-.1 .5 .7 .4 .7 .5 .4 .5 .1 .4-.6 .5 .4 .4 .4 .5 .3 .5-.3 .4-.9 .5-.2 .5 .8 .4 .7 .5 .1 .4-.1 .5-.7 .5-.3 .4 0 .5-.2 .5-.1 .4-.2 .5 .9 .5-.7 .4 .1 .5-.3 .4 .1 .5 .7 .5-.2 .4-.7 .5-.8 .5-.7 .4 1.3 .5 1.4 .5 1.5 .4 3.9 .5 3.9 .4 2.8 .5-1.7 .5-.7 .4-1 .5-1 .5 .3 .4 .6 .5-.3 .5-.1 .4 .1 .5 .3 .4-.3 .5-.8 .5-.8 .4 1.4 .5 1.9 .5 .1 .4-.4 .5 .2 .4 .2 .5 1.3 .5 0 .4 .4 .5 .5 .5 .2 .4-.2 .5-.2 .5 0 .4 1.2 .5 .9 .4 6.2 .5 6.4 .5 3.2 .4 3.1 .5-7.7 .5-8.8 .4-2.1 .5-1.2 .4-.4 .5 .1 .5 .1 .4-.2 .5 .8 .5 .8 .4 .3 .5 .3 .5 0 .4 .2 .5 .4 .4-.1 .5-.1 .5 0 .4 1 .5 .2 .5 .2 .4 .9 .5-1.7 .5 .9 .4 .8 .5-.1 .4-.1 .5 .1 .5 .6 .4-.2 .5 0 .5 .3 .4 1 .5 0 .5 0 .4-.1 .5 .7 .4 .3 .5 .3 .5 .5 .4 .2 .5 .3 .5-.5 .4 .4 .5 .6 .4 0 .5 .4 .5 .2 .4 .2 .5-.4 .5 .2 .4 .1 .5 .1 .5 .2 .4-.3 .5 .5 .4 .4 .5 0 .5-.2 .4-.6 .5 .4 .5 .5 .4 .8 .5 0 .4-.5 .5 .1 .5 .6 .4-.1 .5 .3 .5-.1 .4 .1 .5 .7 .5 .5 .4 .3 .5-.5 .4 0 .5 .5 .5-.4 .4 0 .5 .4 .5 .1 .4 .4 .5 .8 .5-.3 .4-.3 .5 .4 .4 .1 .5 .3 .5 0 .4 .5 .5 .5 .5-.2 .4 .1 .5 .2 .5 .1 .4 .3 .5 .2 .4 .2 .5 .2 .5 .1 .4 .5 .5 .3 .5 .4 .4 .3 .5 .3 .4 0 .5 .2 .5 .7 .4 .4 .5 .2 .5 .3 .4 .4 .5 .2 .5 .1 .4 .7 .5 .5 .4 .6 .5 .3 .5 .3 .4 .5 .5 .1 .5-.4 .4 .2 .5 .1 .4 .1 .5 .2 .5 0 .4-.2 .5 0 .5-.2 .4 .1 .5 .3 .5 .1 .4-.1 .5 .1 .4 .2 .5-.2 .5 0 .4 .2" stroke="#bfbf00"/>
<path clip-path="url(#cBL)" d="M199 533l .5 0 .4 .4 .5 .2 .5-.6 .4-.3 .5 .1 .4-.1 .5-.1 .5 .1 .4 0 .5 .1 .5 .1 .4-.1 .5 .2 .5-.2 .4 0 .5-.4 .4-.5 .5-.1 .5 .4 .4 .1 .5-.5 .5 0 .4-.5 .5-.1 .4 .5 .5-.2 .5-.1 .4 0 .5-.1 .5-.5 .4-.5 .5-.5 .5-.3 .4-.3 .5-.3 .4-1.1 .5-1.2 .5-1 .4-1.2 .5-1.3 .5-1.3 .4-1.3 .5-.7 .4-.5 .5-.6 .5-1.3 .4-.5 .5-1.1 .5-1.2 .4-1.2 .5-.7 .5-.8 .4-.7 .5-.8 .4-.4 .5-1.2 .5-.8 .4-.3 .5-2.2 .5-1.6 .4-1.1 .5-.9 .5-.7 .4-.7 .5-.5 .4-.9 .5-1.5 .5-1.9 .4-1.2 .5-.5 .5-.3 .4-.1 .5-.2 .5-.8 .4-.6 .5-.7 .4 0 .5-.8 .5-.9 .4-.5 .5-.7 .5-.5 .4-.6 .5 1.2 .4 1.2 .5 1.4 .5 1 .4-.5 .5-.5 .5 .5 .4 1.1 .5 .2 .5 0 .4 .2 .5 .5 .4 .3 .5 1.1 .5-.7 .4-1.1 .5-.9 .5 1.1 .4 .8 .5-.4 .4 .1 .5-.8 .5-1.5 .4 .5 .5 .6 .5-.7 .4-.5 .5 .3 .5-.6 .4 .1 .5-.3 .4 .1 .5 1.5 .5 .5 .4-1.5 .5-.2 .5 .3 .4 .7 .5 1.3 .5 2 .4 3.9 .5 3.9 .4 2.8 .5-1.4 .5-.8 .4-1.4 .5-2 .5 .1 .4 .4 .5-.2 .5-.1 .4 1 .5-.2 .4-.1 .5-1 .5-.5 .4 .6 .5 2.6 .5 .6 .4-1.3 .5-.2 .4 .9 .5 .8 .5 0 .4 .3 .5 2.5 .5-.8 .4 .1 .5-.3 .5 .1 .4 1.5 .5 .4 .4 6.2 .5 7.1 .5 4.1 .4 3.8 .5-8.9 .5-10.4 .4-2.5 .5-1.3 .4 .5 .5-.2 .5 .3 .4 .3 .5 .5 .5 1.2 .4-.3 .5 .1 .5 0 .4 .2 .5 .7 .4 .2 .5-.6 .5 0 .4 .4 .5 .3 .5 .5 .4-.3 .5-.1 .5 .9 .4 .2 .5 0 .4 .8 .5 .6 .5 .2 .4 0 .5-.2 .5-.3 .4 .5 .5 .3 .5 1 .4-.3 .5 0 .4 1.2 .5 .9 .5-.1 .4-.4 .5 .2 .5-.1 .4 .1 .5-.1 .4 .3 .5 1 .5 .5 .4 .3 .5 .2 .5 0 .4-.3 .5 .1 .5 .6 .4-.4 .5-.2 .4 .8 .5 .2 .5-.1 .4 0 .5 .2 .5 .1 .4 .1 .5 .4 .4 .2 .5 .4 .5 .2 .4 0 .5 1.1 .5-.9 .4-.5 .5 .9 .5 .3 .4 .5 .5-.5 .4-.2 .5 .3 .5 .5 .4 .1 .5 .2 .5-.1 .4 .2 .5 .8 .5 .2 .4-.1 .5 .3 .4 .6 .5-.2 .5 .3 .4 .1 .5 0 .5-.1 .4 .4 .5 .6 .5 0 .4 0 .5 .2 .4 .3 .5 .4 .5 .4 .4 0 .5 .6 .5 .1 .4 .4 .5 .3 .4 .3 .5 .2 .5 .7 .4 .6 .5 .4 .5 .4 .4 .2 .5 .1 .5 .2 .4 .6 .5 .6 .4 .3 .5 .5 .5 .4 .4 .4 .5 .1 .5 .1 .4-.1 .5 .1 .4-.1 .5 .2 .5 0 .4 0 .5 .2 .5 .2 .4-.2 .5-.3 .5 .1 .4 .4 .5 .1 .4-.1 .5-.2 .5 .2 .4 .1" stroke="#bfbf00"/>
<path clip-path="url(#cBL)" d="M199 532.9l .5 .1 .4-.1 .5 .1 .5 .2 .4-.2 .5-.1 .4-.3 .5 .1 .5 .1 .4 .2 .5-.2 .5 0 .4 .3 .5-.1 .5-.1 .4-.3 .5-.3 .4-.4 .5-.2 .5 .3 .4 .1 .5-.1 .5 .1 .4-.3 .5-.1 .4-.4 .5 0 .5 .3 .4-.2 .5-.6 .5-.5 .4-.4 .5-.4 .5-.1 .4-.5 .5-.5 .4-1.3 .5-1.2 .5-.7 .4-1 .5-1.2 .5-1.6 .4-.6 .5-.9 .4-1.5 .5-.7 .5-1.3 .4-.8 .5-.8 .5-1.2 .4-1 .5-.8 .5-.8 .4-1.1 .5-1.3 .4-.2 .5-.7 .5-1.1 .4-1.1 .5-1.4 .5-2.1 .4-1.8 .5-.8 .5-.8 .4-.9 .5-1.2 .4-.8 .5-1.7 .5-1.4 .4-1.8 .5-.7 .5-1.8 .4-.1 .5-.6 .5-1.9 .4-.9 .5-1.2 .4 .3 .5-.3 .5-1.8 .4-.6 .5-.6 .5-1 .4-.6 .5 1.4 .4 1.4 .5 2.2 .5 1.1 .4-.8 .5 .9 .5 .6 .4-.1 .5-.7 .5 1.7 .4 .1 .5 .2 .4 0 .5 1.2 .5 1.1 .4-1 .5-1.2 .5-.4 .4 .9 .5 .5 .4 .2 .5-1.4 .5-1.5 .4 .9 .5 1.1 .5-.6 .4-1.5 .5 .6 .5-.7 .4-.7 .5-.4 .4 .2 .5 .7 .5 .6 .4-.1 .5-1.1 .5-.3 .4 1.8 .5 .8 .5 2.5 .4 5.8 .5 5.6 .4 1.8 .5-1.5 .5-.6 .4-1 .5-2.3 .5-.1 .4-.1 .5-.5 .5-.7 .4 0 .5 .1 .4 .8 .5-1.2 .5-1 .4 .8 .5 1.9 .5-.2 .4-.2 .5 1.2 .4-.1 .5 .4 .5 .2 .4 0 .5 .5 .5 1.6 .4-.1 .5 .1 .5 .2 .4 1.4 .5 1.4 .4 5.8 .5 7.1 .5 6 .4 5.2 .5-10.6 .5-12.2 .4-1.6 .5-1.6 .4 .3 .5 0 .5-.6 .4 2.2 .5-.3 .5 .5 .4 .8 .5-.4 .5-.4 .4 .1 .5 .7 .4-.1 .5-.3 .5 .1 .4 1.1 .5 .7 .5 .7 .4-.6 .5-.7 .5 .6 .4 .1 .5 0 .4 .7 .5 .8 .5 .8 .4 .6 .5-.3 .5-.6 .4-.3 .5 .7 .5 1.4 .4 0 .5 .4 .4 .9 .5-.1 .5 .6 .4 .6 .5 .3 .5-.2 .4 .1 .5 .1 .4 0 .5 .5 .5 .5 .4 .8 .5-.2 .5 .1 .4 0 .5-.8 .5 0 .4 .3 .5 .6 .4 1 .5-.2 .5-.3 .4 .1 .5 .1 .5-.1 .4 .5 .5 .5 .4 .1 .5 .9 .5 .8 .4-.3 .5 .4 .5 .2 .4-.4 .5 .5 .5 .3 .4 0 .5-.4 .4 .5 .5 .4 .5 .5 .4-.3 .5-.1 .5 .7 .4 .6 .5 .8 .5-.3 .4-.3 .5 .6 .4 .8 .5-.2 .5-.1 .4 .4 .5 .7 .5-.1 .4 .8 .5-.1 .5 .1 .4 .1 .5-.2 .4 .9 .5 .3 .5 0 .4 .2 .5 .4 .5 .3 .4 .4 .5 .8 .4 .6 .5 .1 .5 .5 .4 .1 .5 .2 .5 1.1 .4 .1 .5 .7 .5 .4 .4 .2 .5 .4 .4 .9 .5 .2 .5 .7 .4 .2 .5 0 .5 .1 .4 .1 .5 .1 .4 0 .5-.2 .5-.1 .4 .2 .5 .1 .5 .1 .4-.1 .5 .1 .5 .5 .4-.2 .5-.5 .4 0 .5 .3 .5-.2 .4 .3" stroke="#bfbf00"/>
<path clip-path="url(#cBL)" d="M199 532.8l .5 .1 .4 .1 .5-.3 .5-.3 .4 .3 .5-.1 .4-.1 .5 .1 .5-.3 .4 .2 .5 0 .5 .1 .4 .1 .5-.1 .5-.3 .4-.1 .5-.3 .4 .2 .5 .1 .5-.2 .4-.2 .5 .1 .5 0 .4 0 .5-.2 .4-.2 .5-.3 .5-.2 .4-.4 .5 0 .5-.4 .4-.6 .5-.2 .5-.1 .4-.2 .5-.5 .4-1.7 .5-.8 .5-1.2 .4-1.2 .5-.9 .5-1.2 .4-1.7 .5-.7 .4-.7 .5-1 .5-1.1 .4-1.1 .5-1.3 .5-1.3 .4-1.3 .5-.3 .5-.5 .4-1 .5-1.2 .4-1.1 .5-1.2 .5-1.5 .4-.9 .5-2 .5-1.5 .4-1.4 .5-.8 .5-1.2 .4-1.7 .5-1.7 .4-1.4 .5-2 .5-2.1 .4-1.2 .5-1.4 .5-1.9 .4-1.3 .5-1.8 .5-1 .4-.6 .5-1.5 .4-.3 .5-.6 .5-1.4 .4-1.5 .5-1.3 .5-.1 .4-.4 .5 1.5 .4 1.1 .5 2.8 .5 .7 .4-.2 .5 1.2 .5 1.3 .4 0 .5-.5 .5 .1 .4 .8 .5-.3 .4 .9 .5 1.2 .5-.4 .4-1.1 .5 .5 .5 .8 .4-.2 .5-.5 .4 .5 .5-1.9 .5-.5 .4 .7 .5 .6 .5-.7 .4-.3 .5 .2 .5-.6 .4-.7 .5-1 .4-.6 .5 1.2 .5 .7 .4-1.7 .5-1.5 .5 1 .4 1.7 .5 1.5 .5 4.7 .4 6.8 .5 5.9 .4 1 .5-1.5 .5-.7 .4-1.6 .5-2.8 .5 .1 .4-1 .5-.7 .5-.2 .4 .5 .5-.4 .4 0 .5-.6 .5-.9 .4 .3 .5 1.5 .5-.6 .4-.6 .5 1.6 .4 0 .5 .4 .5 .6 .4 .8 .5 .5 .5 1 .4-.3 .5 .4 .5 .4 .4 2 .5 2 .4 6 .5 7 .5 8 .4 7 .5-12.4 .5-13.9 .4-2.3 .5-2 .4-.4 .5 0 .5 .9 .4 .6 .5 .4 .5 1 .4 .2 .5 .1 .5 .2 .4-.1 .5 .7 .4 .3 .5-.1 .5 .4 .4 .7 .5 .1 .5 .5 .4-.4 .5 .4 .5 .1 .4-.1 .5-.1 .4 .5 .5 .7 .5-.1 .4 .3 .5 .6 .5-.5 .4 .3 .5 .7 .5 1.1 .4 .8 .5 .6 .4 .9 .5 .2 .5 .6 .4 .2 .5 .1 .5-.4 .4 .2 .5 .7 .4 0 .5 1.4 .5 0 .4 .3 .5 .2 .5 0 .4-.6 .5 0 .5 .5 .4 .4 .5 .1 .4 1.1 .5-.4 .5-.4 .4 .2 .5 .3 .5 .9 .4 .3 .5 .3 .4-.1 .5 1.1 .5 .9 .4-.3 .5 .2 .5-.3 .4-.1 .5 .6 .5 .5 .4 .6 .5 .2 .4-.1 .5 0 .5 .9 .4-.2 .5 .1 .5 .4 .4 .4 .5 .3 .5 .1 .4 .6 .5 .6 .4-.2 .5 0 .5 0 .4 .5 .5 .7 .5 .2 .4 .5 .5 0 .5 0 .4 .7 .5 .6 .4 .3 .5 .2 .5 .2 .4 .2 .5 .2 .5 .7 .4 .4 .5 .2 .4 .6 .5 .7 .5 .5 .4 .2 .5 .4 .5 .1 .4 .3 .5 1.4 .5 .7 .4 .5 .5 .3 .4 .4 .5 .1 .5 .8 .4 .7 .5 .4 .5-.2 .4 0 .5 .3 .4-.1 .5-.4 .5 0 .4 .4 .5 0 .5-.1 .4 0 .5-.1 .5 .3 .4 .4 .5-.3 .4 .3 .5 .2 .5-.3 .4-.3" stroke="#bfbf00"/>
<path clip-path="url(#cBL)" d="M199 533.1l .5 .1 .4-.1 .5 0 .5 .1 .4 .1 .5-.1 .4-.2 .5-.4 .5 .1 .4 .2 .5 0 .5 0 .4-.1 .5-.1 .5 .1 .4-.2 .5-.3 .4 0 .5-.5 .5-.2 .4 .3 .5-.2 .5-.3 .4-.2 .5-.4 .4-.3 .5 .1 .5-.2 .4-.5 .5 .1 .5-.2 .4-.5 .5-.3 .5-.3 .4-.3 .5-.7 .4-.9 .5-1.1 .5-1.3 .4-1.4 .5-.9 .5-1.2 .4-1 .5-.4 .4-1 .5-1.5 .5-1.1 .4-.8 .5-.8 .5-1.6 .4-1.7 .5-.9 .5-.6 .4-1.1 .5-2.8 .4 .4 .5-1.4 .5-1.8 .4-.9 .5-1.8 .5-2.1 .4-1.5 .5-2 .5-1.6 .4-1.6 .5-2.1 .4-1.1 .5-2.6 .5-3.3 .4-2.5 .5-1.9 .5-1.4 .4-1.1 .5-1.6 .5-2.6 .4-1.7 .5-2 .4-.1 .5-1.6 .5-1.2 .4-.9 .5-2.2 .5-.3 .4-.8 .5-3.1 .4 0 .5 10.5 .5 1.7 .4-.2 .5 1.1 .5 .1 .4 .1 .5 .3 .5 1 .4 .3 .5 .2 .4 .3 .5 2.1 .5 .1 .4-1.4 .5-.1 .5 2.3 .4 .4 .5-.9 .4-.2 .5-1.2 .5-1.5 .4 .5 .5 .4 .5-1.4 .4-.6 .5-.1 .5-1.7 .4-.2 .5 .1 .4-.4 .5 .8 .5 .1 .4-2.1 .5-.4 .5 .4 .4 .5 .5 1.2 .5 7.1 .4 8 .5 7.5 .4 1.3 .5-1.5 .5-1.7 .4-1.5 .5-1 .5-1.1 .4-1.2 .5-1.3 .5-1.1 .4-1.8 .5 2.6 .4 0 .5-2 .5-.5 .4 1.7 .5 .8 .5-1.2 .4-.5 .5 1.1 .4 .1 .5 .3 .5 1.4 .4 .9 .5 0 .5-.1 .4 .5 .5 .1 .5-.1 .4 3.8 .5 4 .4 6.3 .5 6.3 .5 10 .4 8.9 .5-15.4 .5-16.9 .4-2.5 .5-.4 .4 .5 .5-.7 .5-.2 .4 .1 .5 1.1 .5 2.2 .4 .4 .5-.5 .5-.3 .4-.9 .5 .8 .4 0 .5 .6 .5 .9 .4 .4 .5-.1 .5 .3 .4-1.2 .5 1.1 .5 .8 .4-.1 .5 .2 .4 .6 .5 .6 .5 .5 .4 .2 .5 .4 .5-.5 .4 .3 .5 .6 .5 1.3 .4 1.2 .5 .8 .4 .9 .5 .6 .5 .8 .4-.1 .5 .2 .5-1.2 .4 .8 .5 1 .4 .1 .5 .6 .5 0 .4 0 .5 .8 .5-.4 .4-.2 .5 .3 .5 .9 .4-.6 .5 .4 .4 1.4 .5 .2 .5 .3 .4-.7 .5 .1 .5 1.1 .4 0 .5-.1 .4 .6 .5 1.9 .5 1.7 .4-.6 .5-.3 .5-.9 .4 .3 .5 .5 .5 .7 .4 .4 .5-.3 .4 .3 .5 .6 .5 .4 .4 .3 .5 .5 .5 .3 .4 .6 .5 1.2 .5-.3 .4-.2 .5 1 .4 .7 .5 .3 .5 .5 .4-.3 .5 .1 .5 0 .4 .4 .5 .4 .5 .4 .4 .6 .5 .4 .4 .7 .5-.1 .5 .3 .4 .3 .5 .9 .5 .4 .4 .3 .5 .2 .4 .5 .5 .8 .5 1 .4 .4 .5 .5 .5 .1 .4 .8 .5 .6 .5 .7 .4 .9 .5 .9 .4 .5 .5 .6 .5 .1 .4 .5 .5 .8 .5-.1 .4-.6 .5 .1 .4 .1 .5-.2 .5 0 .4 .3 .5-.2 .5 .1 .4 .1 .5 .2 .5 .2 .4 .3 .5-.4 .4 0 .5-.2 .5 .1 .4 .3" stroke="#bfbf00"/>
<path clip-path="url(#cBL)" d="M199 533.6l .5-.4 .4 0 .5 .3 .5 .1 .4-.3 .5 .2 .4 .2 .5-.1 .5-.3 .4 .1 .5-.2 .5 0 .4-.1 .5-.1 .5-.2 .4-.1 .5 0 .4-.4 .5-.2 .5 .2 .4 .1 .5-.6 .5-.2 .4 .2 .5-.1 .4-.6 .5-.1 .5-.2 .4-.4 .5-.2 .5-.1 .4-.7 .5-.6 .5-.3 .4-.3 .5-.6 .4-.9 .5-.8 .5-.9 .4-1.1 .5-.7 .5-1.1 .4-1.2 .5-1.1 .4-.6 .5-.9 .5-1.3 .4-1.3 .5-1.2 .5-1.5 .4-1.6 .5-1.5 .5-.9 .4-1.9 .5-1 .4-.7 .5-2.7 .5-1.1 .4-.5 .5-2.2 .5-3.7 .4-2.5 .5-1.4 .5-2.7 .4-3.4 .5-2.3 .4-2.1 .5-3.7 .5-3.5 .4-2.9 .5-3.5 .5-2.9 .4-2.8 .5-4.5 .5-3.4 .4-2.1 .5-2 .4 1 .5-1.8 .5-2.5 .4-2.1 .5-3.2 .5-.3 .4-.3 .5 .9 .4 .3 .5 5.5 .5 3.2 .4 1.4 .5 1.5 .5-.2 .4 .8 .5 1.7 .5 .1 .4 0 .5 1.6 .4 1.3 .5 1.4 .5-.2 .4-1 .5-.1 .5 1.6 .4 1.8 .5-1 .4-.6 .5-1.9 .5-1.6 .4 .1 .5 .8 .5-1.3 .4-2.7 .5-.2 .5-1.5 .4-.9 .5-2.1 .4-.9 .5 2 .5 1.5 .4-1.7 .5-1.7 .5 1.3 .4 .9 .5 .2 .5 12.1 .4 12.6 .5 10.4 .4-2.5 .5-1.7 .5-1.5 .4-2.4 .5-2.2 .5-.8 .4-1.6 .5-3 .5-2.9 .4-.5 .5 .5 .4 .2 .5-2 .5-1.5 .4 1.6 .5 2.4 .5-.9 .4-1.1 .5 1.1 .4-.5 .5 .3 .5 .5 .4 .6 .5-.1 .5 1.1 .4 1.7 .5 .5 .5-.2 .4 5.8 .5 5.2 .4 5.6 .5 5.9 .5 15.7 .4 13.9 .5-20.5 .5-23.8 .4-1.4 .5 .3 .4 .3 .5-.3 .5 .9 .4 .4 .5 .4 .5 .5 .4 .2 .5 .2 .5-.6 .4 0 .5 .2 .4 0 .5-.2 .5-.2 .4 1.2 .5 .4 .5 1.8 .4-.4 .5-.1 .5 1.8 .4 .1 .5 1.4 .4-1.4 .5 .6 .5 .8 .4-.7 .5 .7 .5-.8 .4 .5 .5-.2 .5 2.6 .4 3 .5 .6 .4 1.5 .5 1 .5 .6 .4 0 .5-.3 .5 .2 .4 .3 .5-.2 .4 .1 .5 1.7 .5 .9 .4 .9 .5-.3 .5-.2 .4-.5 .5 .6 .5 .6 .4-.5 .5 .9 .4 1.9 .5-.2 .5-.9 .4 0 .5 .8 .5 1 .4 .9 .5-.2 .4-.1 .5 2.2 .5 2.2 .4-.7 .5 .1 .5-.3 .4 .5 .5 .4 .5 .6 .4 .1 .5 .3 .4 1.4 .5 .3 .5 .4 .4-.1 .5 .4 .5 .9 .4 1.2 .5 .6 .5 .3 .4 .4 .5 .6 .4 .1 .5 .4 .5 .1 .4 .7 .5 1 .5-.2 .4 1 .5 1 .5 .5 .4-.1 .5 .2 .4 .7 .5 .2 .5 .3 .4 .2 .5 .5 .5 .8 .4 .9 .5 .4 .4 .6 .5 .3 .5 .6 .4 1.3 .5 .8 .5 .9 .4 .5 .5 .7 .5 .7 .4 .7 .5 1.4 .4 1 .5 .8 .5 .9 .4-.1 .5-.1 .5 .3 .4 0 .5-.1 .4-.1 .5 0 .5-.2 .4 0 .5 .6 .5 .3 .4-.2 .5 0 .5-.2 .4 .2 .5 .3 .4 .1 .5-.2 .5 .2 .4 .3" stroke="#bfbf00"/>
<path clip-path="url(#cBL)" d="M199 533.6l .5-.2 .4 0 .5 .2 .5-.4 .4-.2 .5 .2 .4 .1 .5 .1 .5-.1 .4-.2 .5-.2 .5 0 .4 .1 .5 0 .5-.3 .4-.2 .5-.6 .4-.3 .5 .1 .5 .3 .4 0 .5-.4 .5-.1 .4-.2 .5-.2 .4 0 .5-.3 .5-.7 .4 .1 .5-.3 .5-.3 .4-.8 .5-.4 .5-.2 .4-.3 .5-.1 .4-1.2 .5-1.6 .5-.8 .4-1.2 .5-.8 .5-1.1 .4-1 .5-.8 .4-1.1 .5-.4 .5-1.5 .4-1.5 .5-1.5 .5-1.6 .4-1.1 .5-1.6 .5-1 .4-1.3 .5-2.3 .4-1 .5-1.1 .5-1.5 .4-1.5 .5-2.9 .5-3.1 .4-2.7 .5-2.2 .5-1.9 .4-2.4 .5-3.6 .4-2.7 .5-3.2 .5-3.3 .4-2.5 .5-2.8 .5-4.5 .4-3.3 .5-3 .5-3.5 .4-2.5 .5-2.5 .4-1.1 .5-2.4 .5-1 .4-.8 .5-2.6 .5-.4 .4-2.6 .5 2.5 .4 1.8 .5 6.2 .5 3.9 .4-1.1 .5 1.1 .5 1.5 .4 1.4 .5 .8 .5-.5 .4 .2 .5 .8 .4 .3 .5 2.1 .5 .7 .4-.9 .5 0 .5 1.6 .4 .5 .5-.2 .4-.8 .5-1.8 .5-.6 .4-.8 .5-.6 .5-1.7 .4-.8 .5 .6 .5-.8 .4-1.2 .5-1.2 .4-2 .5 1.9 .5 .7 .4-2.8 .5-1.1 .5 1.1 .4 .5 .5 .3 .5 12.1 .4 12.1 .5 11.7 .4-1 .5-2.3 .5-1.1 .4-1.1 .5-2.9 .5-1.5 .4-2.8 .5-2.6 .5-1.2 .4-.7 .5-.1 .4-.2 .5-1.7 .5-2.1 .4 1.2 .5 2.2 .5-.6 .4-.1 .5-.2 .4-1 .5 1.5 .5 .2 .4 1.1 .5 .7 .5 3.8 .4-1.7 .5 .2 .5-.3 .4 5.7 .5 6.4 .4 4.9 .5 5.5 .5 16.4 .4 14.8 .5-21.5 .5-24.2 .4-1.3 .5 .2 .4-1.1 .5-.7 .5 1.5 .4 .6 .5 1.2 .5 .8 .4 .4 .5-.7 .5-.5 .4-.5 .5 3.1 .4-.5 .5-.6 .5-.2 .4 1.2 .5 .2 .5 .7 .4 .1 .5-1.1 .5 .9 .4 1.7 .5-.6 .4 0 .5 1.5 .5 1.4 .4 .1 .5-.8 .5-.8 .4 1 .5-.1 .5 3.6 .4 1.6 .5 .7 .4 .9 .5 1.2 .5 .8 .4 .5 .5 .2 .5-.4 .4 .1 .5 .6 .4 1.3 .5 1 .5-.5 .4 0 .5 .5 .5 .5 .4-.7 .5-.1 .5 .7 .4-1.6 .5 1.6 .4 1.5 .5 .7 .5 .2 .4-.3 .5 .2 .5 1 .4 .3 .5-.3 .4 1 .5 2.9 .5 2.3 .4-1.8 .5 .3 .5-.6 .4 .1 .5 .4 .5 1.5 .4-.2 .5 .2 .4 .9 .5 .4 .5 .8 .4 .4 .5 .5 .5 .9 .4 .4 .5 1.4 .5 .7 .4 0 .5 .6 .4 0 .5-.1 .5 1.2 .4 .6 .5 .4 .5 .1 .4 1 .5 0 .5 .8 .4 .8 .5 .1 .4 .6 .5 .2 .5-.2 .4-.2 .5 1.4 .5 1.1 .4 .4 .5 .9 .4 .8 .5 .2 .5 .4 .4 .9 .5 1 .5 .5 .4 .8 .5 1 .5 1.3 .4 .6 .5 .7 .4 .9 .5 .9 .5 1.1 .4-.2 .5 .1 .5 .2 .4 0 .5 .1 .4 .2 .5 0 .5 0 .4-.1 .5-.2 .5 .2 .4 .2 .5 0 .5 .2 .4 .2 .5 .2 .4-.1 .5-.5 .5 0 .4 .3" stroke="#bfbf00"/>
<path clip-path="url(#cBL)" d="M199 533.5l .5-.1 .4 0 .5 0 .5 0 .4 0 .5 0 .4-.4 .5 .3 .5-.1 .4-.4 .5-.3 .5 .3 .4-.1 .5-.3 .5 0 .4 .1 .5-.2 .4-.2 .5-.3 .5-.1 .4 0 .5-.5 .5-.1 .4-.2 .5 0 .4-.9 .5 .6 .5 .1 .4 0 .5-.5 .5-1 .4-.6 .5-.5 .5-.3 .4-.4 .5-.4 .4-1.3 .5-1.1 .5-1 .4-1.1 .5-.6 .5-1 .4-1.3 .5-.9 .4-.7 .5-1.3 .5-1.4 .4-.6 .5-1.2 .5-1.7 .4-1.7 .5-1.5 .5-1 .4-1.2 .5-2 .4-1.5 .5-1.2 .5-2 .4-.8 .5-3.1 .5-3.2 .4-2.1 .5-2.3 .5-2.2 .4-3.8 .5-2.9 .4-2.3 .5-3.1 .5 1.5 .4-9.5 .5-3 .5-4.1 .4-3.2 .5-3 .5-2.9 .4-2.7 .5-1.9 .4-.3 .5-2.3 .5-.4 .4-1.3 .5-3 .5-1.5 .4-.3 .5 1.5 .4 .6 .5 4.5 .5 2.5 .4 1.1 .5 3 .5 .3 .4 1.5 .5 .1 .5 .6 .4 .1 .5-1.2 .4 2.5 .5 2.3 .5-.3 .4-1.3 .5 .5 .5 1.9 .4 1.6 .5-.7 .4-1 .5-2.2 .5-.5 .4 .2 .5-1.6 .5-.9 .4-.4 .5-.1 .5-2 .4-.6 .5-1 .4-1.3 .5 1.1 .5 .5 .4-1.4 .5-2.2 .5 .8 .4 1.7 .5 1.3 .5 12.3 .4 10.7 .5 11.4 .4-1 .5-1.2 .5-1.6 .4-2.5 .5-2.9 .5-2.1 .4-3.1 .5-1.3 .5-.8 .4-.3 .5-.5 .4 .1 .5-1.4 .5-2.8 .4 1 .5 1.9 .5-.5 .4-1.3 .5 .1 .4 1 .5 1.3 .5 .5 .4 .6 .5-.3 .5 .1 .4 1.1 .5 1.3 .5-.8 .4 6.4 .5 7.7 .4 4.6 .5 5.3 .5 16.6 .4 14.9 .5-22.3 .5-24.7 .4-1.9 .5 .5 .4-.1 .5-.8 .5 .5 .4 .9 .5 1.5 .5 1.4 .4 1 .5-.3 .5-.8 .4-.1 .5 1.3 .4 0 .5 0 .5-.5 .4 1 .5 .7 .5 .5 .4 .2 .5-.1 .5 1.3 .4-.1 .5-.6 .4 .6 .5 .7 .5 .5 .4-.3 .5 .3 .5-.6 .4 .1 .5 .8 .5 3.3 .4 2.9 .5 1 .4 1.3 .5 .5 .5 .8 .4-.5 .5 .6 .5-.6 .4 .6 .5 .9 .4 0 .5 1.1 .5 .5 .4-.5 .5 .2 .5 .8 .4 .6 .5-.8 .5 .2 .4 .6 .5 .7 .4 .8 .5 .8 .5-.3 .4 .2 .5 .3 .5 .4 .4 1.2 .5 .3 .4-1.3 .5 3.2 .5 2.2 .4-.8 .5 .1 .5-1 .4 .4 .5 1.1 .5 .5 .4 1.3 .5-.6 .4 .3 .5 1.1 .5 .6 .4 .3 .5 1.2 .5 .5 .4 .5 .5 .8 .5 .3 .4 .8 .5 .4 .4 .3 .5 .2 .5 .3 .4 2.1 .5-.2 .5-.3 .4 .3 .5 .2 .5 .6 .4 .7 .5 .5 .4 .6 .5 .5 .5 0 .4 .4 .5 1 .5 .5 .4 .5 .5 .8 .4 .4 .5 1 .5 .6 .4 .6 .5 .5 .5 .5 .4 .7 .5 1 .5 1.3 .4 1.3 .5 1.1 .4 .9 .5 1.1 .5 .9 .4-.7 .5 .1 .5 .3 .4 .3 .5 0 .4-.3 .5 .3 .5 .1 .4-.1 .5 .3 .5 .2 .4 0 .5-.4 .5-.3 .4 .3 .5 .1 .4 .3 .5 .2 .5-.1 .4-.1" stroke="#bfbf00"/>
<path clip-path="url(#cBL)" d="M199 533.6l .5 .1 .4-.3 .5-.5 .5-.3 .4 .2 .5 .1 .4-.2 .5 0 .5 .1 .4-.2 .5-.1 .5 .4 .4-.1 .5-.1 .5-.2 .4-.2 .5-.3 .4-.2 .5 .1 .5-.5 .4 .2 .5 .2 .5-.1 .4-.7 .5-.2 .4 .2 .5-.5 .5-.7 .4-.6 .5-.2 .5-.2 .4-.5 .5-.3 .5-.2 .4-.6 .5-.5 .4-1.1 .5-1.3 .5-1.1 .4-1 .5-1 .5-.8 .4-.9 .5-1.5 .4-1 .5-.5 .5-.8 .4-1.2 .5-1.8 .5-1.6 .4-2.1 .5-1.4 .5 .1 .4-1.6 .5-2.6 .4-.8 .5-1.7 .5-1.8 .4-1.1 .5-3.1 .5-3.3 .4-2.6 .5-1.9 .5-2.5 .4-3.1 .5-3.5 .4-2.1 .5-3.1 .5-4.3 .4-4 .5-4.4 .5-2.8 .4-2.7 .5-4.5 .5-4 .4-2.3 .5-1.5 .4 .7 .5-1 .5-2.1 .4-3.4 .5-2.5 .5 .7 .4-1.5 .5 1.3 .4 .5 .5 5.6 .5 3.4 .4 .8 .5 2.3 .5 .6 .4 .1 .5 .3 .5 .1 .4 1.3 .5 1.8 .4 .4 .5 2.1 .5 .2 .4-1.8 .5 .4 .5 2.5 .4 1.3 .5-1.6 .4-.7 .5-1.9 .5-1.6 .4 .3 .5 .4 .5-2.2 .4-1.3 .5 .1 .5-1.4 .4-.4 .5-1 .4-1.7 .5 .4 .5 .1 .4-1.7 .5-.2 .5 .8 .4 .3 .5 1.4 .5 12.3 .4 12.2 .5 12.4 .4-1.9 .5-1.1 .5-1.8 .4-3.1 .5-3.1 .5-1.2 .4-1.6 .5-2.5 .5-2.5 .4-.4 .5-.1 .4 .1 .5-2.1 .5-1.8 .4 1 .5 1.3 .5-.8 .4-1.4 .5 2.8 .4 .3 .5 .8 .5 .5 .4 .1 .5 .4 .5 1.7 .4-.3 .5 .2 .5 .5 .4 6.6 .5 5.9 .4 5.3 .5 6.8 .5 16.6 .4 15.3 .5-22.7 .5-25.5 .4-.5 .5 .2 .4-.4 .5-.8 .5 .2 .4 1.6 .5 .8 .5 .3 .4 1.5 .5 0 .5-.7 .4-1 .5 .9 .4 .6 .5-.2 .5-.2 .4 2.2 .5 .7 .5 .1 .4-1.2 .5-.5 .5 1.3 .4 .9 .5-.3 .4 .9 .5 .8 .5 .2 .4-.3 .5 .7 .5-.1 .4 .1 .5-.4 .5 3.1 .4 2.4 .5 1.7 .4 2.1 .5 .5 .5-.2 .4 .4 .5 .1 .5-1.2 .4 .4 .5 1.1 .4 .2 .5 1.9 .5 .1 .4-.2 .5-.3 .5 .7 .4 .9 .5-.1 .5 .2 .4 0 .5 1 .4 .7 .5 0 .5 .2 .4-.1 .5 .5 .5 2.9 .4-1.6 .5 .7 .4 .4 .5 2.7 .5 2.2 .4-.9 .5-.3 .5-1.1 .4-.3 .5 .7 .5 1.2 .4 .9 .5 .2 .4 .7 .5 1 .5 .4 .4-.2 .5 .9 .5 1.1 .4 .8 .5 .5 .5-.5 .4 0 .5 1 .4 1.1 .5 .7 .5 .5 .4 .3 .5 .3 .5-.3 .4 .9 .5 1.1 .5 .5 .4 .4 .5 .2 .4 .4 .5 .6 .5 .5 .4 .7 .5 1 .5 .1 .4 .5 .5 1 .4 .5 .5 .4 .5 1 .4 .8 .5 .4 .5 .8 .4 1.3 .5 .7 .5 .5 .4 1.3 .5 1.3 .4 .7 .5 .8 .5 .9 .4 .3 .5 .4 .5-.1 .4-.2 .5-.1 .4 0 .5 .2 .5-.1 .4 .3 .5 0 .5 .1 .4-.2 .5-.1 .5 .1 .4 .5 .5 .1 .4 .3 .5-.3 .5 0 .4 .1" stroke="#bfbf00"/>
<path d="M79.5 536.5H338" stroke="#bfbf00"/>
<path clip-path="url(#cBR)" d="M438.5 534.6l .5-.4 .5 .3 .4 0 .5 .1 .4-.3 .5 .3 .5 .1 .4-.2 .5 .1 .5-.3 .4 0 .5 .4 .5 .1 .4-.1 .5 0 .4-.3 .5 .2 .5 .1 .4-.5 .5 .6 .5 0 .4-.2 .5 .3 .5-.1 .4-.2 .5-.3 .4 .3 .5 .2 .5-.2 .4-.3 .5 .2 .5 0 .4-.2 .5 .3 .5 0 .4 .3 .5-.5 .4 0 .5 .2 .5-.1 .4 0 .5-.1 .5 .2 .4 0 .5-.2 .4 .4 .5-.2 .5 .1 .4-.2 .5-.2 .5 .1 .4 0 .5 .3 .5 .1 .4-.2 .5-.2 .4 .2 .5 .2 .5-.3 .4 .1 .5 .3 .5-.4 .4 .1 .5 .1 .4-.3 .5 0 .5 .1 .4 0 .5 .2 .5-.1 .4-.1 .5 .4 .5-.1 .4-.4 .5-.1 .4 0 .5 .4 .5-.5 .4 .5 .5-.1 .5 0 .4-.1 .5-.1 .5-.3 .4 .5 .5-.1 .4 .3 .5-.3 .5 .2 .4-.3 .5 .2 .5 0 .4-.3 .5 .3 .5 .2 .4-.3 .5 .1 .4 0 .5-.2 .5-.1 .4-.1 .5 .5 .5-.2 .4-.3 .5 .5 .4-.1 .5 .1 .5-.2 .4 .2 .5-.1 .5 .1 .4-.4 .5 .2 .5-.2 .4 0 .5 .3 .4-.3 .5 .1 .5 .2 .4-.1 .5-.2 .5 .4 .4-.2 .5-.1 .4 .1 .5 .1 .5-.5 .4 .7 .5-.4 .5 0 .4-.1 .5 .2 .5-.3 .4 .3 .5 .2 .4-.1 .5-.1 .5 0 .4-.3 .5 .6 .5-.4 .4-.1 .5 .4 .5-.2 .4 .1 .5 0 .4-.5 .5 .7 .5-.4 .4 .1 .5 .1 .5-.3 .4 .2 .5-.3 .5 .1 .4 .2 .5 0 .4-.1 .5 .4 .5-.5 .4 .2 .5 0 .5-.2 .4 0 .5 .1 .4-.1 .5 .2 .5-.1 .4-.2 .5 .1 .5 .2 .4-.2 .5 .1 .5 .1 .4 0 .5-.2 .4 0 .5 .1 .5-.1 .4 .2 .5 0 .5 .1 .4-.6 .5 .5 .4-.2 .5 .2 .5-.1 .4 .3 .5-.3 .5-.1 .4 0 .5-.1 .5 .1 .4 .1 .5 .1 .4-.1 .5-.1 .5-.3 .4 .5 .5-.1 .5-.1 .4 .3 .5-.1 .5-.3 .4 .1 .5 0 .4 0 .5 .1 .5 0 .4 0 .5 .1 .5-.2 .4 .3 .5-.4 .5 .2 .4 0 .5 .1 .4-.1 .5 .2 .5 .1 .4-.2 .5-.1 .5 .2 .4-.2 .5-.1 .4 0 .5 .2 .5-.1 .4-.1 .5 .1 .5 .2 .4 0 .5-.4 .5 .3 .4-.2 .5 .4 .4-.1 .5 .1 .5-.4 .4 0 .5 .1 .5-.5 .4-.5 .5-.1 .4-.5 .5-.1 .5 0 .4-.5 .5 .2 .5-.4 .4-.8 .5-.3 .5-.3 .4-.2 .5-.2 .4-.1 .5-.3 .5-.5 .4-.4 .5-.5 .5-.6 .4-.7 .5-1 .5-.6 .4-.4 .5-.5 .4-1.1 .5 0 .5-1 .4-.7 .5-.7 .5-.6 .4-.4 .5-1.4 .5-.9 .4-1.5 .5-1.2 .4-1.1 .5-1.2 .5-1.6 .4-.5 .5-2 .5-.4 .4-1.6 .5-1.1 .4-1.5 .5-1.5 .5-.8 .4-2.1 .5-.5 .5-1.8 .4-1.5 .5-1.2 .5-1.2 .4-1.3 .5-1.1 .4-1.3 .5-1.4 .5-1 .4-1.5" stroke="#ff0000"/>
<path clip-path="url(#cBR)" d="M438.5 535.8l .5-.1 .5 .1 .4-.1 .5-.1 .4-.1 .5 0 .5 .1 .4 .2 .5-.1 .5-.1 .4 .1 .5 0 .5-.3 .4 0 .5 .3 .4-.4 .5 .2 .5 .3 .4-.4 .5-.1 .5 .2 .4 0 .5 0 .5-.1 .4 .3 .5-.1 .4-.2 .5 .1 .5-.3 .4 0 .5 .1 .5 0 .4-.1 .5 .1 .5-.6 .4 .4 .5-.1 .4-.6 .5 .2 .5-.2 .4-.5 .5 0 .5-.4 .4 .3 .5-.2 .4-.2 .5-.3 .5-.3 .4-.1 .5-.4 .5-.1 .4 .2 .5-.2 .5-.4 .4-.2 .5-.1 .4-.2 .5-.4 .5 .2 .4-.2 .5-.4 .5 .3 .4-.2 .5-.3 .4-.3 .5-.2 .5-.5 .4 .1 .5-.4 .5-1.5 .4-.8 .5-.9 .5-.8 .4-.4 .5-.8 .4-1.6 .5-.8 .5-.2 .4-1.2 .5-1.8 .5-2.4 .4-1 .5-2.7 .5-1.5 .4-2.1 .5-1.9 .4-1.6 .5-2.2 .5-1.1 .4-2.7 .5-2.9 .5-3.1 .4-2.6 .5-3.8 .5-2.4 .4-3 .5-2.6 .4-3 .5-2.6 .5-3.5 .4-.4 .5-4 .5-1.9 .4-2.4 .5-1.7 .4-2.8 .5-2.6 .5-3.4 .4-.9 .5-.9 .5-.8 .4-1.5 .5-1.3 .5-.7 .4-.8 .5-1.3 .4-1.1 .5-1.8 .5 1.7 .4-1.6 .5 .9 .5-.8 .4-.2 .5 .5 .4-.5 .5-.8 .5-.3 .4 .5 .5-.8 .5 .7 .4 .7 .5 .6 .5 .3 .4 2.5 .5-.3 .4 .5 .5 1.2 .5 .2 .4 1.3 .5 1.6 .5 .9 .4 1.6 .5 3.3 .5 1.6 .4 2.8 .5 1.5 .4 3.2 .5 1.8 .5 1.5 .4 1.6 .5 1.9 .5-.2 .4 1 .5 1.1 .5-.8 .4 .8 .5 .1 .4 .1 .5 1.6 .5 .6 .4 1.4 .5 1.5 .5 1.2 .4 1.8 .5 .9 .4 1.2 .5 1.3 .5 1.7 .4 1.5 .5 1.4 .5 2.1 .4 1.3 .5 1.2 .5 2.9 .4 .8 .5 1.1 .4 3.8 .5 3.5 .5 2.6 .4 3.2 .5 .7 .5 .7 .4 .3 .5 1.1 .4 .2 .5 0 .5-.9 .4-.7 .5-.4 .5-.5 .4-.7 .5-.1 .5-.1 .4 1 .5 1.2 .4 .5 .5 .3 .5 .4 .4 .4 .5 1.5 .5 .4 .4 .5 .5 .5 .5 .8 .4 .7 .5 .3 .4 .4 .5 .5 .5 .9 .4 1 .5 0 .5 .5 .4 .6 .5 .5 .5 .5 .4 1.1 .5 .7 .4 .5 .5 .1 .5 1 .4 .5 .5 .4 .5 .2 .4 .2 .5-.1 .4 .4 .5 .1 .5 0 .4 .1 .5 .8 .5-.2 .4 .1 .5 .2 .5 .3 .4 .2 .5 .1 .4 .4 .5-.1 .5 .5 .4 0 .5 .2 .5 .4 .4 0 .5-.2 .4 .8 .5 .2 .5 .1 .4 .3 .5 0 .5-.1 .4 0 .5 .3 .5 .3 .4 0 .5 .1 .4 0 .5 .3 .5 .4 .4 .1 .5-.1 .5 0 .4 .5 .5 .1 .5-.6 .4 .1 .5 .3 .4 0 .5 0 .5 .3 .4-.1 .5 .1 .5-.2 .4 .2 .5 .1 .5 0 .4 0 .5 .2 .4-.2 .5 0 .5 .1 .4-.3 .5 .7 .5-.2 .4 0 .5 .1 .4 0 .5-.2 .5 .1 .4 .2 .5-.3 .5 .3 .4 0 .5-.1 .5 .2 .4-.1 .5-.1 .4 .1 .5 .6 .5-.3 .4 .4" stroke="#0000ff"/>
<path clip-path="url(#cBR)" d="M559 534.9l .5-.4 .4 .5 .5 0 .5-.1 .4 0 .5 .1 .4 0 .5 .1 .5-.1 .4-.3 .5 .1 .5 .1 .4 0 .5-.1 .5-.1 .4 .1 .5 0 .4-.1 .5 .3 .5-.1 .4 0 .5 0 .5-.3 .4 .3 .5 0 .4 0 .5 0 .5-.2 .4 .5 .5-.2 .5-.6 .4 .7 .5-.5 .5 .4 .4 .1 .5-.8 .4 .9 .5-.1 .5-.7 .4 .5 .5-.4 .5 .6 .4-.9 .5 .7 .4-.2 .5 .2 .5-.2 .4 0 .5 .3 .5 .2 .4-.3 .5-.2 .5-.1 .4 .1 .5 0 .4 .3 .5 0 .5-.2 .4 .4 .5-.4 .5 .5 .4-.5 .5 .2 .5 .8 .4-.6 .5 0 .4-.4 .5 .2 .5-.4 .4 .2 .5 .2 .5 .1 .4 0 .5 0 .5 .1 .4-.1 .5-.2 .4-.2 .5-.1 .5 .5 .4-.3 .5 .3 .5 .2 .4 .4 .5-.3 .4-.5 .5-.1 .5-.3 .4 .2 .5 .6 .5-.1 .4-.5 .5 .4 .5 .4 .4-.2 .5-.5 .4 .4 .5 0 .5-.2 .4 .4 .5-.1 .5-.5 .4-.3 .5 .7 .4-.1 .5 .1 .5-.1 .4 0 .5 .3 .5-.6 .4 .4 .5-.2 .5 .3 .4-.5 .5 .5 .4-.2 .5 .1 .5-.4 .4 .1 .5 .4 .5 .4 .4-.1 .5-.3 .5 .1 .4-.6 .5-.2 .4 .4 .5 0 .5 .1 .4 .1 .5-.2 .5 .1 .4 .2 .5-.2 .5 .1 .4 .1 .5 0 .4 0 .5 0 .5 0 .4-.4 .5 0 .5 .5 .4-.2 .5 .3 .4-.1 .5-.5 .5 .5 .4 0 .5 0 .5-.1 .4-.1 .5 .1 .5-.3 .4 .2 .5 .1 .4-.2 .5 .1 .5 .3 .4-.1 .5-.4 .5 .2 .4 .1 .5 0 .4 0 .5-.2 .5 .3 .4 .4 .5-.2 .5 0 .4-.5 .5 .1 .5 .2 .4 .1 .5-.2 .4 0 .5-.4 .5 .3 .4 .3 .5-.2 .5 .3 .4 .2 .5-.3 .5 .1 .4 0 .5-.1 .4-.1 .5 .2 .5-.1 .4 .1 .5-.2 .5 .5 .4-.4 .5-.1 .5-.1 .4 .2 .5-.4 .4 .5 .5-.1 .5 .2 .4 0 .5 .1 .5-.1 .4 .1 .5-.1 .4-.4 .5 .1 .5 .1 .4-.3 .5 .3 .5 0 .4-.1 .5 .2 .5 .3 .4-.7 .5 .4 .4 0 .5-.2 .5-.5 .4 .7 .5-.2 .5 .2 .4 0 .5 0 .4-.2 .5-.1 .5 .2 .4-.3 .5 .3 .5 .5 .4-.6 .5-.1 .5 .4 .4 .2 .5-.6 .4-.3 .5 .8 .5-.4 .4 0 .5 .4 .5-.2 .4 .3 .5-.4 .5 .1 .4-.1 .5-.1 .4 .4 .5-.2 .5 0 .4-.3 .5 .7 .5-.2 .4 .1 .5-.1 .5-.3 .4 0 .5 .3 .4-.2 .5 .3 .5-.2 .4 .3 .5-.3 .5-.2 .4 0 .5 .2 .4-.2 .5 .3 .5-.1 .4-.2 .5 .1 .5 .4 .4-.3 .5-.2 .5 0 .4 0 .5 .3 .4 0 .5 0 .5 .3 .4 0 .5-.5 .5 .3 .4 .1 .5-.4 .4 .2 .5 .1 .5 .1 .4-.4 .5 .3 .5-.3 .4 .2 .5 0 .5 .1 .4 .2 .5-.5 .4 .2 .5 .1 .5 .1 .4 0 .5-.2" stroke="#0000ff"/>
<path clip-path="url(#cBR)" d="M456.1 534.9l .5-.1 .5 .2 .4 .1 .5 0 .5-.1 .4-.6 .5 .3 .4 .1 .5 0 .5-.3 .4 .2 .5-.1 .5 0 .4-.5 .5 .4 .5 0 .4-.3 .5 .2 .4-.1 .5-.3 .5 .3 .4-.2 .5-.2 .5 .1 .4-.1 .5 .2 .4-.3 .5 .2 .5-.3 .4-.2 .5 .2 .5-.2 .4-.3 .5 .3 .5 0 .4-.1 .5-.4 .4 0 .5 .1 .5-.5 .4 0 .5 .1 .5 0 .4 .1 .5-.1 .5-.4 .4 .3 .5-.2 .4-.1 .5-.3 .5 .2 .4-.1 .5-.2 .5 0 .4-.3 .5-.2 .5 .1 .4 0 .5 .1 .4-.6 .5 .2 .5-.2 .4-.3 .5-.1 .5-.5 .4 .3 .5-.3 .4-.2 .5-.3 .5 .3 .4-.6 .5-.1 .5-.2 .4-.1 .5 .1 .5-.4 .4-.3 .5 .3 .4-.5 .5 0 .5-.2 .4-.1 .5-.2 .5-.4 .4 0 .5-.3 .4 0 .5-.4 .5-.1 .4-.4 .5-.2 .5-.5 .4 .2 .5-.6 .5 0 .4-.3 .5 .1 .4-.5 .5-.3 .5 .1 .4-.6 .5-.2 .5-.2 .4-.6 .5 0 .5 0 .4-.4 .5-.1 .4-.4 .5-.1 .5-.1 .4-.2 .5-.9 .5-.1 .4-.6 .5 0 .5 0 .4-.4 .5-.8 .4-.1 .5-.1 .5-.4 .4-.2 .5-.5 .5-.7 .4-.4 .5-.3 .4-1 .5-.2 .5-.5 .4-.4 .5-.8 .5-.5 .4 .1 .5-.9 .5-.5 .4-.7 .5-.6 .4 1.6 .5 1.2 .5 1.3 .4 .8 .5 1.1 .5 1.5 .4-2.7 .5-1.2 .4-1.8 .5-2.4 .5-2.4 .4-1.8 .5-2 .5 .4 .4-.7 .5-.3 .5-.4 .4-.8 .5-.3 .4-.7 .5-.4 .5-.7 .4-.5 .5-.4 .5-.1 .4-.1 .5-.8 .5-.8 .4-1.5 .5-.9 .4-.5 .5-1.3 .5-.2 .4-1.2 .5-.5 .5-1.4 .4-.9 .5-.4 .5-1.5 .4-.9 .5-.8 .4 0 .5-1.2 .5-1.1 .4-1 .5-.6 .5-1.8 .4-.3 .5-.4 .4-1.2 .5-.5 .5-2.2 .4-.6 .5-.1 .5-.3 .4-1.1 .5-1.2 .5-.6 .4-1.2 .5 .3 .4-.8 .5-1.6 .5-.5 .4-1.7 .5 .1 .5-.5 .4-1.2 .5-.4 .4-1.2 .5-1.5 .5-.1 .4-.3 .5-1.5 .5-1.8 .4-.7 .5-1.7 .5-1.3 .4-.5 .5-1.9 .4-1.4 .5-.9 .5-1.2 .4-.7 .5-1.5 .5-1.7 .4-1.2 .5 .2 .5-1.5 .4 1.6 .5-1.2 .4 .3 .5-.1 .5-1.2 .4 .9 .5 .9 .5 .3 .4 .2 .5-.1 .5 .5 .4 .3 .5 .1 .4 0 .5 .7 .5-.6 .4 1.2 .5 1.5 .5 .4 .4 .4 .5 1.6 .4 .1 .5 .1 .5 1.8 .4-.7 .5 1.5 .5 .3 .4 1.4 .5 1.6 .5 .1 .4 0 .5 .8 .4 .7 .5 1.6 .5 .4 .4 .4" stroke="#bfbf00"/>
<path clip-path="url(#cBR)" d="M559 535.3l .5-.2 .4 0 .5-.2 .5-.3 .4 .2 .5 .1 .4-.2 .5-.2 .5 .1 .4 .2 .5 0 .5-.2 .4 .1 .5-.1 .5 .3 .4-.4 .5 .1 .4 0 .5-.1 .5-.1 .4 0 .5-.2 .5 0 .4-.5 .5 .6 .4-.2 .5 0 .5 .3 .4-.5 .5 0 .5 .2 .4-.2 .5 0 .5-.3 .4 .3 .5-.1 .4 .1 .5-.2 .5 .1 .4 .2 .5-.2 .5 .1 .4-.5 .5 .1 .4 0 .5-.1 .5 0 .4 .1 .5-.9 .5-.8 .4-.4 .5-.6 .5-1.1 .4-.5 .5-.9 .4-.5 .5-.5 .5-1 .4-.7 .5 0 .5-1.2 .4-.6 .5-.7 .5-.8 .4-1.1 .5-1.4 .4-1.5 .5-1.3 .5-.9 .4-1.9 .5-.9 .5-1.9 .4-1 .5-1.5 .5-1.2 .4-2 .5-2.9 .4-1.4 .5-2.1 .5-2.3 .4-1.9 .5-1.5 .5-2.1 .4-1.8 .5-3.2 .4-3.2 .5-3.6 .5-2.7 .4-3.2 .5-2.6 .5-3.3 .4-2.7 .5-1.3 .5-2.4 .4-2.3 .5-1.5 .4-2.5 .5-2.7 .5-1.3 .4-2.7 .5-1 .5-1.8 .4-1.8 .5-1.2 .4-1.7 .5-1.8 .5-1.4 .4-.8 .5-.4 .5-1.1 .4 .1 .5-.5 .5-1.4 .4-.8 .5 0 .4 .4 .5 .3 .5 .6 .4 1.3 .5 0 .5 .5 .4 1.2 .5-.7 .5 1 .4 1.6 .5 2.2 .4 2 .5 2.4 .5 2.2 .4 1.5 .5 2.8 .5 .6 .4 2.3 .5 2.7 .5 2.3 .4 2.3 .5 2.2 .4 2.8 .5 2.4 .5 1.4 .4 3 .5 2.1 .5 1 .4 1.9 .5 .8 .4 1.6 .5 1.4 .5 2 .4 1.1 .5 1.3 .5 .9 .4 1.8 .5 1.4 .5 1.1 .4 .9 .5 1.7 .4 1.4 .5 1.5 .5 1.6 .4 .9 .5 1.7 .5 1.7 .4 .8 .5 1.1 .4 1.7 .5 .5 .5 .6 .4 .6 .5 .9 .5 .8 .4 .5 .5 .9 .5 .5 .4 .8 .5 .6 .4 1 .5 .4 .5 .7 .4 .9 .5 .9 .5 .8 .4 .7 .5 .2 .5 .4 .4 .3 .5 .1 .4 .5 .5 .4 .5-.1 .4 .9 .5 .1 .5-.2 .4 .7 .5 .2 .5 .2 .4 .3 .5 .2 .4 .3 .5 .8 .5-.5 .4 .4 .5 .3 .5 .6 .4-.2 .5 .5 .4-.1 .5 .1 .5 .4 .4 .1 .5 .6 .5 .6 .4-.3 .5 0 .5 .3 .4 .5 .5-.2 .4 .4 .5 .1 .5 .3 .4 .1 .5 .5 .5 .1 .4-.1 .5 .1 .4 .6 .5 .2 .5-.1 .4 .3 .5-.1 .5 .5 .4 .5 .5 .1 .5-.3 .4 .3 .5 .1 .4 .2 .5 0 .5-.1 .4 .1 .5 0 .5 .2 .4-.1 .5-.1 .5 .1 .4 .2 .5 .1 .4 .1 .5-.1 .5 .3 .4-.3 .5 .1 .5 0 .4-.1 .5 0 .5 .2 .4 .3 .5 .2 .4-.2 .5 .2 .5 .1 .4 0 .5-.1 .5-.1 .4 .3 .5-.1 .4 0 .5-.1 .5 .6 .4-.2 .5 .2 .5-.1 .4 .2 .5 .1 .5-.5 .4 .4 .5 .1 .4-.2 .5 .3 .5 .3 .4-.4 .5 .3 .5-.2 .4 .2 .5-.1 .4 0 .5 .3 .5 .3 .4 0 .5-.2 .5 .1 .4-.1 .5 0 .5 .1 .4 .3 .5 0" stroke="#ff0000"/>
<path clip-path="url(#cBR)" d="M559 535.2l .5 0 .4-.1 .5 .1 .5-.1 .4-.2 .5 .2 .4-.2 .5-.2 .5 .3 .4 .1 .5-.2 .5 .1 .4-.1 .5-.4 .5 .4 .4-.2 .5-.1 .4-.1 .5-.1 .5 0 .4 .1 .5 0 .5 .1 .4-.4 .5 .1 .4-.3 .5 .2 .5 .3 .4-.5 .5 .2 .5-.1 .4-.1 .5 .2 .5-.3 .4 .1 .5-.3 .4 .3 .5 0 .5-.3 .4 .2 .5-.2 .5-.2 .4 .2 .5 .1 .4-.2 .5-.1 .5 0 .4 0 .5-.6 .5-.8 .4-.6 .5-.7 .5-1 .4-.3 .5-.7 .4-.8 .5-.5 .5-.5 .4-.7 .5-.7 .5-.9 .4-.7 .5-.7 .5-.7 .4-1.3 .5-1.5 .4-1.2 .5-1.4 .5-1.2 .4-1.6 .5-1.6 .5-.4 .4-1.8 .5-1.4 .5-1.1 .4-2.1 .5-1.9 .4-2.1 .5-1.9 .5-2.4 .4-1.6 .5-1.8 .5-2.5 .4-1.6 .5-3.3 .4-3.5 .5-2.1 .5-3.6 .4-3.1 .5-2.2 .5-4 .4-2.4 .5-1.4 .5-1.9 .4-2.4 .5-1.8 .4-2.2 .5-2 .5-1.9 .4-1.6 .5-2.7 .5-.7 .4-2 .5-1.8 .4-.7 .5-2.2 .5-1.6 .4-.5 .5-1.1 .5-.1 .4-.3 .5-1.1 .5-1 .4 .3 .5-.4 .4-.3 .5 .7 .5 1.3 .4 .7 .5 .4 .5 .1 .4 .2 .5 .1 .5 .4 .4 2.1 .5 2.5 .4 1.3 .5 2.2 .5 2.7 .4 .8 .5 2.9 .5 1.9 .4 2 .5 2.3 .5 1.9 .4 2.1 .5 2.9 .4 2 .5 1.8 .5 3.1 .4 1.8 .5 2.8 .5 .6 .4 1.7 .5 1.3 .4 1.8 .5 .6 .5 1.6 .4 .7 .5 2.2 .5 1.5 .4 1.1 .5 1.3 .5 1.3 .4 1.6 .5 1.5 .4 1 .5 1.3 .5 1.2 .4 1.3 .5 .6 .5 1.9 .4 1.5 .5 1.2 .4 1.3 .5 .9 .5 1.1 .4 .4 .5 .6 .5 .7 .4 .8 .5 .9 .5 .3 .4 .4 .5 1 .4 .4 .5 1.2 .5 .6 .4 .7 .5 .7 .5 .4 .4 .9 .5 .6 .5 .6 .4 0 .5 .4 .4 .2 .5-.1 .5 .6 .4 .2 .5 .3 .5 .5 .4 .2 .5-.1 .5 .4 .4 .3 .5 .4 .4 .2 .5 .4 .5-.2 .4 .6 .5 0 .5 .5 .4 .6 .5-.2 .4 .9 .5 0 .5 .2 .4 .3 .5-.2 .5 .2 .4 0 .5 .5 .5 .1 .4 .2 .5 .4 .4 .1 .5 .4 .5-.3 .4 .6 .5 0 .5 .3 .4-.1 .5 .1 .4 .5 .5-.2 .5 .4 .4 .3 .5 .2 .5 .1 .4-.1 .5 .7 .5 .3 .4-.1 .5-.1 .4 .2 .5 .1 .5 .1 .4-.3 .5 .2 .5 0 .4 .2 .5-.1 .5 .7 .4-.7 .5 .1 .4-.2 .5 .4 .5-.4 .4 .4 .5 .3 .5 0 .4 .1 .5-.3 .5 .1 .4 .2 .5-.1 .4 .2 .5 .1 .5 0 .4 .3 .5-.2 .5 .1 .4-.1 .5 .2 .4 .1 .5-.3 .5 .4 .4 0 .5 .1 .5-.2 .4 .1 .5 .2 .5 .2 .4-.1 .5-.3 .4 .4 .5 0 .5-.1 .4 .1 .5 .2 .5 .1 .4-.3 .5 .2 .4 .2 .5 0 .5 .2 .4 0 .5-.3 .5 .3 .4 .2 .5-.3 .5 .2 .4-.1 .5 .3" stroke="#ff0000"/>
<path clip-path="url(#cBR)" d="M559 534.8l .5-.2 .4-.1 .5-.3 .5 .4 .4-.6 .5 .2 .4 .4 .5-.8 .5 .1 .4-.2 .5 .5 .5-.2 .4-.5 .5 .5 .5 .3 .4-.6 .5 .1 .4 .1 .5-.2 .5-.5 .4 .4 .5-.5 .5 .3 .4-.2 .5 .2 .4-.1 .5 .2 .5-.7 .4-.2 .5 0 .5-.3 .4-.1 .5-.2 .5 .1 .4-.1 .5 0 .4-.1 .5-.3 .5-.6 .4-.2 .5 0 .5 .7 .4-.6 .5-.1 .4-.5 .5-.9 .5-.3 .4-.2 .5-.7 .5-.1 .4-1 .5-.3 .5-.8 .4 0 .5-.5 .4-.7 .5-.3 .5-.2 .4-.8 .5 .3 .5-1.1 .4 .1 .5-1.9 .5-1.7 .4-.9 .5-1.5 .4-1 .5-1.8 .5-1.6 .4-.6 .5-1.5 .5-1.1 .4-1.5 .5-.8 .5-2.4 .4-1.5 .5-.8 .4-1.1 .5-.9 .5-1 .4-2 .5-.4 .5-2 .4-1.1 .5-1.4 .4-.9 .5-2.2 .5-.7 .4-1.1 .5-1.4 .5-.1 .4-1 .5-1.1 .5-.8 .4-.8 .5-1 .4-.1 .5-.1 .5-.7 .4-1.2 .5-.1 .5-1.5 .4 .2 .5-1.1 .4-2 .5-1 .5-1.7 .4-2.5 .5-.6 .5-.8 .4-1.6 .5-.3 .5-2.8 .4-.7 .5-1.1 .4-1.5 .5-1.5 .5-.9 .4-.6 .5-2.4 .5-.2 .4-1.3 .5-2.7 .5-1.3 .4-1.4 .5-1 .4-1.2 .5 .3 .5-4.2 .4 1.4 .5-1.7 .5-.2 .4-.3 .5 .3 .5-2.5 .4-.1 .5-1.2 .4 .2 .5 .8 .5-2.5 .4-1.2 .5-.3 .5-.3 .4-1.3 .5 2.4 .4-1.9 .5-1.1 .5 1.1 .4 .1 .5-1 .5-.4 .4-.7 .5-.6 .5-.2 .4-.3 .5-1.4 .4 0 .5-.1 .5-.2 .4 .1 .5-2.5 .5 1.3 .4-1 .5-.2 .4-1.3 .5-2.2 .5 1.4 .4-.9 .5-.6 .5 .3 .4-1 .5-.1 .5 1 .4-3.9 .5 .8 .4-.8 .5 1.8 .5-3.7 .4 .9 .5 1.5 .5 .6 .4-1.8 .5-.8 .5-.4 .4-.6 .5 2.7 .4 .9 .5-3.6 .5-4.4 .4-1.4 .5-.9 .5-.3 .4-1.4 .5-1.8 .5-1.8 .4 1.8 .5-.9 .4-2.4 .5-.1 .5-2 .4 .2 .5-.2 .5 .1 .4 .3 .5-.9 .4 1.2 .5-1.3 .5 1.1 .4 1 .5 .8 .5-2.1 .4 1.8 .5 .2 .5 1 .4-1.7 .5 1.8 .4 2.4 .5-.5 .5 1.2 .4-.4 .5 .5 .5-.1 .4 1.6 .5 .7 .4 .2 .5-.1 .5 2.5 .4-2.5 .5 1.4 .5 2.4 .4-.2 .5-1.6 .5-.2 .4 2.9 .5 .4 .4 .3 .5 1.9 .5-.2 .4 1.1 .5 1.3 .5-1.2 .4 2.1 .5-1.2 .5 3.4 .4 1.2 .5 .3 .4-2 .5 3.2 .5-1.8 .4 3.8 .5-2.2 .5 2.5 .4 1 .5-1.6 .5 2.4 .4 1.8 .5 1 .4 .1 .5 .2 .5 1.9 .4-.1 .5 .5 .5 1.8 .4-2.6 .5 3 .4 3.6 .5-2.9 .5 1.1 .4 .5 .5 .7 .5 1.9 .4 .4 .5 .4 .5 .5 .4 1.6 .5 .1 .4 2.7 .5-1.2 .5 .1 .4 .9 .5 .1 .5 2.4 .4-.1 .5 0 .4 2 .5 .5 .5 1.1 .4-.1 .5 2.3 .5 1.7 .4-.8 .5 3.3 .5 2.1 .4-.3 .5 .5 .4 1.9 .5 .7 .5 .4" stroke="#bfbf00"/>
</g>
<g shape-rendering="crispEdges"><path d="M60.5,48.5H338.5V258.5H60.5ZM61,258.5h5M338,258.5h-6M61,240.5h5M338,240.5h-6M61,223.5h5M338,223.5h-6M61,205.5h5M338,205.5h-6M61,188.5h5M338,188.5h-6M61,170.5h5M338,170.5h-6M61,153.5h5M338,153.5h-6M61,135.5h5M338,135.5h-6M61,118.5h5M338,118.5h-6M61,100.5h5M338,100.5h-6M61,83.5h5M338,83.5h-6M61,65.5h5M338,65.5h-6M61,48.5h5M338,48.5h-6M106.5,258v-6M106.5,49v5M152.5,258v-6M152.5,49v5M199.5,258v-6M199.5,49v5M245.5,258v-6M245.5,49v5M291.5,258v-6M291.5,49v5" stroke="#000" fill="none"/><path d="M420.5,48.5H698.5V258.5H420.5ZM421,258.5h5M698,258.5h-6M421,240.5h5M698,240.5h-6M421,223.5h5M698,223.5h-6M421,205.5h5M698,205.5h-6M421,188.5h5M698,188.5h-6M421,170.5h5M698,170.5h-6M421,153.5h5M698,153.5h-6M421,135.5h5M698,135.5h-6M421,118.5h5M698,118.5h-6M421,100.5h5M698,100.5h-6M421,83.5h5M698,83.5h-6M421,65.5h5M698,65.5h-6M421,48.5h5M698,48.5h-6M466.5,258v-6M466.5,49v5M512.5,258v-6M512.5,49v5M559.5,258v-6M559.5,49v5M605.5,258v-6M605.5,49v5M651.5,258v-6M651.5,49v5" stroke="#000" fill="none"/><path d="M60.5,330.5H338.5V540.5H60.5ZM61,540.5h5M338,540.5h-6M61,522.5h5M338,522.5h-6M61,505.5h5M338,505.5h-6M61,487.5h5M338,487.5h-6M61,470.5h5M338,470.5h-6M61,452.5h5M338,452.5h-6M61,435.5h5M338,435.5h-6M61,417.5h5M338,417.5h-6M61,400.5h5M338,400.5h-6M61,382.5h5M338,382.5h-6M61,365.5h5M338,365.5h-6M61,347.5h5M338,347.5h-6M61,330.5h5M338,330.5h-6M106.5,540v-6M106.5,331v5M152.5,540v-6M152.5,331v5M199.5,540v-6M199.5,331v5M245.5,540v-6M245.5,331v5M291.5,540v-6M291.5,331v5" stroke="#000" fill="none"/><path d="M420.5,330.5H698.5V540.5H420.5ZM421,540.5h5M698,540.5h-6M421,522.5h5M698,522.5h-6M421,505.5h5M698,505.5h-6M421,487.5h5M698,487.5h-6M421,470.5h5M698,470.5h-6M421,452.5h5M698,452.5h-6M421,435.5h5M698,435.5h-6M421,417.5h5M698,417.5h-6M421,400.5h5M698,400.5h-6M421,382.5h5M698,382.5h-6M421,365.5h5M698,365.5h-6M421,347.5h5M698,347.5h-6M421,330.5h5M698,330.5h-6M466.5,540v-6M466.5,331v5M512.5,540v-6M512.5,331v5M559.5,540v-6M559.5,331v5M605.5,540v-6M605.5,331v5M651.5,540v-6M651.5,331v5" stroke="#000" fill="none"/></g>
<g opacity="0.995"><text x="59" y="263" text-anchor="end" fill="#000">0</text><text x="59" y="228" text-anchor="end" fill="#000">1</text><text x="59" y="193" text-anchor="end" fill="#000">2</text><text x="59" y="158" text-anchor="end" fill="#000">3</text><text x="59" y="123" text-anchor="end" fill="#000">4</text><text x="59" y="88" text-anchor="end" fill="#000">5</text><text x="59" y="53" text-anchor="end" fill="#000">6</text><text x="106.3" y="269" text-anchor="middle" fill="#000">400</text><text x="152.7" y="269" text-anchor="middle" fill="#000">500</text><text x="199.0" y="269" text-anchor="middle" fill="#000">600</text><text x="245.3" y="269" text-anchor="middle" fill="#000">700</text><text x="291.7" y="269" text-anchor="middle" fill="#000">800</text><text x="199" y="290" text-anchor="middle" fill="#000" textLength="165" lengthAdjust="spacing">Approximate Wavelength (nm)</text><text x="63" y="45">X<tspan dx="2.5">10</tspan><tspan font-size="7" dx="0.5" dy="-6">4</tspan></text><text x="419" y="263" text-anchor="end" fill="#000">0</text><text x="419" y="228" text-anchor="end" fill="#000">1</text><text x="419" y="193" text-anchor="end" fill="#000">2</text><text x="419" y="158" text-anchor="end" fill="#000">3</text><text x="419" y="123" text-anchor="end" fill="#000">4</text><text x="419" y="88" text-anchor="end" fill="#000">5</text><text x="419" y="53" text-anchor="end" fill="#000">6</text><text x="466.3" y="269" text-anchor="middle" fill="#000">400</text><text x="512.7" y="269" text-anchor="middle" fill="#000">500</text><text x="559.0" y="269" text-anchor="middle" fill="#000">600</text><text x="605.3" y="269" text-anchor="middle" fill="#000">700</text><text x="651.7" y="269" text-anchor="middle" fill="#000">800</text><text x="559" y="290" text-anchor="middle" fill="#000" textLength="165" lengthAdjust="spacing">Approximate Wavelength (nm)</text><text x="423" y="45">X<tspan dx="2.5">10</tspan><tspan font-size="7" dx="0.5" dy="-6">4</tspan></text><text x="59" y="545" text-anchor="end" fill="#000">0</text><text x="59" y="510" text-anchor="end" fill="#000">1</text><text x="59" y="475" text-anchor="end" fill="#000">2</text><text x="59" y="440" text-anchor="end" fill="#000">3</text><text x="59" y="405" text-anchor="end" fill="#000">4</text><text x="59" y="370" text-anchor="end" fill="#000">5</text><text x="59" y="335" text-anchor="end" fill="#000">6</text><text x="106.3" y="551" text-anchor="middle" fill="#000">400</text><text x="152.7" y="551" text-anchor="middle" fill="#000">500</text><text x="199.0" y="551" text-anchor="middle" fill="#000">600</text><text x="245.3" y="551" text-anchor="middle" fill="#000">700</text><text x="291.7" y="551" text-anchor="middle" fill="#000">800</text><text x="199" y="572" text-anchor="middle" fill="#000" textLength="165" lengthAdjust="spacing">Approximate Wavelength (nm)</text><text x="63" y="327">X<tspan dx="2.5">10</tspan><tspan font-size="7" dx="0.5" dy="-6">4</tspan></text><text x="419" y="545" text-anchor="end" fill="#000">0</text><text x="419" y="510" text-anchor="end" fill="#000">1</text><text x="419" y="475" text-anchor="end" fill="#000">2</text><text x="419" y="440" text-anchor="end" fill="#000">3</text><text x="419" y="405" text-anchor="end" fill="#000">4</text><text x="419" y="370" text-anchor="end" fill="#000">5</text><text x="419" y="335" text-anchor="end" fill="#000">6</text><text x="466.3" y="551" text-anchor="middle" fill="#000">400</text><text x="512.7" y="551" text-anchor="middle" fill="#000">500</text><text x="559.0" y="551" text-anchor="middle" fill="#000">600</text><text x="605.3" y="551" text-anchor="middle" fill="#000">700</text><text x="651.7" y="551" text-anchor="middle" fill="#000">800</text><text x="559" y="572" text-anchor="middle" fill="#000" textLength="165" lengthAdjust="spacing">Approximate Wavelength (nm)</text><text x="423" y="327">X<tspan dx="2.5">10</tspan><tspan font-size="7" dx="0.5" dy="-6">4</tspan></text><text x="41" y="153.0" text-anchor="middle" transform="rotate(-90 41 153.0)">Lu (ADU)</text><text x="401" y="153.0" text-anchor="middle" transform="rotate(-90 401 153.0)">Ed&#160; (ADU)</text><text x="41" y="435.0" text-anchor="middle" transform="rotate(-90 41 435.0)">Es&#160; (ADU)</text><text x="401" y="435.0" text-anchor="middle" transform="rotate(-90 401 435.0)" textLength="155" lengthAdjust="spacing">Internal Calib. Lamps (ADU)</text><text x="199" y="34" text-anchor="middle" fill="#000" textLength="96" lengthAdjust="spacing">2009030123.mby</text><text x="268.3" y="70.0" text-anchor="start" fill="#000">Top</text><text x="268.3" y="87.7" text-anchor="start" fill="#ff0000">Mid</text><text x="268.3" y="105.4" text-anchor="start" fill="#00b000">Bot</text><text x="268.3" y="123.1" text-anchor="start" fill="#0000ff" textLength="26" lengthAdjust="spacing">MOS</text><text x="628.3" y="70.0" text-anchor="start" fill="#000">Top</text><text x="628.3" y="87.7" text-anchor="start" fill="#ff0000">Mid</text><text x="628.3" y="105.4" text-anchor="start" fill="#00b000">Bot</text><text x="447" y="351.6" text-anchor="start" fill="#0000ff">Blue LED</text><text x="447" y="369.1" text-anchor="start" fill="#ff0000">Red LED</text><text x="447" y="386.6" text-anchor="start" fill="#bfbf00" textLength="70" lengthAdjust="spacing">Incand LAMP</text></g>
</svg></body></html>
